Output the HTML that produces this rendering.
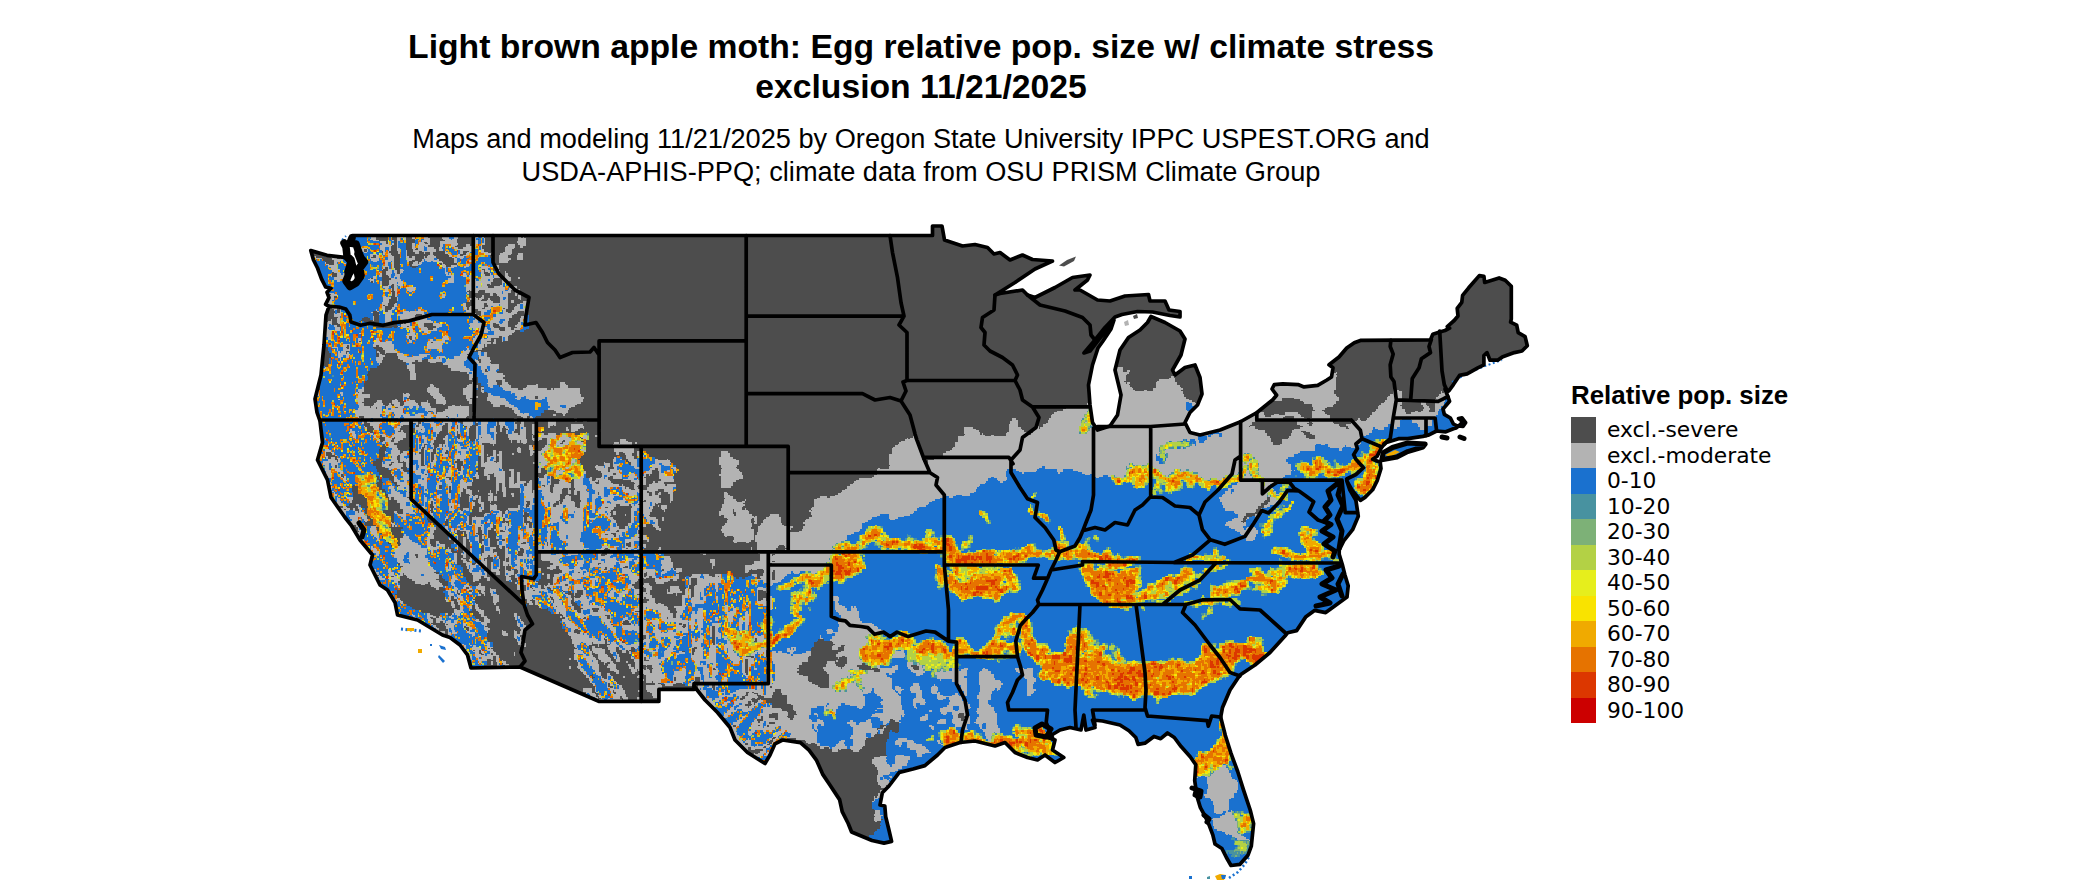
<!DOCTYPE html>
<html lang="en"><head><meta charset="utf-8"><title>Light brown apple moth: Egg relative pop. size</title>
<style>
html,body{margin:0;padding:0;background:#fff;}
body{width:2100px;height:892px;overflow:hidden;position:relative;font-family:"Liberation Sans",sans-serif;color:#000;}
.t{position:absolute;left:0;width:1842px;text-align:center;white-space:nowrap;}
.t1{font-weight:bold;font-size:33.7px;line-height:40px;top:26px;}
.t2{font-size:27.18px;line-height:33px;top:122px;}
.lg{position:absolute;left:1571px;top:381px;font-weight:bold;font-size:25.9px;line-height:28px;white-space:nowrap;}
.sw{position:absolute;left:1571px;width:25px;height:25.5px;}
.ll{position:absolute;left:1607px;font-family:"DejaVu Sans",sans-serif;font-size:21.8px;line-height:25.5px;white-space:nowrap;}
svg{position:absolute;left:0;top:0;}
</style></head><body>
<div class="t t1">Light brown apple moth: Egg relative pop. size w/ climate stress<br>exclusion 11/21/2025</div>
<div class="t t2">Maps and modeling 11/21/2025 by Oregon State University IPPC USPEST.ORG and<br>USDA-APHIS-PPQ; climate data from OSU PRISM Climate Group</div>
<div class="lg">Relative pop. size</div>

<div class="sw" style="top:417.0px;background:#4d4d4d"></div><div class="ll" style="top:417.0px">excl.-severe</div>
<div class="sw" style="top:442.5px;background:#b3b3b3"></div><div class="ll" style="top:442.5px">excl.-moderate</div>
<div class="sw" style="top:468.0px;background:#1a71cf"></div><div class="ll" style="top:468.0px">0-10</div>
<div class="sw" style="top:493.5px;background:#4892a0"></div><div class="ll" style="top:493.5px">10-20</div>
<div class="sw" style="top:519.0px;background:#7db177"></div><div class="ll" style="top:519.0px">20-30</div>
<div class="sw" style="top:544.5px;background:#b3d145"></div><div class="ll" style="top:544.5px">30-40</div>
<div class="sw" style="top:570.0px;background:#e6ee1c"></div><div class="ll" style="top:570.0px">40-50</div>
<div class="sw" style="top:595.5px;background:#f9e300"></div><div class="ll" style="top:595.5px">50-60</div>
<div class="sw" style="top:621.0px;background:#f0aa00"></div><div class="ll" style="top:621.0px">60-70</div>
<div class="sw" style="top:646.5px;background:#e67300"></div><div class="ll" style="top:646.5px">70-80</div>
<div class="sw" style="top:672.0px;background:#dc3700"></div><div class="ll" style="top:672.0px">80-90</div>
<div class="sw" style="top:697.5px;background:#cc0000"></div><div class="ll" style="top:697.5px">90-100</div>
<svg width="2100" height="892" viewBox="0 0 2100 892">
<defs><clipPath id="us"><path d="M352.5 235.5L932.5 235.5L932.5 226L942 226L944.5 240L962.5 246L975 244.5L987.5 247.5L994 254L1000 252.5L1010 260L1022.5 255L1032.5 259.5L1052.5 261L1035 269L1015 282.5L995 295L1000 293.5L1022.5 290L1027.5 295L1035 297.5L1055 287.5L1072.5 277.5L1090 275L1087.5 280L1075 290L1080 290L1097.5 300L1110 301L1125 296L1148.5 294.5L1150 301L1165 301L1169 310L1180 311.5L1180 317L1170 315.5L1152.5 312L1137.5 311.5L1122 314.5L1115 317L1105 327.5L1095 340L1084 353L1090 351L1100 338L1110 326L1114 320L1111 329L1103 341L1098 348L1092.5 365L1088.5 385L1090 405L1092.5 422.5L1097.5 430L1110 426L1117.5 415L1121 395L1115 370L1120 350L1128.5 337.5L1140 330L1147.5 322.5L1151 316.5L1165 322.5L1180 331L1185 339L1181 355L1172.5 370L1175 375L1185 367.5L1195 365L1200 377.5L1202 394L1197.5 405L1190 412.5L1185 422.5L1190 432.5L1200 435L1220 430L1240 422L1257 412.5L1272.8 399.8L1276.6 395.2L1272 389L1274.3 384.6L1282.7 383.8L1298 384.6L1304 386.9L1317.7 385.3L1326.9 380L1331.5 377L1333 367.8L1329 364.8L1339 357L1346.7 348L1354.3 342.7L1360.4 340.4L1430.5 339.8L1432.8 334.3L1439.7 332L1445 330.5L1449.6 328.2L1447.3 326.6L1454.2 320.5L1458 316L1457.2 308.4L1461.8 302.3L1462.6 295.4L1468.7 287.8L1479.3 275.6L1483.9 276.3L1484.7 282.4L1499.1 277.9L1505.2 280.2L1511.3 286.3L1511.3 319L1510.6 322.1L1516.7 325.1L1518.2 332.7L1525.1 336.6L1527.3 345.7L1522 351L1514.4 352.6L1502.2 357.1L1497.6 360.2L1490 360.2L1487 352.6L1483.9 355.6L1483.9 364.8L1477.8 367.8L1467.1 373.9L1459.5 375.4L1453.4 384.6L1448.8 391L1445 389L1448 396.8L1449.6 401.3L1443 409L1444.3 414.3L1450.4 418L1453.4 424L1456.5 425.7L1463 426.5L1465.6 422.7L1462 417.8L1458.5 418.5L1462 421L1461 424L1456 428L1453.4 428.8L1445.8 431.8L1436.6 431L1429 434.9L1422.9 436.4L1407.7 438.7L1398.5 438.7L1386.3 442.5L1381.8 447L1377.2 456.2L1372.6 459.3L1380.2 462.3L1381 468.4L1377.2 480.6L1372.6 489.8L1365 497.4L1360.4 500.4L1352.8 491.3L1346.7 480.6L1349.8 489.8L1355.9 500.4L1358.3 516.2L1352.6 529.7L1343.7 540.9L1339.2 549.9L1339.2 554.3L1342.6 565.6L1344.8 574.5L1348.2 585.7L1347 597L1334.7 605.9L1325.7 612.6L1314.5 610.4L1305.6 617.1L1296.6 630.6L1287.6 632.8L1285 636L1270 652.5L1255 665L1240 675L1230 690L1222.5 707.5L1220.7 717.2L1225.3 735.3L1231 753.4L1237.7 771.5L1243.4 789.6L1250.2 810L1253.6 823.6L1251.3 846.2L1247.9 855.3L1240 864.3L1231 865.5L1226.4 857.5L1221.9 848.5L1215 844L1212.8 834.9L1209.4 825.8L1206 817.9L1200.4 807.7L1197 796.4L1194.7 780.6L1195.8 764.7L1190.2 756.8L1181.1 746.6L1174.3 737.5L1167.5 733L1160.7 738.7L1154 736.4L1144.9 743.2L1138.1 744.3L1135.8 737.5L1129 730.8L1120 725L1102.5 721L1092.5 720L1095 727.5L1086 730L1083.8 715L1081 730L1070 727.5L1060 730L1047.5 737.5L1055 740L1052.5 750L1063.8 757.5L1055 762.5L1045 755L1037.5 760L1027.5 757.5L1015 752.5L1005 742.5L995 746L975 741L960 742.5L945 747.5L937.5 755L924.9 765.6L913 769L899.3 772.4L889 786L882.3 792.8L880 805L884.8 806L885.7 816.7L889 830.3L891.6 841.4L884 843.1L872 840.5L861.8 836.3L851.6 832L848.2 823.5L842.2 811.6L839.6 799.6L829.4 784.3L822.6 774.1L816.6 760.4L809 750.2L800.4 742.6L782.5 740L775 743.8L770 755L765 763.5L747.5 752.5L735 740L730 727.5L717.5 712.5L705 700L694 686L694 689.4L658.9 689.4L658.9 701.3L598.7 701.3L520 667L471 668L467.5 655L460 645L450 637.5L442.5 635L430 627.5L417.5 620L397.5 615L395 602.5L387.5 590L380 585L370 565L372.5 555L360 540L351 525L345 517.5L331 497.5L327.5 480L317.5 460L322.5 442.5L320 421L317 412.5L315 399L321 375L324 345L326 315L329 306.4L325.6 304.4L329 297.7L327 292.3L331 288.3L325.6 287L321.5 278.8L317.5 268L313.5 260L310.8 250.6L327 255.3L344.4 257.3L349 262L346 272L348 281L352 286L357 280L355 270L360 264L356 254L358 246L350 243Z"/></clipPath></defs>
<g clip-path="url(#us)">
<path d="M352.5 235.5L932.5 235.5L932.5 226L942 226L944.5 240L962.5 246L975 244.5L987.5 247.5L994 254L1000 252.5L1010 260L1022.5 255L1032.5 259.5L1052.5 261L1035 269L1015 282.5L995 295L1000 293.5L1022.5 290L1027.5 295L1035 297.5L1055 287.5L1072.5 277.5L1090 275L1087.5 280L1075 290L1080 290L1097.5 300L1110 301L1125 296L1148.5 294.5L1150 301L1165 301L1169 310L1180 311.5L1180 317L1170 315.5L1152.5 312L1137.5 311.5L1122 314.5L1115 317L1105 327.5L1095 340L1084 353L1090 351L1100 338L1110 326L1114 320L1111 329L1103 341L1098 348L1092.5 365L1088.5 385L1090 405L1092.5 422.5L1097.5 430L1110 426L1117.5 415L1121 395L1115 370L1120 350L1128.5 337.5L1140 330L1147.5 322.5L1151 316.5L1165 322.5L1180 331L1185 339L1181 355L1172.5 370L1175 375L1185 367.5L1195 365L1200 377.5L1202 394L1197.5 405L1190 412.5L1185 422.5L1190 432.5L1200 435L1220 430L1240 422L1257 412.5L1272.8 399.8L1276.6 395.2L1272 389L1274.3 384.6L1282.7 383.8L1298 384.6L1304 386.9L1317.7 385.3L1326.9 380L1331.5 377L1333 367.8L1329 364.8L1339 357L1346.7 348L1354.3 342.7L1360.4 340.4L1430.5 339.8L1432.8 334.3L1439.7 332L1445 330.5L1449.6 328.2L1447.3 326.6L1454.2 320.5L1458 316L1457.2 308.4L1461.8 302.3L1462.6 295.4L1468.7 287.8L1479.3 275.6L1483.9 276.3L1484.7 282.4L1499.1 277.9L1505.2 280.2L1511.3 286.3L1511.3 319L1510.6 322.1L1516.7 325.1L1518.2 332.7L1525.1 336.6L1527.3 345.7L1522 351L1514.4 352.6L1502.2 357.1L1497.6 360.2L1490 360.2L1487 352.6L1483.9 355.6L1483.9 364.8L1477.8 367.8L1467.1 373.9L1459.5 375.4L1453.4 384.6L1448.8 391L1445 389L1448 396.8L1449.6 401.3L1443 409L1444.3 414.3L1450.4 418L1453.4 424L1456.5 425.7L1463 426.5L1465.6 422.7L1462 417.8L1458.5 418.5L1462 421L1461 424L1456 428L1453.4 428.8L1445.8 431.8L1436.6 431L1429 434.9L1422.9 436.4L1407.7 438.7L1398.5 438.7L1386.3 442.5L1381.8 447L1377.2 456.2L1372.6 459.3L1380.2 462.3L1381 468.4L1377.2 480.6L1372.6 489.8L1365 497.4L1360.4 500.4L1352.8 491.3L1346.7 480.6L1349.8 489.8L1355.9 500.4L1358.3 516.2L1352.6 529.7L1343.7 540.9L1339.2 549.9L1339.2 554.3L1342.6 565.6L1344.8 574.5L1348.2 585.7L1347 597L1334.7 605.9L1325.7 612.6L1314.5 610.4L1305.6 617.1L1296.6 630.6L1287.6 632.8L1285 636L1270 652.5L1255 665L1240 675L1230 690L1222.5 707.5L1220.7 717.2L1225.3 735.3L1231 753.4L1237.7 771.5L1243.4 789.6L1250.2 810L1253.6 823.6L1251.3 846.2L1247.9 855.3L1240 864.3L1231 865.5L1226.4 857.5L1221.9 848.5L1215 844L1212.8 834.9L1209.4 825.8L1206 817.9L1200.4 807.7L1197 796.4L1194.7 780.6L1195.8 764.7L1190.2 756.8L1181.1 746.6L1174.3 737.5L1167.5 733L1160.7 738.7L1154 736.4L1144.9 743.2L1138.1 744.3L1135.8 737.5L1129 730.8L1120 725L1102.5 721L1092.5 720L1095 727.5L1086 730L1083.8 715L1081 730L1070 727.5L1060 730L1047.5 737.5L1055 740L1052.5 750L1063.8 757.5L1055 762.5L1045 755L1037.5 760L1027.5 757.5L1015 752.5L1005 742.5L995 746L975 741L960 742.5L945 747.5L937.5 755L924.9 765.6L913 769L899.3 772.4L889 786L882.3 792.8L880 805L884.8 806L885.7 816.7L889 830.3L891.6 841.4L884 843.1L872 840.5L861.8 836.3L851.6 832L848.2 823.5L842.2 811.6L839.6 799.6L829.4 784.3L822.6 774.1L816.6 760.4L809 750.2L800.4 742.6L782.5 740L775 743.8L770 755L765 763.5L747.5 752.5L735 740L730 727.5L717.5 712.5L705 700L694 686L694 689.4L658.9 689.4L658.9 701.3L598.7 701.3L520 667L471 668L467.5 655L460 645L450 637.5L442.5 635L430 627.5L417.5 620L397.5 615L395 602.5L387.5 590L380 585L370 565L372.5 555L360 540L351 525L345 517.5L331 497.5L327.5 480L317.5 460L322.5 442.5L320 421L317 412.5L315 399L321 375L324 345L326 315L329 306.4L325.6 304.4L329 297.7L327 292.3L331 288.3L325.6 287L321.5 278.8L317.5 268L313.5 260L310.8 250.6L327 255.3L344.4 257.3L349 262L346 272L348 281L352 286L357 280L355 270L360 264L356 254L358 246L350 243Z" fill="#4d4d4d"/>
<g fill="none" stroke-width="1.8" shape-rendering="crispEdges"><path stroke="#b3b3b3" d="M372.5 236.25h3m10.5 0h1.5m10.5 0h4.5m1.5 0h1.5m4.5 0h6m7.5 0h6m12 0h7.5m4.5 0h3m15 0h6m3 0h3m18 0h3M371 237.75h4.5m21 0h6m1.5 0h1.5m6 0h3m9 0h4.5m13.5 0h7.5m4.5 0h4.5m15 0h4.5m4.5 0h1.5m34.5 0h3m1.5 0h1.5M369.5 239.25h6m21 0h3m4.5 0h1.5m18 0h6m13.5 0h7.5m1.5 0h4.5m18 0h1.5m7.5 0h1.5m33 0h7.5M372.5 240.75h6m13.5 0h1.5m3 0h3m22.5 0h7.5m15 0h12m18 0h3m6 0h1.5m33 0h7.5M380 242.25h6m1.5 0h1.5m7.5 0h1.5m21 0h4.5m3 0h3m10.5 0h16.5m18 0h3m6 0h1.5m31.5 0h9M381.5 243.75h4.5m1.5 0h1.5m3 0h1.5m3 0h1.5m13.5 0h3m4.5 0h6m3 0h1.5m10.5 0h18m16.5 0h3m4.5 0h3m33 0h7.5M380 245.25h12m4.5 0h1.5m13.5 0h3m3 0h10.5m12 0h3m7.5 0h6m9 0h4.5m4.5 0h1.5m4.5 0h1.5m25.5 0h7.5m4.5 0h6M380 246.75h10.5m6 0h1.5m13.5 0h3m3 0h6m1.5 0h3m12 0h3m7.5 0h4.5m10.5 0h6m1.5 0h3m4.5 0h1.5m24 0h9m4.5 0h3M362 248.25h4.5m13.5 0h4.5m4.5 0h1.5m6 0h3m12 0h4.5m1.5 0h6m3 0h7.5m4.5 0h3m12 0h4.5m4.5 0h12m6 0h1.5m22.5 0h9M362 249.75h1.5m3 0h1.5m12 0h4.5m4.5 0h1.5m6 0h3m13.5 0h1.5m3 0h6m3 0h9m3 0h4.5m13.5 0h18m6 0h3m21 0h7.5M312.5 251.25h1.5m48 0h1.5m3 0h1.5m15 0h1.5m3 0h1.5m9 0h1.5m6 0h1.5m6 0h6m3 0h13.5m9 0h1.5m13.5 0h3m6 0h3m9 0h3m21 0h7.5M363.5 252.75h3m16.5 0h1.5m3 0h1.5m9 0h1.5m6 0h1.5m7.5 0h4.5m4.5 0h1.5m4.5 0h3m12 0h3m12 0h3m4.5 0h3m10.5 0h7.5m3 0h1.5m10.5 0h9M311 254.25h1.5m57 0h7.5m6 0h1.5m3 0h3m15 0h1.5m22.5 0h3m15 0h3m7.5 0h1.5m6 0h3m16.5 0h6m9 0h10.5m7.5 0h4.5M312.5 255.75h1.5m55.5 0h3m3 0h3m9 0h4.5m13.5 0h1.5m21 0h6m15 0h3m4.5 0h3m3 0h4.5m31.5 0h9m9 0h6M314 257.25h1.5m15 0h12m27 0h1.5m4.5 0h3m9 0h6m12 0h3m3 0h3m9 0h1.5m1.5 0h9m16.5 0h3m1.5 0h7.5m9 0h1.5m16.5 0h1.5m6 0h9m9 0h6M315.5 258.75h6m10.5 0h4.5m3 0h3m27 0h9m9 0h6m13.5 0h7.5m9 0h10.5m19.5 0h3m3 0h3m9 0h3m24 0h12m6 0h6M333.5 260.25h9m28.5 0h7.5m6 0h9m13.5 0h4.5m10.5 0h1.5m1.5 0h13.5m15 0h3m12 0h6m18 0h1.5m4.5 0h10.5M333.5 261.75h6m33 0h4.5m7.5 0h6m1.5 0h1.5m13.5 0h1.5m6 0h3m3 0h3m3 0h4.5m1.5 0h9m12 0h3m12 0h4.5m19.5 0h1.5m4.5 0h9M324.5 263.25h1.5m7.5 0h3m7.5 0h1.5m39 0h3m4.5 0h1.5m19.5 0h4.5m1.5 0h3m19.5 0h1.5m13.5 0h1.5M326 264.75h3m4.5 0h3m48 0h3m4.5 0h1.5m6 0h1.5m10.5 0h9m18 0h1.5m1.5 0h3m12 0h1.5m7.5 0h3M327.5 266.25h9m46.5 0h6m3 0h1.5m48 0h4.5m4.5 0h6m7.5 0h4.5m12 0h7.5m6 0h4.5M330.5 267.75h6m9 0h1.5m36 0h1.5m3 0h1.5m3 0h1.5m49.5 0h3m1.5 0h6m10.5 0h1.5m15 0h9m4.5 0h4.5M330.5 269.25h9m6 0h3m33 0h1.5m4.5 0h4.5m1.5 0h1.5m4.5 0h3m42 0h1.5m34.5 0h1.5m3 0h3M332 270.75h6m7.5 0h1.5m40.5 0h4.5m1.5 0h3m3 0h4.5m40.5 0h1.5m34.5 0h3m1.5 0h4.5m7.5 0h3M333.5 272.25h6m4.5 0h1.5m12 0h4.5m16.5 0h1.5m6 0h6m1.5 0h3m3 0h3m42 0h3m33 0h3m4.5 0h1.5m9 0h1.5m4.5 0h1.5M336.5 273.75h4.5m1.5 0h3m12 0h4.5m18 0h1.5m4.5 0h6m3 0h1.5m3 0h1.5m43.5 0h3m1.5 0h1.5m12 0h3m15 0h3m6 0h1.5m13.5 0h3M330.5 275.25h1.5m4.5 0h10.5m10.5 0h4.5m16.5 0h3m6 0h3m4.5 0h4.5m46.5 0h7.5m9 0h4.5m1.5 0h4.5m9 0h3m4.5 0h3m1.5 0h6m4.5 0h3M330.5 276.75h1.5m4.5 0h10.5m12 0h1.5m12 0h3m3 0h3m7.5 0h1.5m3 0h6m51 0h3m9 0h4.5m1.5 0h4.5m9 0h10.5m1.5 0h6m4.5 0h4.5M333.5 278.25h12m1.5 0h1.5m21 0h1.5m1.5 0h3m15 0h4.5m1.5 0h3m48 0h6m15 0h6m6 0h13.5m10.5 0h6m7.5 0h1.5M333.5 279.75h6m4.5 0h1.5m22.5 0h6m16.5 0h10.5m46.5 0h6m16.5 0h6m4.5 0h7.5m1.5 0h3m9 0h1.5m1.5 0h6M336.5 281.25h3m30 0h1.5m1.5 0h1.5m6 0h1.5m7.5 0h13.5m45 0h6m16.5 0h22.5m9 0h3m1.5 0h3M347 282.75h1.5m24 0h1.5m6 0h1.5m7.5 0h7.5m1.5 0h4.5m45 0h6m15 0h4.5m1.5 0h16.5m10.5 0h3M380 284.25h1.5m7.5 0h3m1.5 0h9m63 0h15m1.5 0h4.5m3 0h1.5m10.5 0h1.5M387.5 285.75h3m3 0h3m1.5 0h4.5m63 0h15m1.5 0h4.5m13.5 0h3M383 287.25h6m4.5 0h3m3 0h1.5m6 0h9m49.5 0h10.5m1.5 0h10.5m6 0h10.5m6 0h6M384.5 288.75h3m3 0h1.5m1.5 0h3m3 0h1.5m6 0h7.5m51 0h39m4.5 0h7.5M384.5 290.25h3m3 0h1.5m1.5 0h3m10.5 0h7.5m51 0h3m1.5 0h9m6 0h19.5m3 0h3m6 0h3M327.5 291.75h1.5m55.5 0h4.5m6 0h1.5m12 0h3m54 0h1.5m7.5 0h3m7.5 0h16.5m1.5 0h7.5m6 0h3M327.5 293.25h6m57 0h1.5m3 0h1.5m70.5 0h1.5m21 0h3m3 0h6m1.5 0h4.5m7.5 0h6M330.5 294.75h6m54 0h1.5m3 0h1.5m45 0h3m45 0h3m4.5 0h10.5m7.5 0h1.5m3 0h1.5M329 296.25h4.5m49.5 0h3m9 0h1.5m45 0h3m37.5 0h1.5m15 0h9m10.5 0h3M329 297.75h4.5m49.5 0h7.5m6 0h1.5m43.5 0h3m30 0h1.5m4.5 0h3m16.5 0h3m3 0h1.5m10.5 0h3M329 299.25h4.5m49.5 0h6m7.5 0h1.5m72 0h1.5m1.5 0h4.5m1.5 0h3m6 0h1.5m10.5 0h3m1.5 0h3m12 0h1.5M329 300.75h3m51 0h6m7.5 0h1.5m70.5 0h1.5m1.5 0h9m6 0h4.5m9 0h7.5m3 0h3M326 302.25h6m49.5 0h7.5m84 0h19.5m7.5 0h7.5m3 0h3m9 0h6M327.5 303.75h4.5m49.5 0h6m7.5 0h1.5m66 0h3m7.5 0h10.5m3 0h21m12 0h9M330.5 305.25h3m48 0h1.5m1.5 0h3m6 0h3m66 0h3m9 0h9m4.5 0h10.5m1.5 0h7.5m9 0h3m3 0h6M330.5 306.75h3m3 0h1.5m43.5 0h3m9 0h3m66 0h3m4.5 0h1.5m3 0h9m4.5 0h3m1.5 0h3m6 0h6m7.5 0h4.5m3 0h1.5M332 308.25h4.5m45 0h3m7.5 0h3m69 0h3m1.5 0h3m3 0h7.5m3 0h6m10.5 0h1.5m1.5 0h3m6 0h6m3 0h3M333.5 309.75h3m3 0h1.5m34.5 0h1.5m4.5 0h3m6 0h3m24 0h3m43.5 0h3m1.5 0h3m6 0h12m12 0h4.5m7.5 0h12M339.5 311.25h1.5m36 0h1.5m4.5 0h1.5m3 0h4.5m10.5 0h6m1.5 0h13.5m42 0h9m6 0h6m16.5 0h3m6 0h6m6 0h1.5M339.5 312.75h1.5m30 0h1.5m12 0h7.5m10.5 0h21m42 0h9m6 0h3m19.5 0h4.5m3 0h6m7.5 0h1.5M333.5 314.25h7.5m37.5 0h1.5m4.5 0h7.5m6 0h18m6 0h3m46.5 0h4.5m4.5 0h3m12 0h18m10.5 0h1.5M333.5 315.75h7.5m43.5 0h6m7.5 0h16.5m7.5 0h3m46.5 0h7.5m1.5 0h1.5m13.5 0h16.5m12 0h1.5M338 317.25h1.5m33 0h1.5m10.5 0h6m9 0h15m6 0h6m46.5 0h6m13.5 0h19.5m9 0h4.5M336.5 318.75h3m33 0h1.5m10.5 0h6m9 0h12m1.5 0h3m3 0h7.5m48 0h4.5m13.5 0h16.5m10.5 0h4.5M330.5 320.25h1.5m4.5 0h3m33 0h1.5m10.5 0h6m10.5 0h9m4.5 0h16.5m42 0h4.5m13.5 0h9m4.5 0h4.5m10.5 0h3M327.5 321.75h4.5m4.5 0h3m45 0h6m12 0h1.5m1.5 0h3m6 0h18m40.5 0h4.5m12 0h9m4.5 0h4.5m12 0h3M326 323.25h6m6 0h1.5m39 0h1.5m22.5 0h1.5m1.5 0h4.5m7.5 0h6m9 0h6m31.5 0h13.5m6 0h3m3 0h4.5m1.5 0h6m10.5 0h3M326 324.75h3m1.5 0h1.5m69 0h9m7.5 0h6m9 0h9m27 0h15m6 0h3m6 0h9m9 0h4.5M326 326.25h3m4.5 0h3m61.5 0h1.5m1.5 0h6m1.5 0h3m7.5 0h4.5m12 0h6m28.5 0h13.5m6 0h3m7.5 0h7.5m7.5 0h6M326 327.75h1.5m7.5 0h4.5m63 0h9m7.5 0h7.5m9 0h3m31.5 0h16.5m3 0h4.5m10.5 0h6m6 0h4.5M326 329.25h3m6 0h4.5m69 0h4.5m7.5 0h7.5m4.5 0h4.5m36 0h3m3 0h9m3 0h7.5m6 0h6m3 0h6M326 330.75h6m3 0h4.5m70.5 0h3m7.5 0h16.5m42 0h10.5m1.5 0h9m4.5 0h10.5M326 332.25h4.5m79.5 0h4.5m9 0h4.5m55.5 0h4.5m6 0h19.5M326 333.75h4.5m28.5 0h1.5m48 0h6m12 0h3m49.5 0h1.5m13.5 0h18M326 335.25h4.5m75 0h10.5m28.5 0h1.5m30 0h3m7.5 0h22.5M326 336.75h4.5m76.5 0h1.5m3 0h4.5m27 0h4.5m27 0h3m10.5 0h10.5m3 0h6M327.5 338.25h3m27 0h3m15 0h3m28.5 0h1.5m3 0h3m27 0h7.5m24 0h4.5m4.5 0h1.5m3 0h4.5m10.5 0h1.5m1.5 0h3M327.5 339.75h3m27 0h3m15 0h3m30 0h1.5m1.5 0h3m15 0h3m9 0h7.5m24 0h4.5m3 0h10.5m3 0h1.5m6 0h1.5m1.5 0h3M357.5 341.25h1.5m16.5 0h4.5m6 0h6m16.5 0h3m16.5 0h16.5m28.5 0h4.5m3 0h6m7.5 0h1.5m6 0h1.5M357.5 342.75h3m13.5 0h18m16.5 0h3m16.5 0h3m1.5 0h12m28.5 0h6m1.5 0h10.5m1.5 0h3M342.5 344.25h7.5m22.5 0h21m34.5 0h13.5m33 0h9m1.5 0h1.5M342.5 345.75h4.5m1.5 0h1.5m22.5 0h3m3 0h15m33 0h15m36 0h6m1.5 0h1.5M332 347.25h6m4.5 0h3m3 0h1.5m31.5 0h12m33 0h15m24 0h1.5m10.5 0h6M336.5 348.75h1.5m4.5 0h4.5m1.5 0h1.5m33 0h10.5m33 0h15m25.5 0h1.5m9 0h4.5M336.5 350.25h1.5m4.5 0h7.5m34.5 0h10.5m31.5 0h1.5m10.5 0h3m21 0h1.5m1.5 0h10.5M338 351.75h1.5m1.5 0h4.5m31.5 0h1.5m6 0h12m43.5 0h1.5m21 0h9m6 0h3M338 353.25h7.5m1.5 0h1.5m30 0h1.5m4.5 0h1.5m10.5 0h6m58.5 0h7.5m9 0h3m3 0h3M338 354.75h10.5m30 0h3m15 0h7.5m15 0h10.5m30 0h7.5m1.5 0h1.5m7.5 0h3m3 0h3M338 356.25h4.5m3 0h3m30 0h6m13.5 0h9m6 0h13.5m10.5 0h7.5m9 0h15m10.5 0h7.5M338 357.75h3m4.5 0h3m27 0h7.5m15 0h25.5m12 0h3m1.5 0h4.5m9 0h15m10.5 0h10.5M339.5 359.25h1.5m34.5 0h7.5m16.5 0h22.5m6 0h13.5m4.5 0h1.5m1.5 0h18m7.5 0h1.5m4.5 0h9M339.5 360.75h1.5m34.5 0h6m21 0h12m3 0h4.5m6 0h13.5m4.5 0h19.5m9 0h3m3 0h10.5M377 362.25h4.5m24 0h6m18 0h6m9 0h19.5m10.5 0h4.5m1.5 0h9M378.5 363.75h1.5m28.5 0h3m31.5 0h21m10.5 0h16.5M407 365.25h7.5m33 0h16.5m13.5 0h21M407 366.75h7.5m33 0h18m15 0h6m3 0h9M323 368.25h3m81 0h7.5m36 0h18m12 0h6m3 0h9m618 0h6M408.5 369.75h6m36 0h19.5m10.5 0h4.5m1.5 0h1.5m1.5 0h7.5m618 0h7.5M410 371.25h4.5m45 0h13.5m9 0h3m3 0h7.5m619.5 0h7.5m4.5 0h3M410 372.75h4.5m52.5 0h1.5m3 0h3m7.5 0h15m618 0h13.5m207 0h1.5M410 374.25h6m52.5 0h7.5m7.5 0h19.5m613.5 0h10.5m205.5 0h3M410 375.75h6m52.5 0h7.5m10.5 0h18m612 0h9m48 0h1.5m156 0h6M410 377.25h6m52.5 0h6m12 0h16.5m613.5 0h9m45 0h3m157.5 0h4.5M410 378.75h6m52.5 0h3m15 0h16.5m613.5 0h9m43.5 0h6m154.5 0h6M488 380.25h7.5m6 0h3m612 0h9m33 0h16.5m151.5 0h9M488 381.75h7.5m6 0h3m613.5 0h6m33 0h18m148.5 0h12M471.5 383.25h3m12 0h10.5m4.5 0h6m52.5 0h4.5m553.5 0h7.5m1.5 0h3m25.5 0h21m105 0h1.5m37.5 0h15M429.5 384.75h3m36 0h6m13.5 0h9m4.5 0h7.5m27 0h1.5m22.5 0h6m552 0h10.5m27 0h21m97.5 0h25.5m19.5 0h16.5M429.5 386.25h4.5m33 0h10.5m10.5 0h4.5m7.5 0h10.5m16.5 0h10.5m22.5 0h7.5m552 0h10.5m25.5 0h24m93 0h63M362 387.75h1.5m64.5 0h7.5m30 0h12m3 0h3m6 0h3m9 0h9m15 0h12m22.5 0h7.5m552 0h12m24 0h25.5m91.5 0h63M357.5 389.25h6m63 0h12m24 0h13.5m4.5 0h1.5m21 0h15m4.5 0h24m4.5 0h1.5m1.5 0h25.5m540 0h13.5m19.5 0h30m90 0h63m57 0h1.5M357.5 390.75h6m63 0h12m24 0h12m6 0h3m21 0h75m540 0h15m9 0h3m6 0h28.5m91.5 0h61.5m58.5 0h6m49.5 0h1.5M317 392.25h1.5m21 0h3m13.5 0h1.5m1.5 0h3m66 0h10.5m24 0h12m7.5 0h1.5m27 0h69m540 0h63m91.5 0h60m58.5 0h9m39 0h1.5m1.5 0h3M317 393.75h1.5m21 0h3m13.5 0h6m40.5 0h1.5m1.5 0h3m21 0h10.5m22.5 0h12m13.5 0h3m19.5 0h1.5m3 0h64.5m541.5 0h61.5m93 0h58.5m58.5 0h9m39 0h7.5M317 395.25h1.5m22.5 0h1.5m15 0h12m33 0h7.5m21 0h10.5m24 0h10.5m12 0h4.5m22.5 0h66m540 0h63m91.5 0h60m54 0h12m37.5 0h10.5M357.5 396.75h12m33 0h6m24 0h10.5m22.5 0h12m10.5 0h12m16.5 0h7.5m1.5 0h9m3 0h43.5m540 0h63m91.5 0h61.5m51 0h13.5m36 0h9M356 398.25h7.5m39 0h1.5m30 0h10.5m21 0h4.5m16.5 0h18m10.5 0h6m4.5 0h9m3 0h7.5m1.5 0h37.5m535.5 0h66m87 0h9m12 0h45m48 0h15m34.5 0h9M338 399.75h1.5m16.5 0h7.5m31.5 0h1.5m6 0h1.5m1.5 0h1.5m1.5 0h1.5m25.5 0h9m22.5 0h4.5m15 0h19.5m10.5 0h3m9 0h13.5m4.5 0h36m537 0h69m84 0h9m18 0h39m48 0h15m33 0h10.5M357.5 401.25h6m13.5 0h4.5m10.5 0h6m7.5 0h9m12 0h1.5m7.5 0h10.5m22.5 0h3m18 0h18m39 0h36m537 0h72m6 0h3m102 0h33m49.5 0h16.5m21 0h3m9 0h10.5M357.5 402.75h4.5m13.5 0h6m10.5 0h7.5m4.5 0h12m4.5 0h7.5m7.5 0h10.5m22.5 0h3m19.5 0h18m39 0h33m538.5 0h66m3 0h6m3 0h1.5m105 0h31.5m48 0h18m19.5 0h4.5m9 0h9M357.5 404.25h6m10.5 0h9m6 0h1.5m3 0h6m4.5 0h13.5m3 0h9m13.5 0h1.5m48 0h18m37.5 0h28.5m510 0h4.5m28.5 0h66m6 0h6m114 0h22.5m46.5 0h21m19.5 0h4.5m9 0h9M359 405.75h4.5m9 0h12m3 0h4.5m1.5 0h6m3 0h16.5m1.5 0h9m22.5 0h3m4.5 0h1.5m31.5 0h7.5m4.5 0h9m34.5 0h12m6 0h9m511.5 0h4.5m28.5 0h66m6 0h6m114 0h21m46.5 0h21m22.5 0h4.5m7.5 0h9M359 407.25h10.5m1.5 0h4.5m1.5 0h4.5m4.5 0h6m6 0h6m4.5 0h4.5m3 0h3m3 0h9m16.5 0h21m40.5 0h7.5m33 0h12m4.5 0h4.5m510 0h10.5m28.5 0h66m127.5 0h13.5m51 0h24m22.5 0h4.5m6 0h6M357.5 408.75h18m1.5 0h4.5m4.5 0h1.5m3 0h12m7.5 0h1.5m13.5 0h10.5m12 0h21m43.5 0h6m30 0h21m496.5 0h25.5m27 0h67.5m127.5 0h12m52.5 0h24m22.5 0h6m4.5 0h6M354.5 410.25h27m3 0h18m22.5 0h10.5m9 0h24m45 0h6m34.5 0h13.5m495 0h25.5m3 0h1.5m25.5 0h69m4.5 0h1.5m66 0h1.5m54 0h7.5m54 0h28.5m18 0h6m6 0h4.5M354.5 411.75h27m3 0h18m24 0h1.5m4.5 0h3m7.5 0h25.5m45 0h6m36 0h12m489 0h30m31.5 0h73.5m66 0h3m51 0h12m51 0h30m10.5 0h3m3 0h7.5m6 0h3M354.5 413.25h27m4.5 0h3m4.5 0h10.5m13.5 0h6m4.5 0h3m3 0h1.5m1.5 0h31.5m3 0h4.5m39 0h7.5m1.5 0h4.5m33 0h4.5m487.5 0h33m30 0h73.5m64.5 0h9m21 0h13.5m13.5 0h13.5m46.5 0h34.5m4.5 0h27M356 414.75h24m4.5 0h3m7.5 0h15m4.5 0h9m3 0h6m1.5 0h22.5m1.5 0h10.5m3 0h1.5m1.5 0h1.5m40.5 0h12m24 0h3m7.5 0h1.5m487.5 0h31.5m33 0h73.5m64.5 0h9m10.5 0h4.5m6 0h15m12 0h15m45 0h66M356 416.25h3m4.5 0h16.5m3 0h3m7.5 0h7.5m1.5 0h18m3 0h9m3 0h10.5m1.5 0h9m1.5 0h9m54 0h6m3 0h1.5m519 0h33m33 0h72m61.5 0h15m6 0h13.5m9 0h7.5m10.5 0h18m40.5 0h66M357.5 417.75h1.5m4.5 0h18m12 0h6m4.5 0h16.5m4.5 0h6m4.5 0h12m1.5 0h16.5m57 0h4.5m3 0h3m517.5 0h34.5m31.5 0h72m60 0h34.5m10.5 0h10.5m7.5 0h18m39 0h66M359 419.25h1.5m4.5 0h6m1.5 0h12m13.5 0h1.5m4.5 0h16.5m6 0h3m6 0h15m4.5 0h9m4.5 0h6m39 0h3m12 0h4.5m40.5 0h3m435 0h4.5m33 0h33m31.5 0h73.5m58.5 0h9m42 0h10.5m3 0h19.5m28.5 0h1.5m7.5 0h34.5m9 0h19.5M366.5 420.75h3m3 0h13.5m16.5 0h15m12 0h4.5m1.5 0h15m6 0h3m7.5 0h7.5m9 0h1.5m18 0h1.5m9 0h3m58.5 0h1.5m6 0h4.5m424.5 0h6m30 0h33m33 0h73.5m55.5 0h12m42 0h12m1.5 0h19.5m27 0h4.5m4.5 0h34.5m12 0h19.5M362 422.25h1.5m3 0h15m15 0h1.5m3 0h7.5m4.5 0h4.5m3 0h1.5m1.5 0h10.5m9 0h9m4.5 0h1.5m4.5 0h10.5m3 0h1.5m3 0h7.5m7.5 0h1.5m1.5 0h6m9 0h1.5m6 0h3m24 0h7.5m454.5 0h7.5m30 0h33m4.5 0h1.5m27 0h72m54 0h12m45 0h12m3 0h21m19.5 0h48m12 0h19.5M362 423.75h1.5m6 0h10.5m19.5 0h9m7.5 0h1.5m3 0h1.5m7.5 0h6m6 0h3m3 0h4.5m4.5 0h3m3 0h10.5m7.5 0h7.5m7.5 0h1.5m1.5 0h6m9 0h1.5m6 0h3m24 0h7.5m454.5 0h7.5m28.5 0h34.5m31.5 0h73.5m52.5 0h13.5m45 0h10.5m6 0h21m16.5 0h40.5m1.5 0h7.5m16.5 0h15M356 425.25h1.5m12 0h9m12 0h3m6 0h3m12 0h1.5m3 0h3m9 0h4.5m3 0h4.5m4.5 0h4.5m3 0h1.5m1.5 0h1.5m4.5 0h7.5m6 0h9m9 0h1.5m3 0h6m7.5 0h3m3 0h4.5m7.5 0h3m13.5 0h4.5m1.5 0h1.5m15 0h12m426 0h9m18 0h1.5m6 0h37.5m10.5 0h4.5m15 0h76.5m46.5 0h16.5m49.5 0h9m3 0h27m7.5 0h42m6 0h6m18 0h13.5M363.5 426.75h1.5m7.5 0h6m13.5 0h1.5m3 0h4.5m13.5 0h1.5m3 0h4.5m7.5 0h4.5m1.5 0h4.5m6 0h3m4.5 0h1.5m1.5 0h1.5m7.5 0h3m6 0h1.5m3 0h6m7.5 0h1.5m4.5 0h3m1.5 0h3m6 0h3m3 0h4.5m7.5 0h3m13.5 0h1.5m21 0h13.5m424.5 0h9m19.5 0h1.5m4.5 0h36m13.5 0h3m15 0h78m42 0h18m1.5 0h4.5m48 0h37.5m7.5 0h40.5m6 0h6m18 0h9M365 428.25h1.5m7.5 0h4.5m16.5 0h4.5m15 0h10.5m7.5 0h9m6 0h3m4.5 0h1.5m1.5 0h1.5m7.5 0h1.5m7.5 0h1.5m3 0h6m3 0h6m4.5 0h1.5m4.5 0h3m4.5 0h3m3 0h1.5m1.5 0h3m6 0h3m31.5 0h1.5m3 0h9m3 0h1.5m379.5 0h9m36 0h12m15 0h3m1.5 0h39m10.5 0h7.5m7.5 0h84m36 0h30m45 0h46.5m3 0h24m1.5 0h9m10.5 0h3m22.5 0h6M350 429.75h1.5m22.5 0h4.5m15 0h6m15 0h6m1.5 0h3m7.5 0h9m6 0h3m4.5 0h4.5m6 0h3m7.5 0h1.5m3 0h6m3 0h6m4.5 0h1.5m6 0h1.5m4.5 0h1.5m4.5 0h6m6 0h3m1.5 0h1.5m28.5 0h3m1.5 0h7.5m21 0h1.5m363 0h12m33 0h13.5m13.5 0h43.5m10.5 0h7.5m3 0h88.5m34.5 0h34.5m36 0h79.5m4.5 0h6m36 0h6M350 431.25h4.5m3 0h1.5m19.5 0h1.5m15 0h3m3 0h1.5m15 0h7.5m7.5 0h7.5m7.5 0h1.5m6 0h1.5m1.5 0h1.5m6 0h3m7.5 0h1.5m3 0h6m3 0h6m4.5 0h1.5m4.5 0h1.5m4.5 0h1.5m6 0h6m6 0h3m6 0h1.5m28.5 0h4.5m22.5 0h3m363 0h15m30 0h15m9 0h46.5m9 0h102m28.5 0h46.5m27 0h9m4.5 0h66M350 432.75h4.5m13.5 0h1.5m25.5 0h9m13.5 0h1.5m1.5 0h3m12 0h3m9 0h1.5m6 0h1.5m1.5 0h1.5m7.5 0h1.5m7.5 0h1.5m3 0h6m7.5 0h3m9 0h1.5m4.5 0h1.5m6 0h6m6 0h3m429 0h16.5m27 0h19.5m6 0h46.5m7.5 0h105m27 0h46.5m27 0h10.5m7.5 0h61.5M351.5 434.25h4.5m13.5 0h3m7.5 0h4.5m9 0h12m30 0h1.5m18 0h1.5m10.5 0h1.5m7.5 0h1.5m3 0h9m4.5 0h1.5m12 0h10.5m1.5 0h6m7.5 0h1.5m7.5 0h1.5m4.5 0h7.5m360 0h1.5m48 0h15m1.5 0h1.5m22.5 0h21m4.5 0h166.5m6 0h6m3 0h6m3 0h45m24 0h13.5m7.5 0h57M351.5 435.75h4.5m16.5 0h3m6 0h4.5m6 0h13.5m16.5 0h3m10.5 0h1.5m9 0h1.5m7.5 0h1.5m10.5 0h1.5m7.5 0h1.5m1.5 0h12m3 0h1.5m12 0h18m6 0h1.5m7.5 0h15m6 0h4.5m16.5 0h4.5m7.5 0h3m316.5 0h3m46.5 0h21m6 0h3m12 0h193.5m4.5 0h4.5m3 0h7.5m3 0h45m24 0h15m9 0h51M353 437.25h3m18 0h1.5m9 0h3m3 0h3m1.5 0h10.5m12 0h1.5m3 0h4.5m6 0h3m9 0h3m12 0h1.5m15 0h1.5m1.5 0h1.5m1.5 0h9m3 0h1.5m12 0h18m6 0h1.5m4.5 0h18m4.5 0h9m12 0h6m325.5 0h4.5m40.5 0h240m9 0h63m19.5 0h16.5m9 0h48M354.5 438.75h1.5m19.5 0h1.5m7.5 0h7.5m3 0h7.5m15 0h1.5m3 0h4.5m6 0h3m7.5 0h4.5m9 0h1.5m1.5 0h1.5m1.5 0h1.5m12 0h1.5m1.5 0h13.5m1.5 0h1.5m13.5 0h16.5m6 0h3m3 0h4.5m4.5 0h3m3 0h3m4.5 0h10.5m12 0h4.5m319.5 0h1.5m1.5 0h7.5m40.5 0h240m9 0h64.5m16.5 0h21m6 0h48M377 440.25h3m4.5 0h6m3 0h6m18 0h1.5m4.5 0h3m4.5 0h3m10.5 0h3m9 0h6m12 0h1.5m1.5 0h18m15 0h1.5m4.5 0h3m1.5 0h6m6 0h1.5m3 0h1.5m7.5 0h3m9 0h4.5m1.5 0h6m49.5 0h6m279 0h13.5m39 0h225m4.5 0h3m4.5 0h4.5m6 0h66m10.5 0h81M378.5 441.75h1.5m3 0h7.5m3 0h4.5m19.5 0h1.5m4.5 0h3m4.5 0h3m10.5 0h3m10.5 0h4.5m12 0h1.5m3 0h16.5m15 0h1.5m4.5 0h3m1.5 0h6m9 0h1.5m9 0h3m7.5 0h4.5m3 0h4.5m7.5 0h4.5m39 0h7.5m273 0h18m39 0h211.5m3 0h4.5m19.5 0h3m4.5 0h67.5m10.5 0h79.5M381.5 443.25h3m4.5 0h4.5m24 0h1.5m3 0h6m1.5 0h3m12 0h3m9 0h1.5m10.5 0h1.5m4.5 0h1.5m3 0h3m7.5 0h6m27 0h3m9 0h3m9 0h3m6 0h4.5m3 0h6m7.5 0h6m31.5 0h4.5m1.5 0h12m3 0h1.5m262.5 0h19.5m36 0h211.5m30 0h76.5m9 0h79.5M389 444.75h4.5m24 0h1.5m3 0h1.5m6 0h3m6 0h3m1.5 0h4.5m9 0h3m9 0h1.5m4.5 0h1.5m3 0h3m10.5 0h1.5m40.5 0h3m9 0h1.5m7.5 0h12m12 0h3m30 0h19.5m265.5 0h21m36 0h210m27 0h3m1.5 0h76.5m7.5 0h36m4.5 0h4.5m3 0h31.5M387.5 446.25h9m21 0h1.5m1.5 0h3m1.5 0h1.5m4.5 0h3m4.5 0h3m1.5 0h1.5m1.5 0h1.5m9 0h6m6 0h1.5m10.5 0h3m45 0h3m4.5 0h1.5m7.5 0h3m7.5 0h1.5m1.5 0h4.5m51 0h18m262.5 0h24m36 0h205.5m30 0h124.5m13.5 0h16.5m1.5 0h12M389 447.75h7.5m21 0h1.5m1.5 0h1.5m3 0h1.5m6 0h1.5m3 0h12m7.5 0h4.5m6 0h3m10.5 0h3m34.5 0h1.5m9 0h4.5m3 0h1.5m6 0h6m33 0h1.5m30 0h19.5m259.5 0h25.5m34.5 0h205.5m22.5 0h1.5m3 0h129m15 0h13.5m7.5 0h6M324.5 449.25h4.5m63 0h6m19.5 0h3m3 0h3m3 0h3m3 0h1.5m6 0h6m7.5 0h12m12 0h3m33 0h4.5m7.5 0h4.5m3 0h1.5m4.5 0h6m33 0h3m30 0h19.5m258 0h27m33 0h207m7.5 0h148.5m24 0h3M324.5 450.75h6m60 0h9m18 0h3m3 0h1.5m4.5 0h3m3 0h1.5m4.5 0h4.5m1.5 0h1.5m7.5 0h12m12 0h3m9 0h3m21 0h4.5m9 0h3m1.5 0h3m3 0h6m34.5 0h4.5m28.5 0h19.5m258 0h28.5m30 0h208.5m6 0h150m24 0h3M324.5 452.25h1.5m4.5 0h3m51 0h3m3 0h9m3 0h4.5m6 0h1.5m3 0h1.5m4.5 0h1.5m4.5 0h1.5m4.5 0h1.5m4.5 0h3m12 0h1.5m3 0h4.5m15 0h3m9 0h3m3 0h3m16.5 0h3m9 0h13.5m72 0h3m4.5 0h10.5m3 0h6m78 0h7.5m163.5 0h30m24 0h214.5m4.5 0h135M324.5 453.75h1.5m6 0h1.5m51 0h1.5m4.5 0h9m1.5 0h6m6 0h1.5m1.5 0h3m4.5 0h1.5m4.5 0h1.5m10.5 0h3m12 0h3m1.5 0h4.5m15 0h3m9 0h3m3 0h3m10.5 0h1.5m16.5 0h3m1.5 0h6m75 0h3m6 0h7.5m4.5 0h6m78 0h9m162 0h30m21 0h216m6 0h1.5m1.5 0h76.5m1.5 0h1.5m3 0h48M324.5 455.25h1.5m9 0h1.5m54 0h7.5m1.5 0h7.5m6 0h7.5m3 0h1.5m4.5 0h1.5m3 0h1.5m7.5 0h4.5m7.5 0h10.5m13.5 0h4.5m3 0h1.5m4.5 0h3m1.5 0h4.5m28.5 0h1.5m3 0h7.5m84 0h6m4.5 0h7.5m76.5 0h9m159 0h33m21 0h213m1.5 0h1.5m9 0h75m9 0h42M324.5 456.75h3m64.5 0h4.5m3 0h4.5m7.5 0h9m3 0h1.5m4.5 0h1.5m3 0h1.5m6 0h6m7.5 0h10.5m15 0h3m6 0h6m3 0h3m33 0h9m82.5 0h7.5m6 0h4.5m76.5 0h9m159 0h33m15 0h219m12 0h75m9 0h42M326 458.25h1.5m3 0h4.5m1.5 0h3m51 0h6m3 0h6m1.5 0h3m1.5 0h9m3 0h1.5m4.5 0h1.5m3 0h1.5m19.5 0h10.5m15 0h3m3 0h4.5m3 0h1.5m3 0h3m33 0h10.5m69 0h1.5m10.5 0h7.5m85.5 0h13.5m156 0h33m12 0h222m10.5 0h76.5m12 0h33M327.5 459.75h7.5m3 0h1.5m51 0h6m3 0h21m3 0h1.5m4.5 0h1.5m3 0h1.5m19.5 0h1.5m3 0h4.5m16.5 0h3m3 0h3m3 0h3m3 0h3m33 0h10.5m27 0h3m37.5 0h3m4.5 0h1.5m6 0h9m18 0h3m9 0h1.5m51 0h16.5m153 0h33m12 0h222m10.5 0h76.5m13.5 0h30M323 461.25h13.5m1.5 0h1.5m45 0h13.5m1.5 0h3m1.5 0h7.5m6 0h3m3 0h1.5m4.5 0h1.5m1.5 0h3m27 0h1.5m12 0h1.5m3 0h3m3 0h7.5m4.5 0h3m33 0h12m24 0h4.5m37.5 0h3m13.5 0h7.5m18 0h15m49.5 0h19.5m150 0h34.5m4.5 0h231m6 0h75m9 0h1.5m7.5 0h28.5M323 462.75h16.5m42 0h1.5m1.5 0h6m3 0h4.5m7.5 0h4.5m7.5 0h3m3 0h1.5m4.5 0h6m12 0h3m12 0h1.5m12 0h1.5m3 0h3m1.5 0h10.5m1.5 0h4.5m31.5 0h6m1.5 0h7.5m22.5 0h4.5m28.5 0h1.5m7.5 0h1.5m16.5 0h6m18 0h16.5m48 0h19.5m150 0h36m3 0h231m6 0h79.5m3 0h3m7.5 0h30M323 464.25h6m1.5 0h7.5m43.5 0h7.5m3 0h10.5m3 0h3m6 0h1.5m1.5 0h3m3 0h1.5m6 0h3m15 0h1.5m4.5 0h1.5m6 0h1.5m16.5 0h21m33 0h4.5m1.5 0h6m24 0h1.5m31.5 0h6m3 0h6m12 0h6m15 0h7.5m3 0h7.5m49.5 0h19.5m150 0h36m1.5 0h202.5m4.5 0h13.5m3 0h99m10.5 0h31.5M324.5 465.75h4.5m1.5 0h4.5m1.5 0h1.5m43.5 0h7.5m1.5 0h12m3 0h3m3 0h4.5m3 0h1.5m4.5 0h1.5m4.5 0h3m21 0h1.5m19.5 0h1.5m3 0h21m33 0h10.5m25.5 0h1.5m24 0h1.5m7.5 0h4.5m3 0h6m12 0h6m15 0h9m3 0h6m51 0h16.5m153 0h238.5m6 0h1.5m4.5 0h1.5m9 0h93m15 0h31.5M324.5 467.25h4.5m3 0h3m1.5 0h1.5m46.5 0h16.5m6 0h1.5m3 0h4.5m3 0h7.5m4.5 0h1.5m16.5 0h1.5m4.5 0h1.5m4.5 0h1.5m22.5 0h16.5m37.5 0h3m24 0h3m25.5 0h9m1.5 0h3m6 0h3m16.5 0h6m12 0h9m10.5 0h4.5m45 0h15m153 0h153m3 0h81m1.5 0h1.5m24 0h90m15 0h33M324.5 468.75h4.5m4.5 0h6m49.5 0h4.5m3 0h4.5m10.5 0h4.5m1.5 0h9m22.5 0h1.5m10.5 0h1.5m22.5 0h13.5m1.5 0h1.5m36 0h3m25.5 0h1.5m28.5 0h12m6 0h3m18 0h6m9 0h4.5m3 0h3m12 0h3m46.5 0h15m141 0h1.5m9 0h150m6 0h81m4.5 0h1.5m24 0h85.5m18 0h31.5M321.5 470.25h1.5m1.5 0h6m4.5 0h6m54 0h1.5m3 0h3m10.5 0h7.5m4.5 0h1.5m21 0h3m6 0h1.5m3 0h1.5m21 0h15m3 0h1.5m6 0h4.5m24 0h3m15 0h3m1.5 0h4.5m33 0h10.5m1.5 0h9m1.5 0h1.5m27 0h3m6 0h3m6 0h3m4.5 0h1.5m45 0h18m138 0h130.5m9 0h21m19.5 0h6m10.5 0h54m31.5 0h15m7.5 0h4.5m3 0h52.5m6 0h1.5m10.5 0h33m1.5 0h1.5M326 471.75h4.5m6 0h6m58.5 0h3m10.5 0h6m3 0h3m21 0h3m6 0h6m21 0h21m6 0h3m22.5 0h4.5m15 0h7.5m21 0h1.5m15 0h7.5m1.5 0h9m1.5 0h1.5m24 0h6m7.5 0h1.5m6 0h3m51 0h19.5m136.5 0h129m13.5 0h16.5m21 0h6m15 0h49.5m33 0h13.5m6 0h3m6 0h3m1.5 0h48m4.5 0h3m9 0h33M324.5 473.25h6m9 0h3m48 0h1.5m10.5 0h4.5m7.5 0h7.5m1.5 0h4.5m18 0h4.5m9 0h3m13.5 0h1.5m6 0h9m1.5 0h10.5m6 0h3m3 0h3m15 0h3m18 0h7.5m19.5 0h3m16.5 0h10.5m3 0h4.5m10.5 0h3m10.5 0h7.5m7.5 0h4.5m57 0h21m135 0h129m16.5 0h1.5m34.5 0h1.5m22.5 0h43.5m36 0h9m27 0h40.5m7.5 0h3m10.5 0h31.5M324.5 474.75h6m9 0h1.5m51 0h1.5m9 0h6m7.5 0h9m1.5 0h1.5m18 0h4.5m9 0h3m3 0h1.5m7.5 0h3m6 0h4.5m6 0h10.5m6 0h3m3 0h3m15 0h3m7.5 0h1.5m9 0h3m24 0h1.5m18 0h10.5m3 0h6m7.5 0h6m9 0h1.5m3 0h1.5m9 0h6m54 0h22.5m135 0h129m79.5 0h4.5m4.5 0h31.5m36 0h7.5m28.5 0h39m9 0h4.5m9 0h31.5M327.5 476.25h3m9 0h1.5m3 0h1.5m48 0h1.5m7.5 0h6m12 0h7.5m16.5 0h6m15 0h1.5m6 0h6m7.5 0h3m4.5 0h10.5m6 0h3m3 0h3m15 0h3m6 0h3m3 0h1.5m30 0h3m18 0h1.5m3 0h3m3 0h9m7.5 0h7.5m6 0h3m13.5 0h13.5m48 0h22.5m130.5 0h132m88.5 0h9m4.5 0h3m4.5 0h9m42 0h1.5m30 0h27m19.5 0h7.5m9 0h24M327.5 477.75h3m10.5 0h1.5m1.5 0h1.5m48 0h3m6 0h6m12 0h6m10.5 0h1.5m6 0h1.5m30 0h3m7.5 0h3m6 0h9m4.5 0h4.5m3 0h3m15 0h4.5m4.5 0h3m3 0h1.5m28.5 0h4.5m6 0h1.5m9 0h3m1.5 0h3m4.5 0h9m6 0h9m6 0h1.5m15 0h13.5m48 0h22.5m129 0h118.5m3 0h13.5m88.5 0h3m21 0h4.5m78 0h21m21 0h7.5m12 0h19.5M342.5 479.25h3m48 0h4.5m4.5 0h6m9 0h4.5m1.5 0h3m12 0h1.5m4.5 0h4.5m12 0h1.5m9 0h1.5m13.5 0h3m6 0h9m4.5 0h4.5m3 0h3m15 0h1.5m3 0h7.5m1.5 0h3m7.5 0h3m12 0h9m6 0h3m4.5 0h12m15 0h10.5m3 0h1.5m3 0h4.5m15 0h13.5m46.5 0h18m120 0h129m9 0h10.5m196.5 0h6m7.5 0h4.5m21 0h13.5m9 0h16.5M344 480.75h3m46.5 0h6m4.5 0h3m1.5 0h3m6 0h9m12 0h1.5m4.5 0h6m9 0h4.5m7.5 0h1.5m22.5 0h9m4.5 0h4.5m3 0h3m10.5 0h1.5m3 0h1.5m3 0h7.5m1.5 0h3m9 0h4.5m9 0h9m6 0h3m3 0h3m1.5 0h10.5m21 0h9m1.5 0h4.5m15 0h13.5m46.5 0h15m120 0h132m10.5 0h7.5m235.5 0h16.5m7.5 0h16.5M327.5 482.25h3m66 0h10.5m1.5 0h3m6 0h9m12 0h3m4.5 0h4.5m9 0h6m1.5 0h4.5m24 0h9m4.5 0h4.5m3 0h9m3 0h3m3 0h1.5m4.5 0h6m3 0h1.5m7.5 0h9m6 0h9m7.5 0h4.5m4.5 0h12m22.5 0h12m7.5 0h1.5m3 0h6m57 0h12m121.5 0h132m13.5 0h3m235.5 0h21m6 0h15M329 483.75h1.5m66 0h10.5m4.5 0h1.5m3 0h10.5m10.5 0h4.5m4.5 0h6m7.5 0h12m24 0h3m3 0h3m4.5 0h4.5m1.5 0h9m3 0h4.5m3 0h1.5m4.5 0h6m1.5 0h3m7.5 0h12m3 0h9m7.5 0h6m3 0h13.5m22.5 0h6m1.5 0h3m6 0h12m57 0h12m120 0h132m252 0h24m4.5 0h7.5M390.5 485.25h1.5m7.5 0h9m3 0h1.5m7.5 0h6m9 0h3m9 0h4.5m7.5 0h12m24 0h3m3 0h3m4.5 0h10.5m3 0h1.5m3 0h4.5m3 0h1.5m4.5 0h1.5m3 0h4.5m4.5 0h16.5m3 0h12m6 0h27m3 0h1.5m10.5 0h4.5m10.5 0h16.5m1.5 0h9m45 0h12m117 0h130.5m252 0h31.5m1.5 0h4.5M327.5 486.75h1.5m1.5 0h1.5m57 0h4.5m4.5 0h12m1.5 0h1.5m10.5 0h3m9 0h3m9 0h1.5m1.5 0h1.5m7.5 0h7.5m28.5 0h3m3 0h3m4.5 0h10.5m4.5 0h7.5m3 0h1.5m4.5 0h3m1.5 0h4.5m4.5 0h16.5m3 0h13.5m4.5 0h33m9 0h3m12 0h27m45 0h10.5m115.5 0h132m253.5 0h37.5M329 488.25h3m57 0h4.5m4.5 0h6m1.5 0h4.5m13.5 0h3m10.5 0h1.5m9 0h1.5m1.5 0h1.5m7.5 0h3m1.5 0h3m28.5 0h3m3 0h4.5m13.5 0h1.5m3 0h7.5m3 0h15m3 0h10.5m4.5 0h1.5m6 0h12m4.5 0h12m3 0h3m12 0h3m1.5 0h3m4.5 0h4.5m9 0h25.5m174 0h130.5m250.5 0h45M330.5 489.75h1.5m58.5 0h4.5m3 0h4.5m1.5 0h1.5m1.5 0h4.5m12 0h1.5m12 0h4.5m6 0h1.5m1.5 0h1.5m7.5 0h3m3 0h4.5m25.5 0h3m3 0h4.5m13.5 0h1.5m3 0h7.5m3 0h15m3 0h9m6 0h1.5m6 0h10.5m7.5 0h10.5m18 0h9m4.5 0h4.5m7.5 0h10.5m6 0h9m172.5 0h130.5m252 0h3m3 0h36m3 0h1.5M332 491.25h1.5m57 0h6m10.5 0h3m13.5 0h3m21 0h1.5m10.5 0h3m3 0h6m6 0h1.5m10.5 0h1.5m4.5 0h1.5m4.5 0h4.5m13.5 0h1.5m1.5 0h9m1.5 0h3m6 0h7.5m3 0h9m6 0h3m3 0h3m3 0h7.5m7.5 0h9m19.5 0h24m1.5 0h6m9 0h9m169.5 0h133.5m249 0h6m3 0h36m4.5 0h1.5M333.5 492.75h1.5m55.5 0h9m6 0h3m15 0h3m21 0h1.5m10.5 0h1.5m4.5 0h6m18 0h1.5m4.5 0h1.5m6 0h3m13.5 0h1.5m1.5 0h9m1.5 0h1.5m6 0h10.5m1.5 0h9m6 0h3m3 0h3m3 0h9m6 0h3m1.5 0h4.5m21 0h12m1.5 0h9m4.5 0h3m4.5 0h1.5m7.5 0h4.5m51 0h3m114 0h133.5m250.5 0h6m1.5 0h36M333.5 494.25h3m51 0h15m3 0h6m27 0h3m6 0h3m9 0h1.5m7.5 0h3m16.5 0h4.5m10.5 0h3m4.5 0h3m10.5 0h10.5m7.5 0h18m13.5 0h3m3 0h9m3 0h6m1.5 0h4.5m6 0h3m3 0h1.5m12 0h7.5m3 0h9m3 0h3m3 0h3m9 0h3m51 0h4.5m109.5 0h132m253.5 0h43.5m9 0h3M333.5 495.75h3m51 0h15m3 0h6m12 0h1.5m12 0h4.5m6 0h3m9 0h1.5m9 0h3m1.5 0h3m12 0h3m10.5 0h3m6 0h1.5m10.5 0h10.5m7.5 0h18m6 0h3m10.5 0h9m3 0h12m4.5 0h10.5m10.5 0h4.5m6 0h9m3 0h7.5m10.5 0h3m51 0h6m105 0h121.5m6 0h7.5m252 0h45m1.5 0h1.5M336.5 497.25h1.5m9 0h6m36 0h1.5m3 0h13.5m4.5 0h1.5m10.5 0h3m10.5 0h3m7.5 0h3m18 0h3m1.5 0h4.5m1.5 0h1.5m7.5 0h4.5m1.5 0h3m28.5 0h9m9 0h16.5m4.5 0h6m9 0h9m3 0h6m3 0h13.5m25.5 0h19.5m10.5 0h3m51 0h9m87 0h7.5m3 0h112.5m6 0h4.5m265.5 0h48m3 0h4.5M336.5 498.75h3m7.5 0h6m36 0h1.5m3 0h15m3 0h1.5m10.5 0h3m4.5 0h1.5m1.5 0h1.5m3 0h1.5m9 0h1.5m18 0h1.5m3 0h3m3 0h1.5m7.5 0h4.5m1.5 0h3m27 0h9m10.5 0h16.5m4.5 0h6m9 0h7.5m4.5 0h4.5m6 0h10.5m10.5 0h1.5m15 0h21m9 0h3m52.5 0h7.5m84 0h123m279 0h48m3 0h6M336.5 500.25h3m9 0h3m45 0h16.5m10.5 0h3m3 0h4.5m16.5 0h1.5m16.5 0h1.5m7.5 0h3m7.5 0h4.5m1.5 0h3m27 0h9m9 0h16.5m4.5 0h7.5m10.5 0h6m4.5 0h3m9 0h10.5m3 0h9m13.5 0h4.5m1.5 0h15m9 0h3m51 0h12m9 0h1.5m67.5 0h121.5m285 0h45m4.5 0h9M336.5 501.75h4.5m9 0h1.5m45 0h18m9 0h3m3 0h1.5m1.5 0h3m15 0h1.5m16.5 0h1.5m1.5 0h1.5m4.5 0h3m9 0h1.5m33 0h1.5m4.5 0h3m9 0h13.5m3 0h1.5m3 0h10.5m7.5 0h6m4.5 0h3m9 0h3m3 0h15m13.5 0h4.5m3 0h15m9 0h1.5m52.5 0h13.5m4.5 0h3m69 0h118.5m288 0h43.5m6 0h7.5M336.5 503.25h6m57 0h6m6 0h3m9 0h1.5m4.5 0h1.5m1.5 0h1.5m15 0h4.5m1.5 0h1.5m15 0h3m4.5 0h4.5m40.5 0h3m3 0h4.5m9 0h4.5m1.5 0h4.5m4.5 0h1.5m1.5 0h13.5m4.5 0h7.5m4.5 0h3m9 0h6m1.5 0h21m4.5 0h13.5m1.5 0h3m1.5 0h1.5m66 0h19.5m70.5 0h115.5m292.5 0h39m7.5 0h7.5M336.5 504.75h6m13.5 0h3m40.5 0h6m7.5 0h1.5m9 0h1.5m7.5 0h3m13.5 0h4.5m1.5 0h1.5m1.5 0h1.5m12 0h3m6 0h3m6 0h1.5m3 0h1.5m28.5 0h1.5m4.5 0h4.5m9 0h4.5m1.5 0h3m6 0h16.5m4.5 0h7.5m4.5 0h3m7.5 0h13.5m4.5 0h9m1.5 0h3m1.5 0h3m1.5 0h10.5m1.5 0h3m67.5 0h22.5m69 0h114m294 0h39m6 0h9M342.5 506.25h3m12 0h1.5m40.5 0h12m9 0h4.5m9 0h1.5m13.5 0h1.5m1.5 0h1.5m4.5 0h1.5m12 0h1.5m7.5 0h3m6 0h7.5m21 0h1.5m3 0h3m3 0h3m13.5 0h3m1.5 0h3m3 0h7.5m3 0h9m4.5 0h4.5m7.5 0h3m6 0h15m16.5 0h21m4.5 0h1.5m1.5 0h6m55.5 0h21m70.5 0h112.5m297 0h34.5m6 0h6M338 507.75h1.5m3 0h4.5m10.5 0h3m39 0h12m9 0h4.5m9 0h1.5m13.5 0h1.5m1.5 0h1.5m18 0h1.5m6 0h1.5m1.5 0h1.5m6 0h7.5m21 0h1.5m4.5 0h1.5m1.5 0h4.5m15 0h1.5m3 0h12m3 0h10.5m3 0h4.5m7.5 0h3m6 0h4.5m3 0h6m18 0h16.5m1.5 0h3m7.5 0h6m55.5 0h19.5m70.5 0h106.5m304.5 0h34.5m6 0h3M339.5 509.25h4.5m1.5 0h4.5m3 0h1.5m4.5 0h1.5m42 0h10.5m6 0h6m4.5 0h1.5m1.5 0h1.5m15 0h6m7.5 0h6m10.5 0h4.5m6 0h7.5m10.5 0h12m3 0h1.5m6 0h1.5m19.5 0h12m4.5 0h15m9 0h3m4.5 0h13.5m18 0h6m4.5 0h10.5m10.5 0h3m55.5 0h12m1.5 0h7.5m3 0h1.5m64.5 0h106.5m307.5 0h31.5m4.5 0h1.5M341 510.75h7.5m4.5 0h1.5m4.5 0h1.5m42 0h10.5m6 0h3m10.5 0h1.5m15 0h4.5m6 0h1.5m1.5 0h1.5m1.5 0h3m10.5 0h3m7.5 0h1.5m1.5 0h7.5m6 0h1.5m1.5 0h7.5m34.5 0h12m4.5 0h15m9 0h3m3 0h13.5m19.5 0h6m4.5 0h10.5m12 0h1.5m55.5 0h12m1.5 0h13.5m61.5 0h1.5m1.5 0h105m307.5 0h31.5M342.5 512.25h3m9 0h3m1.5 0h4.5m30 0h3m6 0h12m15 0h1.5m28.5 0h3m36 0h3m3 0h3m15 0h1.5m3 0h1.5m22.5 0h12m4.5 0h6m1.5 0h7.5m9 0h3m3 0h7.5m1.5 0h3m3 0h3m15 0h3m9 0h7.5m69 0h13.5m3 0h13.5m61.5 0h103.5m319.5 0h21m4.5 0h1.5M342.5 513.75h3m9 0h9m31.5 0h3m4.5 0h3m3 0h6m15 0h3m27 0h3m22.5 0h4.5m3 0h3m1.5 0h4.5m3 0h3m15 0h1.5m27 0h10.5m6 0h15m15 0h9m1.5 0h3m1.5 0h3m15 0h3m9 0h7.5m69 0h13.5m3 0h13.5m61.5 0h102m322.5 0h10.5m12 0h3M344 515.25h1.5m3 0h16.5m33 0h7.5m25.5 0h1.5m33 0h1.5m16.5 0h3m9 0h6m1.5 0h1.5m46.5 0h10.5m12 0h9m15 0h1.5m6 0h6m13.5 0h1.5m4.5 0h3m10.5 0h4.5m70.5 0h1.5m3 0h10.5m1.5 0h16.5m18 0h9m33 0h67.5m9 0h21m328.5 0h7.5m9 0h3M348.5 516.75h18m34.5 0h4.5m9 0h1.5m30 0h1.5m19.5 0h1.5m6 0h1.5m7.5 0h1.5m10.5 0h6m1.5 0h1.5m46.5 0h9m9 0h1.5m3 0h9m24 0h3m21 0h4.5m9 0h6m73.5 0h30m1.5 0h1.5m12 0h10.5m33 0h64.5m12 0h15m334.5 0h6m10.5 0h1.5M345.5 518.25h1.5m3 0h7.5m4.5 0h4.5m36 0h3m39 0h3m19.5 0h1.5m3 0h12m18 0h1.5m1.5 0h3m15 0h1.5m3 0h3m21 0h9m7.5 0h15m6 0h6m13.5 0h4.5m18 0h3m12 0h10.5m6 0h1.5m63 0h25.5m1.5 0h3m9 0h15m28.5 0h63m16.5 0h9m336 0h9m4.5 0h1.5M347 519.75h1.5m3 0h6m1.5 0h1.5m3 0h4.5m34.5 0h3m39 0h1.5m4.5 0h3m13.5 0h1.5m3 0h12m4.5 0h1.5m12 0h1.5m1.5 0h4.5m13.5 0h1.5m3 0h4.5m18 0h12m6 0h15m7.5 0h4.5m15 0h4.5m16.5 0h3m13.5 0h10.5m4.5 0h1.5m64.5 0h22.5m3 0h3m7.5 0h16.5m25.5 0h64.5m19.5 0h4.5m337.5 0h10.5m3 0h1.5M350 521.25h7.5m7.5 0h1.5m94.5 0h1.5m3 0h3m3 0h1.5m3 0h4.5m6 0h3m33 0h1.5m6 0h1.5m18 0h13.5m4.5 0h15m28.5 0h4.5m15 0h3m13.5 0h3m3 0h4.5m69 0h24m4.5 0h1.5m6 0h18m24 0h63m360 0h13.5M350 522.75h7.5m33 0h1.5m67.5 0h1.5m4.5 0h3m3 0h1.5m3 0h4.5m6 0h3m15 0h1.5m16.5 0h1.5m25.5 0h7.5m1.5 0h6m3 0h15m7.5 0h1.5m19.5 0h4.5m15 0h3m15 0h1.5m4.5 0h3m69 0h24m3 0h3m6 0h18m22.5 0h61.5m361.5 0h16.5m1.5 0h1.5M350 524.25h7.5m34.5 0h3m63 0h1.5m7.5 0h1.5m3 0h1.5m1.5 0h9m6 0h3m1.5 0h1.5m6 0h6m1.5 0h1.5m13.5 0h1.5m1.5 0h1.5m22.5 0h1.5m6 0h24m28.5 0h1.5m3 0h1.5m10.5 0h4.5m10.5 0h3m6 0h6m67.5 0h27m9 0h21m22.5 0h57m363 0h21M356 525.75h1.5m34.5 0h1.5m1.5 0h1.5m33 0h1.5m25.5 0h3m9 0h3m3 0h6m1.5 0h1.5m6 0h3m9 0h6m1.5 0h3m12 0h4.5m3 0h1.5m25.5 0h24m27 0h3m3 0h1.5m10.5 0h3m9 0h6m7.5 0h4.5m66 0h28.5m7.5 0h24m21 0h57m363 0h21M357.5 527.25h1.5m12 0h4.5m54 0h6m9 0h3m27 0h3m3 0h3m4.5 0h4.5m6 0h6m1.5 0h4.5m15 0h3m3 0h1.5m15 0h1.5m9 0h24m27 0h9m6 0h3m10.5 0h1.5m15 0h4.5m63 0h28.5m7.5 0h34.5m10.5 0h58.5m367.5 0h13.5m4.5 0h7.5M357.5 528.75h1.5m10.5 0h6m54 0h6m9 0h3m3 0h3m3 0h3m4.5 0h1.5m9 0h3m3 0h3m3 0h4.5m7.5 0h6m1.5 0h3m16.5 0h7.5m13.5 0h3m9 0h24m13.5 0h1.5m12 0h9m6 0h3m10.5 0h1.5m16.5 0h4.5m61.5 0h28.5m7.5 0h33m12 0h58.5m369 0h13.5m1.5 0h10.5M357.5 530.25h3m9 0h7.5m52.5 0h4.5m9 0h1.5m1.5 0h3m1.5 0h3m1.5 0h1.5m3 0h10.5m4.5 0h3m4.5 0h1.5m3 0h1.5m6 0h1.5m3 0h1.5m3 0h4.5m10.5 0h3m4.5 0h7.5m13.5 0h3m1.5 0h1.5m6 0h24m27 0h7.5m1.5 0h9m9 0h1.5m21 0h1.5m60 0h33m4.5 0h31.5m12 0h58.5m375 0h22.5M354.5 531.75h1.5m3 0h1.5m10.5 0h6m52.5 0h4.5m13.5 0h1.5m1.5 0h3m1.5 0h1.5m9 0h4.5m4.5 0h3m4.5 0h1.5m3 0h1.5m10.5 0h1.5m4.5 0h4.5m9 0h4.5m3 0h6m16.5 0h1.5m9 0h24m22.5 0h10.5m3 0h7.5m10.5 0h1.5m84 0h31.5m4.5 0h31.5m9 0h60m378 0h21M356 533.25h4.5m10.5 0h6m52.5 0h3m13.5 0h1.5m6 0h1.5m7.5 0h1.5m1.5 0h3m6 0h1.5m6 0h1.5m3 0h1.5m10.5 0h10.5m9 0h4.5m6 0h3m15 0h3m9 0h22.5m21 0h9m4.5 0h6m15 0h1.5m85.5 0h30m3 0h97.5m385.5 0h18M356 534.75h4.5m12 0h4.5m27 0h1.5m24 0h3m34.5 0h1.5m6 0h3m9 0h1.5m10.5 0h10.5m10.5 0h3m6 0h3m15 0h3m9 0h22.5m15 0h1.5m3 0h4.5m3 0h4.5m3 0h6m15 0h3m84 0h30m3 0h94.5m390 0h15M359 536.25h1.5m13.5 0h4.5m24 0h6m19.5 0h6m16.5 0h1.5m4.5 0h1.5m9 0h1.5m9 0h1.5m3 0h1.5m3 0h1.5m7.5 0h1.5m4.5 0h6m12 0h3m9 0h3m12 0h3m9 0h7.5m1.5 0h13.5m19.5 0h13.5m1.5 0h3m1.5 0h3m12 0h4.5m3 0h3m79.5 0h1.5m6 0h21m1.5 0h91.5m397.5 0h12M360.5 537.75h1.5m13.5 0h3m24 0h6m18 0h7.5m15 0h3m4.5 0h1.5m4.5 0h3m1.5 0h1.5m6 0h4.5m3 0h1.5m3 0h1.5m7.5 0h3m3 0h4.5m13.5 0h3m10.5 0h3m10.5 0h3m9 0h7.5m1.5 0h13.5m19.5 0h18m13.5 0h6m4.5 0h4.5m87 0h19.5m1.5 0h91.5m399 0h9M360.5 539.25h3m13.5 0h1.5m21 0h10.5m16.5 0h3m19.5 0h1.5m6 0h1.5m4.5 0h3m9 0h4.5m9 0h1.5m15 0h1.5m13.5 0h7.5m6 0h3m10.5 0h3m10.5 0h19.5m28.5 0h3m13.5 0h15m3 0h6m85.5 0h19.5m1.5 0h91.5m399 0h9M360.5 540.75h3m13.5 0h1.5m21 0h12m15 0h3m27 0h1.5m4.5 0h3m3 0h1.5m4.5 0h4.5m9 0h1.5m9 0h3m3 0h1.5m13.5 0h7.5m7.5 0h1.5m10.5 0h3m12 0h18m45 0h18m4.5 0h1.5m84 0h18m4.5 0h90m400.5 0h7.5M399.5 542.25h15m12 0h3m6 0h3m15 0h3m6 0h3m4.5 0h1.5m6 0h1.5m3 0h1.5m4.5 0h1.5m7.5 0h1.5m3 0h4.5m10.5 0h6m3 0h1.5m7.5 0h3m7.5 0h1.5m1.5 0h1.5m16.5 0h16.5m42 0h4.5m1.5 0h3m6 0h3m91.5 0h3m9 0h3m7.5 0h84M401 543.75h16.5m9 0h3m6 0h4.5m13.5 0h3m6 0h3m4.5 0h1.5m7.5 0h1.5m1.5 0h1.5m4.5 0h1.5m7.5 0h1.5m3 0h6m10.5 0h3m4.5 0h3m6 0h3m7.5 0h1.5m1.5 0h1.5m18 0h15m42 0h1.5m4.5 0h3m6 0h3m114 0h79.5M399.5 545.25h21m6 0h4.5m4.5 0h1.5m1.5 0h6m12 0h1.5m4.5 0h3m15 0h1.5m1.5 0h1.5m3 0h1.5m9 0h7.5m12 0h10.5m6 0h4.5m1.5 0h1.5m1.5 0h3m1.5 0h3m16.5 0h15m21 0h3m18 0h1.5m4.5 0h3m6 0h6m111 0h22.5m4.5 0h51M371 546.75h1.5m25.5 0h22.5m6 0h6m3 0h3m1.5 0h4.5m12 0h1.5m4.5 0h3m18 0h6m9 0h3m3 0h1.5m13.5 0h10.5m4.5 0h7.5m1.5 0h7.5m15 0h18m18 0h6m6 0h4.5m6 0h3m3 0h3m4.5 0h7.5m111 0h21m7.5 0h46.5M371 548.25h4.5m21 0h31.5m1.5 0h9m9 0h1.5m7.5 0h1.5m4.5 0h3m4.5 0h1.5m12 0h1.5m4.5 0h6m4.5 0h1.5m3 0h3m10.5 0h1.5m3 0h6m6 0h7.5m1.5 0h7.5m7.5 0h3m4.5 0h22.5m12 0h4.5m3 0h7.5m6 0h4.5m1.5 0h6m3 0h4.5m18 0h1.5m90 0h1.5m4.5 0h19.5m10.5 0h46.5M371 549.75h6m18 0h31.5m3 0h3m1.5 0h3m9 0h4.5m6 0h1.5m4.5 0h3m4.5 0h1.5m12 0h1.5m4.5 0h3m12 0h3m10.5 0h1.5m4.5 0h4.5m6 0h1.5m1.5 0h13.5m7.5 0h3m4.5 0h16.5m15 0h6m6 0h6m6 0h9m3 0h3m3 0h1.5m16.5 0h3m90 0h1.5m4.5 0h19.5m9 0h46.5m1.5 0h1.5M372.5 551.25h6m15 0h33m4.5 0h1.5m15 0h3m12 0h3m4.5 0h1.5m12 0h9m12 0h3m9 0h1.5m6 0h1.5m15 0h10.5m7.5 0h3m6 0h13.5m16.5 0h6m6 0h6m7.5 0h6m4.5 0h4.5m18 0h3m40.5 0h6m45 0h1.5m6 0h18m4.5 0h51M372.5 552.75h6m16.5 0h12m1.5 0h18m4.5 0h1.5m16.5 0h3m12 0h1.5m4.5 0h1.5m12 0h9m1.5 0h3m7.5 0h3m9 0h1.5m6 0h1.5m15 0h10.5m7.5 0h3m6 0h12m18 0h4.5m6 0h7.5m4.5 0h1.5m12 0h4.5m24 0h1.5m36 0h6m52.5 0h16.5m6 0h51M375.5 554.25h3m13.5 0h13.5m3 0h6m3 0h9m27 0h3m4.5 0h4.5m4.5 0h1.5m7.5 0h1.5m1.5 0h15m7.5 0h6m12 0h4.5m1.5 0h3m9 0h10.5m4.5 0h6m6 0h10.5m19.5 0h3m6 0h6m21 0h4.5m21 0h1.5m42 0h3m54 0h12m3 0h57M375.5 555.75h3m15 0h10.5m4.5 0h6m3 0h7.5m28.5 0h3m6 0h3m4.5 0h1.5m7.5 0h1.5m1.5 0h6m1.5 0h4.5m1.5 0h1.5m7.5 0h6m6 0h1.5m4.5 0h4.5m1.5 0h3m9 0h21m4.5 0h4.5m27 0h3m4.5 0h6m22.5 0h4.5m121.5 0h12m1.5 0h57M380 557.25h1.5m12 0h10.5m4.5 0h7.5m1.5 0h7.5m28.5 0h3m6 0h3m4.5 0h1.5m9 0h6m6 0h1.5m3 0h1.5m6 0h3m1.5 0h1.5m6 0h15m9 0h21m36 0h12m3 0h3m48 0h6m90 0h70.5M396.5 558.75h7.5m3 0h21m25.5 0h3m4.5 0h1.5m7.5 0h1.5m9 0h3m9 0h1.5m3 0h1.5m6 0h1.5m3 0h1.5m6 0h9m1.5 0h4.5m9 0h19.5m37.5 0h18m12 0h6m3 0h3m24 0h7.5m88.5 0h69M396.5 560.25h6m6 0h21m22.5 0h4.5m6 0h3m3 0h3m9 0h3m1.5 0h1.5m12 0h1.5m4.5 0h1.5m3 0h1.5m4.5 0h4.5m3 0h1.5m4.5 0h1.5m12 0h16.5m18 0h7.5m7.5 0h9m4.5 0h12m4.5 0h3m3 0h4.5m1.5 0h6m21 0h10.5m39 0h4.5m45 0h70.5M396.5 561.75h7.5m4.5 0h19.5m24 0h4.5m6 0h4.5m13.5 0h6m12 0h1.5m3 0h3m3 0h1.5m3 0h6m3 0h1.5m9 0h1.5m15 0h9m18 0h7.5m7.5 0h12m1.5 0h15m6 0h3m4.5 0h6m21 0h10.5m39 0h4.5m39 0h18m3 0h55.5M399.5 563.25h9m1.5 0h18m27 0h1.5m9 0h6m4.5 0h1.5m1.5 0h7.5m4.5 0h1.5m6 0h1.5m3 0h7.5m4.5 0h4.5m3 0h3m3 0h1.5m3 0h3m16.5 0h9m4.5 0h1.5m10.5 0h6m6 0h7.5m3 0h15m3 0h10.5m6 0h1.5m24 0h12m39 0h3m39 0h16.5m1.5 0h54M383 564.75h1.5m15 0h28.5m21 0h1.5m15 0h6m3 0h12m4.5 0h1.5m6 0h1.5m3 0h4.5m1.5 0h1.5m6 0h3m3 0h3m1.5 0h4.5m1.5 0h3m16.5 0h10.5m13.5 0h6m7.5 0h7.5m1.5 0h16.5m4.5 0h9m33 0h10.5m39 0h3m37.5 0h73.5M402.5 566.25h28.5m18 0h1.5m16.5 0h1.5m1.5 0h6m3 0h1.5m3 0h3m4.5 0h1.5m6 0h1.5m4.5 0h1.5m9 0h4.5m3 0h3m3 0h1.5m4.5 0h3m12 0h6m3 0h9m7.5 0h7.5m7.5 0h24m6 0h4.5m3 0h1.5m31.5 0h12m39 0h1.5m31.5 0h79.5M401 567.75h31.5m13.5 0h1.5m1.5 0h3m15 0h1.5m1.5 0h6m7.5 0h3m4.5 0h1.5m4.5 0h3m4.5 0h1.5m7.5 0h6m3 0h4.5m1.5 0h1.5m4.5 0h3m9 0h9m3 0h10.5m4.5 0h6m10.5 0h3m7.5 0h4.5m1.5 0h6m7.5 0h3m4.5 0h1.5m13.5 0h1.5m16.5 0h12m39 0h1.5m31.5 0h79.5M372.5 569.25h3m12 0h1.5m12 0h33m12 0h4.5m18 0h4.5m10.5 0h1.5m6 0h7.5m6 0h1.5m4.5 0h1.5m4.5 0h3m4.5 0h7.5m3 0h6m9 0h3m7.5 0h21m1.5 0h3m15 0h3m3 0h3m12 0h9m13.5 0h10.5m6 0h1.5m1.5 0h7.5m1.5 0h1.5m1.5 0h6m63 0h6m1.5 0h4.5m6 0h60M372.5 570.75h3m12 0h3m10.5 0h34.5m12 0h3m18 0h3m7.5 0h1.5m10.5 0h7.5m6 0h3m3 0h3m4.5 0h1.5m6 0h6m6 0h3m21 0h10.5m1.5 0h13.5m13.5 0h7.5m13.5 0h9m12 0h12m9 0h6m4.5 0h7.5m63 0h4.5m15 0h9m1.5 0h45M374 572.25h4.5m9 0h6m4.5 0h36m36 0h12m1.5 0h3m9 0h4.5m4.5 0h9m4.5 0h1.5m42 0h7.5m4.5 0h4.5m1.5 0h3m3 0h3m33 0h10.5m7.5 0h1.5m1.5 0h3m1.5 0h7.5m6 0h6m9 0h3m66 0h3m16.5 0h7.5m3 0h16.5m1.5 0h7.5m10.5 0h6M374 573.75h4.5m10.5 0h4.5m6 0h3m1.5 0h31.5m36 0h10.5m3 0h1.5m9 0h4.5m4.5 0h1.5m1.5 0h6m3 0h3m22.5 0h1.5m15 0h6m3 0h1.5m3 0h10.5m1.5 0h4.5m10.5 0h1.5m21 0h12m6 0h4.5m3 0h7.5m6 0h4.5m97.5 0h9m3 0h16.5m3 0h4.5m13.5 0h3M375.5 575.25h1.5m1.5 0h1.5m9 0h6m3 0h4.5m3 0h15m3 0h15m13.5 0h3m18 0h13.5m18 0h6m4.5 0h1.5m30 0h3m4.5 0h9m6 0h1.5m1.5 0h16.5m39 0h9m3 0h4.5m3 0h7.5m6 0h1.5m13.5 0h3m13.5 0h9m1.5 0h6m6 0h6m31.5 0h4.5m6 0h9m3 0h12M375.5 576.75h6m7.5 0h1.5m3 0h3m1.5 0h1.5m7.5 0h31.5m13.5 0h3m18 0h7.5m3 0h3m19.5 0h3m6 0h3m28.5 0h3m4.5 0h6m10.5 0h15m34.5 0h4.5m4.5 0h15m1.5 0h3m3 0h4.5m16.5 0h6m12 0h9m4.5 0h7.5m3 0h3m1.5 0h1.5m33 0h3m3 0h12m3 0h10.5M378.5 578.25h6m3 0h1.5m1.5 0h7.5m10.5 0h30m13.5 0h4.5m16.5 0h7.5m6 0h3m16.5 0h4.5m6 0h1.5m4.5 0h3m21 0h3m3 0h4.5m15 0h9m9 0h7.5m31.5 0h13.5m1.5 0h1.5m9 0h4.5m3 0h16.5m6 0h1.5m3 0h1.5m6 0h6m1.5 0h16.5m40.5 0h10.5m3 0h9M378.5 579.75h6m4.5 0h10.5m12 0h24m15 0h7.5m15 0h6m7.5 0h3m16.5 0h4.5m6 0h1.5m4.5 0h4.5m25.5 0h4.5m9 0h3m4.5 0h3m13.5 0h7.5m31.5 0h9m1.5 0h3m12 0h15m3 0h4.5m12 0h1.5m6 0h24m36 0h15m3 0h7.5M393.5 581.25h4.5m16.5 0h24m12 0h4.5m18 0h1.5m36 0h1.5m12 0h3m7.5 0h1.5m16.5 0h3m6 0h7.5m19.5 0h1.5m1.5 0h3m1.5 0h1.5m33 0h6m18 0h13.5m21 0h1.5m6 0h24m36 0h1.5m4.5 0h18m49.5 0h1.5M393.5 582.75h4.5m16.5 0h13.5m1.5 0h10.5m10.5 0h3m61.5 0h1.5m6 0h4.5m1.5 0h1.5m4.5 0h3m15 0h3m4.5 0h9m12 0h1.5m9 0h3m21 0h3m12 0h4.5m21 0h7.5m25.5 0h1.5m6 0h24m36 0h1.5m6 0h3m1.5 0h9M396.5 584.25h1.5m22.5 0h4.5m4.5 0h12m9 0h4.5m10.5 0h1.5m12 0h1.5m36 0h1.5m1.5 0h1.5m1.5 0h4.5m3 0h1.5m16.5 0h1.5m3 0h1.5m1.5 0h9m3 0h3m4.5 0h7.5m9 0h3m34.5 0h3m7.5 0h3m1.5 0h4.5m40.5 0h1.5m6 0h12m6 0h3m39 0h1.5m10.5 0h4.5m57 0h1.5M396.5 585.75h3m31.5 0h12m9 0h3m9 0h4.5m9 0h3m36 0h4.5m4.5 0h1.5m1.5 0h1.5m7.5 0h3m3 0h1.5m1.5 0h18m3 0h3m3 0h9m9 0h3m33 0h4.5m7.5 0h10.5m37.5 0h1.5m6 0h13.5m6 0h3m51 0h3m58.5 0h1.5M398 587.25h1.5m34.5 0h4.5m6 0h1.5m7.5 0h3m6 0h3m3 0h1.5m6 0h9m31.5 0h3m6 0h1.5m1.5 0h1.5m1.5 0h3m3 0h3m3 0h3m3 0h3m9 0h7.5m4.5 0h9m7.5 0h1.5m15 0h1.5m19.5 0h6m7.5 0h1.5m1.5 0h7.5m18 0h9m9 0h1.5m4.5 0h12m9 0h3m40.5 0h4.5m3 0h4.5M435.5 588.75h3m15 0h4.5m4.5 0h3m3 0h3m4.5 0h9m4.5 0h1.5m25.5 0h3m6 0h1.5m1.5 0h3m1.5 0h7.5m4.5 0h1.5m4.5 0h1.5m6 0h1.5m1.5 0h6m6 0h10.5m7.5 0h3m18 0h1.5m13.5 0h3m1.5 0h3m4.5 0h3m3 0h6m18 0h9m7.5 0h1.5m6 0h10.5m10.5 0h3m39 0h12M446 590.25h4.5m3 0h3m1.5 0h1.5m7.5 0h1.5m12 0h4.5m4.5 0h6m30 0h7.5m1.5 0h13.5m15 0h4.5m1.5 0h1.5m3 0h3m6 0h3m25.5 0h4.5m9 0h3m6 0h9m3 0h4.5m16.5 0h1.5m1.5 0h10.5m4.5 0h3m1.5 0h1.5m3 0h10.5m12 0h1.5m39 0h1.5m4.5 0h6M447.5 591.75h3m3 0h3m1.5 0h1.5m12 0h1.5m7.5 0h3m6 0h3m1.5 0h1.5m28.5 0h15m4.5 0h4.5m13.5 0h1.5m10.5 0h3m6 0h3m24 0h6m6 0h6m6 0h9m3 0h4.5m16.5 0h1.5m1.5 0h12m3 0h3m1.5 0h1.5m3 0h10.5m12 0h1.5m39 0h1.5m7.5 0h3M447.5 593.25h6m1.5 0h1.5m3 0h1.5m9 0h1.5m6 0h1.5m3 0h3m6 0h1.5m28.5 0h19.5m6 0h4.5m1.5 0h3m7.5 0h1.5m9 0h1.5m7.5 0h3m22.5 0h6m3 0h10.5m6 0h12m1.5 0h3m16.5 0h6m3 0h1.5m7.5 0h3m1.5 0h1.5m3 0h6m1.5 0h3m52.5 0h1.5m10.5 0h1.5M447.5 594.75h6m3 0h1.5m1.5 0h1.5m16.5 0h3m3 0h1.5m6 0h6m24 0h19.5m6 0h10.5m7.5 0h3m6 0h1.5m7.5 0h3m22.5 0h6m4.5 0h6m9 0h3m3 0h10.5m25.5 0h1.5m7.5 0h3m1.5 0h1.5m3 0h6m1.5 0h3m52.5 0h1.5m10.5 0h1.5M449 596.25h1.5m3 0h1.5m1.5 0h6m30 0h6m22.5 0h10.5m16.5 0h1.5m1.5 0h7.5m7.5 0h4.5m10.5 0h4.5m3 0h1.5m18 0h6m4.5 0h4.5m13.5 0h15m30 0h6m1.5 0h1.5m3 0h6m1.5 0h4.5m10.5 0h1.5m39 0h1.5m10.5 0h3m60 0h6M449 597.75h1.5m3 0h3m1.5 0h4.5m30 0h6m24 0h10.5m15 0h1.5m3 0h6m9 0h3m3 0h1.5m4.5 0h7.5m1.5 0h3m18 0h1.5m6 0h4.5m15 0h7.5m1.5 0h6m30 0h6m1.5 0h1.5m1.5 0h7.5m3 0h3m10.5 0h1.5m39 0h1.5m10.5 0h3m60 0h7.5M393.5 599.25h6m45 0h3m1.5 0h1.5m6 0h1.5m1.5 0h3m9 0h1.5m19.5 0h6m28.5 0h4.5m1.5 0h3m13.5 0h1.5m3 0h4.5m9 0h4.5m1.5 0h18m24 0h6m18 0h3m6 0h6m27 0h3m6 0h9m3 0h3m10.5 0h1.5m16.5 0h1.5m21 0h1.5m4.5 0h3m3 0h3m60 0h7.5M393.5 600.75h3m1.5 0h3m45 0h1.5m9 0h3m1.5 0h1.5m9 0h3m18 0h6m28.5 0h3m4.5 0h3m12 0h3m1.5 0h7.5m6 0h3m3 0h4.5m1.5 0h10.5m28.5 0h3m18 0h3m6 0h6m27 0h3m6 0h15m51 0h1.5m3 0h4.5m3 0h3m60 0h7.5M399.5 602.25h3m48 0h3m4.5 0h1.5m33 0h4.5m30 0h4.5m3 0h3m13.5 0h1.5m1.5 0h7.5m6 0h3m10.5 0h7.5m3 0h3m24 0h1.5m19.5 0h3m4.5 0h7.5m27 0h3m6 0h13.5m52.5 0h15m63 0h3M401 603.75h1.5m48 0h3m4.5 0h1.5m12 0h1.5m1.5 0h1.5m18 0h1.5m33 0h4.5m1.5 0h3m15 0h9m6 0h3m10.5 0h7.5m1.5 0h1.5m48 0h16.5m1.5 0h3m21 0h3m7.5 0h12m54 0h13.5m63 0h4.5M450.5 605.25h4.5m4.5 0h1.5m13.5 0h3m60 0h1.5m13.5 0h12m3 0h4.5m10.5 0h15m42 0h24m18 0h4.5m6 0h3m30 0h1.5m19.5 0h3m13.5 0h9m63 0h7.5M452 606.75h3m4.5 0h3m6 0h3m3 0h3m18 0h3m40.5 0h1.5m7.5 0h1.5m3 0h3m1.5 0h7.5m6 0h3m7.5 0h19.5m1.5 0h1.5m34.5 0h28.5m7.5 0h12m6 0h3m28.5 0h4.5m4.5 0h1.5m13.5 0h1.5m18 0h4.5m63 0h10.5m6 0h1.5m1.5 0h1.5M459.5 608.25h3m7.5 0h1.5m3 0h4.5m16.5 0h3m55.5 0h12m4.5 0h3m9 0h9m7.5 0h6m30 0h10.5m1.5 0h21m7.5 0h9m13.5 0h4.5m22.5 0h3m4.5 0h3m31.5 0h4.5m63 0h12m4.5 0h6M453.5 609.75h3m3 0h3m13.5 0h4.5m15 0h4.5m55.5 0h10.5m6 0h1.5m7.5 0h6m3 0h1.5m7.5 0h4.5m30 0h12m7.5 0h15m7.5 0h9m13.5 0h4.5m22.5 0h3m4.5 0h3m31.5 0h4.5m63 0h12m4.5 0h6M453.5 611.25h10.5m13.5 0h6m15 0h1.5m55.5 0h10.5m7.5 0h3m4.5 0h1.5m7.5 0h3m4.5 0h9m25.5 0h3m4.5 0h4.5m13.5 0h12m7.5 0h6m9 0h3m1.5 0h6m22.5 0h3m1.5 0h6m10.5 0h1.5m19.5 0h3m66 0h22.5M453.5 612.75h7.5m1.5 0h1.5m15 0h4.5m15 0h1.5m55.5 0h3m1.5 0h6m9 0h3m3 0h1.5m7.5 0h19.5m24 0h10.5m15 0h10.5m7.5 0h6m9 0h3m1.5 0h6m24 0h9m9 0h3m19.5 0h3m67.5 0h21M411.5 614.25h1.5m13.5 0h3m16.5 0h1.5m4.5 0h1.5m1.5 0h4.5m21 0h3m30 0h3m45 0h4.5m10.5 0h7.5m1.5 0h25.5m27 0h6m16.5 0h12m3 0h6m9 0h12m24 0h7.5m10.5 0h4.5m18 0h1.5m70.5 0h19.5M411.5 615.75h3m12 0h6m18 0h1.5m4.5 0h3m21 0h3m30 0h3m46.5 0h3m10.5 0h12m3 0h13.5m4.5 0h1.5m27 0h6m16.5 0h12m3 0h4.5m10.5 0h12m24 0h7.5m10.5 0h4.5m18 0h1.5m72 0h18M413 617.25h3m10.5 0h3m3 0h3m3 0h3m7.5 0h4.5m30 0h3m28.5 0h1.5m1.5 0h1.5m40.5 0h1.5m3 0h3m12 0h4.5m1.5 0h1.5m13.5 0h6m3 0h1.5m13.5 0h3m12 0h4.5m16.5 0h6m1.5 0h4.5m3 0h4.5m10.5 0h13.5m10.5 0h3m10.5 0h4.5m7.5 0h1.5m3 0h4.5m91.5 0h18M414.5 618.75h3m9 0h4.5m4.5 0h6m9 0h3m30 0h4.5m27 0h1.5m1.5 0h1.5m45 0h3m13.5 0h1.5m3 0h1.5m13.5 0h6m16.5 0h4.5m12 0h4.5m16.5 0h6m1.5 0h13.5m9 0h13.5m10.5 0h3m10.5 0h4.5m6 0h3m3 0h4.5m90 0h21M417.5 620.25h3m7.5 0h4.5m3 0h9m3 0h3m3 0h3m18 0h4.5m4.5 0h6m30 0h1.5m40.5 0h7.5m13.5 0h3m16.5 0h9m10.5 0h3m3 0h3m9 0h6m4.5 0h7.5m4.5 0h25.5m3 0h4.5m1.5 0h6m7.5 0h1.5m3 0h3m10.5 0h4.5m6 0h4.5m1.5 0h4.5m90 0h21M419 621.75h1.5m9 0h3m3 0h4.5m3 0h1.5m1.5 0h4.5m3 0h3m19.5 0h4.5m3 0h6m27 0h1.5m1.5 0h3m39 0h9m31.5 0h7.5m12 0h1.5m6 0h1.5m10.5 0h6m3 0h9m4.5 0h31.5m1.5 0h6m7.5 0h1.5m16.5 0h4.5m6 0h10.5m88.5 0h24M429.5 623.25h1.5m13.5 0h12m6 0h3m15 0h6m30 0h3m1.5 0h3m40.5 0h9m31.5 0h7.5m18 0h1.5m9 0h6m4.5 0h7.5m9 0h1.5m6 0h3m3 0h6m1.5 0h6m1.5 0h6m9 0h9m9 0h1.5m7.5 0h4.5m1.5 0h4.5m88.5 0h34.5M431 624.75h1.5m12 0h1.5m1.5 0h7.5m7.5 0h3m16.5 0h4.5m30 0h3m3 0h1.5m42 0h9m30 0h6m10.5 0h1.5m7.5 0h3m1.5 0h3m3 0h6m6 0h4.5m18 0h3m3 0h1.5m3 0h1.5m1.5 0h6m1.5 0h6m9 0h7.5m10.5 0h1.5m7.5 0h3m3 0h4.5m90 0h34.5M432.5 626.25h3m10.5 0h7.5m9 0h1.5m1.5 0h3m15 0h1.5m33 0h1.5m3 0h3m40.5 0h10.5m30 0h6m9 0h24m9 0h3m18 0h6m4.5 0h1.5m3 0h3m4.5 0h4.5m7.5 0h1.5m3 0h4.5m19.5 0h3m3 0h3m91.5 0h37.5M434 627.75h3m9 0h7.5m9 0h1.5m4.5 0h3m12 0h4.5m31.5 0h6m42 0h10.5m30 0h6m7.5 0h24m9 0h3m18 0h7.5m1.5 0h3m3 0h3m4.5 0h4.5m7.5 0h1.5m3 0h4.5m19.5 0h3m3 0h3m90 0h40.5M435.5 629.25h3m9 0h1.5m1.5 0h3m15 0h3m12 0h6m31.5 0h4.5m45 0h4.5m3 0h1.5m30 0h6m7.5 0h22.5m9 0h4.5m16.5 0h12m3 0h3m4.5 0h3m9 0h1.5m3 0h3m21 0h3m3 0h3m79.5 0h4.5m6 0h43.5M437 630.75h1.5m9 0h1.5m3 0h3m10.5 0h1.5m1.5 0h1.5m15 0h3m13.5 0h1.5m10.5 0h1.5m6 0h1.5m48 0h3m37.5 0h4.5m12 0h4.5m1.5 0h12m7.5 0h7.5m7.5 0h4.5m3 0h12m3 0h3m4.5 0h4.5m7.5 0h1.5m3 0h3m22.5 0h1.5m84 0h7.5m4.5 0h45M438.5 632.25h6m3 0h3m1.5 0h4.5m10.5 0h7.5m12 0h1.5m13.5 0h4.5m7.5 0h3m3 0h3m45 0h6m6 0h3m30 0h3m21 0h9m7.5 0h7.5m1.5 0h1.5m3 0h10.5m4.5 0h6m12 0h3m7.5 0h1.5m3 0h4.5m108 0h55.5M441.5 633.75h3m3 0h3m1.5 0h4.5m12 0h6m27 0h6m6 0h3m3 0h3m45 0h9m3 0h3m1.5 0h3m25.5 0h1.5m25.5 0h9m6 0h21m24 0h1.5m9 0h1.5m3 0h6m106.5 0h4.5m3 0h37.5m4.5 0h6M444.5 635.25h1.5m1.5 0h3m21 0h3m28.5 0h4.5m6 0h6m3 0h1.5m45 0h19.5m12 0h3m10.5 0h1.5m24 0h3m3 0h3m6 0h22.5m6 0h3m13.5 0h3m7.5 0h1.5m3 0h6m33 0h4.5m3 0h3m55.5 0h1.5m13.5 0h33M446 636.75h4.5m21 0h1.5m40.5 0h3m1.5 0h1.5m3 0h1.5m46.5 0h18m3 0h1.5m7.5 0h4.5m34.5 0h3m3 0h3m6 0h19.5m6 0h3m16.5 0h3m7.5 0h1.5m3 0h6m3 0h3m27 0h10.5m55.5 0h1.5m10.5 0h33M515 638.25h1.5m3 0h1.5m49.5 0h25.5m4.5 0h3m1.5 0h1.5m9 0h3m22.5 0h1.5m3 0h3m7.5 0h4.5m9 0h6m3 0h3m10.5 0h3m3 0h4.5m12 0h1.5m1.5 0h3m3 0h3m27 0h1.5m1.5 0h7.5m55.5 0h3m9 0h34.5M516.5 639.75h1.5m1.5 0h1.5m51 0h25.5m3 0h3m3 0h1.5m9 0h1.5m22.5 0h1.5m1.5 0h6m7.5 0h3m10.5 0h7.5m13.5 0h3m3 0h4.5m12 0h1.5m7.5 0h4.5m25.5 0h1.5m1.5 0h9m64.5 0h37.5M516.5 641.25h6m49.5 0h33m1.5 0h1.5m4.5 0h1.5m4.5 0h3m19.5 0h9m7.5 0h3m10.5 0h4.5m16.5 0h3m1.5 0h6m12 0h1.5m10.5 0h3m27 0h6m69 0h36M486.5 642.75h3m28.5 0h6m48 0h9m1.5 0h9m1.5 0h12m1.5 0h3m1.5 0h4.5m3 0h3m15 0h7.5m1.5 0h4.5m9 0h1.5m10.5 0h4.5m16.5 0h10.5m12 0h1.5m3 0h1.5m6 0h3m103.5 0h34.5M461 644.25h3m21 0h4.5m28.5 0h7.5m48 0h6m6 0h6m6 0h1.5m10.5 0h7.5m3 0h6m4.5 0h9m6 0h3m21 0h6m16.5 0h9m10.5 0h1.5m1.5 0h3m7.5 0h6m103.5 0h31.5M461 645.75h1.5m1.5 0h1.5m4.5 0h1.5m1.5 0h3m10.5 0h3m30 0h6m48 0h3m10.5 0h1.5m9 0h1.5m7.5 0h12m3 0h18m6 0h3m9 0h1.5m10.5 0h6m16.5 0h9m9 0h7.5m6 0h9m100.5 0h7.5m4.5 0h19.5M462.5 647.25h3m6 0h7.5m7.5 0h6m82.5 0h1.5m15 0h3m13.5 0h7.5m3 0h1.5m3 0h7.5m3 0h4.5m4.5 0h6m7.5 0h3m9 0h6m16.5 0h3m3 0h6m7.5 0h6m7.5 0h9m58.5 0h4.5m36 0h6m6 0h18M464 648.75h1.5m6 0h9m6 0h1.5m1.5 0h1.5m85.5 0h1.5m13.5 0h10.5m6 0h7.5m3 0h3m3 0h6m4.5 0h1.5m9 0h3m6 0h4.5m7.5 0h6m18 0h1.5m4.5 0h6m7.5 0h6m7.5 0h3m1.5 0h4.5m28.5 0h7.5m18 0h3m1.5 0h1.5m1.5 0h1.5m36 0h6m6 0h15M465.5 650.25h1.5m4.5 0h1.5m1.5 0h4.5m1.5 0h1.5m4.5 0h6m81 0h7.5m7.5 0h1.5m1.5 0h13.5m4.5 0h6m6 0h4.5m1.5 0h1.5m19.5 0h4.5m3 0h1.5m7.5 0h10.5m15 0h1.5m3 0h9m4.5 0h7.5m7.5 0h3m1.5 0h4.5m25.5 0h7.5m1.5 0h3m16.5 0h9m48 0h15m36 0h1.5m4.5 0h3M465.5 651.75h3m4.5 0h6m1.5 0h3m6 0h4.5m79.5 0h9m6 0h3m1.5 0h12m4.5 0h6m6 0h4.5m3 0h1.5m18 0h9m6 0h9m6 0h3m9 0h1.5m3 0h7.5m6 0h7.5m12 0h6m21 0h10.5m1.5 0h3m1.5 0h4.5m1.5 0h4.5m4.5 0h7.5m12 0h4.5m30 0h18m36 0h9M465.5 653.25h1.5m7.5 0h4.5m3 0h3m4.5 0h1.5m1.5 0h3m18 0h1.5m60 0h9m6 0h1.5m3 0h10.5m6 0h1.5m3 0h1.5m12 0h1.5m10.5 0h3m7.5 0h1.5m10.5 0h7.5m4.5 0h9m6 0h1.5m1.5 0h9m6 0h7.5m10.5 0h10.5m15 0h4.5m1.5 0h4.5m1.5 0h1.5m1.5 0h3m1.5 0h15m3 0h3m9 0h9m27 0h21m36 0h10.5M465.5 654.75h1.5m1.5 0h1.5m4.5 0h6m3 0h1.5m1.5 0h4.5m1.5 0h3m18 0h1.5m58.5 0h4.5m4.5 0h3m4.5 0h1.5m6 0h9m9 0h3m21 0h6m6 0h1.5m10.5 0h6m6 0h3m12 0h1.5m1.5 0h9m6 0h7.5m10.5 0h10.5m13.5 0h4.5m4.5 0h1.5m3 0h1.5m1.5 0h3m1.5 0h19.5m1.5 0h18m25.5 0h22.5m34.5 0h12M470 656.25h1.5m3 0h18m3 0h3m75 0h3m6 0h10.5m4.5 0h10.5m4.5 0h3m1.5 0h1.5m12 0h1.5m9 0h6m4.5 0h1.5m3 0h1.5m6 0h6m6 0h1.5m13.5 0h12m6 0h7.5m12 0h10.5m4.5 0h3m7.5 0h1.5m9 0h1.5m1.5 0h3m1.5 0h37.5m27 0h6m3 0h13.5m33 0h13.5m51 0h1.5M470 657.75h1.5m4.5 0h3m3 0h10.5m3 0h3m75 0h3m6 0h12m3 0h12m4.5 0h1.5m1.5 0h3m10.5 0h3m7.5 0h3m1.5 0h3m1.5 0h7.5m3 0h7.5m7.5 0h1.5m13.5 0h12m6 0h7.5m13.5 0h10.5m3 0h7.5m3 0h1.5m10.5 0h4.5m1.5 0h36m30 0h1.5m7.5 0h12m33 0h12m52.5 0h3M468.5 659.25h3m6 0h9m4.5 0h1.5m3 0h3m70.5 0h1.5m3 0h4.5m7.5 0h10.5m3 0h12m4.5 0h4.5m13.5 0h10.5m1.5 0h19.5m27 0h24m13.5 0h10.5m3 0h1.5m3 0h6m12 0h4.5m1.5 0h36m39 0h13.5M477.5 660.75h9m9 0h3m3 0h1.5m73.5 0h1.5m7.5 0h6m1.5 0h4.5m3 0h10.5m4.5 0h4.5m13.5 0h10.5m4.5 0h15m30 0h22.5m15 0h9m3 0h1.5m3 0h6m12 0h4.5m1.5 0h36m28.5 0h1.5m9 0h15m94.5 0h1.5M479 662.25h1.5m10.5 0h1.5m4.5 0h1.5m3 0h4.5m72 0h1.5m7.5 0h10.5m6 0h3m3 0h3m13.5 0h1.5m7.5 0h25.5m34.5 0h4.5m6 0h10.5m16.5 0h6m4.5 0h1.5m3 0h6m13.5 0h1.5m4.5 0h28.5m25.5 0h7.5m12 0h16.5m43.5 0h6M477.5 663.75h1.5m1.5 0h1.5m9 0h1.5m4.5 0h1.5m4.5 0h3m72 0h1.5m9 0h9m6 0h1.5m4.5 0h4.5m21 0h6m1.5 0h16.5m36 0h4.5m1.5 0h1.5m3 0h4.5m3 0h3m16.5 0h6m3 0h3m3 0h6m13.5 0h1.5m4.5 0h28.5m25.5 0h7.5m12 0h15m45 0h6m4.5 0h1.5M497 665.25h3m4.5 0h4.5m69 0h3m9 0h9m9 0h7.5m12 0h3m4.5 0h7.5m3 0h1.5m4.5 0h9m36 0h10.5m4.5 0h4.5m25.5 0h3m3 0h3m15 0h3m6 0h24m27 0h10.5m9 0h12m19.5 0h3m15 0h3m9 0h4.5m6 0h4.5M497 666.75h3m4.5 0h6m58.5 0h1.5m6 0h4.5m10.5 0h7.5m7.5 0h9m13.5 0h1.5m4.5 0h7.5m9 0h9m36 0h10.5m4.5 0h4.5m25.5 0h3m3 0h3m15 0h3m6 0h24m27 0h12m6 0h13.5m19.5 0h3m12 0h6m9 0h4.5m7.5 0h3m1.5 0h1.5M569 668.25h1.5m7.5 0h4.5m9 0h7.5m10.5 0h6m13.5 0h4.5m1.5 0h7.5m3 0h1.5m6 0h7.5m21 0h3m18 0h6m3 0h1.5m1.5 0h3m24 0h3m3 0h1.5m4.5 0h3m9 0h3m6 0h22.5m25.5 0h18m1.5 0h16.5m12 0h1.5m6 0h19.5m10.5 0h4.5m6 0h6m27 0h3m9 0h4.5m15 0h1.5m30 0h9m3 0h6M579.5 669.75h3m10.5 0h6m10.5 0h7.5m13.5 0h6m1.5 0h6m1.5 0h3m3 0h9m21 0h4.5m10.5 0h1.5m4.5 0h6m3 0h1.5m3 0h1.5m24 0h3m3 0h1.5m4.5 0h3m10.5 0h1.5m6 0h24m25.5 0h25.5m3 0h6m21 0h18m12 0h4.5m4.5 0h4.5m18 0h1.5m9 0h7.5m1.5 0h7.5m13.5 0h6m27 0h18M581 671.25h4.5m9 0h4.5m15 0h4.5m12 0h6m3 0h10.5m1.5 0h10.5m12 0h12m9 0h4.5m3 0h6m3 0h6m24 0h3m3 0h1.5m25.5 0h22.5m28.5 0h22.5m19.5 0h6m6 0h15m16.5 0h13.5m15 0h3m3 0h21m13.5 0h10.5m25.5 0h16.5M582.5 672.75h3m9 0h6m15 0h3m13.5 0h3m4.5 0h10.5m1.5 0h10.5m12 0h12m9 0h4.5m3 0h6m3 0h6m24 0h3m3 0h1.5m18 0h3m4.5 0h22.5m30 0h22.5m18 0h27m18 0h12m10.5 0h31.5m12 0h12m27 0h15M584 674.25h3m9 0h4.5m6 0h3m34.5 0h19.5m10.5 0h12m7.5 0h7.5m1.5 0h6m3 0h6m25.5 0h3m1.5 0h1.5m16.5 0h6m3 0h24m30 0h21m1.5 0h1.5m9 0h24m3 0h3m24 0h7.5m12 0h31.5m12 0h15m27 0h12M585.5 675.75h3m9 0h3m6 0h4.5m27 0h1.5m6 0h19.5m7.5 0h13.5m7.5 0h7.5m3 0h4.5m3 0h4.5m28.5 0h4.5m16.5 0h6m3 0h28.5m25.5 0h24m6 0h28.5m28.5 0h4.5m16.5 0h30m12 0h15m28.5 0h10.5M585.5 677.25h4.5m10.5 0h1.5m4.5 0h1.5m3 0h1.5m10.5 0h1.5m12 0h4.5m4.5 0h19.5m7.5 0h1.5m1.5 0h9m9 0h1.5m4.5 0h1.5m3 0h4.5m3 0h3m9 0h3m19.5 0h1.5m18 0h6m3 0h33m21 0h18m1.5 0h1.5m10.5 0h30m46.5 0h27m15 0h15m30 0h10.5M588.5 678.75h3m9 0h3m3 0h1.5m3 0h1.5m27 0h3m3 0h18m9 0h1.5m1.5 0h9m9 0h1.5m4.5 0h1.5m3 0h12m7.5 0h3m39 0h6m3 0h33m21 0h12m21 0h30m45 0h30m12 0h16.5m30 0h10.5M588.5 680.25h3m10.5 0h7.5m3 0h1.5m27 0h3m1.5 0h15m12 0h1.5m1.5 0h9m9 0h1.5m4.5 0h3m1.5 0h13.5m4.5 0h4.5m30 0h1.5m7.5 0h6m3 0h33m21 0h12m21 0h30m48 0h1.5m10.5 0h15m12 0h21m27 0h9M590 681.75h1.5m13.5 0h4.5m3 0h3m30 0h6m1.5 0h7.5m12 0h12m6 0h3m6 0h3m1.5 0h13.5m4.5 0h4.5m30 0h3m6 0h6m1.5 0h36m19.5 0h7.5m1.5 0h1.5m15 0h1.5m6 0h30m60 0h15m12 0h22.5m25.5 0h9M591.5 683.25h3m12 0h1.5m1.5 0h1.5m4.5 0h1.5m37.5 0h3m6 0h12m6 0h1.5m6 0h4.5m6 0h3m1.5 0h7.5m3 0h3m37.5 0h4.5m6 0h6m1.5 0h39m16.5 0h6m13.5 0h7.5m3 0h33m21 0h6m39 0h9m12 0h24m24 0h7.5M593 684.75h1.5m12 0h1.5m1.5 0h3m3 0h3m36 0h6m4.5 0h7.5m16.5 0h4.5m6 0h3m1.5 0h7.5m3 0h3m37.5 0h6m4.5 0h49.5m13.5 0h6m12 0h9m6 0h30m21 0h6m15 0h1.5m24 0h7.5m12 0h24m24 0h6M606.5 686.25h1.5m10.5 0h3m24 0h16.5m36 0h4.5m6 0h3m3 0h3m39 0h4.5m4.5 0h4.5m1.5 0h46.5m10.5 0h3m15 0h10.5m4.5 0h30m3 0h4.5m12 0h9m12 0h4.5m24 0h6m13.5 0h21m25.5 0h6M594.5 687.75h1.5m10.5 0h3m3 0h1.5m4.5 0h3m24 0h16.5m36 0h4.5m4.5 0h4.5m3 0h1.5m40.5 0h4.5m4.5 0h4.5m1.5 0h48m9 0h3m15 0h12m6 0h27m3 0h6m9 0h10.5m10.5 0h7.5m22.5 0h6m13.5 0h21m25.5 0h6M582.5 689.25h9m3 0h1.5m13.5 0h13.5m22.5 0h18m33 0h3m1.5 0h1.5m9 0h1.5m1.5 0h1.5m22.5 0h16.5m1.5 0h6m3 0h9m6 0h54m12 0h13.5m1.5 0h10.5m1.5 0h19.5m1.5 0h9m6 0h10.5m10.5 0h7.5m22.5 0h6m13.5 0h15m1.5 0h3m27 0h9M582.5 690.75h9m3 0h1.5m13.5 0h3m1.5 0h10.5m13.5 0h1.5m7.5 0h12m37.5 0h9m9 0h3m6 0h1.5m10.5 0h27m3 0h9m6 0h54m6 0h3m3 0h15m1.5 0h9m1.5 0h21m1.5 0h6m7.5 0h12m9 0h7.5m24 0h4.5m13.5 0h13.5m3 0h1.5m28.5 0h9M585.5 692.25h6m4.5 0h1.5m13.5 0h1.5m3 0h9m15 0h1.5m9 0h9m40.5 0h6m13.5 0h6m7.5 0h13.5m3 0h3m1.5 0h9m3 0h7.5m7.5 0h90m3 0h22.5m1.5 0h3m10.5 0h10.5m9 0h6m1.5 0h1.5m24 0h3m12 0h13.5m34.5 0h7.5M585.5 693.75h1.5m1.5 0h6m16.5 0h3m1.5 0h9m27 0h7.5m40.5 0h6m18 0h1.5m4.5 0h16.5m1.5 0h6m4.5 0h4.5m3 0h7.5m9 0h85.5m7.5 0h22.5m1.5 0h1.5m15 0h6m10.5 0h7.5m15 0h3m6 0h3m12 0h13.5m34.5 0h6M585.5 695.25h3m1.5 0h6m1.5 0h3m12 0h13.5m25.5 0h7.5m42 0h4.5m13.5 0h13.5m3 0h9m3 0h9m4.5 0h10.5m15 0h76.5m13.5 0h22.5m16.5 0h6m15 0h6m9 0h7.5m3 0h4.5m10.5 0h13.5m36 0h4.5M587 696.75h9m3 0h1.5m12 0h7.5m1.5 0h4.5m27 0h6m43.5 0h3m13.5 0h6m1.5 0h6m6 0h3m3 0h13.5m6 0h7.5m15 0h78m15 0h21m15 0h6m15 0h28.5m12 0h13.5M594.5 698.25h3m3 0h1.5m6 0h1.5m3 0h7.5m3 0h4.5m9 0h4.5m61.5 0h9m3 0h7.5m16.5 0h1.5m4.5 0h7.5m3 0h1.5m30 0h78m16.5 0h19.5m13.5 0h9m13.5 0h9m3 0h13.5m15 0h13.5M594.5 699.75h9m3 0h15m1.5 0h4.5m9 0h6m61.5 0h7.5m3 0h7.5m15 0h3m3 0h7.5m9 0h1.5m25.5 0h78m18 0h18m12 0h12m13.5 0h4.5m6 0h13.5m16.5 0h12M600.5 701.25h9m3 0h9m3 0h4.5m7.5 0h1.5m13.5 0h1.5m52.5 0h7.5m1.5 0h4.5m7.5 0h3m4.5 0h13.5m3 0h1.5m6 0h4.5m24 0h78m16.5 0h19.5m12 0h12m25.5 0h16.5m12 0h9M707 702.75h7.5m9 0h6m4.5 0h13.5m3 0h3m3 0h4.5m25.5 0h78m15 0h21m12 0h13.5m22.5 0h19.5m10.5 0h9M708.5 704.25h6m7.5 0h4.5m7.5 0h4.5m3 0h3m7.5 0h1.5m1.5 0h3m7.5 0h1.5m24 0h36m1.5 0h12m4.5 0h19.5m16.5 0h19.5m12 0h3m4.5 0h4.5m24 0h21m9 0h10.5M710 705.75h4.5m7.5 0h3m7.5 0h3m3 0h6m6 0h6m9 0h1.5m3 0h1.5m21 0h33m1.5 0h13.5m9 0h15m18 0h19.5m10.5 0h3m31.5 0h22.5m9 0h12M711.5 707.25h3m16.5 0h3m3 0h10.5m1.5 0h4.5m9 0h9m21 0h24m7.5 0h13.5m19.5 0h6m19.5 0h19.5m12 0h3m25.5 0h10.5m6 0h12m7.5 0h15M713 708.75h1.5m15 0h4.5m1.5 0h16.5m9 0h19.5m12 0h18m13.5 0h13.5m21 0h3m15 0h25.5m13.5 0h1.5m22.5 0h13.5m6 0h10.5m7.5 0h16.5M728 710.25h9m4.5 0h9m12 0h19.5m12 0h16.5m13.5 0h1.5m7.5 0h3m39 0h1.5m6 0h21m25.5 0h3m7.5 0h15m3 0h9m10.5 0h16.5M726.5 711.75h9m7.5 0h4.5m15 0h24m9 0h15m22.5 0h3m46.5 0h21m25.5 0h3m7.5 0h27m9 0h19.5M725 713.25h6m28.5 0h12m6 0h10.5m7.5 0h15m3 0h3m18 0h1.5m39 0h28.5m37.5 0h6m4.5 0h7.5m4.5 0h4.5m9 0h19.5M723.5 714.75h7.5m28.5 0h9m9 0h10.5m9 0h13.5m3 0h4.5m54 0h33m19.5 0h3m15 0h3m6 0h6m6 0h4.5m10.5 0h18M722 716.25h6m13.5 0h3m12 0h4.5m1.5 0h6m9 0h9m7.5 0h15m7.5 0h1.5m52.5 0h30m1.5 0h1.5m18 0h6m25.5 0h4.5m9 0h3m9 0h18M720.5 717.75h6m15 0h3m12 0h4.5m1.5 0h6m9 0h10.5m6 0h15m69 0h22.5m19.5 0h7.5m25.5 0h4.5m9 0h3m7.5 0h19.5M738.5 719.25h4.5m12 0h1.5m6 0h12m3 0h12m3 0h18m6 0h3m48 0h3m9 0h10.5m3 0h7.5m19.5 0h7.5m12 0h6m6 0h9m3 0h6m6 0h21M737 720.75h4.5m12 0h3m6 0h49.5m4.5 0h6m27 0h3m13.5 0h4.5m9 0h10.5m4.5 0h4.5m21 0h6m12 0h7.5m6 0h9m3 0h6m6 0h21M732.5 722.25h7.5m12 0h6m1.5 0h4.5m1.5 0h3m6 0h49.5m22.5 0h9m4.5 0h10.5m12 0h6m10.5 0h1.5m36 0h9m6 0h18m4.5 0h22.5M732.5 723.75h7.5m12 0h10.5m3 0h3m6 0h49.5m22.5 0h9m3 0h13.5m10.5 0h4.5m49.5 0h9m7.5 0h16.5m6 0h7.5m3 0h10.5M728 725.25h4.5m3 0h3m12 0h7.5m1.5 0h3m3 0h1.5m1.5 0h43.5m1.5 0h4.5m3 0h3m25.5 0h22.5m57 0h3m22.5 0h12m12 0h3m4.5 0h12M729.5 726.75h3m3 0h1.5m13.5 0h12m1.5 0h3m1.5 0h9m3 0h31.5m1.5 0h3m34.5 0h21m12 0h1.5m43.5 0h4.5m21 0h12m12 0h3m4.5 0h12M729.5 728.25h6m15 0h24m6 0h31.5m1.5 0h3m36 0h24m6 0h1.5m46.5 0h3m21 0h1.5m7.5 0h3m13.5 0h1.5m4.5 0h13.5M731 729.75h4.5m15 0h24m6 0h33m1.5 0h3m34.5 0h24m1.5 0h6m48 0h1.5m31.5 0h3m13.5 0h18M732.5 731.25h3m12 0h7.5m7.5 0h3m4.5 0h1.5m6 0h7.5m1.5 0h28.5m1.5 0h1.5m34.5 0h25.5m1.5 0h3m100.5 0h16.5M732.5 732.75h4.5m10.5 0h6m22.5 0h7.5m4.5 0h28.5m36 0h24m3 0h3m102 0h9m1.5 0h4.5M732.5 734.25h4.5m10.5 0h4.5m22.5 0h6m10.5 0h25.5m36 0h13.5m4.5 0h4.5m109.5 0h7.5M732.5 735.75h6m10.5 0h1.5m22.5 0h6m10.5 0h27m34.5 0h15m4.5 0h3m111 0h7.5M734 737.25h4.5m33 0h1.5m3 0h1.5m9 0h30m33 0h18m118.5 0h4.5M734 738.75h4.5m9 0h1.5m21 0h1.5m3 0h3m18 0h21m33 0h16.5m31.5 0h9m79.5 0h4.5M735.5 740.25h6m4.5 0h4.5m18 0h1.5m3 0h3m4.5 0h3m21 0h12m24 0h4.5m7.5 0h12m31.5 0h16.5m24 0h3m48 0h3M735.5 741.75h7.5m1.5 0h6m22.5 0h1.5m31.5 0h10.5m22.5 0h6m7.5 0h12m30 0h19.5m22.5 0h3m48 0h3M738.5 743.25h6m3 0h3m15 0h3m3 0h1.5m34.5 0h3m4.5 0h4.5m18 0h6m9 0h12m30 0h7.5m4.5 0h9m22.5 0h3M738.5 744.75h6m3 0h3m6 0h1.5m4.5 0h4.5m3 0h1.5m45 0h3m16.5 0h9m7.5 0h12m30 0h7.5m4.5 0h15m19.5 0h1.5M741.5 746.25h12m1.5 0h9m1.5 0h4.5m49.5 0h9m6 0h12m3 0h13.5m36 0h1.5m6 0h18M741.5 747.75h6m3 0h12m3 0h3m51 0h4.5m4.5 0h1.5m1.5 0h15m3 0h12m45 0h19.5M744.5 749.25h3m3 0h4.5m7.5 0h3m66 0h6m1.5 0h1.5m10.5 0h9m49.5 0h18M744.5 750.75h3m15 0h3m66 0h6m15 0h6m57 0h13.5M747.5 752.25h1.5m10.5 0h6m1.5 0h1.5m147 0h15M753.5 753.75h1.5m3 0h6m1.5 0h3m148.5 0h7.5M752 755.25h10.5m1.5 0h7.5m124.5 0h7.5m13.5 0h4.5M753.5 756.75h6m7.5 0h3m109.5 0h7.5m7.5 0h15m7.5 0h4.5M756.5 758.25h1.5m9 0h1.5m105 0h12m9 0h15M758 759.75h1.5m7.5 0h1.5m103.5 0h15m7.5 0h15M872 761.25h13.5m9 0h13.5M872 762.75h15m7.5 0h13.5M873.5 764.25h15m3 0h15M875 765.75h15m1.5 0h15m315 0h4.5M876.5 767.25h25.5m316.5 0h7.5M876.5 768.75h25.5m316.5 0h9M878 770.25h19.5m318 0h13.5M878 771.75h16.5m319.5 0h15M878 773.25h12m322.5 0h18M878 774.75h10.5m322.5 0h19.5M876.5 776.25h6m6 0h3m307.5 0h1.5m4.5 0h3m1.5 0h21M876.5 777.75h3m3 0h1.5m6 0h1.5m303 0h3m9 0h25.5M876.5 779.25h3m3 0h4.5m1.5 0h1.5m316.5 0h28.5M876.5 780.75h12m318 0h30M878 782.25h13.5m315 0h31.5M878 783.75h13.5m315 0h31.5M879.5 785.25h6m1.5 0h4.5m316.5 0h30M881 786.75h9m318 0h30M885.5 788.25h3m319.5 0h30M1206.5 789.75h31.5M879.5 791.25h4.5m322.5 0h30M879.5 792.75h3m324 0h30M878 794.25h4.5m321 0h30M878 795.75h3m322.5 0h30M873.5 797.25h1.5m1.5 0h3m325.5 0h28.5M873.5 798.75h4.5m331.5 0h21M873.5 800.25h1.5m336 0h18M872 801.75h1.5m339 0h16.5M1212.5 803.25h16.5M1212.5 804.75h16.5M1214 806.25h15M1214 807.75h15M1214 809.25h15M875 810.75h4.5m334.5 0h13.5m3 0h1.5M875 812.25h4.5m334.5 0h9m3 0h6M875 813.75h4.5m336 0h6m3 0h7.5M873.5 815.25h9m339 0h12M875 816.75h6m339 0h13.5M873.5 818.25h7.5m331.5 0h22.5M873.5 819.75h7.5m330 0h24M875 821.25h1.5m336 0h24M1212.5 822.75h24M1212.5 824.25h24M1212.5 825.75h24M1214 827.25h22.5M1214 828.75h24M1217 830.25h21M1221.5 831.75h15M1224.5 833.25h13.5m4.5 0h1.5M1226 834.75h1.5m1.5 0h12M1232 836.25h12M1235 837.75h10.5M1236.5 839.25h12M1248.5 840.75h1.5M1248.5 848.25h1.5M1248.5 849.75h3"/>
<path stroke="#1a71cf" d="M351.5 236.25h15m3 0h3m16.5 0h1.5m12 0h1.5m45 0h4.5M351.5 237.75h15m3 0h1.5m18 0h1.5m58.5 0h4.5m24 0h1.5m1.5 0h1.5M351.5 239.25h15m1.5 0h1.5m19.5 0h1.5m10.5 0h1.5m13.5 0h3m1.5 0h3m27 0h1.5m24 0h1.5m1.5 0h1.5m1.5 0h1.5M351.5 240.75h15m1.5 0h4.5m16.5 0h3m10.5 0h1.5m10.5 0h3m3 0h1.5m55.5 0h3m1.5 0h1.5M350 242.25h16.5m3 0h10.5m10.5 0h3m4.5 0h1.5m3 0h1.5m10.5 0h3m60 0h3m1.5 0h1.5M350 243.75h18m10.5 0h3m9 0h1.5m6 0h7.5m9 0h3m60 0h3M354.5 245.25h24m19.5 0h7.5m9 0h1.5m27 0h1.5M357.5 246.75h4.5m6 0h10.5m19.5 0h7.5m18 0h1.5m18 0h1.5m3 0h1.5m30 0h1.5M357.5 248.25h3m6 0h1.5m1.5 0h10.5m4.5 0h4.5m10.5 0h6m18 0h3m15 0h3m1.5 0h6m27 0h1.5M357.5 249.75h4.5m6 0h1.5m1.5 0h6m1.5 0h1.5m4.5 0h4.5m12 0h4.5m18 0h3m16.5 0h1.5m3 0h6m21 0h3m1.5 0h1.5M309.5 251.25h3m45 0h4.5m6 0h3m7.5 0h3m3 0h1.5m15 0h4.5m40.5 0h1.5m1.5 0h7.5m1.5 0h1.5m15 0h3M311 252.75h1.5m45 0h6m3 0h6m3 0h6m19.5 0h4.5m45 0h6m1.5 0h1.5m10.5 0h1.5m3 0h3M356 254.25h4.5m1.5 0h7.5m7.5 0h1.5m3 0h1.5m18 0h4.5m46.5 0h4.5m15 0h6M324.5 255.75h1.5m30 0h6m1.5 0h6m13.5 0h1.5m16.5 0h4.5m66 0h1.5m15 0h1.5M312.5 257.25h1.5m28.5 0h3m12 0h9m1.5 0h1.5m15 0h3m13.5 0h4.5m49.5 0h1.5m7.5 0h1.5m3 0h1.5m9 0h10.5M342.5 258.75h3m12 0h9m1.5 0h1.5m9 0h1.5m1.5 0h1.5m1.5 0h3m12 0h6m28.5 0h3m19.5 0h3m3 0h6m9 0h13.5M312.5 260.25h4.5m3 0h1.5m21 0h4.5m10.5 0h10.5m1.5 0h1.5m7.5 0h3m18 0h7.5m16.5 0h1.5m31.5 0h3m1.5 0h6m10.5 0h13.5M314 261.75h10.5m15 0h1.5m1.5 0h4.5m12 0h9m1.5 0h3m4.5 0h4.5m9 0h1.5m7.5 0h7.5m16.5 0h3m4.5 0h1.5m24 0h3m1.5 0h4.5m10.5 0h16.5M315.5 263.25h9m12 0h1.5m1.5 0h3m3 0h1.5m13.5 0h22.5m4.5 0h3m9 0h7.5m15 0h15m22.5 0h6m7.5 0h7.5m4.5 0h7.5M315.5 264.75h9m13.5 0h6m1.5 0h3m12 0h9m1.5 0h12m4.5 0h3m12 0h4.5m13.5 0h16.5m33 0h9m3 0h1.5m3 0h6M315.5 266.25h12m10.5 0h10.5m9 0h12m3 0h4.5m1.5 0h3m7.5 0h1.5m9 0h1.5m1.5 0h7.5m7.5 0h21m18 0h3m3 0h1.5m4.5 0h9m12 0h3M317 267.75h10.5m1.5 0h1.5m7.5 0h7.5m1.5 0h1.5m9 0h12m9 0h3m7.5 0h1.5m9 0h12m4.5 0h22.5m3 0h1.5m3 0h1.5m6 0h10.5m1.5 0h12m1.5 0h1.5M317 269.25h12m10.5 0h6m16.5 0h7.5m3 0h3m1.5 0h4.5m21 0h16.5m1.5 0h24m1.5 0h1.5m3 0h27m10.5 0h3M318.5 270.75h13.5m7.5 0h3m1.5 0h1.5m12 0h4.5m3 0h10.5m3 0h3m10.5 0h1.5m10.5 0h15m1.5 0h24m1.5 0h1.5m3 0h12m3 0h13.5m10.5 0h1.5M320 272.25h12m7.5 0h4.5m10.5 0h3m4.5 0h1.5m3 0h9m16.5 0h1.5m9 0h16.5m1.5 0h24m3 0h3m1.5 0h9m1.5 0h3m3 0h1.5m1.5 0h9m9 0h3m1.5 0h1.5M320 273.75h10.5m10.5 0h1.5m3 0h1.5m9 0h1.5m4.5 0h1.5m3 0h9m16.5 0h3m6 0h43.5m3 0h1.5m4.5 0h7.5m7.5 0h1.5m3 0h7.5m10.5 0h1.5M320 275.25h7.5m28.5 0h1.5m4.5 0h1.5m1.5 0h10.5m1.5 0h1.5m12 0h4.5m4.5 0h46.5m7.5 0h6m7.5 0h1.5m6 0h6m12 0h1.5M320 276.75h7.5m1.5 0h1.5m25.5 0h3m1.5 0h3m1.5 0h7.5m4.5 0h1.5m12 0h3m6 0h30m3 0h18m3 0h9m4.5 0h1.5m4.5 0h1.5m3 0h3m12 0h1.5M321.5 278.25h6m1.5 0h4.5m12 0h1.5m13.5 0h9m7.5 0h4.5m13.5 0h1.5m3 0h30m3 0h15m6 0h12m9 0h3M321.5 279.75h6m1.5 0h4.5m9 0h1.5m3 0h1.5m9 0h10.5m6 0h1.5m1.5 0h4.5m19.5 0h28.5m3 0h15m6 0h12m10.5 0h3m9 0h1.5M321.5 281.25h6m3 0h1.5m1.5 0h3m3 0h4.5m1.5 0h3m7.5 0h13.5m4.5 0h1.5m3 0h1.5m24 0h40.5m9 0h12M323 282.75h4.5m6 0h13.5m7.5 0h16.5m3 0h3m1.5 0h1.5m16.5 0h1.5m7.5 0h37.5m10.5 0h12m7.5 0h1.5M324.5 284.25h6m3 0h18m3 0h25.5m22.5 0h1.5m3 0h34.5m3 0h21m37.5 0h1.5m1.5 0h1.5M324.5 285.75h6m3 0h18m1.5 0h27m16.5 0h1.5m4.5 0h1.5m9 0h28.5m3 0h19.5m39 0h1.5m1.5 0h1.5M330.5 287.25h49.5m1.5 0h1.5m6 0h1.5m7.5 0h1.5m16.5 0h49.5m10.5 0h1.5m31.5 0h1.5M332 288.75h48m3 0h1.5m4.5 0h1.5m7.5 0h1.5m1.5 0h4.5m10.5 0h49.5m42 0h1.5M329 290.25h1.5m3 0h49.5m16.5 0h6m9 0h51m39 0h3M329 291.75h54m16.5 0h6m1.5 0h1.5m3 0h1.5m1.5 0h28.5m1.5 0h21m36 0h1.5M333.5 293.25h1.5m1.5 0h46.5m1.5 0h4.5m10.5 0h7.5m1.5 0h3m1.5 0h27m3 0h1.5m1.5 0h21m34.5 0h1.5M336.5 294.75h31.5m4.5 0h10.5m1.5 0h3m10.5 0h10.5m3 0h28.5m6 0h19.5m1.5 0h1.5M338 296.25h28.5m6 0h9m4.5 0h1.5m1.5 0h1.5m6 0h42m6 0h21M338 297.75h28.5m6 0h10.5m15 0h42m4.5 0h21m37.5 0h3M327.5 299.25h1.5m4.5 0h1.5m1.5 0h31.5m3 0h12m15 0h69m36 0h1.5M327.5 300.75h1.5m3 0h1.5m1.5 0h48m15 0h69M333.5 302.25h19.5m3 0h25.5m15 0h69M333.5 303.75h19.5m3 0h25.5m15 0h66M335 305.25h45m16.5 0h1.5m1.5 0h61.5m37.5 0h1.5m19.5 0h3M333.5 306.75h1.5m3 0h42m19.5 0h63m28.5 0h1.5m27 0h3M339.5 308.25h39m16.5 0h1.5m3 0h18m4.5 0h30m1.5 0h9m57 0h3M341 309.75h34.5m1.5 0h1.5m15 0h3m3 0h3m3 0h9m1.5 0h1.5m6 0h25.5m4.5 0h9m27 0h1.5M335 311.25h1.5m4.5 0h31.5m6 0h4.5m9 0h3m13.5 0h1.5m16.5 0h24m1.5 0h13.5m21 0h4.5m10.5 0h1.5M335 312.75h1.5m6 0h28.5m7.5 0h4.5m9 0h4.5m3 0h3m21 0h3m1.5 0h19.5m4.5 0h12m19.5 0h7.5m9 0h3M342.5 314.25h1.5m1.5 0h27m7.5 0h4.5m9 0h3m28.5 0h1.5m1.5 0h37.5m3 0h3m12 0h6m3 0h3M342.5 315.75h1.5m1.5 0h27m6 0h6m6 0h6m28.5 0h1.5m3 0h42m21 0h3m31.5 0h1.5M339.5 317.25h1.5m1.5 0h3m3 0h15m4.5 0h4.5m6 0h6m6 0h6m1.5 0h1.5m27 0h1.5m1.5 0h39m1.5 0h3m10.5 0h6m36 0h3M342.5 318.75h4.5m3 0h12m7.5 0h3m6 0h6m7.5 0h4.5m1.5 0h1.5m12 0h1.5m13.5 0h48m6 0h1.5m1.5 0h6m36 0h3M342.5 320.25h3m3 0h3m1.5 0h7.5m18 0h6m7.5 0h4.5m1.5 0h1.5m10.5 0h4.5m16.5 0h36m1.5 0h4.5m4.5 0h1.5m3 0h1.5m1.5 0h3m12 0h4.5m19.5 0h4.5M344 321.75h1.5m3 0h4.5m1.5 0h4.5m3 0h1.5m15 0h6m7.5 0h7.5m1.5 0h1.5m6 0h6m18 0h1.5m1.5 0h31.5m1.5 0h4.5m4.5 0h3m3 0h1.5m13.5 0h4.5m21 0h4.5M345.5 323.25h3m1.5 0h16.5m13.5 0h3m6 0h1.5m1.5 0h1.5m3 0h3m10.5 0h1.5m34.5 0h24m30 0h1.5m19.5 0h7.5M329 324.75h1.5m15 0h3m1.5 0h19.5m9 0h3m15 0h3m10.5 0h1.5m30 0h4.5m1.5 0h21m15 0h1.5m1.5 0h3m31.5 0h7.5M329 326.25h4.5m6 0h1.5m4.5 0h3m1.5 0h6m1.5 0h1.5m1.5 0h6m1.5 0h4.5m27 0h1.5m13.5 0h3m24 0h6m1.5 0h21m13.5 0h6m33 0h6M327.5 327.75h7.5m4.5 0h1.5m4.5 0h10.5m3 0h7.5m1.5 0h4.5m19.5 0h1.5m3 0h3m15 0h3m21 0h9m1.5 0h19.5m18 0h3m33 0h6M324.5 329.25h1.5m3 0h6m4.5 0h1.5m4.5 0h7.5m1.5 0h7.5m1.5 0h42m9 0h4.5m18 0h10.5m1.5 0h21m1.5 0h1.5m15 0h3m30 0h4.5M324.5 330.75h1.5m13.5 0h1.5m4.5 0h4.5m3 0h7.5m3 0h6m3 0h4.5m4.5 0h25.5m1.5 0h1.5m4.5 0h4.5m18 0h1.5m3 0h33m15 0h1.5m28.5 0h4.5M324.5 332.25h1.5m10.5 0h3m3 0h1.5m1.5 0h4.5m1.5 0h9m3 0h7.5m12 0h7.5m4.5 0h15m6 0h4.5m1.5 0h1.5m7.5 0h10.5m6 0h25.5m6 0h4.5m4.5 0h6M324.5 333.75h1.5m7.5 0h1.5m1.5 0h3m3 0h1.5m1.5 0h13.5m4.5 0h7.5m4.5 0h3m4.5 0h7.5m3 0h13.5m7.5 0h1.5m1.5 0h4.5m7.5 0h12m6 0h27m6 0h13.5M324.5 335.25h1.5m7.5 0h3m1.5 0h1.5m3 0h1.5m4.5 0h4.5m4.5 0h3m3 0h7.5m1.5 0h4.5m4.5 0h7.5m4.5 0h12m12 0h24m6 0h24m3 0h1.5m3 0h3M324.5 336.75h1.5m7.5 0h3m6 0h1.5m4.5 0h4.5m4.5 0h3m1.5 0h9m3 0h3m4.5 0h6m6 0h12m12 0h24m7.5 0h15m9 0h1.5m3 0h4.5m4.5 0h1.5M326 338.25h1.5m6 0h3m3 0h6m4.5 0h3m3 0h1.5m4.5 0h7.5m1.5 0h1.5m1.5 0h1.5m6 0h10.5m1.5 0h13.5m7.5 0h1.5m1.5 0h16.5m1.5 0h6m9 0h12m9 0h1.5m4.5 0h4.5m1.5 0h3m16.5 0h1.5M326 339.75h1.5m6 0h3m3 0h6m1.5 0h1.5m1.5 0h3m3 0h1.5m4.5 0h10.5m1.5 0h1.5m6 0h4.5m1.5 0h4.5m1.5 0h15m7.5 0h12m4.5 0h3m15 0h18m3 0h1.5m4.5 0h3m22.5 0h1.5M324.5 341.25h1.5m1.5 0h6m1.5 0h1.5m3 0h9m1.5 0h4.5m1.5 0h1.5m4.5 0h6m1.5 0h3m9 0h3m7.5 0h13.5m1.5 0h1.5m3 0h16.5m16.5 0h27m6 0h3M324.5 342.75h1.5m1.5 0h1.5m1.5 0h3m6 0h1.5m1.5 0h12m1.5 0h1.5m4.5 0h4.5m3 0h4.5m18 0h15m4.5 0h1.5m1.5 0h12m21 0h24m7.5 0h1.5M324.5 344.25h3m4.5 0h1.5m3 0h3m10.5 0h1.5m1.5 0h1.5m6 0h12m21 0h33m16.5 0h30M326 345.75h1.5m4.5 0h1.5m3 0h3m10.5 0h1.5m9 0h12m21 0h33m15 0h31.5m1.5 0h3M327.5 347.25h3m7.5 0h4.5m7.5 0h12m1.5 0h9m21 0h30m18 0h24m3 0h3m4.5 0h1.5M327.5 348.75h3m1.5 0h4.5m1.5 0h4.5m7.5 0h12m1.5 0h10.5m19.5 0h30m18 0h25.5m1.5 0h3M327.5 350.25h4.5m3 0h1.5m1.5 0h4.5m7.5 0h7.5m1.5 0h3m1.5 0h12m21 0h28.5m3 0h1.5m1.5 0h6m6 0h19.5m1.5 0h1.5M329 351.75h3m4.5 0h1.5m1.5 0h1.5m7.5 0h9m3 0h1.5m1.5 0h12m24 0h25.5m4.5 0h9m4.5 0h18M330.5 353.25h3m3 0h1.5m10.5 0h13.5m1.5 0h12m27 0h58.5m10.5 0h6m3 0h3M330.5 354.75h4.5m1.5 0h1.5m12 0h1.5m1.5 0h7.5m3 0h12m33 0h10.5m10.5 0h30m10.5 0h7.5m3 0h3M330.5 356.25h7.5m4.5 0h3m7.5 0h7.5m3 0h12m31.5 0h4.5m15 0h3m1.5 0h6m7.5 0h9m15 0h10.5M333.5 357.75h4.5m3 0h4.5m6 0h1.5m1.5 0h6m3 0h12m48 0h6m3 0h3m10.5 0h7.5m15 0h9M329 359.25h1.5m1.5 0h3m3 0h1.5m1.5 0h1.5m6 0h12m3 0h6m1.5 0h4.5m46.5 0h1.5m18 0h4.5m21 0h7.5m1.5 0h1.5M329 360.75h1.5m1.5 0h4.5m1.5 0h1.5m1.5 0h1.5m4.5 0h4.5m1.5 0h9m1.5 0h12m66 0h4.5m19.5 0h9M329 362.25h1.5m1.5 0h6m1.5 0h1.5m1.5 0h9m1.5 0h1.5m1.5 0h1.5m3 0h10.5m1.5 0h4.5m64.5 0h3m19.5 0h10.5M329 363.75h1.5m1.5 0h6m1.5 0h1.5m1.5 0h12m1.5 0h1.5m3 0h3m1.5 0h6m1.5 0h6m27 0h3m55.5 0h10.5M332 365.25h4.5m1.5 0h1.5m1.5 0h6m1.5 0h6m1.5 0h22.5m85.5 0h13.5M323 366.75h1.5m6 0h6m1.5 0h1.5m1.5 0h6m3 0h15m3 0h9m88.5 0h15m6 0h3M330.5 368.25h7.5m1.5 0h3m4.5 0h9m1.5 0h9m1.5 0h1.5m99 0h12m6 0h3M330.5 369.75h12m4.5 0h9m1.5 0h9m1.5 0h1.5m100.5 0h10.5m7.5 0h1.5m7.5 0h1.5M324.5 371.25h4.5m1.5 0h10.5m1.5 0h1.5m1.5 0h10.5m1.5 0h10.5m105 0h9m13.5 0h1.5M323 372.75h6m1.5 0h9m3 0h13.5m1.5 0h10.5m100.5 0h3m3 0h7.5M323 374.25h16.5m3 0h13.5m1.5 0h9m109.5 0h7.5M321.5 375.75h10.5m1.5 0h22.5m1.5 0h4.5m3 0h1.5m109.5 0h10.5M321.5 377.25h1.5m1.5 0h18m1.5 0h12m3 0h3m3 0h3m109.5 0h9M320 378.75h21m3 0h13.5m7.5 0h3m109.5 0h9M320 380.25h7.5m4.5 0h9m1.5 0h15m7.5 0h1.5m111 0h10.5M320 381.75h9m1.5 0h24m1.5 0h1.5m4.5 0h1.5m114 0h10.5M320 383.25h19.5m1.5 0h3m1.5 0h6m1.5 0h10.5m117 0h6M320 384.75h19.5m1.5 0h3m1.5 0h10.5m1.5 0h6m117 0h7.5M320 386.25h21m3 0h12m1.5 0h6m120 0h4.5m4.5 0h6M320 387.75h21m3 0h12m1.5 0h4.5m121.5 0h6m3 0h9M320 389.25h13.5m1.5 0h3m3 0h13.5m1.5 0h1.5m118.5 0h1.5m6 0h19.5M320 390.75h13.5m1.5 0h19.5m1.5 0h1.5m126 0h21M320 392.25h19.5m3 0h12m132 0h24M320 393.75h19.5m3 0h12m136.5 0h19.5m1.5 0h3M315.5 395.25h1.5m3 0h16.5m3 0h1.5m1.5 0h10.5m1.5 0h1.5m136.5 0h22.5M315.5 396.75h3m1.5 0h1.5m1.5 0h13.5m3 0h16.5m144 0h16.5m7.5 0h1.5m921 0h3M318.5 398.25h3m1.5 0h19.5m1.5 0h12m48 0h3m97.5 0h10.5m6 0h4.5m19.5 0h1.5m898.5 0h4.5M318.5 399.75h3m1.5 0h15m1.5 0h3m1.5 0h10.5m49.5 0h1.5m100.5 0h10.5m3 0h9m13.5 0h4.5m898.5 0h4.5M315.5 401.25h7.5m1.5 0h7.5m1.5 0h6m3 0h12m153 0h39m898.5 0h4.5M315.5 402.75h7.5m1.5 0h6m3 0h6m3 0h13.5m153 0h25.5m3 0h10.5m637.5 0h3m255 0h6M315.5 404.25h1.5m3 0h3m1.5 0h7.5m3 0h4.5m1.5 0h3m1.5 0h12m153 0h24m6 0h7.5m637.5 0h6m252 0h4.5M315.5 405.75h1.5m3 0h3m1.5 0h7.5m3 0h1.5m1.5 0h6m1.5 0h13.5m154.5 0h21m6 0h7.5m12 0h6m619.5 0h6m252 0h3M317 407.25h15m1.5 0h1.5m4.5 0h3m3 0h13.5m22.5 0h3m19.5 0h4.5m4.5 0h3m3 0h3m94.5 0h18m3 0h12m12 0h4.5m619.5 0h10.5m244.5 0h4.5M315.5 408.75h16.5m1.5 0h3m3 0h3m1.5 0h13.5m24 0h3m3 0h3m12 0h1.5m1.5 0h1.5m1.5 0h1.5m1.5 0h4.5m1.5 0h7.5m93 0h16.5m3 0h10.5m637.5 0h9m246 0h4.5M317 410.25h12m1.5 0h1.5m1.5 0h4.5m1.5 0h3m1.5 0h4.5m3 0h1.5m28.5 0h1.5m21 0h21m94.5 0h24m643.5 0h4.5m247.5 0h4.5M317 411.75h3m1.5 0h7.5m1.5 0h1.5m1.5 0h4.5m3 0h3m1.5 0h3m1.5 0h1.5m52.5 0h22.5m4.5 0h1.5m87 0h24m894 0h6M317 413.25h3m1.5 0h6m1.5 0h1.5m3 0h6m1.5 0h3m1.5 0h9m37.5 0h1.5m10.5 0h1.5m3 0h3m3 0h3m6 0h4.5m4.5 0h1.5m88.5 0h1.5m4.5 0h12m897 0h7.5M318.5 414.75h1.5m1.5 0h1.5m1.5 0h3m1.5 0h1.5m3 0h21m25.5 0h1.5m9 0h1.5m1.5 0h1.5m15 0h4.5m9 0h3m30 0h1.5m70.5 0h12m897 0h7.5M318.5 416.25h1.5m1.5 0h3m3 0h10.5m3 0h9m1.5 0h1.5m27 0h3m3 0h1.5m3 0h3m7.5 0h1.5m54 0h1.5m73.5 0h4.5m900 0h12M318.5 417.75h1.5m1.5 0h24m36 0h6m3 0h3m6 0h4.5m19.5 0h1.5m6 0h4.5m12 0h1.5m84 0h1.5m900 0h15m12 0h1.5M318.5 419.25h27m1.5 0h1.5m3 0h1.5m18 0h1.5m12 0h4.5m1.5 0h7.5m1.5 0h4.5m19.5 0h3m3 0h6m15 0h4.5m37.5 0h1.5m907.5 0h9m19.5 0h21m7.5 0h6M320 420.75h1.5m1.5 0h25.5m3 0h1.5m4.5 0h1.5m10.5 0h3m13.5 0h3m1.5 0h1.5m3 0h7.5m21 0h6m4.5 0h1.5m15 0h1.5m1.5 0h1.5m34.5 0h6m15 0h3m886.5 0h12m19.5 0h21m9 0h3M321.5 422.25h1.5m1.5 0h28.5m4.5 0h4.5m24 0h1.5m12 0h1.5m21 0h1.5m10.5 0h6m1.5 0h1.5m9 0h3m3 0h1.5m13.5 0h1.5m3 0h3m7.5 0h7.5m9 0h9m886.5 0h12m19.5 0h21m9 0h4.5M320 423.75h24m4.5 0h3m6 0h3m21 0h6m27 0h1.5m6 0h7.5m6 0h3m1.5 0h1.5m10.5 0h3m4.5 0h1.5m12 0h1.5m3 0h3m7.5 0h7.5m9 0h9m877.5 0h1.5m7.5 0h16.5m15 0h21m9 0h3M320 425.25h4.5m1.5 0h18m1.5 0h4.5m4.5 0h1.5m3 0h4.5m16.5 0h10.5m7.5 0h1.5m13.5 0h1.5m7.5 0h7.5m22.5 0h3m4.5 0h3m24 0h9m10.5 0h7.5m874.5 0h6m6 0h18m13.5 0h25.5m3 0h4.5M320 426.75h27m7.5 0h3m3 0h3m16.5 0h12m21 0h1.5m9 0h6m21 0h4.5m4.5 0h3m15 0h3m6 0h7.5m13.5 0h6m874.5 0h6m6 0h18m9 0h31.5m4.5 0h1.5M321.5 428.25h25.5m1.5 0h10.5m1.5 0h3m15 0h1.5m1.5 0h12m31.5 0h7.5m18 0h1.5m7.5 0h6m12 0h3m6 0h3m19.5 0h4.5m7.5 0h1.5m850.5 0h1.5m9 0h10.5m3 0h22.5m6 0h31.5M321.5 429.75h25.5m1.5 0h1.5m1.5 0h13.5m13.5 0h15m31.5 0h3m1.5 0h3m27 0h6m12 0h3m6 0h3m19.5 0h4.5m859.5 0h4.5m6 0h36m6 0h25.5M321.5 431.25h6m1.5 0h16.5m1.5 0h3m4.5 0h3m1.5 0h1.5m1.5 0h4.5m13.5 0h1.5m3 0h10.5m21 0h1.5m7.5 0h3m1.5 0h1.5m19.5 0h3m6 0h4.5m13.5 0h3m6 0h3m18 0h4.5m703.5 0h3m153 0h75M321.5 432.75h4.5m1.5 0h21m6 0h6m1.5 0h4.5m6 0h1.5m4.5 0h4.5m1.5 0h10.5m21 0h1.5m1.5 0h1.5m3 0h4.5m1.5 0h1.5m1.5 0h3m15 0h4.5m6 0h3m1.5 0h1.5m10.5 0h3m6 0h7.5m13.5 0h4.5m700.5 0h6m153 0h63M321.5 434.25h7.5m1.5 0h19.5m6 0h1.5m1.5 0h1.5m6 0h1.5m4.5 0h1.5m12 0h6m19.5 0h1.5m1.5 0h16.5m1.5 0h3m12 0h3m1.5 0h3m6 0h3m1.5 0h1.5m10.5 0h3m9 0h4.5m715.5 0h3m6 0h3m147 0h61.5M323 435.75h6m1.5 0h19.5m6 0h1.5m7.5 0h4.5m1.5 0h1.5m15 0h3m21 0h4.5m1.5 0h4.5m3 0h6m1.5 0h3m12 0h4.5m1.5 0h1.5m6 0h3m1.5 0h1.5m10.5 0h1.5m12 0h3m705 0h4.5m4.5 0h3m7.5 0h3m144 0h60M321.5 437.25h27m1.5 0h1.5m4.5 0h1.5m6 0h9m40.5 0h3m4.5 0h1.5m6 0h3m16.5 0h4.5m1.5 0h3m6 0h1.5m1.5 0h3m9 0h1.5m12 0h3m703.5 0h9m156 0h52.5M321.5 438.75h3m1.5 0h4.5m1.5 0h16.5m3 0h1.5m3 0h1.5m1.5 0h1.5m3 0h6m1.5 0h1.5m40.5 0h4.5m3 0h1.5m6 0h3m16.5 0h9m9 0h3m9 0h1.5m13.5 0h1.5m703.5 0h9m156 0h45M321.5 440.25h4.5m1.5 0h12m7.5 0h3m1.5 0h3m4.5 0h6m1.5 0h6m1.5 0h1.5m34.5 0h1.5m1.5 0h1.5m1.5 0h1.5m3 0h3m3 0h1.5m19.5 0h1.5m1.5 0h3m1.5 0h1.5m7.5 0h4.5m7.5 0h1.5m705 0h1.5m1.5 0h1.5m3 0h4.5m4.5 0h6m157.5 0h12m12 0h6M321.5 441.75h6m1.5 0h1.5m1.5 0h7.5m1.5 0h1.5m6 0h6m4.5 0h6m1.5 0h9m34.5 0h1.5m1.5 0h1.5m1.5 0h1.5m3 0h3m3 0h3m18 0h6m1.5 0h3m6 0h3m1.5 0h3m1.5 0h1.5m3 0h1.5m690 0h1.5m10.5 0h1.5m3 0h3m1.5 0h6m3 0h4.5m157.5 0h10.5m15 0h3M321.5 443.25h6m3 0h1.5m1.5 0h1.5m1.5 0h4.5m1.5 0h6m1.5 0h1.5m1.5 0h7.5m1.5 0h1.5m1.5 0h16.5m3 0h1.5m24 0h1.5m1.5 0h1.5m1.5 0h1.5m3 0h1.5m6 0h1.5m18 0h6m1.5 0h1.5m1.5 0h4.5m1.5 0h1.5m1.5 0h1.5m1.5 0h1.5m1.5 0h1.5m3 0h1.5m709.5 0h3m1.5 0h3m165 0h9M321.5 444.75h6m1.5 0h3m3 0h6m1.5 0h6m1.5 0h3m1.5 0h6m1.5 0h15m3 0h3m27 0h1.5m1.5 0h1.5m1.5 0h1.5m1.5 0h3m4.5 0h3m18 0h4.5m7.5 0h7.5m3 0h3m4.5 0h1.5m715.5 0h1.5m120 0h4.5m4.5 0h3m31.5 0h9M327.5 446.25h6m4.5 0h3m1.5 0h7.5m1.5 0h28.5m30 0h1.5m1.5 0h1.5m1.5 0h1.5m1.5 0h1.5m6 0h4.5m13.5 0h1.5m1.5 0h4.5m1.5 0h1.5m7.5 0h1.5m3 0h1.5m1.5 0h6m838.5 0h13.5m16.5 0h1.5m12 0h10.5M329 447.75h4.5m3 0h1.5m1.5 0h1.5m1.5 0h12m1.5 0h1.5m1.5 0h3m1.5 0h16.5m7.5 0h1.5m21 0h1.5m1.5 0h1.5m1.5 0h1.5m1.5 0h1.5m6 0h6m16.5 0h3m1.5 0h1.5m6 0h6m4.5 0h3m702 0h3m3 0h1.5m130.5 0h15m13.5 0h7.5m6 0h13.5M320 449.25h1.5m1.5 0h1.5m4.5 0h3m3 0h1.5m1.5 0h1.5m3 0h4.5m1.5 0h9m3 0h18m7.5 0h6m16.5 0h3m3 0h3m9 0h1.5m9 0h3m1.5 0h1.5m6 0h1.5m3 0h3m12 0h4.5m1.5 0h3m837 0h24m3 0h27M320 450.75h1.5m1.5 0h1.5m7.5 0h1.5m1.5 0h6m1.5 0h4.5m3 0h1.5m1.5 0h6m3 0h16.5m7.5 0h4.5m16.5 0h4.5m3 0h3m7.5 0h1.5m12 0h3m7.5 0h1.5m1.5 0h4.5m12 0h9m837 0h24m3 0h27M318.5 452.25h4.5m10.5 0h13.5m1.5 0h1.5m4.5 0h3m1.5 0h1.5m4.5 0h13.5m9 0h3m18 0h1.5m15 0h4.5m7.5 0h4.5m6 0h1.5m1.5 0h4.5m3 0h3m4.5 0h3m1.5 0h6m1.5 0h1.5m820.5 0h61.5m3 0h4.5M318.5 453.75h4.5m12 0h16.5m3 0h4.5m6 0h1.5m1.5 0h7.5m1.5 0h1.5m7.5 0h4.5m18 0h1.5m1.5 0h1.5m1.5 0h1.5m9 0h4.5m7.5 0h3m7.5 0h1.5m1.5 0h4.5m4.5 0h1.5m4.5 0h3m1.5 0h6m1.5 0h1.5m163.5 0h1.5m654 0h63M336.5 455.25h6m3 0h3m1.5 0h3m1.5 0h9m3 0h10.5m7.5 0h3m19.5 0h1.5m1.5 0h3m12 0h4.5m6 0h1.5m1.5 0h1.5m1.5 0h1.5m4.5 0h1.5m1.5 0h3m15 0h1.5m1.5 0h7.5m165 0h1.5m510 0h1.5m7.5 0h1.5m127.5 0h66M338 456.75h1.5m6 0h3m1.5 0h27m7.5 0h3m3 0h1.5m12 0h4.5m1.5 0h1.5m13.5 0h1.5m1.5 0h1.5m6 0h4.5m7.5 0h1.5m1.5 0h3m15 0h9m166.5 0h1.5m510 0h4.5m133.5 0h22.5m4.5 0h40.5M321.5 458.25h1.5m1.5 0h1.5m13.5 0h1.5m1.5 0h4.5m1.5 0h1.5m6 0h1.5m3 0h3m1.5 0h4.5m1.5 0h7.5m27 0h1.5m18 0h1.5m1.5 0h1.5m7.5 0h3m6 0h1.5m3 0h3m12 0h3m1.5 0h7.5m13.5 0h3m121.5 0h6m15 0h3m12 0h3m501 0h6m3 0h1.5m121.5 0h24m12 0h30M317 459.75h3m1.5 0h6m12 0h10.5m6 0h1.5m1.5 0h4.5m1.5 0h6m1.5 0h3m9 0h6m34.5 0h1.5m1.5 0h1.5m7.5 0h3m12 0h3m9 0h4.5m1.5 0h7.5m12 0h3m123 0h4.5m16.5 0h13.5m1.5 0h3m501 0h7.5m1.5 0h1.5m120 0h25.5m1.5 0h1.5m10.5 0h9m1.5 0h16.5M320 461.25h3m18 0h9m7.5 0h1.5m1.5 0h9m1.5 0h1.5m9 0h3m27 0h6m7.5 0h4.5m6 0h4.5m1.5 0h6m1.5 0h1.5m1.5 0h1.5m12 0h10.5m139.5 0h9m12 0h18m504 0h3m124.5 0h13.5m3 0h9m16.5 0h4.5m3 0h15m24 0h3M320 462.75h3m16.5 0h1.5m1.5 0h10.5m1.5 0h1.5m1.5 0h4.5m1.5 0h1.5m1.5 0h4.5m12 0h1.5m25.5 0h7.5m7.5 0h4.5m6 0h4.5m1.5 0h6m4.5 0h1.5m12 0h10.5m138 0h10.5m12 0h18m504 0h4.5m124.5 0h12m9 0h3m15 0h1.5m1.5 0h4.5m3 0h13.5m24 0h6M320 464.25h1.5m7.5 0h1.5m7.5 0h3m1.5 0h12m1.5 0h1.5m1.5 0h1.5m1.5 0h1.5m1.5 0h7.5m36 0h6m1.5 0h1.5m7.5 0h3m1.5 0h1.5m4.5 0h13.5m3 0h3m9 0h12m147 0h6m7.5 0h15m7.5 0h3m7.5 0h1.5m619.5 0h4.5m13.5 0h3m19.5 0h3m4.5 0h3m1.5 0h4.5m31.5 0h1.5M320 465.75h1.5m1.5 0h1.5m4.5 0h1.5m12 0h1.5m1.5 0h10.5m3 0h3m3 0h7.5m36 0h1.5m6 0h3m7.5 0h1.5m1.5 0h1.5m4.5 0h3m1.5 0h10.5m3 0h1.5m7.5 0h6m1.5 0h4.5m129 0h1.5m16.5 0h9m6 0h13.5m10.5 0h3m9 0h3m615 0h4.5m36 0h3m28.5 0h1.5m13.5 0h3M329 467.25h3m6 0h1.5m3 0h15m3 0h15m33 0h1.5m6 0h3m10.5 0h1.5m1.5 0h6m1.5 0h3m1.5 0h1.5m1.5 0h1.5m4.5 0h1.5m9 0h4.5m1.5 0h7.5m57 0h4.5m10.5 0h1.5m52.5 0h1.5m12 0h16.5m6 0h9m1.5 0h1.5m9 0h9m372 0h3m246 0h6m66 0h3m15 0h1.5M323 468.75h1.5m4.5 0h1.5m12 0h15m3 0h15m12 0h1.5m18 0h3m6 0h1.5m12 0h3m1.5 0h9m1.5 0h4.5m15 0h4.5m1.5 0h6m22.5 0h1.5m34.5 0h3m12 0h1.5m66 0h18m6 0h9m10.5 0h9m1.5 0h1.5m366 0h6m246 0h6m66 0h1.5m16.5 0h1.5M323 470.25h1.5m18 0h3m1.5 0h12m3 0h15m13.5 0h1.5m1.5 0h1.5m1.5 0h3m9 0h1.5m10.5 0h4.5m1.5 0h1.5m4.5 0h1.5m1.5 0h7.5m3 0h1.5m7.5 0h1.5m6 0h4.5m1.5 0h7.5m22.5 0h3m33 0h3m12 0h1.5m70.5 0h27m12 0h6m6 0h1.5m333 0h9m21 0h19.5m6 0h10.5m219 0h1.5m1.5 0h3m58.5 0h7.5m15 0h1.5M323 471.75h3m16.5 0h4.5m1.5 0h12m3 0h6m1.5 0h6m16.5 0h7.5m7.5 0h3m9 0h3m3 0h1.5m4.5 0h1.5m1.5 0h1.5m1.5 0h4.5m3 0h1.5m6 0h3m6 0h4.5m1.5 0h1.5m3 0h3m58.5 0h1.5m85.5 0h22.5m16.5 0h3m9 0h3m330 0h13.5m16.5 0h21m6 0h15m213 0h9m48 0h1.5m7.5 0h7.5m15 0h1.5M333.5 473.25h3m1.5 0h1.5m4.5 0h4.5m6 0h9m6 0h1.5m1.5 0h6m15 0h7.5m6 0h7.5m7.5 0h1.5m4.5 0h9m1.5 0h3m3 0h1.5m7.5 0h1.5m3 0h1.5m3 0h4.5m1.5 0h1.5m1.5 0h4.5m91.5 0h3m51 0h7.5m6 0h7.5m30 0h1.5m331.5 0h16.5m1.5 0h34.5m1.5 0h22.5m208.5 0h12m19.5 0h1.5m21 0h6m6 0h6M333.5 474.75h3m6 0h1.5m1.5 0h18m7.5 0h1.5m3 0h3m15 0h7.5m7.5 0h1.5m1.5 0h4.5m12 0h1.5m3 0h4.5m1.5 0h3m3 0h1.5m7.5 0h1.5m1.5 0h1.5m4.5 0h3m3 0h6m96 0h1.5m12 0h1.5m36 0h6m9 0h7.5m361.5 0h79.5m4.5 0h4.5m196.5 0h13.5m15 0h3m22.5 0h6m4.5 0h7.5M333.5 476.25h4.5m7.5 0h9m24 0h1.5m16.5 0h6m6 0h1.5m1.5 0h9m7.5 0h7.5m1.5 0h1.5m15 0h1.5m1.5 0h6m1.5 0h1.5m4.5 0h3m73.5 0h3m21 0h1.5m12 0h1.5m18 0h3m15 0h1.5m4.5 0h1.5m7.5 0h4.5m31.5 0h1.5m331.5 0h88.5m9 0h4.5m177 0h10.5m1.5 0h7.5m13.5 0h7.5m16.5 0h19.5M333.5 477.75h6m6 0h9m24 0h1.5m1.5 0h1.5m13.5 0h6m9 0h9m6 0h9m16.5 0h1.5m3 0h6m1.5 0h4.5m1.5 0h3m73.5 0h3m34.5 0h1.5m18 0h1.5m16.5 0h6m10.5 0h3m31.5 0h1.5m316.5 0h3m13.5 0h88.5m3 0h12m172.5 0h21m13.5 0h9m12 0h1.5m1.5 0h21M327.5 479.25h3m3 0h7.5m4.5 0h1.5m1.5 0h6m27 0h7.5m9 0h1.5m9 0h9m4.5 0h1.5m6 0h6m1.5 0h1.5m3 0h3m7.5 0h1.5m3 0h4.5m1.5 0h1.5m3 0h3m66 0h3m7.5 0h1.5m34.5 0h6m45 0h3m3 0h1.5m346.5 0h9m10.5 0h103.5m39 0h6m126 0h21m13.5 0h39M327.5 480.75h3m1.5 0h10.5m6 0h6m27 0h6m1.5 0h1.5m9 0h4.5m3 0h1.5m4.5 0h4.5m10.5 0h7.5m1.5 0h1.5m1.5 0h4.5m7.5 0h1.5m1.5 0h4.5m7.5 0h4.5m64.5 0h3m7.5 0h1.5m34.5 0h6m51 0h1.5m346.5 0h10.5m7.5 0h106.5m39 0h4.5m25.5 0h1.5m57 0h1.5m40.5 0h21m7.5 0h1.5m3 0h39M330.5 482.25h13.5m1.5 0h10.5m27 0h3m4.5 0h1.5m21 0h4.5m9 0h10.5m4.5 0h3m6 0h9m6 0h1.5m69 0h4.5m6 0h3m33 0h7.5m396 0h13.5m3 0h111m9 0h3m3 0h1.5m19.5 0h6m27 0h3m49.5 0h3m42 0h7.5m1.5 0h64.5M332 483.75h7.5m3 0h3m1.5 0h1.5m1.5 0h7.5m15 0h1.5m7.5 0h1.5m1.5 0h1.5m6 0h1.5m19.5 0h1.5m12 0h10.5m4.5 0h4.5m6 0h7.5m76.5 0h4.5m6 0h1.5m34.5 0h7.5m394.5 0h130.5m7.5 0h9m16.5 0h6m28.5 0h3m9 0h3m33 0h6m36 0h15m3 0h63M330.5 485.25h3m3 0h3m3 0h1.5m1.5 0h1.5m4.5 0h1.5m28.5 0h9m1.5 0h3m22.5 0h3m6 0h9m6 0h4.5m6 0h6m61.5 0h3m13.5 0h1.5m48 0h6m388.5 0h154.5m12 0h7.5m7.5 0h3m18 0h3m9 0h4.5m13.5 0h3m12 0h4.5m37.5 0h12m7.5 0h64.5M336.5 486.75h4.5m1.5 0h3m1.5 0h1.5m33 0h7.5m6 0h1.5m21 0h6m3 0h9m6 0h4.5m6 0h4.5m63 0h4.5m12 0h1.5m49.5 0h4.5m387 0h154.5m12 0h9m7.5 0h3m18 0h4.5m7.5 0h6m10.5 0h4.5m12 0h4.5m37.5 0h12m7.5 0h64.5M332 488.25h3m4.5 0h3m3 0h1.5m1.5 0h3m30 0h6m6 0h3m7.5 0h1.5m6 0h1.5m1.5 0h4.5m1.5 0h3m3 0h9m6 0h3m1.5 0h1.5m4.5 0h4.5m64.5 0h3m63 0h4.5m12 0h3m6 0h3m3 0h3m51 0h3m301.5 0h159m1.5 0h15m9 0h3m18 0h9m1.5 0h12m6 0h9m3 0h4.5m45 0h7.5m4.5 0h69M329 489.75h1.5m1.5 0h1.5m1.5 0h3m1.5 0h6m3 0h3m33 0h3m1.5 0h1.5m4.5 0h1.5m15 0h1.5m1.5 0h9m1.5 0h1.5m1.5 0h7.5m6 0h6m4.5 0h4.5m64.5 0h3m61.5 0h1.5m1.5 0h4.5m10.5 0h6m1.5 0h7.5m1.5 0h1.5m51 0h1.5m301.5 0h177m9 0h3m16.5 0h25.5m3 0h18m3 0h3m40.5 0h4.5m6 0h70.5M330.5 491.25h1.5m1.5 0h1.5m1.5 0h15m34.5 0h1.5m1.5 0h1.5m6 0h10.5m9 0h1.5m1.5 0h1.5m1.5 0h1.5m4.5 0h7.5m1.5 0h9m4.5 0h6m64.5 0h1.5m15 0h4.5m45 0h7.5m9 0h6m6 0h6m354 0h174m6 0h1.5m18 0h49.5m6 0h3m42 0h4.5m7.5 0h63m1.5 0h4.5M332 492.75h1.5m1.5 0h4.5m1.5 0h3m4.5 0h4.5m28.5 0h1.5m3 0h4.5m9 0h6m6 0h1.5m3 0h1.5m1.5 0h1.5m1.5 0h1.5m4.5 0h6m3 0h9m4.5 0h6m64.5 0h1.5m12 0h1.5m1.5 0h3m48 0h6m9 0h6m9 0h4.5m13.5 0h1.5m336 0h60m3 0h112.5m6 0h3m4.5 0h4.5m4.5 0h52.5m6 0h1.5m43.5 0h3m9 0h64.5m1.5 0h3m12 0h1.5M338 494.25h3m1.5 0h1.5m3 0h1.5m3 0h1.5m24 0h1.5m24 0h3m6 0h1.5m1.5 0h4.5m1.5 0h9m3 0h3m1.5 0h1.5m3 0h6m3 0h4.5m3 0h1.5m60 0h4.5m10.5 0h1.5m1.5 0h4.5m46.5 0h3m12 0h6m3 0h3m3 0h6m3 0h1.5m7.5 0h3m330 0h63m3 0h117m4.5 0h66m64.5 0h66m1.5 0h4.5m7.5 0h1.5M330.5 495.75h1.5m4.5 0h1.5m1.5 0h4.5m1.5 0h7.5m24 0h1.5m24 0h3m6 0h1.5m1.5 0h4.5m1.5 0h3m1.5 0h4.5m1.5 0h4.5m6 0h6m3 0h4.5m3 0h1.5m60 0h4.5m13.5 0h4.5m46.5 0h3m12 0h4.5m13.5 0h3m12 0h3m316.5 0h6m7.5 0h63m3 0h117m1.5 0h67.5m66 0h66m3 0h6m3 0h3M330.5 497.25h3m1.5 0h1.5m1.5 0h3m3 0h1.5m34.5 0h1.5m33 0h4.5m1.5 0h3m3 0h7.5m6 0h7.5m3 0h4.5m3 0h1.5m12 0h1.5m46.5 0h4.5m12 0h7.5m45 0h3m6 0h3m13.5 0h9m10.5 0h1.5m3 0h1.5m303 0h6m4.5 0h78m3 0h184.5m69 0h66m3 0h9M332 498.75h1.5m1.5 0h1.5m4.5 0h1.5m1.5 0h1.5m69 0h4.5m1.5 0h3m3 0h3m3 0h1.5m7.5 0h7.5m1.5 0h4.5m3 0h1.5m10.5 0h3m46.5 0h4.5m9 0h7.5m1.5 0h1.5m43.5 0h4.5m4.5 0h6m10.5 0h10.5m4.5 0h1.5m3 0h4.5m1.5 0h1.5m300 0h90m4.5 0h184.5m69 0h67.5m3 0h6M335 500.25h1.5m3 0h1.5m1.5 0h1.5m1.5 0h1.5m67.5 0h4.5m1.5 0h3m3 0h1.5m6 0h1.5m6 0h6m1.5 0h1.5m4.5 0h1.5m1.5 0h1.5m10.5 0h1.5m48 0h4.5m9 0h7.5m46.5 0h4.5m3 0h6m13.5 0h3m19.5 0h3m295.5 0h94.5m3 0h187.5m58.5 0h6m3 0h69m3 0h1.5M335 501.75h1.5m4.5 0h6m1.5 0h1.5m66 0h3m3 0h1.5m3 0h1.5m12 0h7.5m1.5 0h1.5m4.5 0h1.5m1.5 0h1.5m10.5 0h1.5m48 0h4.5m9 0h7.5m46.5 0h4.5m3 0h7.5m4.5 0h3m15 0h3m6 0h4.5m294 0h288m57 0h13.5m3 0h63M344 503.25h6m31.5 0h1.5m22.5 0h4.5m6 0h1.5m1.5 0h1.5m1.5 0h1.5m1.5 0h3m6 0h1.5m4.5 0h7.5m10.5 0h1.5m9 0h1.5m49.5 0h4.5m10.5 0h6m7.5 0h1.5m39 0h1.5m4.5 0h7.5m7.5 0h1.5m21 0h4.5m13.5 0h1.5m277.5 0h292.5m54 0h15m3 0h63M345.5 504.75h3m33 0h3m21 0h4.5m4.5 0h1.5m3 0h4.5m1.5 0h3m12 0h7.5m21 0h1.5m49.5 0h4.5m10.5 0h7.5m6 0h1.5m39 0h1.5m4.5 0h7.5m31.5 0h1.5m15 0h1.5m276 0h102m1.5 0h190.5m54 0h6m1.5 0h6m3 0h64.5M359 506.25h1.5m22.5 0h1.5m27 0h3m1.5 0h4.5m4.5 0h3m9 0h1.5m1.5 0h9m19.5 0h1.5m49.5 0h3m9 0h12m4.5 0h1.5m13.5 0h3m21 0h3m6 0h4.5m325.5 0h103.5m3 0h190.5m46.5 0h9m3 0h1.5m1.5 0h3m4.5 0h64.5M381.5 507.75h3m28.5 0h3m1.5 0h1.5m7.5 0h1.5m9 0h12m7.5 0h3m9 0h1.5m10.5 0h1.5m37.5 0h4.5m7.5 0h12m1.5 0h1.5m16.5 0h1.5m22.5 0h3m6 0h3m49.5 0h1.5m268.5 0h111m3 0h190.5m43.5 0h12m3 0h6m3 0h66M362 509.25h3m60 0h3m6 0h3m3 0h9m6 0h3m10.5 0h1.5m49.5 0h3m1.5 0h6m1.5 0h13.5m39 0h1.5m1.5 0h3m4.5 0h3m39 0h4.5m276 0h111m4.5 0h192m37.5 0h9m3 0h1.5m3 0h3m9 0h67.5M339.5 510.75h1.5m7.5 0h4.5m7.5 0h1.5m51 0h1.5m9 0h4.5m7.5 0h1.5m4.5 0h7.5m4.5 0h4.5m6 0h1.5m3 0h1.5m21 0h1.5m25.5 0h4.5m1.5 0h21m3 0h1.5m34.5 0h1.5m3 0h3m3 0h3m39 0h4.5m276 0h61.5m3 0h45m6 0h192m36 0h13.5m15 0h69M345.5 512.25h9m9 0h1.5m49.5 0h1.5m1.5 0h1.5m6 0h3m4.5 0h7.5m1.5 0h4.5m1.5 0h4.5m1.5 0h3m1.5 0h1.5m3 0h9m18 0h1.5m1.5 0h6m9 0h15m6 0h16.5m3 0h1.5m24 0h1.5m9 0h1.5m3 0h3m3 0h1.5m9 0h1.5m27 0h3m277.5 0h64.5m7.5 0h42m12 0h193.5m27 0h12m1.5 0h1.5m9 0h73.5M345.5 513.75h9m39 0h1.5m10.5 0h3m7.5 0h4.5m6 0h1.5m4.5 0h3m1.5 0h12m3 0h3m1.5 0h3m3 0h1.5m1.5 0h4.5m21 0h1.5m3 0h1.5m10.5 0h1.5m1.5 0h12m6 0h16.5m3 0h1.5m12 0h1.5m21 0h1.5m3 0h6m12 0h1.5m25.5 0h3m1.5 0h1.5m273 0h66m9 0h42m15 0h190.5m25.5 0h12m12 0h73.5M345.5 515.25h3m45 0h3m13.5 0h10.5m3 0h3m6 0h4.5m3 0h4.5m1.5 0h1.5m1.5 0h4.5m3 0h9m1.5 0h1.5m18 0h9m9 0h3m1.5 0h13.5m6 0h15m4.5 0h1.5m12 0h1.5m4.5 0h6m10.5 0h1.5m3 0h9m1.5 0h1.5m33 0h10.5m235.5 0h9m21 0h70.5m7.5 0h46.5m1.5 0h1.5m10.5 0h190.5m19.5 0h12m13.5 0h76.5M345.5 516.75h3m45 0h4.5m1.5 0h1.5m4.5 0h4.5m1.5 0h3m4.5 0h3m1.5 0h3m7.5 0h4.5m1.5 0h6m3 0h4.5m1.5 0h4.5m3 0h4.5m18 0h10.5m9 0h3m1.5 0h13.5m7.5 0h13.5m4.5 0h1.5m10.5 0h3m4.5 0h1.5m1.5 0h3m10.5 0h1.5m3 0h7.5m6 0h1.5m33 0h6m234 0h12m15 0h78m6 0h51m10.5 0h189m13.5 0h3m1.5 0h12m13.5 0h78M347 518.25h3m10.5 0h1.5m31.5 0h6m1.5 0h1.5m3 0h7.5m4.5 0h1.5m1.5 0h6m7.5 0h10.5m3 0h3m3 0h9m1.5 0h3m16.5 0h12m12 0h15m9 0h12m6 0h1.5m9 0h3m21 0h1.5m10.5 0h10.5m27 0h1.5m1.5 0h6m1.5 0h1.5m226.5 0h16.5m9 0h87m4.5 0h54m6 0h184.5m15 0h21m9 0h79.5M348.5 519.75h3m10.5 0h1.5m30 0h7.5m4.5 0h3m3 0h7.5m1.5 0h6m6 0h12m3 0h1.5m4.5 0h13.5m16.5 0h4.5m1.5 0h6m15 0h12m9 0h12m18 0h3m19.5 0h1.5m3 0h1.5m4.5 0h12m27 0h1.5m1.5 0h6m3 0h1.5m223.5 0h19.5m4.5 0h90m4.5 0h54m7.5 0h181.5m15 0h21m7.5 0h82.5M348.5 521.25h1.5m9 0h4.5m30 0h7.5m1.5 0h1.5m3 0h13.5m1.5 0h1.5m1.5 0h3m6 0h10.5m3 0h1.5m1.5 0h10.5m1.5 0h3m7.5 0h3m4.5 0h6m3 0h6m4.5 0h1.5m9 0h12m9 0h10.5m21 0h4.5m15 0h3m3 0h3m1.5 0h18m22.5 0h9m3 0h1.5m3 0h3m214.5 0h118.5m4.5 0h54m6 0h177m18 0h21m7.5 0h82.5M348.5 522.75h1.5m9 0h6m30 0h10.5m1.5 0h7.5m10.5 0h4.5m6 0h9m3 0h12m3 0h3m7.5 0h3m4.5 0h3m6 0h1.5m1.5 0h3m4.5 0h1.5m9 0h12m9 0h10.5m15 0h1.5m6 0h3m15 0h3m3 0h1.5m1.5 0h18m24 0h9m7.5 0h4.5m210 0h121.5m4.5 0h57m1.5 0h177m19.5 0h21m7.5 0h82.5M357.5 524.25h4.5m1.5 0h1.5m30 0h1.5m1.5 0h6m1.5 0h3m1.5 0h12m1.5 0h4.5m13.5 0h1.5m4.5 0h1.5m1.5 0h7.5m4.5 0h1.5m1.5 0h1.5m16.5 0h6m9 0h3m9 0h12m10.5 0h9m6 0h3m1.5 0h6m24 0h4.5m1.5 0h21m3 0h3m16.5 0h4.5m4.5 0h1.5m219 0h363m21 0h13.5m13.5 0h82.5M357.5 525.75h3m36 0h1.5m1.5 0h9m1.5 0h12m1.5 0h4.5m6 0h1.5m6 0h3m3 0h1.5m1.5 0h6m3 0h1.5m1.5 0h1.5m1.5 0h3m3 0h1.5m10.5 0h6m9 0h3m10.5 0h10.5m10.5 0h9m3 0h1.5m1.5 0h10.5m24 0h4.5m1.5 0h21m3 0h3m15 0h4.5m3 0h1.5m222 0h13.5m1.5 0h348m21 0h13.5m13.5 0h82.5M363.5 527.25h1.5m1.5 0h4.5m31.5 0h4.5m4.5 0h15m15 0h3m3 0h1.5m3 0h4.5m1.5 0h3m3 0h7.5m12 0h4.5m16.5 0h1.5m4.5 0h7.5m3 0h4.5m7.5 0h9m1.5 0h3m9 0h3m24 0h1.5m1.5 0h1.5m1.5 0h6m6 0h7.5m19.5 0h1.5m1.5 0h4.5m1.5 0h1.5m223.5 0h6m15 0h175.5m3 0h168m13.5 0h4.5m7.5 0h9m9 0h28.5m7.5 0h45M359 528.75h3m1.5 0h1.5m1.5 0h3m33 0h6m3 0h12m1.5 0h1.5m1.5 0h1.5m12 0h1.5m4.5 0h3m3 0h1.5m4.5 0h3m3 0h6m12 0h3m18 0h1.5m3 0h9m1.5 0h6m9 0h12m6 0h1.5m1.5 0h3m24 0h1.5m1.5 0h7.5m4.5 0h1.5m1.5 0h6m1.5 0h1.5m18 0h10.5m223.5 0h4.5m16.5 0h175.5m4.5 0h168m13.5 0h1.5m10.5 0h4.5m12 0h27m12 0h42M360.5 530.25h1.5m1.5 0h1.5m1.5 0h3m31.5 0h25.5m1.5 0h1.5m19.5 0h1.5m19.5 0h3m10.5 0h3m21 0h10.5m4.5 0h1.5m10.5 0h4.5m1.5 0h6m6 0h3m1.5 0h1.5m24 0h1.5m1.5 0h6m10.5 0h3m1.5 0h3m18 0h9m223.5 0h6m16.5 0h43.5m6 0h127.5m3 0h172.5m22.5 0h3m12 0h27m18 0h34.5M360.5 531.75h1.5m1.5 0h1.5m1.5 0h3m34.5 0h21m3 0h1.5m19.5 0h1.5m3 0h1.5m15 0h3m10.5 0h3m22.5 0h9m4.5 0h1.5m7.5 0h1.5m1.5 0h4.5m1.5 0h7.5m3 0h6m25.5 0h9m36 0h9m222 0h6m19.5 0h40.5m10.5 0h124.5m3 0h174m21 0h3m12 0h27m18 0h33M362 533.25h7.5m9 0h1.5m22.5 0h21m3 0h1.5m22.5 0h1.5m16.5 0h1.5m1.5 0h1.5m10.5 0h3m9 0h1.5m13.5 0h7.5m4.5 0h3m9 0h12m4.5 0h6m24 0h16.5m24 0h3m1.5 0h10.5m217.5 0h10.5m21 0h40.5m9 0h124.5m4.5 0h175.5m18 0h4.5m9 0h27m19.5 0h33M360.5 534.75h10.5m7.5 0h3m21 0h1.5m1.5 0h9m1.5 0h4.5m3 0h3m22.5 0h4.5m15 0h1.5m1.5 0h1.5m12 0h1.5m9 0h1.5m12 0h9m4.5 0h3m7.5 0h13.5m4.5 0h6m24 0h15m25.5 0h3m1.5 0h9m216 0h10.5m25.5 0h19.5m1.5 0h16.5m10.5 0h9m3 0h112.5m4.5 0h177m15 0h7.5m7.5 0h27m19.5 0h31.5M357.5 536.25h1.5m1.5 0h1.5m1.5 0h3m1.5 0h6m4.5 0h1.5m28.5 0h7.5m4.5 0h7.5m19.5 0h3m1.5 0h1.5m1.5 0h1.5m12 0h9m6 0h1.5m12 0h4.5m6 0h10.5m4.5 0h1.5m6 0h1.5m4.5 0h3m1.5 0h6m4.5 0h7.5m7.5 0h1.5m13.5 0h18m19.5 0h1.5m3 0h3m3 0h4.5m213 0h12m30 0h18m4.5 0h13.5m6 0h3m1.5 0h4.5m12 0h16.5m4.5 0h87m6 0h27m4.5 0h147m12 0h6m4.5 0h33m13.5 0h34.5M357.5 537.75h3m1.5 0h10.5m1.5 0h1.5m3 0h1.5m28.5 0h9m3 0h4.5m22.5 0h1.5m3 0h4.5m12 0h6m9 0h1.5m13.5 0h3m6 0h10.5m10.5 0h4.5m3 0h1.5m3 0h4.5m6 0h7.5m7.5 0h1.5m13.5 0h18m19.5 0h12m216 0h12m30 0h18m6 0h12m28.5 0h15m4.5 0h87m6 0h22.5m3 0h1.5m6 0h147m9 0h9m1.5 0h34.5m12 0h34.5M359 539.25h1.5m3 0h13.5m3 0h4.5m25.5 0h7.5m3 0h3m28.5 0h4.5m12 0h6m9 0h4.5m10.5 0h3m6 0h10.5m10.5 0h4.5m7.5 0h6m3 0h10.5m19.5 0h22.5m9 0h1.5m6 0h6m222 0h12m42 0h4.5m12 0h4.5m16.5 0h1.5m15 0h13.5m4.5 0h87m6 0h19.5m4.5 0h4.5m4.5 0h147m9 0h45m15 0h30M365 540.75h1.5m1.5 0h7.5m4.5 0h4.5m27 0h7.5m1.5 0h3m1.5 0h1.5m27 0h3m13.5 0h4.5m9 0h4.5m19.5 0h10.5m10.5 0h6m6 0h6m3 0h12m18 0h24m3 0h9m4.5 0h4.5m220.5 0h13.5m16.5 0h1.5m27 0h1.5m49.5 0h12m6 0h84m1.5 0h1.5m6 0h19.5m4.5 0h6m3 0h147m7.5 0h46.5m16.5 0h28.5M366.5 542.25h12m4.5 0h4.5m27 0h6m1.5 0h3m46.5 0h6m6 0h4.5m10.5 0h3m6 0h9m10.5 0h6m4.5 0h3m1.5 0h1.5m6 0h13.5m19.5 0h37.5m1.5 0h3m9 0h6m210 0h6m15 0h4.5m81 0h6m10.5 0h81m15 0h7.5m1.5 0h6m4.5 0h211.5m19.5 0h24M369.5 543.75h9m3 0h6m12 0h1.5m16.5 0h4.5m1.5 0h1.5m46.5 0h7.5m4.5 0h4.5m10.5 0h3m6 0h9m12 0h4.5m4.5 0h3m1.5 0h3m4.5 0h1.5m1.5 0h9m1.5 0h1.5m1.5 0h1.5m16.5 0h19.5m3 0h18m9 0h6m211.5 0h4.5m13.5 0h4.5m82.5 0h6m9 0h58.5m6 0h18m15 0h6m6 0h3m4.5 0h213m19.5 0h22.5M368 545.25h4.5m3 0h15m30 0h3m1.5 0h1.5m10.5 0h1.5m12 0h6m15 0h7.5m6 0h3m18 0h12m10.5 0h4.5m19.5 0h15m16.5 0h16.5m9 0h12m1.5 0h1.5m9 0h1.5m3 0h1.5m226.5 0h7.5m84 0h3m10.5 0h55.5m9 0h18m15 0h6m15 0h213m21 0h18M369.5 546.75h1.5m1.5 0h1.5m3 0h7.5m4.5 0h1.5m30 0h6m24 0h6m15 0h7.5m27 0h13.5m10.5 0h4.5m7.5 0h1.5m9 0h13.5m18 0h18m16.5 0h3m1.5 0h1.5m12 0h1.5m229.5 0h10.5m1.5 0h1.5m52.5 0h3m21 0h3m10.5 0h54m10.5 0h18m16.5 0h4.5m15 0h184.5m3 0h27m19.5 0h18M366.5 548.25h1.5m1.5 0h1.5m7.5 0h15m48 0h1.5m10.5 0h1.5m16.5 0h9m4.5 0h4.5m19.5 0h9m12 0h4.5m7.5 0h1.5m7.5 0h3m1.5 0h3m3 0h3m24 0h12m16.5 0h4.5m12 0h3m6 0h1.5m222 0h13.5m7.5 0h1.5m9 0h3m57 0h3m7.5 0h46.5m1.5 0h1.5m1.5 0h1.5m16.5 0h13.5m40.5 0h15m4.5 0h102m4.5 0h55.5m16.5 0h16.5m18 0h6m3 0h7.5M368 549.75h3m9 0h12m34.5 0h1.5m9 0h1.5m1.5 0h6m7.5 0h3m15 0h9m4.5 0h4.5m18 0h1.5m1.5 0h7.5m10.5 0h1.5m1.5 0h3m16.5 0h3m1.5 0h3m3 0h3m18 0h1.5m1.5 0h10.5m21 0h4.5m9 0h3m3 0h3m222 0h19.5m16.5 0h3m58.5 0h1.5m3 0h18m13.5 0h13.5m1.5 0h1.5m3 0h1.5m25.5 0h6m43.5 0h15m3 0h103.5m4.5 0h54m19.5 0h15m18 0h4.5m4.5 0h7.5M369.5 551.25h1.5m9 0h4.5m3 0h3m36 0h4.5m3 0h1.5m1.5 0h1.5m1.5 0h4.5m27 0h9m27 0h7.5m10.5 0h9m16.5 0h1.5m1.5 0h4.5m3 0h3m1.5 0h1.5m13.5 0h13.5m1.5 0h1.5m18 0h1.5m1.5 0h3m7.5 0h4.5m4.5 0h3m1.5 0h6m3 0h4.5m3 0h1.5m201 0h52.5m15 0h4.5m27 0h7.5m1.5 0h6m117 0h10.5m7.5 0h102m6 0h52.5m22.5 0h12m28.5 0h6M369.5 552.75h3m7.5 0h15m12 0h1.5m18 0h1.5m6 0h3m3 0h4.5m1.5 0h3m13.5 0h1.5m7.5 0h9m27 0h7.5m10.5 0h9m16.5 0h1.5m1.5 0h4.5m4.5 0h4.5m12 0h15m1.5 0h1.5m18 0h1.5m1.5 0h1.5m4.5 0h9m4.5 0h16.5m1.5 0h6m199.5 0h57m9 0h9m25.5 0h4.5m129 0h1.5m1.5 0h3m10.5 0h100.5m6 0h52.5m24 0h10.5m28.5 0h6M371 554.25h4.5m3 0h12m15 0h3m18 0h4.5m4.5 0h10.5m1.5 0h6m18 0h7.5m31.5 0h4.5m12 0h1.5m3 0h3m16.5 0h4.5m7.5 0h4.5m10.5 0h1.5m1.5 0h12m3 0h1.5m15 0h4.5m1.5 0h15m4.5 0h1.5m1.5 0h13.5m3 0h1.5m1.5 0h3m175.5 0h1.5m24 0h75m54 0h1.5m118.5 0h3m3 0h69m4.5 0h10.5m3 0h3m1.5 0h1.5m6 0h58.5m22.5 0h1.5m34.5 0h4.5M372.5 555.75h1.5m4.5 0h1.5m1.5 0h1.5m1.5 0h7.5m12 0h4.5m16.5 0h4.5m1.5 0h1.5m3 0h1.5m1.5 0h15m18 0h7.5m31.5 0h6m10.5 0h1.5m3 0h3m30 0h1.5m4.5 0h10.5m1.5 0h12m1.5 0h1.5m13.5 0h6m1.5 0h6m1.5 0h7.5m9 0h13.5m3 0h4.5m198 0h1.5m1.5 0h75m174 0h1.5m4.5 0h69m13.5 0h1.5m21 0h55.5m55.5 0h4.5M372.5 557.25h3m1.5 0h3m1.5 0h1.5m1.5 0h9m10.5 0h4.5m16.5 0h6m1.5 0h1.5m1.5 0h12m1.5 0h4.5m18 0h7.5m15 0h3m13.5 0h6m45 0h13.5m1.5 0h4.5m1.5 0h12m1.5 0h1.5m12 0h3m3 0h1.5m1.5 0h3m1.5 0h1.5m3 0h15m3 0h10.5m205.5 0h78m93 0h3m6 0h3m78 0h1.5m16.5 0h45m40.5 0h58.5m51 0h6M371 558.75h3m1.5 0h1.5m1.5 0h4.5m1.5 0h12m7.5 0h3m21 0h10.5m1.5 0h6m1.5 0h1.5m1.5 0h3m18 0h7.5m15 0h1.5m15 0h3m1.5 0h1.5m16.5 0h1.5m25.5 0h15m1.5 0h6m1.5 0h4.5m1.5 0h1.5m3 0h3m18 0h9m9 0h3m6 0h1.5m1.5 0h10.5m3 0h4.5m198 0h1.5m1.5 0h78m85.5 0h19.5m93 0h45m40.5 0h52.5m1.5 0h7.5m36 0h4.5m9 0h4.5M371 560.25h1.5m1.5 0h6m3 0h13.5m6 0h6m21 0h15m4.5 0h1.5m21 0h9m12 0h6m12 0h4.5m4.5 0h3m1.5 0h1.5m1.5 0h1.5m1.5 0h4.5m24 0h1.5m1.5 0h10.5m1.5 0h1.5m10.5 0h3m1.5 0h1.5m9 0h4.5m12 0h1.5m1.5 0h1.5m10.5 0h1.5m6 0h1.5m1.5 0h1.5m1.5 0h15m202.5 0h82.5m81 0h27m7.5 0h6m1.5 0h13.5m4.5 0h4.5m49.5 0h45m7.5 0h10.5m19.5 0h3m4.5 0h48m3 0h9m3 0h1.5m4.5 0h1.5m4.5 0h1.5m13.5 0h12m6 0h3M371 561.75h10.5m3 0h12m7.5 0h4.5m19.5 0h4.5m1.5 0h10.5m4.5 0h1.5m21 0h3m1.5 0h1.5m1.5 0h1.5m12 0h6m12 0h3m6 0h3m1.5 0h1.5m1.5 0h6m27 0h10.5m3 0h1.5m9 0h1.5m3 0h3m12 0h1.5m24 0h4.5m6 0h1.5m1.5 0h1.5m1.5 0h15m204 0h81m81 0h30m1.5 0h36m43.5 0h48m6 0h10.5m6 0h1.5m12 0h3m4.5 0h49.5m4.5 0h16.5m21 0h12m6 0h3M369.5 563.25h13.5m1.5 0h1.5m1.5 0h10.5m10.5 0h1.5m19.5 0h4.5m1.5 0h10.5m1.5 0h1.5m1.5 0h1.5m1.5 0h1.5m22.5 0h1.5m13.5 0h6m12 0h4.5m10.5 0h3m1.5 0h3m30 0h3m1.5 0h7.5m1.5 0h1.5m6 0h6m25.5 0h3m10.5 0h6m4.5 0h4.5m3 0h13.5m204 0h82.5m49.5 0h1.5m1.5 0h3m18 0h1.5m1.5 0h54m16.5 0h10.5m30 0h90m3 0h49.5m6 0h12m24 0h15m4.5 0h3M369.5 564.75h13.5m3 0h10.5m33 0h15m3 0h1.5m1.5 0h6m36 0h1.5m1.5 0h3m12 0h6m9 0h1.5m4.5 0h1.5m36 0h4.5m9 0h7.5m25.5 0h4.5m9 0h4.5m3 0h9m3 0h13.5m204 0h69m3 0h9m52.5 0h3m7.5 0h1.5m4.5 0h61.5m18 0h1.5m4.5 0h3m30 0h81m1.5 0h7.5m3 0h51m6 0h6m27 0h16.5m1.5 0h7.5M371 566.25h13.5m3 0h12m31.5 0h13.5m3 0h1.5m3 0h1.5m1.5 0h6m7.5 0h1.5m6 0h3m3 0h1.5m9 0h6m13.5 0h3m4.5 0h1.5m4.5 0h3m1.5 0h4.5m33 0h7.5m7.5 0h7.5m24 0h6m9 0h3m1.5 0h1.5m1.5 0h3m3 0h10.5m1.5 0h6m205.5 0h69m6 0h7.5m51 0h78m16.5 0h4.5m30 0h6m6 0h43.5m3 0h25.5m12 0h54m40.5 0h24M371 567.75h12m1.5 0h1.5m1.5 0h6m4.5 0h1.5m33 0h12m3 0h1.5m6 0h7.5m6 0h1.5m6 0h4.5m1.5 0h1.5m9 0h4.5m22.5 0h3m4.5 0h1.5m1.5 0h4.5m34.5 0h4.5m6 0h10.5m3 0h1.5m3 0h3m15 0h4.5m9 0h1.5m1.5 0h1.5m1.5 0h6m4.5 0h15m205.5 0h69m10.5 0h3m30 0h3m21 0h3m1.5 0h1.5m3 0h66m1.5 0h1.5m13.5 0h4.5m28.5 0h7.5m7.5 0h40.5m9 0h18m15 0h31.5m4.5 0h9m1.5 0h6m42 0h24M375.5 569.25h1.5m1.5 0h9m3 0h1.5m3 0h4.5m34.5 0h10.5m6 0h1.5m1.5 0h1.5m1.5 0h6m10.5 0h10.5m28.5 0h1.5m6 0h3m9 0h3m46.5 0h1.5m3 0h3m3 0h7.5m10.5 0h7.5m1.5 0h3m10.5 0h1.5m1.5 0h6m13.5 0h6m10.5 0h1.5m189 0h75m10.5 0h3m61.5 0h66m40.5 0h3m19.5 0h39m13.5 0h10.5m19.5 0h25.5m13.5 0h7.5m52.5 0h22.5M375.5 570.75h12m4.5 0h4.5m39 0h10.5m4.5 0h9m1.5 0h1.5m9 0h7.5m1.5 0h3m36 0h3m1.5 0h1.5m6 0h6m34.5 0h1.5m13.5 0h1.5m1.5 0h4.5m3 0h3m7.5 0h4.5m3 0h1.5m1.5 0h3m9 0h1.5m3 0h4.5m1.5 0h1.5m13.5 0h6m7.5 0h4.5m187.5 0h73.5m15 0h1.5m61.5 0h66m37.5 0h3m21 0h39m13.5 0h9m15 0h31.5m13.5 0h6m55.5 0h21M378.5 572.25h1.5m1.5 0h6m6 0h4.5m40.5 0h1.5m1.5 0h12m1.5 0h7.5m19.5 0h1.5m36 0h3m1.5 0h3m4.5 0h3m1.5 0h1.5m31.5 0h4.5m9 0h3m4.5 0h3m4.5 0h3m6 0h1.5m1.5 0h6m1.5 0h1.5m1.5 0h1.5m10.5 0h4.5m21 0h3m6 0h9m115.5 0h1.5m7.5 0h4.5m57 0h73.5m16.5 0h1.5m60 0h67.5m37.5 0h1.5m21 0h39m15 0h9m4.5 0h1.5m1.5 0h37.5m15 0h3m57 0h21M378.5 573.75h10.5m4.5 0h1.5m1.5 0h3m39 0h15m1.5 0h1.5m1.5 0h3m21 0h3m21 0h1.5m12 0h3m1.5 0h3m4.5 0h9m28.5 0h3m10.5 0h1.5m7.5 0h3m1.5 0h3m1.5 0h15m1.5 0h1.5m18 0h3m15 0h1.5m1.5 0h3m4.5 0h10.5m115.5 0h3m4.5 0h3m57 0h76.5m79.5 0h66m60 0h39m18 0h1.5m9 0h43.5m72 0h21M380 575.25h3m1.5 0h3m7.5 0h1.5m24 0h3m19.5 0h4.5m1.5 0h3m4.5 0h1.5m1.5 0h3m54 0h10.5m1.5 0h12m22.5 0h1.5m6 0h1.5m16.5 0h1.5m4.5 0h22.5m1.5 0h3m3 0h3m27 0h6m1.5 0h10.5m1.5 0h1.5m25.5 0h1.5m19.5 0h4.5m24 0h1.5m34.5 0h13.5m55.5 0h79.5m10.5 0h1.5m70.5 0h64.5m58.5 0h27m36 0h48m69 0h24M381.5 576.75h3m57 0h7.5m1.5 0h1.5m4.5 0h3m3 0h1.5m54 0h9m1.5 0h12m19.5 0h1.5m27 0h6m4.5 0h3m1.5 0h13.5m1.5 0h1.5m7.5 0h1.5m27 0h7.5m22.5 0h3m10.5 0h4.5m18 0h4.5m3 0h1.5m1.5 0h1.5m13.5 0h6m31.5 0h13.5m54 0h81m84 0h64.5m60 0h22.5m9 0h1.5m28.5 0h45m22.5 0h1.5m15 0h1.5m30 0h27M377 578.25h1.5m6 0h1.5m57 0h6m1.5 0h1.5m6 0h7.5m54 0h3m3 0h1.5m1.5 0h12m18 0h3m3 0h3m15 0h6m9 0h1.5m1.5 0h3m1.5 0h12m7.5 0h4.5m57 0h3m13.5 0h1.5m19.5 0h3m3 0h1.5m3 0h1.5m3 0h3m3 0h10.5m28.5 0h9m37.5 0h1.5m15 0h87m33 0h1.5m49.5 0h64.5m58.5 0h21m33 0h3m4.5 0h43.5m42 0h4.5m7.5 0h1.5m10.5 0h1.5m3 0h30M377 579.75h1.5m6 0h4.5m55.5 0h4.5m10.5 0h6m54 0h1.5m7.5 0h1.5m1.5 0h7.5m19.5 0h3m1.5 0h3m10.5 0h6m3 0h3m9 0h1.5m1.5 0h6m3 0h7.5m7.5 0h4.5m55.5 0h1.5m1.5 0h1.5m34.5 0h3m3 0h1.5m3 0h16.5m31.5 0h9m39 0h1.5m15 0h88.5m82.5 0h66m57 0h19.5m34.5 0h3m4.5 0h39m46.5 0h60M378.5 581.25h6m1.5 0h1.5m3 0h3m54 0h1.5m6 0h4.5m1.5 0h6m42 0h1.5m6 0h1.5m1.5 0h1.5m1.5 0h1.5m4.5 0h1.5m30 0h1.5m7.5 0h4.5m6 0h3m1.5 0h1.5m9 0h1.5m1.5 0h1.5m1.5 0h6m3 0h3m6 0h1.5m4.5 0h6m54 0h1.5m1.5 0h1.5m36 0h1.5m3 0h1.5m3 0h12m3 0h1.5m9 0h3m18 0h9m37.5 0h3m4.5 0h3m7.5 0h91.5m66 0h3m15 0h63m58.5 0h13.5m45 0h25.5m22.5 0h1.5m37.5 0h60M378.5 582.75h1.5m1.5 0h1.5m3 0h1.5m3 0h1.5m55.5 0h3m3 0h7.5m4.5 0h3m48 0h1.5m1.5 0h1.5m37.5 0h1.5m9 0h4.5m6 0h1.5m7.5 0h1.5m4.5 0h4.5m1.5 0h4.5m6 0h4.5m3 0h3m3 0h6m54 0h1.5m1.5 0h1.5m36 0h1.5m6 0h13.5m3 0h1.5m7.5 0h4.5m4.5 0h1.5m9 0h9m7.5 0h1.5m6 0h1.5m25.5 0h9m6 0h94.5m66 0h1.5m13.5 0h66m57 0h12m46.5 0h25.5m22.5 0h3m36 0h60M380 584.25h7.5m1.5 0h4.5m1.5 0h1.5m1.5 0h1.5m48 0h3m4.5 0h10.5m66 0h1.5m1.5 0h3m34.5 0h1.5m10.5 0h6m4.5 0h3m1.5 0h6m3 0h1.5m3 0h13.5m1.5 0h1.5m55.5 0h1.5m1.5 0h1.5m19.5 0h1.5m1.5 0h1.5m4.5 0h4.5m9 0h15m3 0h3m1.5 0h1.5m3 0h10.5m4.5 0h9m13.5 0h9m18 0h7.5m1.5 0h105m7.5 0h1.5m75 0h66m55.5 0h4.5m52.5 0h10.5m1.5 0h10.5m27 0h6m31.5 0h63M380 585.75h7.5m1.5 0h6m52.5 0h4.5m3 0h9m6 0h1.5m60 0h6m45 0h1.5m1.5 0h4.5m4.5 0h3m1.5 0h7.5m7.5 0h12m58.5 0h3m21 0h1.5m1.5 0h3m4.5 0h4.5m7.5 0h15m3 0h6m1.5 0h9m6 0h6m16.5 0h7.5m21 0h7.5m1.5 0h106.5m6 0h1.5m75 0h64.5m57 0h4.5m51 0h12m6 0h3m30 0h6m31.5 0h63M383 587.25h10.5m1.5 0h1.5m46.5 0h1.5m3 0h3m1.5 0h1.5m3 0h6m9 0h4.5m51 0h1.5m6 0h3m18 0h3m1.5 0h1.5m9 0h1.5m10.5 0h3m12 0h3m3 0h3m9 0h9m61.5 0h1.5m18 0h3m1.5 0h4.5m3 0h6m6 0h18m1.5 0h9m4.5 0h3m4.5 0h6m15 0h12m16.5 0h117m6 0h4.5m73.5 0h69m51 0h6m37.5 0h4.5m1.5 0h1.5m6 0h12m42 0h3m30 0h64.5M384.5 588.75h10.5m1.5 0h1.5m54 0h1.5m4.5 0h4.5m9 0h4.5m51 0h1.5m18 0h1.5m4.5 0h3m1.5 0h1.5m1.5 0h1.5m6 0h1.5m1.5 0h1.5m12 0h1.5m3 0h3m3 0h6m3 0h4.5m3 0h1.5m3 0h7.5m7.5 0h1.5m72 0h3m3 0h1.5m1.5 0h1.5m3 0h1.5m3 0h1.5m6 0h27m12 0h7.5m15 0h9m1.5 0h1.5m7.5 0h3m1.5 0h1.5m3 0h118.5m3 0h7.5m72 0h69m49.5 0h6m36 0h1.5m9 0h3m3 0h12m72 0h67.5M387.5 590.25h9m48 0h1.5m13.5 0h1.5m12 0h1.5m73.5 0h1.5m9 0h3m9 0h3m12 0h13.5m4.5 0h3m3 0h1.5m7.5 0h1.5m1.5 0h3m6 0h3m70.5 0h1.5m1.5 0h9m1.5 0h6m6 0h1.5m1.5 0h3m4.5 0h4.5m1.5 0h4.5m3 0h3m12 0h10.5m3 0h16.5m3 0h1.5m9 0h4.5m1.5 0h130.5m70.5 0h70.5m49.5 0h1.5m49.5 0h19.5m33 0h9m6 0h1.5m21 0h69M387.5 591.75h3m3 0h3m46.5 0h4.5m3 0h3m6 0h1.5m4.5 0h1.5m6 0h1.5m18 0h1.5m45 0h1.5m1.5 0h1.5m4.5 0h4.5m7.5 0h1.5m3 0h3m4.5 0h1.5m12 0h7.5m3 0h3m4.5 0h3m1.5 0h1.5m19.5 0h1.5m1.5 0h1.5m70.5 0h1.5m1.5 0h9m1.5 0h6m4.5 0h3m1.5 0h1.5m1.5 0h4.5m1.5 0h3m1.5 0h4.5m4.5 0h1.5m12 0h24m22.5 0h135m58.5 0h1.5m7.5 0h72m48 0h1.5m49.5 0h21m31.5 0h19.5m19.5 0h67.5M389 593.25h7.5m48 0h3m6 0h1.5m7.5 0h6m3 0h6m15 0h3m46.5 0h4.5m4.5 0h1.5m9 0h1.5m22.5 0h7.5m4.5 0h7.5m1.5 0h1.5m6 0h3m10.5 0h6m66 0h1.5m3 0h4.5m3 0h3m1.5 0h9m3 0h1.5m1.5 0h1.5m3 0h18m1.5 0h1.5m13.5 0h19.5m25.5 0h138m52.5 0h84m93 0h27m31.5 0h19.5m6 0h9m3 0h69M390.5 594.75h4.5m49.5 0h3m6 0h3m4.5 0h9m1.5 0h6m64.5 0h1.5m1.5 0h1.5m16.5 0h1.5m24 0h4.5m4.5 0h6m3 0h1.5m6 0h4.5m6 0h1.5m1.5 0h6m66 0h1.5m3 0h3m4.5 0h3m1.5 0h6m1.5 0h1.5m3 0h1.5m1.5 0h1.5m1.5 0h7.5m1.5 0h10.5m1.5 0h1.5m13.5 0h19.5m27 0h138m49.5 0h87m91.5 0h27m30 0h21m6 0h81M390.5 596.25h1.5m1.5 0h1.5m49.5 0h4.5m6 0h1.5m6 0h3m3 0h1.5m3 0h1.5m57 0h10.5m1.5 0h4.5m13.5 0h4.5m19.5 0h3m3 0h3m3 0h6m1.5 0h3m6 0h4.5m6 0h3m4.5 0h1.5m66 0h1.5m6 0h7.5m3 0h4.5m1.5 0h1.5m3 0h10.5m1.5 0h6m1.5 0h9m15 0h19.5m25.5 0h15m6 0h120m43.5 0h91.5m84 0h25.5m1.5 0h6m21 0h117M393.5 597.75h1.5m51 0h1.5m9 0h1.5m4.5 0h3m3 0h4.5m48 0h1.5m10.5 0h1.5m3 0h4.5m1.5 0h3m15 0h3m1.5 0h1.5m19.5 0h1.5m3 0h3m3 0h6m3 0h3m6 0h1.5m4.5 0h3m1.5 0h4.5m1.5 0h3m64.5 0h3m3 0h9m3 0h4.5m1.5 0h1.5m3 0h10.5m3 0h1.5m1.5 0h1.5m1.5 0h9m15 0h18m27 0h15m7.5 0h120m13.5 0h9m19.5 0h94.5m78 0h27m4.5 0h4.5m19.5 0h118.5M464 599.25h1.5m3 0h3m49.5 0h1.5m18 0h3m1.5 0h3m10.5 0h3m30 0h3m7.5 0h13.5m6 0h12m3 0h1.5m46.5 0h6m9 0h3m3 0h10.5m1.5 0h7.5m3 0h3m1.5 0h1.5m1.5 0h3m3 0h1.5m1.5 0h1.5m3 0h7.5m18 0h15m25.5 0h16.5m7.5 0h121.5m6 0h25.5m7.5 0h97.5m61.5 0h6m7.5 0h28.5m6 0h3m12 0h3m3 0h1.5m9 0h106.5M464 600.75h3m1.5 0h3m66 0h1.5m3 0h1.5m3 0h1.5m30 0h1.5m10.5 0h4.5m9 0h6m4.5 0h1.5m6 0h15m1.5 0h1.5m45 0h3m18 0h10.5m1.5 0h6m4.5 0h3m4.5 0h3m1.5 0h3m1.5 0h1.5m3 0h7.5m18 0h15m21 0h1.5m1.5 0h18m7.5 0h121.5m3 0h30m6 0h99m46.5 0h3m1.5 0h1.5m19.5 0h19.5m4.5 0h6m21 0h6m12 0h103.5M395 602.25h4.5m66 0h4.5m1.5 0h3m48 0h1.5m15 0h3m4.5 0h4.5m10.5 0h1.5m12 0h6m7.5 0h3m3 0h4.5m7.5 0h10.5m3 0h3m1.5 0h15m45 0h6m15 0h7.5m1.5 0h1.5m1.5 0h6m1.5 0h1.5m1.5 0h1.5m1.5 0h1.5m3 0h7.5m3 0h1.5m3 0h4.5m18 0h16.5m18 0h27m3 0h156m3 0h105m42 0h12m10.5 0h18m13.5 0h1.5m25.5 0h1.5m15 0h99M395 603.75h4.5m3 0h1.5m63 0h4.5m1.5 0h1.5m48 0h1.5m15 0h4.5m4.5 0h1.5m1.5 0h1.5m9 0h1.5m13.5 0h3m9 0h1.5m4.5 0h6m3 0h15m3 0h1.5m1.5 0h15m45 0h1.5m1.5 0h4.5m12 0h7.5m1.5 0h10.5m1.5 0h1.5m1.5 0h15m3 0h1.5m3 0h4.5m18 0h16.5m4.5 0h1.5m12 0h27m4.5 0h262.5m34.5 0h3m4.5 0h12m1.5 0h1.5m1.5 0h24m34.5 0h3m19.5 0h97.5M396.5 605.25h3m1.5 0h1.5m3 0h1.5m55.5 0h3m60 0h1.5m13.5 0h6m4.5 0h1.5m25.5 0h1.5m1.5 0h1.5m15 0h1.5m1.5 0h3m1.5 0h21m6 0h6m49.5 0h4.5m3 0h22.5m1.5 0h6m3 0h3m1.5 0h9m3 0h1.5m4.5 0h7.5m15 0h18m10.5 0h3m1.5 0h28.5m7.5 0h262.5m28.5 0h7.5m3 0h43.5m15 0h6m4.5 0h9m12 0h3m1.5 0h97.5M396.5 606.75h4.5m1.5 0h7.5m52.5 0h4.5m58.5 0h1.5m13.5 0h7.5m19.5 0h3m34.5 0h21m1.5 0h3m55.5 0h1.5m3 0h1.5m3 0h22.5m1.5 0h3m7.5 0h1.5m3 0h7.5m3 0h1.5m4.5 0h16.5m6 0h16.5m12 0h33m10.5 0h6m1.5 0h1.5m1.5 0h252m24 0h9m3 0h48m7.5 0h9m4.5 0h16.5m3 0h102M396.5 608.25h1.5m1.5 0h4.5m1.5 0h6m52.5 0h4.5m73.5 0h4.5m1.5 0h3m1.5 0h1.5m51 0h28.5m12 0h1.5m37.5 0h3m4.5 0h6m4.5 0h15m1.5 0h3m9 0h1.5m6 0h3m4.5 0h3m1.5 0h7.5m4.5 0h1.5m1.5 0h1.5m6 0h1.5m1.5 0h13.5m12 0h6m3 0h24m12 0h4.5m6 0h262.5m9 0h12m4.5 0h63m4.5 0h118.5M396.5 609.75h3m1.5 0h13.5m48 0h6m1.5 0h1.5m76.5 0h7.5m12 0h1.5m1.5 0h1.5m15 0h3m15 0h3m1.5 0h21m21 0h1.5m31.5 0h3m4.5 0h6m4.5 0h15m1.5 0h3m7.5 0h3m6 0h3m4.5 0h3m1.5 0h16.5m4.5 0h18m12 0h7.5m1.5 0h24m12 0h4.5m6 0h267m4.5 0h13.5m3 0h61.5m6 0h117M398 611.25h1.5m1.5 0h7.5m3 0h1.5m1.5 0h4.5m45 0h4.5m81 0h3m1.5 0h1.5m10.5 0h4.5m12 0h7.5m16.5 0h1.5m3 0h19.5m15 0h7.5m3 0h1.5m25.5 0h4.5m3 0h1.5m3 0h1.5m9 0h4.5m1.5 0h1.5m3 0h1.5m1.5 0h4.5m4.5 0h1.5m9 0h3m1.5 0h3m1.5 0h1.5m1.5 0h15m4.5 0h19.5m9 0h37.5m22.5 0h348m6 0h102m6 0h6M399.5 612.75h7.5m1.5 0h1.5m1.5 0h10.5m39 0h1.5m1.5 0h4.5m82.5 0h3m12 0h9m7.5 0h7.5m19.5 0h1.5m1.5 0h1.5m1.5 0h10.5m1.5 0h3m1.5 0h1.5m12 0h9m28.5 0h4.5m1.5 0h3m3 0h1.5m9 0h7.5m3 0h1.5m1.5 0h6m15 0h4.5m3 0h1.5m1.5 0h12m1.5 0h1.5m4.5 0h19.5m9 0h39m21 0h151.5m3 0h193.5m6 0h99m13.5 0h1.5M396.5 614.25h13.5m3 0h4.5m1.5 0h4.5m1.5 0h1.5m13.5 0h4.5m9 0h1.5m4.5 0h1.5m6 0h3m96 0h9m9 0h1.5m25.5 0h3m1.5 0h12m4.5 0h1.5m3 0h1.5m7.5 0h13.5m22.5 0h1.5m1.5 0h6m15 0h3m1.5 0h1.5m3 0h1.5m1.5 0h9m10.5 0h3m1.5 0h3m6 0h13.5m1.5 0h1.5m1.5 0h24m6 0h40.5m19.5 0h150m16.5 0h175.5m9 0h100.5M396.5 615.75h3m1.5 0h1.5m1.5 0h4.5m1.5 0h1.5m3 0h3m3 0h6m15 0h3m1.5 0h1.5m4.5 0h4.5m3 0h3m6 0h1.5m1.5 0h1.5m93 0h1.5m1.5 0h6m13.5 0h3m19.5 0h3m1.5 0h6m1.5 0h1.5m1.5 0h3m1.5 0h6m9 0h13.5m21 0h3m1.5 0h6m15 0h6m1.5 0h9m15 0h7.5m6 0h13.5m1.5 0h1.5m1.5 0h24m9 0h39m18 0h150m18 0h175.5m4.5 0h102M405.5 617.25h7.5m3 0h4.5m1.5 0h4.5m15 0h1.5m4.5 0h1.5m4.5 0h3m1.5 0h4.5m1.5 0h1.5m3 0h6m42 0h1.5m52.5 0h6m12 0h10.5m13.5 0h7.5m3 0h1.5m3 0h4.5m1.5 0h3m7.5 0h15m21 0h6m1.5 0h3m15 0h4.5m1.5 0h3m3 0h1.5m1.5 0h1.5m10.5 0h3m1.5 0h3m10.5 0h13.5m7.5 0h25.5m4.5 0h39m18 0h144m24 0h174m4.5 0h100.5M408.5 618.75h3m1.5 0h1.5m4.5 0h3m1.5 0h3m15 0h3m1.5 0h4.5m3 0h4.5m1.5 0h1.5m3 0h3m3 0h1.5m1.5 0h3m40.5 0h1.5m49.5 0h1.5m1.5 0h7.5m1.5 0h1.5m7.5 0h12m10.5 0h12m4.5 0h4.5m1.5 0h6m4.5 0h1.5m1.5 0h4.5m6 0h1.5m22.5 0h3m3 0h1.5m16.5 0h9m3 0h1.5m1.5 0h1.5m12 0h4.5m12 0h13.5m9 0h24m9 0h33m21 0h142.5m25.5 0h172.5m3 0h102M423.5 620.25h4.5m16.5 0h3m3 0h3m4.5 0h1.5m1.5 0h1.5m3 0h7.5m43.5 0h3m49.5 0h1.5m1.5 0h7.5m6 0h15m12 0h9m10.5 0h6m7.5 0h1.5m40.5 0h1.5m6 0h1.5m6 0h1.5m1.5 0h1.5m4.5 0h3m4.5 0h6m7.5 0h1.5m1.5 0h3m12 0h12m10.5 0h19.5m12 0h34.5m21 0h141m28.5 0h274.5M420.5 621.75h3m1.5 0h3m16.5 0h1.5m4.5 0h3m6 0h3m3 0h3m3 0h4.5m42 0h1.5m40.5 0h1.5m12 0h6m3 0h18m9 0h1.5m1.5 0h7.5m10.5 0h3m1.5 0h1.5m1.5 0h3m54 0h1.5m6 0h3m1.5 0h1.5m3 0h6m1.5 0h4.5m9 0h6m12 0h12m12 0h16.5m13.5 0h33m24 0h138m30 0h273M423.5 623.25h6m28.5 0h1.5m1.5 0h1.5m10.5 0h7.5m39 0h1.5m42 0h1.5m10.5 0h6m3 0h18m1.5 0h1.5m7.5 0h4.5m1.5 0h1.5m12 0h1.5m1.5 0h1.5m1.5 0h3m19.5 0h4.5m1.5 0h1.5m1.5 0h1.5m3 0h1.5m12 0h1.5m13.5 0h9m10.5 0h1.5m9 0h4.5m6 0h1.5m6 0h6m1.5 0h1.5m13.5 0h16.5m12 0h36m34.5 0h127.5m16.5 0h3m13.5 0h270M423.5 624.75h6m25.5 0h7.5m3 0h1.5m7.5 0h7.5m37.5 0h3m39 0h1.5m1.5 0h1.5m10.5 0h6m1.5 0h19.5m15 0h1.5m13.5 0h1.5m3 0h3m7.5 0h1.5m1.5 0h1.5m4.5 0h1.5m1.5 0h6m21 0h1.5m13.5 0h9m9 0h3m7.5 0h4.5m6 0h3m6 0h6m1.5 0h1.5m13.5 0h13.5m15 0h37.5m34.5 0h123m21 0h1.5m13.5 0h268.5M429.5 626.25h3m21 0h1.5m1.5 0h6m12 0h9m36 0h3m39 0h4.5m12 0h4.5m3 0h21m7.5 0h7.5m25.5 0h4.5m1.5 0h1.5m3 0h1.5m1.5 0h13.5m13.5 0h1.5m6 0h3m4.5 0h4.5m1.5 0h1.5m10.5 0h1.5m9 0h4.5m1.5 0h1.5m3 0h3m3 0h1.5m3 0h6m13.5 0h12m15 0h40.5m37.5 0h118.5m22.5 0h3m12 0h43.5m1.5 0h222M429.5 627.75h4.5m19.5 0h9m13.5 0h7.5m78 0h3m1.5 0h1.5m12 0h4.5m1.5 0h21m9 0h6m25.5 0h6m4.5 0h1.5m1.5 0h12m15 0h1.5m6 0h3m4.5 0h4.5m1.5 0h1.5m9 0h4.5m6 0h9m3 0h3m3 0h1.5m3 0h7.5m12 0h12m13.5 0h40.5m40.5 0h115.5m24 0h3m12 0h40.5m4.5 0h222M432.5 629.25h3m13.5 0h1.5m3 0h10.5m7.5 0h3m3 0h6m81 0h1.5m1.5 0h3m10.5 0h4.5m1.5 0h22.5m6 0h6m25.5 0h6m6 0h7.5m7.5 0h1.5m12 0h3m3 0h3m4.5 0h4.5m3 0h1.5m7.5 0h3m1.5 0h1.5m12 0h3m3 0h3m3 0h1.5m3 0h10.5m9 0h7.5m1.5 0h1.5m13.5 0h31.5m4.5 0h6m43.5 0h112.5m25.5 0h1.5m12 0h39m15 0h211.5M435.5 630.75h1.5m12 0h3m3 0h10.5m4.5 0h4.5m3 0h7.5m37.5 0h1.5m43.5 0h3m9 0h1.5m1.5 0h3m1.5 0h24m4.5 0h6m3 0h3m4.5 0h1.5m12 0h7.5m13.5 0h1.5m4.5 0h3m12 0h3m3 0h1.5m7.5 0h3m3 0h1.5m7.5 0h3m18 0h1.5m7.5 0h1.5m1.5 0h3m1.5 0h6m10.5 0h7.5m16.5 0h30m7.5 0h4.5m45 0h15m4.5 0h93m24 0h1.5m12 0h34.5m22.5 0h207M450.5 632.25h1.5m6 0h7.5m9 0h1.5m1.5 0h9m36 0h1.5m64.5 0h9m4.5 0h9m4.5 0h6m3 0h12m12 0h3m9 0h1.5m1.5 0h3m13.5 0h1.5m7.5 0h6m1.5 0h3m3 0h3m13.5 0h3m28.5 0h1.5m1.5 0h3m4.5 0h1.5m10.5 0h4.5m16.5 0h33m55.5 0h15m10.5 0h87m24 0h1.5m12 0h36m21 0h198M438.5 633.75h1.5m16.5 0h12m6 0h12m36 0h1.5m58.5 0h1.5m3 0h1.5m1.5 0h7.5m1.5 0h3m1.5 0h9m3 0h6m3 0h3m3 0h4.5m3 0h1.5m12 0h3m28.5 0h4.5m1.5 0h1.5m1.5 0h7.5m1.5 0h3m1.5 0h1.5m13.5 0h1.5m28.5 0h4.5m1.5 0h6m10.5 0h3m16.5 0h34.5m4.5 0h3m48 0h15m12 0h85.5m22.5 0h3m12 0h36m21 0h198M450.5 635.25h3m1.5 0h16.5m3 0h3m1.5 0h7.5m102 0h3m1.5 0h4.5m1.5 0h1.5m3 0h1.5m1.5 0h6m3 0h9m1.5 0h12m10.5 0h6m31.5 0h1.5m1.5 0h1.5m1.5 0h7.5m3 0h1.5m1.5 0h4.5m10.5 0h1.5m3 0h1.5m4.5 0h1.5m18 0h3m4.5 0h3m12 0h1.5m16.5 0h28.5m1.5 0h13.5m48 0h3m3 0h7.5m13.5 0h84m22.5 0h3m13.5 0h36m24 0h193.5M450.5 636.75h4.5m1.5 0h12m1.5 0h1.5m1.5 0h4.5m3 0h6m30 0h1.5m70.5 0h3m3 0h3m1.5 0h1.5m4.5 0h9m3 0h21m10.5 0h3m22.5 0h6m3 0h4.5m1.5 0h1.5m1.5 0h1.5m1.5 0h4.5m6 0h4.5m10.5 0h1.5m67.5 0h30m1.5 0h10.5m51 0h3m1.5 0h7.5m18 0h81m7.5 0h3m6 0h1.5m1.5 0h6m13.5 0h34.5m25.5 0h156m6 0h31.5M450.5 638.25h7.5m1.5 0h15m3 0h1.5m1.5 0h3m33 0h3m76.5 0h4.5m7.5 0h7.5m3 0h1.5m1.5 0h19.5m7.5 0h1.5m1.5 0h3m6 0h3m1.5 0h3m7.5 0h3m3 0h6m1.5 0h1.5m4.5 0h1.5m9 0h6m4.5 0h1.5m3 0h3m58.5 0h37.5m3 0h9m55.5 0h4.5m22.5 0h15m4.5 0h22.5m7.5 0h28.5m7.5 0h6m1.5 0h12m16.5 0h30m28.5 0h153m15 0h22.5M453.5 639.75h21m1.5 0h1.5m3 0h1.5m36 0h1.5m78 0h3m9 0h6m7.5 0h1.5m1.5 0h9m1.5 0h4.5m10.5 0h4.5m4.5 0h1.5m1.5 0h6m9 0h9m1.5 0h1.5m12 0h1.5m3 0h3m6 0h7.5m57 0h37.5m6 0h6m85.5 0h10.5m7.5 0h9m3 0h9m10.5 0h25.5m9 0h6m3 0h9m1.5 0h3m13.5 0h30m33 0h148.5m16.5 0h19.5M455 641.25h16.5m1.5 0h1.5m1.5 0h4.5m3 0h4.5m120 0h4.5m3 0h1.5m7.5 0h12m1.5 0h3m9 0h7.5m6 0h6m6 0h4.5m1.5 0h6m1.5 0h1.5m4.5 0h1.5m6 0h1.5m4.5 0h1.5m6 0h10.5m52.5 0h37.5m99 0h4.5m22.5 0h12m12 0h21m18 0h15m16.5 0h28.5m33 0h126m9 0h12m16.5 0h19.5M456.5 642.75h15m1.5 0h1.5m1.5 0h4.5m3 0h3m3 0h3m88.5 0h1.5m27 0h1.5m4.5 0h3m9 0h6m10.5 0h1.5m4.5 0h7.5m6 0h7.5m4.5 0h4.5m1.5 0h6m1.5 0h1.5m12 0h1.5m4.5 0h1.5m6 0h3m1.5 0h6m51 0h36m102 0h3m24 0h1.5m1.5 0h7.5m15 0h18m21 0h4.5m25.5 0h28.5m34.5 0h124.5m13.5 0h7.5m18 0h16.5M459.5 644.25h1.5m3 0h4.5m1.5 0h13.5m6 0h3m87 0h1.5m3 0h1.5m31.5 0h1.5m7.5 0h4.5m12 0h3m3 0h12m3 0h3m9 0h3m1.5 0h7.5m1.5 0h3m9 0h4.5m3 0h1.5m9 0h1.5m3 0h1.5m51 0h37.5m132 0h7.5m16.5 0h16.5m61.5 0h16.5m30 0h1.5m3 0h3m6 0h3m3 0h88.5m15 0h1.5m45 0h15M459.5 645.75h1.5m4.5 0h4.5m1.5 0h1.5m3 0h7.5m1.5 0h1.5m3 0h3m84 0h4.5m1.5 0h1.5m1.5 0h1.5m31.5 0h3m18 0h4.5m4.5 0h7.5m3 0h3m3 0h1.5m1.5 0h1.5m7.5 0h1.5m1.5 0h7.5m1.5 0h3m9 0h4.5m3 0h1.5m64.5 0h39m99 0h1.5m33 0h6m16.5 0h15m63 0h16.5m43.5 0h1.5m6 0h85.5m15 0h3m43.5 0h16.5M461 647.25h1.5m3 0h6m9 0h4.5m91.5 0h4.5m1.5 0h3m1.5 0h1.5m31.5 0h3m15 0h3m7.5 0h7.5m3 0h4.5m3 0h1.5m6 0h1.5m3 0h12m13.5 0h4.5m7.5 0h3m54 0h18m4.5 0h16.5m136.5 0h3m19.5 0h10.5m67.5 0h16.5m42 0h1.5m9 0h82.5m15 0h3m45 0h12M462.5 648.75h1.5m3 0h3m10.5 0h4.5m93 0h3m1.5 0h6m33 0h3m12 0h6m16.5 0h7.5m6 0h4.5m1.5 0h10.5m13.5 0h6m9 0h3m6 0h1.5m43.5 0h15m3 0h1.5m1.5 0h1.5m1.5 0h15m138 0h3m21 0h7.5m70.5 0h15m42 0h1.5m6 0h1.5m3 0h81m63 0h12M464 650.25h1.5m3 0h3m12 0h3m94.5 0h1.5m3 0h3m46.5 0h1.5m1.5 0h3m3 0h3m6 0h3m1.5 0h7.5m10.5 0h13.5m16.5 0h3m9 0h6m3 0h1.5m42 0h16.5m9 0h15m87 0h3m3 0h3m42 0h3m22.5 0h4.5m43.5 0h1.5m27 0h13.5m40.5 0h6m9 0h81m63 0h9M464 651.75h1.5m3 0h4.5m13.5 0h3m93 0h1.5m1.5 0h3m46.5 0h1.5m7.5 0h4.5m9 0h3m1.5 0h1.5m9 0h6m6 0h4.5m13.5 0h1.5m1.5 0h3m10.5 0h4.5m3 0h1.5m42 0h1.5m4.5 0h1.5m4.5 0h4.5m7.5 0h12m97.5 0h3m42 0h3m54 0h1.5m13.5 0h4.5m25.5 0h3m1.5 0h7.5m21 0h1.5m19.5 0h6m9 0h81m63 0h9M470 653.25h4.5m10.5 0h4.5m94.5 0h1.5m27 0h3m15 0h1.5m12 0h6m7.5 0h6m21 0h6m12 0h1.5m1.5 0h1.5m9 0h3m1.5 0h4.5m31.5 0h1.5m28.5 0h3m3 0h9m103.5 0h1.5m97.5 0h1.5m15 0h6m21 0h1.5m33 0h1.5m21 0h7.5m9 0h79.5m66 0h3M471.5 654.75h1.5m12 0h1.5m91.5 0h4.5m3 0h3m24 0h3m15 0h1.5m13.5 0h6m6 0h6m9 0h1.5m4.5 0h12m12 0h1.5m12 0h10.5m10.5 0h1.5m16.5 0h4.5m31.5 0h1.5m112.5 0h1.5m60 0h1.5m52.5 0h6m93 0h81m66 0h3M471.5 656.25h3m141 0h1.5m15 0h1.5m6 0h1.5m7.5 0h3m6 0h6m7.5 0h3m3 0h13.5m12 0h3m10.5 0h6m1.5 0h3m12 0h3m13.5 0h3m3 0h3m193.5 0h15m21 0h1.5m16.5 0h3m4.5 0h10.5m93 0h76.5M471.5 657.75h4.5m3 0h1.5m99 0h1.5m34.5 0h1.5m16.5 0h1.5m4.5 0h1.5m7.5 0h1.5m7.5 0h3m9 0h4.5m3 0h13.5m12 0h3m10.5 0h7.5m1.5 0h1.5m28.5 0h4.5m1.5 0h4.5m138 0h1.5m54 0h16.5m27 0h1.5m6 0h19.5m82.5 0h1.5m10.5 0h48m1.5 0h24M471.5 659.25h4.5m103.5 0h4.5m81 0h1.5m3 0h15m3 0h3m25.5 0h9m1.5 0h3m24 0h1.5m1.5 0h4.5m130.5 0h13.5m52.5 0h27m21 0h27m81 0h1.5m10.5 0h42m7.5 0h1.5m6 0h12m49.5 0h1.5M470 660.75h1.5m3 0h3m100.5 0h7.5m6 0h1.5m70.5 0h3m1.5 0h16.5m3 0h4.5m24 0h15m9 0h1.5m12 0h1.5m1.5 0h6m1.5 0h1.5m126 0h15m51 0h39m3 0h34.5m91.5 0h6m3 0h24m3 0h1.5m1.5 0h3m16.5 0h10.5m46.5 0h4.5M468.5 662.25h3m1.5 0h4.5m4.5 0h4.5m93 0h7.5m73.5 0h1.5m3 0h6m1.5 0h4.5m3 0h6m1.5 0h6m6 0h6m10.5 0h13.5m1.5 0h1.5m7.5 0h1.5m13.5 0h3m1.5 0h7.5m1.5 0h1.5m1.5 0h1.5m118.5 0h15m51 0h40.5m1.5 0h34.5m204 0h10.5M468.5 663.75h3m3 0h3m6 0h3m12 0h1.5m81 0h6m72 0h1.5m3 0h7.5m1.5 0h4.5m4.5 0h1.5m1.5 0h9m6 0h1.5m1.5 0h3m4.5 0h3m4.5 0h9m1.5 0h3m9 0h1.5m13.5 0h3m1.5 0h7.5m1.5 0h1.5m1.5 0h1.5m117 0h16.5m52.5 0h76.5m201 0h12M470 665.25h13.5m16.5 0h3m79.5 0h6m73.5 0h33m12 0h1.5m9 0h9m3 0h3m6 0h3m13.5 0h10.5m3 0h1.5m1.5 0h3m105 0h1.5m7.5 0h6m3 0h9m54 0h79.5m196.5 0h16.5M470 666.75h6m3 0h1.5m19.5 0h4.5m76.5 0h7.5m1.5 0h1.5m70.5 0h21m3 0h9m12 0h1.5m7.5 0h10.5m3 0h12m9 0h3m1.5 0h10.5m3 0h1.5m1.5 0h3m105 0h12m6 0h9m52.5 0h81m195 0h19.5M582.5 668.25h9m69 0h1.5m1.5 0h12m3 0h1.5m6 0h9m1.5 0h6m15 0h9m6 0h9m9 0h3m3 0h7.5m4.5 0h1.5m1.5 0h3m123 0h10.5m42 0h1.5m3 0h9m4.5 0h15m1.5 0h30m9 0h3m6 0h9m193.5 0h16.5M584 669.75h9m67.5 0h1.5m1.5 0h9m1.5 0h4.5m7.5 0h9m3 0h4.5m15 0h7.5m9 0h7.5m9 0h3m3 0h7.5m1.5 0h1.5m1.5 0h1.5m1.5 0h3m123 0h12m21 0h3m15 0h3m7.5 0h1.5m7.5 0h13.5m6 0h27m18 0h9m193.5 0h15M585.5 671.25h9m69 0h10.5m12 0h3m1.5 0h4.5m4.5 0h3m16.5 0h7.5m4.5 0h3m4.5 0h3m9 0h13.5m1.5 0h4.5m3 0h1.5m120 0h16.5m13.5 0h6m36 0h13.5m10.5 0h25.5m16.5 0h7.5m193.5 0h13.5M587 672.75h6m69 0h12m12 0h1.5m3 0h3m6 0h3m6 0h1.5m7.5 0h9m3 0h4.5m3 0h1.5m1.5 0h1.5m9 0h13.5m1.5 0h1.5m127.5 0h18m12 0h6m36 0h12m12 0h27m15 0h6m195 0h12M587 674.25h4.5m1.5 0h3m70.5 0h7.5m12 0h7.5m7.5 0h1.5m6 0h1.5m7.5 0h1.5m1.5 0h1.5m4.5 0h1.5m1.5 0h13.5m7.5 0h7.5m1.5 0h6m6 0h3m111 0h3m3 0h24m7.5 0h7.5m36 0h12m15 0h27m12 0h4.5m193.5 0h12M588.5 675.75h1.5m3 0h4.5m69 0h6m13.5 0h7.5m7.5 0h3m4.5 0h1.5m6 0h4.5m1.5 0h1.5m3 0h1.5m1.5 0h12m1.5 0h1.5m6 0h15m6 0h3m112.5 0h28.5m4.5 0h10.5m36 0h12m15 0h28.5m10.5 0h4.5m192 0h12M594.5 677.25h6m7.5 0h3m55.5 0h6m12 0h6m10.5 0h3m4.5 0h3m3 0h7.5m4.5 0h19.5m7.5 0h3m1.5 0h7.5m6 0h3m115.5 0h40.5m33 0h15m15 0h30m10.5 0h4.5m187.5 0h13.5M593 678.75h4.5m1.5 0h1.5m7.5 0h3m57 0h4.5m12 0h4.5m12 0h3m12 0h6m6 0h19.5m6 0h1.5m4.5 0h6m7.5 0h1.5m117 0h45m30 0h12m16.5 0h30m10.5 0h4.5m181.5 0h3m1.5 0h13.5M593 680.25h7.5m69 0h3m13.5 0h1.5m3 0h3m9 0h1.5m13.5 0h3m7.5 0h15m1.5 0h1.5m1.5 0h1.5m1.5 0h1.5m1.5 0h1.5m3 0h7.5m7.5 0h1.5m117 0h48m1.5 0h10.5m15 0h12m21 0h27m9 0h6m3 0h4.5m169.5 0h19.5M591.5 681.75h10.5m1.5 0h1.5m6 0h1.5m54 0h3m16.5 0h1.5m1.5 0h1.5m12 0h1.5m13.5 0h3m7.5 0h21m1.5 0h1.5m7.5 0h1.5m1.5 0h3m126 0h60m15 0h12m22.5 0h25.5m9 0h15m165 0h21M594.5 683.25h9m1.5 0h1.5m6 0h1.5m46.5 0h3m19.5 0h4.5m30 0h3m1.5 0h4.5m1.5 0h16.5m1.5 0h3m1.5 0h1.5m7.5 0h6m6 0h1.5m118.5 0h21m6 0h39m9 0h12m24 0h24m7.5 0h19.5m156 0h27M594.5 684.75h12m6 0h3m69 0h3m30 0h3m1.5 0h3m3 0h18m1.5 0h4.5m9 0h1.5m1.5 0h1.5m126 0h21m6 0h15m1.5 0h24m7.5 0h12m24 0h24m6 0h21m154.5 0h27M596 686.25h10.5m10.5 0h1.5m85.5 0h4.5m9 0h4.5m1.5 0h1.5m3 0h19.5m1.5 0h1.5m4.5 0h1.5m4.5 0h1.5m1.5 0h1.5m126 0h3m4.5 0h12m9 0h12m4.5 0h24m6 0h13.5m21 0h25.5m6 0h33m6 0h9m126 0h27M596 687.75h10.5m7.5 0h1.5m1.5 0h1.5m84 0h4.5m9 0h6m3 0h1.5m1.5 0h19.5m1.5 0h1.5m4.5 0h1.5m4.5 0h1.5m1.5 0h1.5m126 0h3m6 0h9m10.5 0h10.5m7.5 0h22.5m6 0h13.5m21 0h25.5m6 0h33m4.5 0h10.5m12 0h1.5m108 0h31.5M596 689.25h12m91.5 0h1.5m1.5 0h9m4.5 0h3m1.5 0h6m1.5 0h10.5m16.5 0h1.5m7.5 0h1.5m106.5 0h1.5m19.5 0h1.5m9 0h6m10.5 0h10.5m7.5 0h22.5m6 0h13.5m15 0h1.5m3 0h27m9 0h45m120 0h31.5M596 690.75h13.5m96 0h9m3 0h1.5m1.5 0h3m1.5 0h1.5m3 0h6m28.5 0h1.5m106.5 0h1.5m21 0h1.5m6 0h7.5m12 0h9m7.5 0h24m4.5 0h13.5m13.5 0h3m1.5 0h28.5m9 0h48m115.5 0h31.5M599 692.25h4.5m3 0h3m96 0h12m7.5 0h3m1.5 0h3m31.5 0h1.5m105 0h3m22.5 0h1.5m3 0h10.5m10.5 0h9m6 0h1.5m1.5 0h24m3 0h12m13.5 0h34.5m7.5 0h49.5m9 0h4.5m3 0h7.5m90 0h33M587 693.75h1.5m9 0h1.5m1.5 0h3m3 0h4.5m94.5 0h12m4.5 0h1.5m1.5 0h4.5m34.5 0h1.5m102 0h7.5m22.5 0h1.5m1.5 0h15m6 0h10.5m7.5 0h15m3 0h6m3 0h12m13.5 0h34.5m6 0h51m9 0h16.5m87 0h34.5M588.5 695.25h1.5m10.5 0h3m1.5 0h3m1.5 0h1.5m94.5 0h12m15 0h3m127.5 0h13.5m22.5 0h16.5m6 0h15m6 0h9m7.5 0h3m4.5 0h10.5m13.5 0h36m4.5 0h52.5m3 0h1.5m10.5 0h16.5m4.5 0h1.5m49.5 0h18m4.5 0h36M605 696.75h4.5m96 0h1.5m1.5 0h10.5m6 0h1.5m6 0h3m1.5 0h1.5m126 0h15m21 0h15m6 0h15m28.5 0h12m13.5 0h96m9 0h22.5m1.5 0h3m1.5 0h4.5m15 0h9m15 0h60M591.5 698.25h3m7.5 0h6m1.5 0h3m99 0h3m7.5 0h1.5m4.5 0h6m1.5 0h3m126 0h16.5m19.5 0h13.5m9 0h13.5m9 0h3m13.5 0h15m13.5 0h103.5m1.5 0h34.5m7.5 0h18m6 0h66M593 699.75h1.5m9 0h3m105 0h3m12 0h6m3 0h1.5m127.5 0h18m18 0h12m12 0h13.5m4.5 0h6m13.5 0h16.5m12 0h141m4.5 0h19.5m4.5 0h67.5M638 701.25h1.5m79.5 0h1.5m3 0h3m3 0h1.5m133.5 0h16.5m19.5 0h12m12 0h25.5m16.5 0h12m9 0h168m3 0h67.5M714.5 702.75h4.5m12 0h1.5m30 0h1.5m100.5 0h15m21 0h12m13.5 0h22.5m19.5 0h10.5m9 0h168m3 0h66M714.5 704.25h1.5m1.5 0h4.5m6 0h6m4.5 0h3m16.5 0h4.5m1.5 0h1.5m1.5 0h1.5m1.5 0h1.5m55.5 0h1.5m12 0h4.5m19.5 0h16.5m19.5 0h12m3 0h4.5m4.5 0h24m21 0h9m10.5 0h235.5M717.5 705.75h1.5m1.5 0h1.5m4.5 0h6m3 0h3m19.5 0h7.5m1.5 0h3m55.5 0h1.5m13.5 0h9m15 0h18m19.5 0h10.5m3 0h31.5m22.5 0h9m12 0h234M714.5 707.25h3m4.5 0h7.5m4.5 0h3m16.5 0h1.5m1.5 0h4.5m55.5 0h7.5m13.5 0h19.5m6 0h19.5m19.5 0h12m3 0h25.5m10.5 0h6m12 0h7.5m15 0h229.5M714.5 708.75h15m4.5 0h1.5m16.5 0h1.5m1.5 0h4.5m51 0h13.5m13.5 0h21m3 0h15m25.5 0h13.5m1.5 0h22.5m13.5 0h6m10.5 0h7.5m16.5 0h229.5M714.5 710.25h12m10.5 0h4.5m10.5 0h7.5m1.5 0h1.5m48 0h13.5m12 0h39m1.5 0h6m21 0h25.5m3 0h7.5m15 0h3m9 0h10.5m16.5 0h228M716 711.75h10.5m9 0h1.5m1.5 0h1.5m1.5 0h1.5m4.5 0h12m1.5 0h1.5m48 0h13.5m12 0h46.5m21 0h25.5m3 0h7.5m27 0h9m19.5 0h226.5M717.5 713.25h6m7.5 0h1.5m1.5 0h13.5m1.5 0h10.5m51 0h3m3 0h6m13.5 0h39m28.5 0h37.5m6 0h4.5m16.5 0h9m19.5 0h225M719 714.75h4.5m9 0h7.5m1.5 0h4.5m1.5 0h10.5m52.5 0h3m4.5 0h6m4.5 0h3m3 0h37.5m33 0h19.5m3 0h15m3 0h6m16.5 0h10.5m18 0h225M729.5 716.25h9m9 0h9m52.5 0h7.5m1.5 0h13.5m4.5 0h34.5m30 0h1.5m1.5 0h18m6 0h25.5m16.5 0h9m18 0h225M728 717.75h10.5m1.5 0h1.5m4.5 0h10.5m52.5 0h24m3 0h42m22.5 0h19.5m7.5 0h25.5m16.5 0h7.5m19.5 0h225M725 719.25h10.5m1.5 0h1.5m6 0h9m57 0h6m3 0h13.5m3 0h31.5m3 0h9m21 0h19.5m7.5 0h12m6 0h6m18 0h6m21 0h225M723.5 720.75h13.5m6 0h10.5m58.5 0h4.5m6 0h27m3 0h13.5m4.5 0h9m19.5 0h21m6 0h12m7.5 0h6m18 0h6m21 0h223.5M726.5 722.25h6m9 0h10.5m12 0h1.5m58.5 0h22.5m9 0h4.5m10.5 0h12m6 0h1.5m10.5 0h36m9 0h6m18 0h4.5m22.5 0h97.5m13.5 0h111M726.5 723.75h3m1.5 0h1.5m7.5 0h10.5m12 0h3m58.5 0h22.5m9 0h3m13.5 0h10.5m4.5 0h1.5m10.5 0h37.5m9 0h7.5m16.5 0h6m7.5 0h3m10.5 0h87m1.5 0h9m16.5 0h108M738.5 725.25h12m12 0h3m46.5 0h1.5m4.5 0h3m3 0h25.5m22.5 0h7.5m6 0h1.5m12 0h30m3 0h22.5m12 0h12m3 0h4.5m12 0h16.5m6 0h19.5m1.5 0h42m1.5 0h10.5m24 0h99M738.5 726.75h12m12 0h1.5m15 0h1.5m31.5 0h1.5m3 0h34.5m21 0h7.5m19.5 0h30m4.5 0h21m12 0h12m3 0h4.5m12 0h15m7.5 0h12m9 0h42m1.5 0h10.5m27 0h96M737 728.25h12m25.5 0h1.5m1.5 0h3m31.5 0h1.5m3 0h36m46.5 0h31.5m3 0h15m7.5 0h7.5m3 0h13.5m1.5 0h4.5m13.5 0h12m31.5 0h25.5m6 0h7.5m4.5 0h6m33 0h93M737 729.75h10.5m1.5 0h1.5m25.5 0h3m34.5 0h1.5m3 0h34.5m46.5 0h33m1.5 0h13.5m9 0h9m3 0h13.5m18 0h12m33 0h19.5m13.5 0h4.5m4.5 0h3m37.5 0h91.5M735.5 731.25h12m7.5 0h1.5m3 0h3m10.5 0h4.5m37.5 0h1.5m1.5 0h34.5m25.5 0h1.5m10.5 0h1.5m7.5 0h40.5m18 0h12m6 0h7.5m16.5 0h12m1.5 0h1.5m30 0h15m70.5 0h90M737 732.75h10.5m6 0h1.5m1.5 0h1.5m1.5 0h4.5m1.5 0h3m3 0h3m10.5 0h3m28.5 0h36m25.5 0h1.5m9 0h6m3 0h40.5m19.5 0h7.5m12 0h7.5m15 0h12m34.5 0h10.5m75 0h90M737 734.25h6m1.5 0h3m4.5 0h4.5m4.5 0h12m7.5 0h1.5m1.5 0h7.5m25.5 0h36m13.5 0h4.5m18 0h49.5m22.5 0h1.5m19.5 0h3m18 0h12m33 0h6m78 0h36m1.5 0h52.5M738.5 735.75h3m1.5 0h6m4.5 0h3m3 0h13.5m6 0h1.5m1.5 0h7.5m27 0h34.5m15 0h4.5m18 0h42m3 0h4.5m43.5 0h3m27 0h3m36 0h1.5m81 0h31.5m6 0h51M741.5 737.25h9m1.5 0h19.5m6 0h1.5m1.5 0h1.5m34.5 0h33m18 0h3m18 0h42m3 0h6m43.5 0h3m27 0h6m115.5 0h19.5m3 0h4.5m12 0h46.5M746 738.75h1.5m1.5 0h1.5m4.5 0h13.5m10.5 0h1.5m1.5 0h3m31.5 0h33m39 0h9m9 0h21m6 0h6m43.5 0h3m148.5 0h18m7.5 0h1.5m13.5 0h43.5M741.5 740.25h1.5m1.5 0h1.5m4.5 0h16.5m49.5 0h24m4.5 0h7.5m34.5 0h9m16.5 0h13.5m7.5 0h3m3 0h1.5m45 0h1.5m63 0h6m79.5 0h13.5m27 0h39M743 741.75h1.5m6 0h15m1.5 0h1.5m7.5 0h1.5m1.5 0h1.5m36 0h22.5m6 0h7.5m34.5 0h7.5m19.5 0h22.5m3 0h1.5m109.5 0h6m81 0h10.5m28.5 0h39M750.5 743.25h4.5m7.5 0h3m9 0h1.5m43.5 0h18m6 0h9m33 0h9m7.5 0h4.5m9 0h22.5m3 0h1.5m109.5 0h3m82.5 0h7.5m34.5 0h36M750.5 744.75h6m1.5 0h4.5m10.5 0h3m43.5 0h16.5m9 0h7.5m33 0h9m7.5 0h4.5m15 0h19.5m112.5 0h1.5m82.5 0h1.5m40.5 0h34.5M753.5 746.25h1.5m15 0h4.5m54 0h6m12 0h3m36 0h13.5m1.5 0h6m18 0h19.5m237 0h31.5M768.5 747.75h1.5m1.5 0h3m55.5 0h1.5m15 0h3m36 0h21m19.5 0h18m238.5 0h30M765.5 749.25h7.5m112.5 0h24m18 0h16.5m240 0h25.5M765.5 750.75h1.5m1.5 0h4.5m112.5 0h30m13.5 0h13.5m243 0h24M765.5 752.25h1.5m1.5 0h1.5m115.5 0h30m15 0h10.5m82.5 0h1.5m1.5 0h1.5m157.5 0h12M885.5 753.75h31.5m7.5 0h15m87 0h1.5m159 0h10.5M762.5 755.25h1.5m123 0h9m7.5 0h13.5m4.5 0h16.5m85.5 0h1.5m15 0h1.5m3 0h9m6 0h1.5m127.5 0h7.5m34.5 0h3M762.5 756.75h4.5m120 0h7.5m15 0h7.5m4.5 0h15m88.5 0h1.5m6 0h12m1.5 0h16.5m127.5 0h7.5m33 0h3M758 758.25h9m118.5 0h9m15 0h24m96 0h12m7.5 0h13.5m129 0h3m36 0h3M759.5 759.75h7.5m120 0h7.5m15 0h24m100.5 0h6m10.5 0h10.5m169.5 0h3M765.5 761.25h1.5m118.5 0h9m13.5 0h22.5m123 0h4.5m171 0h6M764 762.75h3m120 0h7.5m13.5 0h21m126 0h1.5m172.5 0h6M888.5 764.25h3m15 0h19.5m297 0h1.5m4.5 0h7.5M890 765.75h1.5m15 0h18m306 0h6M902 767.25h16.5m307.5 0h1.5m6 0h3M902 768.75h15m315 0h4.5M897.5 770.25h12m319.5 0h9M894.5 771.75h10.5m324 0h9M890 773.25h9m331.5 0h9M888.5 774.75h10.5m331.5 0h9M882.5 776.25h6m3 0h6m303 0h4.5m25.5 0h9M879.5 777.75h3m1.5 0h6m1.5 0h4.5m301.5 0h9m25.5 0h7.5M879.5 779.25h3m4.5 0h1.5m1.5 0h4.5m300 0h12m28.5 0h6M888.5 780.75h6m300 0h12m30 0h4.5M891.5 782.25h1.5m301.5 0h12m31.5 0h4.5M1194.5 783.75h12m31.5 0h4.5M1194.5 785.25h13.5m30 0h4.5M1194.5 786.75h13.5m30 0h4.5M1196 788.25h12m30 0h6M1196 789.75h10.5m31.5 0h6M1196 791.25h10.5m30 0h9M1196 792.75h10.5m30 0h9M1197.5 794.25h6m30 0h12M881 795.75h1.5m315 0h6m30 0h12M879.5 797.25h3m315 0h7.5m28.5 0h13.5M878 798.75h4.5m315 0h12m21 0h16.5M875 800.25h7.5m315 0h13.5m18 0h19.5M873.5 801.75h9m315 0h15m16.5 0h19.5M872 803.25h9m318 0h13.5m16.5 0h19.5M872 804.75h9m318 0h13.5m16.5 0h19.5M872 806.25h13.5m315 0h13.5m15 0h21M872 807.75h13.5m315 0h13.5m15 0h21M873.5 809.25h12m315 0h13.5m15 0h22.5M879.5 810.75h6m316.5 0h12m13.5 0h3m1.5 0h19.5M879.5 812.25h6m318 0h10.5m9 0h3m7.5 0h1.5m9 0h7.5M879.5 813.75h6m318 0h12m6 0h3M882.5 815.25h3m319.5 0h16.5m18 0h3M881 816.75h4.5m319.5 0h15M881 818.25h6m319.5 0h6M882.5 819.75h4.5m319.5 0h4.5M881 821.25h6m321 0h4.5m40.5 0h1.5M881 822.75h7.5m319.5 0h4.5m39 0h3M879.5 824.25h9m321 0h3m39 0h3M881 825.75h7.5m321 0h3m39 0h3M879.5 827.25h9m321 0h4.5m37.5 0h3M879.5 828.75h9m321 0h4.5m37.5 0h3M876.5 830.25h13.5m321 0h6m34.5 0h1.5M875 831.75h15m321 0h10.5m28.5 0h3M873.5 833.25h18m321 0h12m19.5 0h9M873.5 834.75h18m321 0h13.5m1.5 0h1.5m13.5 0h10.5M869 836.25h22.5m321 0h19.5m12 0h9M867.5 837.75h24m321 0h19.5m13.5 0h7.5M869 839.25h22.5m322.5 0h16.5m4.5 0h1.5m12 0h4.5M872 840.75h19.5m322.5 0h19.5m16.5 0h3M879.5 842.25h9m325.5 0h19.5M884 843.75h1.5m330 0h18M1217 845.25h19.5M1218.5 846.75h18M1221.5 848.25h13.5M1221.5 849.75h12M1223 851.25h3M1223 852.75h3m1.5 0h1.5M1224.5 854.25h7.5m7.5 0h1.5m1.5 0h6M1224.5 855.75h6m9 0h9M1226 857.25h7.5m1.5 0h10.5M1227.5 858.75h18M1227.5 860.25h16.5M1229 861.75h13.5M1230.5 863.25h12M1230.5 864.75h10.5"/>
<path stroke="#4892a0" d="M368 237.75h1.5M368 261.75h1.5M483.5 264.75h1.5M371 266.25h1.5M465.5 273.75h1.5M468.5 281.25h1.5M405.5 284.25h1.5M387.5 288.75h1.5M498.5 312.75h1.5M342.5 329.25h1.5M342.5 330.75h1.5M329 342.75h1.5M425 348.75h1.5M335 351.75h1.5M360.5 354.75h1.5M360.5 359.25h1.5M354.5 365.25h1.5M332 375.75h1.5M317 404.25h1.5M1086.5 411.75h1.5m3 0h1.5M353 416.25h1.5M1082 419.25h1.5M1080.5 420.75h1.5M1092.5 423.75h1.5M1089.5 425.25h1.5M1089.5 426.75h3M1088 428.25h1.5M428 429.75h1.5M459.5 432.75h1.5m618 0h1.5M357.5 434.25h1.5m228 0h1.5M329 435.75h1.5M569 437.25h1.5M1184 440.25h1.5m193.5 0h1.5M429.5 441.75h1.5m45 0h1.5m693 0h1.5m7.5 0h1.5m7.5 0h1.5m181.5 0h1.5M1191.5 443.25h1.5M452 444.75h1.5m94.5 0h1.5m18 0h1.5m619.5 0h3m177 0h1.5M534.5 446.25h1.5m46.5 0h3m591 0h4.5m4.5 0h4.5M1158.5 447.75h1.5m9 0h4.5m6 0h1.5m3 0h1.5M579.5 449.25h1.5m577.5 0h1.5m4.5 0h1.5m202.5 0h1.5M1158.5 450.75h1.5M543.5 452.25h1.5m817.5 0h1.5M540.5 453.75h1.5m616.5 0h1.5m6 0h1.5m76.5 0h1.5m1.5 0h1.5m112.5 0h1.5m3 0h1.5M1166 455.25h1.5m192 0h3M1166 456.75h1.5m193.5 0h1.5M647 458.25h1.5m513 0h1.5m90 0h1.5m58.5 0h3M1248.5 459.75h3m72 0h1.5m9 0h1.5M1161.5 461.25h3m135 0h3m30 0h1.5M539 462.75h1.5m622.5 0h1.5m135 0h1.5m6 0h1.5m25.5 0h1.5M579.5 464.25h1.5m547.5 0h1.5m1.5 0h1.5m124.5 0h1.5m36 0h1.5m15 0h1.5m15 0h3m3 0h1.5m6 0h1.5m34.5 0h1.5M338 465.75h1.5m205.5 0h1.5m586.5 0h1.5m7.5 0h1.5m6 0h1.5m96 0h1.5m85.5 0h1.5m7.5 0h3M1125.5 467.25h1.5m3 0h1.5m201 0h3m25.5 0h1.5M551 468.75h1.5m573 0h3m112.5 0h1.5m4.5 0h1.5m9 0h1.5m102 0h1.5m1.5 0h1.5M453.5 470.25h1.5m93 0h1.5m9 0h1.5m589.5 0h1.5m28.5 0h1.5m4.5 0h3m52.5 0h1.5m15 0h1.5m105 0h1.5M548 471.75h3m12 0h1.5m594 0h1.5m189 0h1.5M363.5 473.25h3m204 0h1.5m598.5 0h3m19.5 0h4.5m40.5 0h1.5m9 0h1.5m69 0h3m33 0h1.5m6 0h1.5M363.5 474.75h1.5m193.5 0h3m7.5 0h1.5m1.5 0h1.5m595.5 0h1.5m66 0h1.5m6 0h1.5m4.5 0h1.5m6 0h1.5m58.5 0h1.5m3 0h1.5m30 0h1.5M572 476.25h1.5m540 0h1.5m9 0h1.5m42 0h1.5m58.5 0h3m64.5 0h1.5m7.5 0h1.5m10.5 0h1.5m22.5 0h1.5m19.5 0h1.5M1200.5 477.75h1.5m21 0h1.5m27 0h1.5m51 0h1.5m3 0h1.5m4.5 0h3m15 0h3m1.5 0h1.5m1.5 0h1.5M362 479.25h1.5m274.5 0h1.5m570 0h1.5m91.5 0h3m1.5 0h3m45 0h1.5M375.5 480.75h3m733.5 0h1.5m69 0h1.5m24 0h1.5m9 0h1.5m82.5 0h3m1.5 0h3m3 0h1.5m39 0h1.5M372.5 482.25h1.5m1.5 0h1.5M369.5 483.75h3m781.5 0h1.5M366.5 485.25h3m169.5 0h1.5m604.5 0h1.5m13.5 0h1.5M368 486.75h1.5m790.5 0h1.5m31.5 0h1.5m93 0h1.5m64.5 0h1.5M1160 488.25h1.5m18 0h1.5m10.5 0h1.5m12 0h1.5M1154 489.75h1.5m24 0h1.5m97.5 0h1.5M1149.5 491.25h1.5m6 0h1.5m4.5 0h1.5m7.5 0h3m97.5 0h1.5m6 0h6M377 492.75h1.5m4.5 0h1.5m649.5 0h1.5m126 0h1.5m6 0h1.5m108 0h1.5m76.5 0h1.5M1155.5 494.25h1.5M624.5 495.75h1.5m526.5 0h1.5m112.5 0h1.5m1.5 0h1.5m4.5 0h3m85.5 0h1.5M378.5 497.25h1.5M380 498.75h1.5m249 0h1.5m397.5 0h1.5m1.5 0h1.5M428 500.25h1.5M383 501.75h1.5M383 503.25h1.5M1281.5 504.75h1.5M381.5 506.25h1.5m1.5 0h1.5m645 0h1.5m246 0h3m6 0h1.5M384.5 507.75h1.5m645 0h1.5m247.5 0h1.5M381.5 509.25h3M381.5 510.75h1.5m643.5 0h1.5M440 512.25h1.5m543 0h1.5m51 0h1.5m234 0h1.5M1272.5 513.75h3m7.5 0h1.5M1034 515.25h1.5M1038.5 516.75h1.5m7.5 0h1.5M987.5 518.25h1.5M1043 519.75h1.5m4.5 0h1.5m222 0h3M989 521.25h1.5m58.5 0h1.5m222 0h1.5M378.5 522.75h1.5m606 0h1.5m60 0h1.5m223.5 0h1.5M1259 524.25h4.5M383 525.75h3m873 0h3M384.5 527.25h3m199.5 0h1.5m292.5 0h1.5M866 528.75h1.5m393 0h1.5M1299.5 530.25h1.5M882.5 531.75h1.5m49.5 0h1.5m381 0h1.5M425 533.25h1.5m454.5 0h1.5m180 0h1.5m205.5 0h1.5M470 534.75h1.5m409.5 0h1.5m3 0h1.5m19.5 0h1.5m16.5 0h1.5m6 0h3m10.5 0h1.5m322.5 0h1.5M389 536.25h1.5m516 0h4.5m28.5 0h3m25.5 0h1.5m94.5 0h1.5m27 0h1.5m168 0h1.5m1.5 0h1.5M389 537.75h1.5m516 0h1.5m1.5 0h3m18 0h1.5m4.5 0h3m150 0h1.5m172.5 0h1.5M905 539.25h1.5m7.5 0h3m51 0h1.5m115.5 0h1.5m225 0h1.5M858.5 540.75h1.5m22.5 0h1.5m18 0h1.5m9 0h1.5m4.5 0h3m45 0h1.5m88.5 0h1.5m1.5 0h1.5m3 0h1.5m19.5 0h1.5m1.5 0h1.5m6 0h3M840.5 542.25h3m12 0h1.5m219 0h1.5m6 0h1.5m1.5 0h1.5m229.5 0h1.5M836 543.75h1.5m36 0h1.5m79.5 0h1.5m13.5 0h1.5m58.5 0h6m39 0h1.5m10.5 0h1.5M600.5 545.25h1.5m34.5 0h1.5m220.5 0h1.5m13.5 0h3m3 0h1.5m75 0h1.5m10.5 0h3m63 0h1.5M831.5 546.75h1.5m9 0h1.5m22.5 0h1.5m13.5 0h1.5m87 0h1.5m96 0h3m204 0h3M833 548.25h1.5m28.5 0h3m13.5 0h1.5m85.5 0h1.5m46.5 0h1.5m1.5 0h1.5m16.5 0h1.5m30 0h1.5m3 0h1.5m33 0h1.5m1.5 0h1.5m102 0h3m72 0h1.5M858.5 549.75h1.5m25.5 0h3m3 0h1.5m10.5 0h3m51 0h1.5m27 0h4.5m25.5 0h3m19.5 0h3m45 0h1.5m240 0h1.5M860 551.25h1.5m52.5 0h1.5m12 0h1.5m67.5 0h1.5m43.5 0h1.5m249 0h1.5M918.5 552.75h1.5m40.5 0h1.5m10.5 0h1.5m123 0h1.5m3 0h1.5M863 554.25h1.5m75 0h3m156 0h3m10.5 0h1.5m4.5 0h1.5m84 0h3m3 0h1.5M860 555.75h1.5m339 0h1.5m16.5 0h3m1.5 0h1.5m55.5 0h1.5M939.5 557.25h3m87 0h3m6 0h1.5m81 0h1.5m1.5 0h1.5m60 0h1.5m28.5 0h1.5m70.5 0h1.5m34.5 0h4.5M828.5 558.75h1.5m33 0h1.5m78 0h1.5m118.5 0h1.5m10.5 0h3m45 0h1.5m61.5 0h1.5m100.5 0h3m30 0h3m4.5 0h1.5m6 0h1.5M584 560.25h1.5m468 0h1.5m4.5 0h1.5m6 0h1.5m15 0h3m4.5 0h1.5m45 0h3m51 0h1.5m36 0h1.5m48 0h3m13.5 0h1.5m4.5 0h1.5M863 561.75h1.5m160.5 0h1.5m30 0h1.5m37.5 0h3m103.5 0h1.5m1.5 0h1.5m75 0h1.5m33 0h1.5m1.5 0h1.5M825.5 563.25h1.5m171 0h1.5m18 0h3m256.5 0h1.5m16.5 0h1.5m21 0h1.5m16.5 0h3M864.5 564.75h1.5m81 0h1.5m48 0h3m3 0h3m6 0h1.5m1.5 0h1.5m78 0h1.5m4.5 0h1.5m30 0h3m148.5 0h1.5m6 0h4.5M480.5 566.25h1.5m496.5 0h3m13.5 0h1.5m138 0h4.5m45 0h3m31.5 0h3m96 0h1.5M944 567.75h1.5m3 0h1.5m43.5 0h1.5m10.5 0h1.5m70.5 0h1.5m46.5 0h1.5m13.5 0h1.5m48 0h1.5m85.5 0h1.5m39 0h1.5M950 569.25h1.5m46.5 0h1.5m78 0h1.5m15 0h1.5m21 0h1.5m3 0h1.5m85.5 0h1.5m12 0h1.5m37.5 0h1.5m12 0h1.5m42 0h1.5m1.5 0h1.5M935 570.75h1.5m12 0h1.5m129 0h1.5m33 0h3m91.5 0h1.5m51 0h1.5m60 0h1.5M654.5 572.25h1.5m151.5 0h3m124.5 0h1.5m273 0h1.5M564.5 573.75h1.5m249 0h1.5m118.5 0h1.5m258 0h3m3 0h3m3 0h1.5m55.5 0h3M828.5 575.25h1.5m117 0h1.5m67.5 0h1.5m121.5 0h1.5m33 0h1.5M933.5 576.75h1.5m10.5 0h3m133.5 0h1.5m57 0h1.5m30 0h1.5m28.5 0h1.5m45 0h1.5m39 0h1.5m27 0h1.5M722 578.25h1.5m210 0h1.5m22.5 0h1.5m123 0h1.5m202.5 0h1.5m4.5 0h1.5m1.5 0h1.5m13.5 0h1.5M582.5 579.75h1.5m261 0h1.5m111 0h3m280.5 0h4.5m40.5 0h1.5M755 581.25h1.5m262.5 0h1.5m205.5 0h4.5M389 582.75h1.5m396 0h1.5m7.5 0h1.5m6 0h1.5m21 0h1.5m190.5 0h1.5m135 0h1.5m96 0h1.5M782 584.25h1.5m153 0h1.5m7.5 0h3m190.5 0h1.5m43.5 0h1.5m12 0h1.5m10.5 0h1.5m10.5 0h1.5m34.5 0h3M570.5 585.75h1.5m229.5 0h1.5m135 0h1.5m6 0h1.5m72 0h1.5m64.5 0h1.5m99 0h3M776 587.25h1.5m25.5 0h1.5m7.5 0h1.5m369 0h1.5m66 0h1.5m31.5 0h1.5M555.5 588.75h1.5m232.5 0h1.5m9 0h1.5m12 0h1.5m123 0h3m241.5 0h4.5m3 0h1.5m4.5 0h1.5m49.5 0h1.5m1.5 0h3M780.5 590.25h1.5m18 0h1.5m15 0h1.5m190.5 0h1.5m127.5 0h1.5m1.5 0h1.5m99 0h1.5m10.5 0h1.5m1.5 0h1.5m21 0h1.5M593 591.75h3m196.5 0h1.5m1.5 0h1.5m15 0h3m321 0h1.5M789.5 593.25h1.5m21 0h1.5m139.5 0h1.5m306 0h6m9 0h1.5M470 594.75h1.5m318 0h1.5m163.5 0h1.5m307.5 0h3M791 596.25h1.5m184.5 0h1.5m190.5 0h1.5m4.5 0h1.5M789.5 597.75h1.5m15 0h1.5m7.5 0h1.5m319.5 0h1.5m28.5 0h1.5M563 599.25h1.5m225 0h1.5m22.5 0h1.5m342 0h1.5m12 0h1.5m28.5 0h1.5m34.5 0h1.5M545 600.75h1.5m243 0h1.5m357 0h1.5m4.5 0h1.5m37.5 0h1.5M792.5 602.25h3m6 0h3m337.5 0h1.5m18 0h3m31.5 0h1.5m1.5 0h1.5m18 0h1.5m6 0h1.5M618.5 603.75h1.5m172.5 0h1.5m7.5 0h3m334.5 0h1.5m15 0h1.5m1.5 0h1.5m39 0h1.5m15 0h3M599 605.25h1.5m190.5 0h1.5m6 0h3m3 0h1.5m298.5 0h1.5m81 0h3m18 0h1.5m12 0h3m7.5 0h1.5M1107.5 606.75h1.5m82.5 0h3m3 0h1.5m9 0h4.5m18 0h1.5M809 608.25h1.5m399 0h1.5M1142 609.75h1.5M789.5 611.25h3M1200.5 614.25h3m1.5 0h1.5M725 615.75h1.5M446 617.25h1.5m211.5 0h1.5m61.5 0h1.5m477 0h1.5m1.5 0h1.5M797 618.75h1.5m6 0h1.5m394.5 0h1.5M723.5 621.75h1.5m48 0h1.5m28.5 0h1.5m211.5 0h1.5M728 623.25h1.5m30 0h1.5m270 0h1.5M728 624.75h1.5m70.5 0h1.5m214.5 0h1.5m13.5 0h1.5M728 626.25h1.5m265.5 0h1.5m19.5 0h1.5m13.5 0h1.5m43.5 0h1.5M993.5 627.75h1.5m78 0h1.5M476 629.25h1.5m292.5 0h1.5m7.5 0h1.5m1.5 0h1.5m234 0h1.5M722 630.75h1.5m13.5 0h1.5m31.5 0h1.5m7.5 0h1.5m117 0h1.5m168 0h1.5m1.5 0h1.5m16.5 0h1.5M636.5 633.75h1.5m85.5 0h1.5m147 0h3M723.5 635.25h1.5m15 0h1.5m145.5 0h1.5m7.5 0h1.5m111 0h1.5m4.5 0h1.5m75 0h1.5M894.5 636.75h3m12 0h1.5m96 0h3m1.5 0h1.5m238.5 0h3M726.5 638.25h1.5m36 0h1.5m100.5 0h1.5m18 0h1.5m42 0h3m73.5 0h1.5m27 0h1.5m57 0h1.5M482 639.75h1.5m400.5 0h6m40.5 0h1.5m12 0h1.5m9 0h1.5m34.5 0h1.5m13.5 0h3m9 0h1.5m75 0h4.5M777.5 641.25h1.5m141 0h1.5m66 0h1.5m106.5 0h3M918.5 642.75h1.5m24 0h1.5m7.5 0h1.5m12 0h1.5m18 0h1.5m31.5 0h1.5m75 0h1.5m1.5 0h1.5m133.5 0h4.5m7.5 0h1.5m15 0h1.5M660.5 644.25h1.5m112.5 0h1.5m136.5 0h1.5m39 0h1.5m13.5 0h1.5m135 0h3m4.5 0h1.5m97.5 0h1.5m3 0h1.5m45 0h1.5M914 645.75h1.5m37.5 0h1.5m144 0h1.5m9 0h1.5M761 647.25h3m7.5 0h1.5m178.5 0h1.5m16.5 0h1.5m144 0h3M465.5 648.75h1.5m513 0h1.5m40.5 0h1.5m25.5 0h1.5m63 0h1.5m99 0h1.5M755 650.25h3m138 0h1.5m108 0h3m102 0h6M660.5 651.75h1.5m72 0h1.5m271.5 0h1.5m54 0h1.5m46.5 0h4.5M650 653.25h1.5m85.5 0h1.5m267 0h1.5m12 0h1.5m99 0h1.5M965 654.75h1.5m1.5 0h1.5m34.5 0h3m12 0h1.5m85.5 0h1.5m1.5 0h4.5M654.5 656.25h1.5m249 0h1.5m93 0h4.5m10.5 0h1.5m1.5 0h1.5m91.5 0h3m7.5 0h1.5M905 657.75h1.5m87 0h3m7.5 0h1.5m3 0h1.5m19.5 0h1.5m79.5 0h1.5m1.5 0h1.5m57 0h1.5M860 659.25h1.5m28.5 0h1.5m13.5 0h1.5m49.5 0h1.5m27 0h1.5m7.5 0h3m1.5 0h7.5m106.5 0h1.5m1.5 0h1.5m7.5 0h1.5m42 0h3m3 0h1.5m64.5 0h1.5m1.5 0h1.5M890 660.75h1.5m15 0h1.5m4.5 0h1.5m84 0h1.5m115.5 0h1.5m15 0h1.5m25.5 0h1.5m3 0h1.5m18 0h1.5m55.5 0h1.5M663.5 662.25h1.5m225 0h1.5m21 0h4.5m28.5 0h3m85.5 0h1.5m90 0h1.5m13.5 0h1.5m43.5 0h3M864.5 663.75h1.5m46.5 0h4.5m28.5 0h1.5m288 0h1.5m12 0h1.5M881 665.25h3m37.5 0h3m34.5 0h1.5m274.5 0h1.5M921.5 666.75h1.5m21 0h1.5M930.5 668.25h1.5m9 0h1.5m6 0h1.5M849.5 669.75h3m6 0h3m61.5 0h1.5m12 0h1.5m1.5 0h1.5m292.5 0h1.5M864.5 671.25h1.5m64.5 0h1.5m4.5 0h3m3 0h3M1230.5 672.75h1.5M849.5 674.25h1.5m1.5 0h3m78 0h1.5m102 0h1.5M930.5 675.75h1.5m1.5 0h3m100.5 0h1.5M846.5 677.25h1.5m1.5 0h1.5m79.5 0h6m286.5 0h1.5M755 678.75h1.5m84 0h1.5m382.5 0h1.5M1049 680.25h1.5M852.5 681.75h1.5M855.5 683.25h1.5m351 0h1.5M855.5 684.75h1.5m3 0h1.5m199.5 0h1.5M614 686.25h1.5m241.5 0h1.5m346.5 0h1.5M863 687.75h1.5M860 689.25h1.5m337.5 0h1.5M834.5 690.75h1.5m3 0h1.5m4.5 0h1.5m15 0h1.5m229.5 0h3m102 0h1.5M1097 692.25h3m96 0h1.5M1109 693.75h1.5M1083.5 695.25h1.5m4.5 0h1.5m3 0h1.5m1.5 0h1.5m16.5 0h1.5m4.5 0h1.5m22.5 0h6M1086.5 696.75h1.5m30 0h1.5m21 0h3M1094 698.25h1.5M825.5 710.25h3m3 0h1.5M822.5 713.25h1.5M827 714.75h1.5M726.5 717.75h1.5M833 719.25h3M1220 720.75h1.5M1019 725.25h1.5m19.5 0h1.5M1013 726.75h1.5M1011.5 728.25h1.5m18 0h1.5M1220 729.75h1.5M974 731.25h1.5m36 0h1.5m207 0h1.5M974 732.75h3m16.5 0h1.5M938 734.25h1.5m34.5 0h1.5m3 0h3m13.5 0h1.5M750.5 735.75h1.5m186 0h1.5m21 0h1.5m18 0h1.5m22.5 0h1.5m42 0h3M981.5 737.25h1.5M1016 738.75h1.5M1215.5 740.25h1.5M1227.5 743.25h1.5M1227.5 744.75h1.5M1020.5 746.25h1.5M1025 752.25h1.5m175.5 0h1.5M1022 755.25h1.5m1.5 0h1.5m6 0h1.5m4.5 0h1.5m1.5 0h3m13.5 0h1.5m136.5 0h1.5M1031 756.75h1.5M1224.5 764.25h1.5M1226 765.75h1.5m1.5 0h1.5M1227.5 767.25h1.5M1227.5 768.75h1.5M1209.5 771.75h1.5m1.5 0h1.5M1209.5 773.25h3M1209.5 774.75h1.5M1196 776.25h1.5M1235 812.25h1.5m1.5 0h3m1.5 0h1.5M1232 813.75h1.5m6 0h1.5m3 0h3m1.5 0h1.5M1235 818.25h1.5M1235 819.75h1.5M1251.5 821.25h1.5M1250 827.25h1.5M1238 828.75h1.5M1238 830.25h1.5M1236.5 831.75h1.5m7.5 0h4.5M1238 833.25h1.5M1241 834.75h1.5M1232 837.75h3M1230.5 839.25h4.5M1233.5 840.75h4.5m1.5 0h9M1233.5 842.25h1.5m10.5 0h1.5m1.5 0h3M1245.5 843.75h1.5m1.5 0h3M1236.5 845.25h1.5m9 0h1.5M1236.5 846.75h1.5m9 0h1.5M1235 848.25h1.5m10.5 0h1.5m1.5 0h1.5M1233.5 849.75h1.5m12 0h1.5M1226 851.25h7.5m1.5 0h4.5m1.5 0h1.5m3 0h4.5M1226 852.75h1.5m1.5 0h7.5m1.5 0h1.5m1.5 0h1.5m1.5 0h4.5M1232 854.25h7.5m1.5 0h1.5M1230.5 855.75h4.5m1.5 0h3M1233.5 857.25h1.5"/>
<path stroke="#7db177" d="M390.5 236.25h1.5M399.5 242.25h1.5M471.5 263.25h1.5M479 264.75h1.5M381.5 266.25h1.5M377 267.75h1.5M464 285.75h1.5M396.5 287.25h1.5M440 296.25h1.5M347 318.75h1.5M356 326.25h1.5M360.5 330.75h1.5M330.5 344.25h1.5M473 345.75h1.5M360.5 378.75h1.5M339.5 404.25h1.5M1088 410.25h3M339.5 411.75h1.5m748.5 0h1.5M411.5 413.25h1.5M387.5 414.75h1.5m694.5 0h3M1083.5 416.25h1.5M1085 417.75h1.5M1085 420.75h1.5M392 422.25h1.5m687 0h1.5m1.5 0h1.5M1091 423.75h1.5M1088 426.75h1.5M1088 429.75h1.5M1079 431.25h1.5m6 0h1.5M1085 432.75h1.5M585.5 434.25h1.5M431 435.75h1.5m154.5 0h1.5M410 437.25h1.5M549.5 438.75h1.5M576.5 440.25h1.5m796.5 0h1.5M345.5 441.75h1.5m228 0h1.5m600 0h3m4.5 0h1.5m187.5 0h3M363.5 443.25h1.5m801 0h1.5m13.5 0h3m186 0h1.5M414.5 444.75h1.5M557 446.25h1.5m601.5 0h3m9 0h1.5m7.5 0h3M1167.5 447.75h1.5M1163 449.25h1.5M1160 450.75h1.5m1.5 0h1.5M563 452.25h1.5m595.5 0h1.5m199.5 0h1.5M1160 453.75h1.5m1.5 0h1.5m84 0h1.5m114 0h1.5m1.5 0h1.5M551 455.25h1.5m606 0h1.5M1164.5 456.75h1.5M359 458.25h1.5m211.5 0h1.5m676.5 0h1.5m60 0h1.5m7.5 0h1.5m33 0h1.5M575 459.75h1.5m738 0h1.5M339.5 461.25h1.5m205.5 0h1.5m27 0h1.5m663 0h3m84 0h1.5m6 0h1.5M1244 462.75h1.5m82.5 0h1.5m6 0h1.5M572 464.25h1.5m573 0h1.5m213 0h3m10.5 0h1.5M579.5 465.75h1.5m555 0h1.5m6 0h3m111 0h1.5m51 0h1.5m18 0h1.5m9 0h3m18 0h1.5m1.5 0h1.5M323 467.25h1.5m226.5 0h3m574.5 0h1.5m117 0h1.5m82.5 0h1.5M548 468.75h1.5m10.5 0h1.5m3 0h1.5m1.5 0h1.5m580.5 0h1.5m3 0h1.5m177 0h1.5m45 0h1.5M341 470.25h1.5m204 0h1.5m3 0h1.5m621 0h1.5m81 0h1.5m40.5 0h1.5M546.5 471.75h1.5m634.5 0h1.5m64.5 0h1.5m114 0h1.5m12 0h1.5M1256 473.25h3m43.5 0h1.5m73.5 0h3M365 474.75h1.5m6 0h3m795 0h1.5M360.5 476.25h1.5m193.5 0h1.5m607.5 0h1.5m64.5 0h3m105 0h1.5M1113.5 477.75h3m34.5 0h3m172.5 0h1.5m3 0h1.5m3 0h1.5M375.5 479.25h1.5m733.5 0h1.5m129 0h1.5m21 0h1.5m49.5 0h1.5M387.5 480.75h1.5m760.5 0h1.5m55.5 0h1.5m97.5 0h1.5m4.5 0h1.5M1113.5 482.25h1.5m12 0h1.5m1.5 0h1.5m31.5 0h3m15 0h1.5m3 0h1.5m9 0h1.5m34.5 0h3m24 0h1.5m27 0h1.5M374 483.75h1.5m745.5 0h1.5m22.5 0h3m10.5 0h3m24 0h1.5m10.5 0h1.5m90 0h1.5M375.5 485.25h1.5m69 0h1.5m738 0h1.5m6 0h1.5m87 0h3m69 0h1.5M366.5 486.75h1.5m765 0h1.5m46.5 0h1.5m33 0h1.5M1136 488.25h1.5m18 0h1.5m7.5 0h1.5m15 0h1.5m27 0h1.5m9 0h1.5M1157 489.75h3m18 0h1.5m100.5 0h1.5M414.5 491.25h1.5m745.5 0h1.5m123 0h1.5M1035.5 492.75h1.5m112.5 0h1.5m7.5 0h3m6 0h1.5m198 0h1.5M375.5 494.25h1.5m657 0h1.5m231 0h1.5m93 0h1.5m3 0h1.5M378.5 495.75h1.5M1286 497.25h1.5M381.5 500.25h3M381.5 501.75h1.5M380 503.25h1.5M1289 504.75h1.5M1283 506.25h1.5M1278.5 507.75h1.5M380 509.25h1.5m3 0h1.5m885 0h3m7.5 0h1.5M978.5 510.75h3m295.5 0h6m4.5 0h1.5M1028 512.25h1.5m6 0h1.5m1.5 0h1.5M365 515.25h1.5m180 0h1.5m733.5 0h1.5M596 516.75h1.5m681 0h1.5M1272.5 518.25h6M987.5 519.75h1.5m279 0h1.5M1044.5 521.25h1.5M609.5 522.75h1.5m378 0h1.5M1271 524.25h1.5M1262 525.75h1.5M879.5 527.25h1.5m390 0h1.5M386 528.75h1.5m874.5 0h1.5m7.5 0h1.5M600.5 530.25h1.5m714 0h1.5M369.5 531.75h1.5m561 0h1.5m366 0h1.5m6 0h1.5M879.5 533.25h1.5m52.5 0h1.5m327 0h1.5m43.5 0h1.5M861.5 534.75h3m66 0h1.5m12 0h1.5m352.5 0h1.5m16.5 0h1.5M858.5 536.25h1.5m73.5 0h1.5m36 0h1.5m291 0h1.5m46.5 0h1.5M858.5 537.75h1.5m75 0h1.5m31.5 0h1.5m94.5 0h1.5m22.5 0h1.5M858.5 539.25h1.5m39 0h1.5m12 0h1.5m57 0h1.5m115.5 0h1.5m4.5 0h1.5m217.5 0h1.5M900.5 540.75h1.5m3 0h1.5m15 0h1.5m48 0h1.5m90 0h1.5m22.5 0h1.5m226.5 0h1.5M954.5 542.25h1.5m105 0h3M849.5 543.75h1.5m15 0h1.5m7.5 0h1.5m48 0h1.5M834.5 545.25h1.5m28.5 0h1.5m10.5 0h3m208.5 0h1.5m232.5 0h1.5M840.5 546.75h1.5m22.5 0h1.5m12 0h1.5m76.5 0h1.5m10.5 0h1.5m64.5 0h1.5M885.5 548.25h1.5m73.5 0h6m84 0h1.5m16.5 0h1.5m19.5 0h1.5m124.5 0h1.5M831.5 549.75h1.5m27 0h1.5m27 0h3m1.5 0h1.5m66 0h3m45 0h1.5m1.5 0h3m4.5 0h1.5m16.5 0h1.5m51 0h1.5m15 0h1.5m163.5 0h1.5M831.5 551.25h1.5m100.5 0h1.5m33 0h1.5m30 0h1.5m42 0h1.5M936.5 552.75h3m277.5 0h1.5m75 0h1.5m10.5 0h1.5M837.5 554.25h1.5m21 0h3m132 0h1.5m280.5 0h1.5M939.5 555.75h3m52.5 0h1.5m118.5 0h1.5m82.5 0h1.5m15 0h1.5M942.5 557.25h1.5m93 0h1.5m1.5 0h1.5m3 0h1.5m79.5 0h1.5m12 0h1.5m76.5 0h1.5m115.5 0h1.5M1071.5 558.75h3m64.5 0h1.5m84 0h1.5m52.5 0h1.5m49.5 0h1.5m3 0h1.5M444.5 560.25h1.5m415.5 0h1.5m219 0h1.5m214.5 0h1.5m4.5 0h1.5m1.5 0h1.5m7.5 0h1.5M1022 561.75h1.5m70.5 0h1.5m40.5 0h1.5m66 0h1.5m1.5 0h1.5m6 0h1.5m9 0h1.5m79.5 0h3M828.5 563.25h1.5m117 0h1.5m73.5 0h1.5m55.5 0h1.5m12 0h1.5m187.5 0h1.5M1077.5 564.75h1.5m202.5 0h1.5m51 0h1.5M939.5 566.25h1.5m52.5 0h1.5m84 0h1.5m12 0h1.5m7.5 0h1.5m36 0h1.5M942.5 567.75h1.5m64.5 0h1.5m82.5 0h1.5m43.5 0h1.5m48 0h3m67.5 0h3m18 0h3M590 569.25h1.5m390 0h1.5m112.5 0h1.5m82.5 0h1.5m10.5 0h1.5m13.5 0h1.5m67.5 0h1.5m42 0h1.5M1179.5 570.75h1.5m10.5 0h1.5m9 0h1.5m9 0h1.5m1.5 0h1.5M804.5 572.25h1.5m141 0h1.5m31.5 0h1.5m135 0h1.5m88.5 0h1.5m40.5 0h3m15 0h1.5M801.5 573.75h3m51 0h3m87 0h1.5M1172 575.25h1.5m21 0h1.5m85.5 0h1.5m4.5 0h1.5M828.5 576.75h1.5m124.5 0h1.5m60 0h1.5m121.5 0h1.5m54 0h1.5m4.5 0h1.5m79.5 0h1.5M845 578.25h1.5m88.5 0h1.5m31.5 0h1.5m327 0h3m13.5 0h1.5M752 579.75h1.5m39 0h1.5m34.5 0h1.5m105 0h1.5m348 0h1.5M794 581.25h1.5m37.5 0h1.5m102 0h1.5m21 0h1.5m57 0h1.5m211.5 0h3M788 582.75h1.5m9 0h3m25.5 0h1.5m13.5 0h1.5m159 0h1.5m222 0h1.5M570.5 584.25h1.5m1.5 0h1.5m444 0h1.5m117 0h1.5m7.5 0h1.5m6 0h1.5m39 0h3m57 0h3m4.5 0h1.5M755 585.75h1.5m46.5 0h1.5m16.5 0h1.5m120 0h1.5m3 0h1.5m235.5 0h1.5m3 0h3m21 0h3m3 0h1.5m1.5 0h1.5m31.5 0h1.5m1.5 0h3M588.5 587.25h1.5m216 0h1.5m7.5 0h1.5m123 0h3m226.5 0h1.5m18 0h1.5m1.5 0h1.5m55.5 0h1.5m31.5 0h1.5M776 588.75h1.5m25.5 0h1.5m333 0h1.5m6 0h1.5m24 0h1.5m7.5 0h1.5m13.5 0h1.5m49.5 0h1.5m1.5 0h1.5m28.5 0h1.5M779 590.25h1.5m18 0h1.5m336 0h1.5m42 0h1.5m7.5 0h1.5m19.5 0h1.5m40.5 0h1.5m1.5 0h1.5m3 0h1.5M620 591.75h1.5m177 0h3m148.5 0h1.5m58.5 0h1.5m4.5 0h1.5m117 0h1.5m33 0h3m7.5 0h1.5m6 0h1.5m72 0h1.5M1170.5 594.75h1.5m58.5 0h4.5m3 0h1.5m21 0h3M975.5 596.25h1.5M542 597.75h1.5m247.5 0h1.5m411 0h1.5m22.5 0h1.5M992 599.25h1.5m103.5 0h1.5m51 0h3m3 0h1.5m48 0h1.5m13.5 0h1.5m3 0h3M812 600.75h1.5m148.5 0h1.5m135 0h1.5m51 0h3m12 0h1.5m22.5 0h1.5m15 0h1.5m1.5 0h1.5m27 0h1.5M789.5 602.25h3m201 0h3m141 0h4.5m22.5 0h1.5m28.5 0h1.5m24 0h1.5m18 0h1.5M789.5 603.75h1.5m351 0h1.5m40.5 0h1.5m12 0h1.5m15 0h1.5m18 0h1.5m4.5 0h1.5M1131.5 605.25h1.5m7.5 0h1.5m48 0h1.5m1.5 0h1.5m6 0h1.5m22.5 0h1.5m10.5 0h1.5M636.5 606.75h1.5m162 0h1.5m427.5 0h1.5M723.5 608.25h1.5m12 0h1.5m69 0h1.5m313.5 0h1.5m16.5 0h1.5m1.5 0h1.5m66 0h1.5M791 609.75h1.5m16.5 0h1.5m313.5 0h1.5M570.5 611.25h1.5m639 0h1.5M657.5 612.75h1.5m352.5 0h1.5M1008.5 614.25h1.5m193.5 0h1.5m3 0h1.5M629 615.75h1.5m13.5 0h1.5m76.5 0h1.5m69 0h1.5m214.5 0h1.5m192 0h1.5m1.5 0h1.5M611 617.25h1.5m153 0h1.5M722 618.75h1.5m48 0h1.5m429 0h1.5M459.5 620.25h1.5m540 0h1.5M791 621.75h1.5m9 0h1.5m196.5 0h1.5M761 623.25h1.5m9 0h1.5M759.5 624.75h3m9 0h1.5m223.5 0h1.5m12 0h3M759.5 626.25h1.5m9 0h1.5M1016 627.75h1.5M768.5 629.25h1.5m223.5 0h1.5m87 0h1.5M741.5 630.75h1.5m3 0h1.5m33 0h1.5m117 0h3m166.5 0h1.5M476 632.25h1.5m228 0h1.5m310.5 0h1.5m51 0h1.5M764 633.75h1.5m10.5 0h1.5m253.5 0h1.5M738.5 635.25h1.5m129 0h1.5m10.5 0h1.5m3 0h1.5m114 0h1.5m7.5 0h1.5m7.5 0h1.5m67.5 0h1.5M477.5 636.75h1.5m261 0h1.5m123 0h3m13.5 0h1.5m3 0h1.5m24 0h1.5m87 0h1.5m90 0h1.5M752 638.25h1.5m27 0h1.5m91.5 0h1.5m4.5 0h1.5m51 0h1.5m85.5 0h1.5M635 639.75h1.5m91.5 0h1.5m184.5 0h1.5m27 0h1.5m148.5 0h1.5m165 0h1.5m1.5 0h1.5M636.5 641.25h1.5m303 0h1.5m282 0h4.5m16.5 0h1.5M662 642.75h1.5m66 0h1.5m21 0h4.5m111 0h1.5m51 0h1.5m84 0h1.5m7.5 0h3m76.5 0h1.5m1.5 0h1.5M867.5 644.25h1.5m151.5 0h1.5m22.5 0h3m45 0h1.5m1.5 0h3m3 0h1.5m7.5 0h1.5m97.5 0h1.5m1.5 0h3M663.5 645.75h1.5m13.5 0h1.5m340.5 0h1.5m42 0h1.5m28.5 0h1.5m115.5 0h1.5M1113.5 647.25h1.5m99 0h1.5M1106 648.75h1.5m10.5 0h1.5m97.5 0h1.5M753.5 650.25h1.5m249 0h1.5m15 0h1.5m1.5 0h1.5m60 0h1.5M1002.5 651.75h3m19.5 0h1.5m27 0h1.5m30 0h1.5m3 0h1.5m12 0h1.5M747.5 653.25h3m177 0h1.5m37.5 0h1.5m34.5 0h1.5m3 0h1.5m40.5 0h1.5m52.5 0h1.5m7.5 0h1.5M749 654.75h1.5m141 0h1.5m46.5 0h1.5m22.5 0h1.5m42 0h1.5m94.5 0h3M933.5 656.25h1.5m19.5 0h1.5m16.5 0h1.5m24 0h1.5m7.5 0h4.5m4.5 0h1.5m102 0h1.5M858.5 657.75h1.5m94.5 0h1.5m40.5 0h1.5m9 0h1.5m22.5 0h1.5m165 0h1.5M986 659.25h1.5m3 0h1.5m4.5 0h1.5m183 0h1.5m58.5 0h1.5M909.5 660.75h3m1.5 0h1.5m39 0h1.5M671 662.25h1.5m190.5 0h1.5m24 0h1.5m27 0h1.5m19.5 0h1.5m58.5 0h1.5m124.5 0h1.5m12 0h3M671 663.75h1.5m193.5 0h1.5m21 0h1.5m28.5 0h1.5m27 0h1.5m9 0h1.5m159 0h1.5m4.5 0h3M873.5 666.75h3m64.5 0h1.5m15 0h1.5m81 0h1.5m192 0h1.5M939.5 668.25h1.5m1.5 0h1.5m289.5 0h1.5M938 669.75h1.5m3 0h3M866 671.25h1.5m64.5 0h1.5M866 672.75h1.5m63 0h1.5m1.5 0h1.5M860 674.25h1.5M852.5 675.75h1.5m373.5 0h1.5M851 677.25h1.5m367.5 0h1.5m3 0h1.5M842 678.75h1.5m4.5 0h1.5m10.5 0h1.5m357 0h3M854 680.25h1.5m186 0h1.5m174 0h1.5M839 681.75h1.5m10.5 0h1.5m7.5 0h1.5M603.5 683.25h1.5m147 0h1.5m82.5 0h1.5m19.5 0h1.5M857 684.75h3m346.5 0h1.5M831.5 686.25h3m258 0h1.5m109.5 0h1.5M831.5 687.75h1.5m28.5 0h1.5m202.5 0h1.5m1.5 0h1.5m21 0h1.5M845 689.25h1.5m235.5 0h1.5M843.5 690.75h1.5m238.5 0h1.5m21 0h1.5M1107.5 692.25h1.5M1178 693.75h1.5M1085 695.25h1.5m1.5 0h1.5m3 0h1.5m24 0h1.5m4.5 0h1.5m16.5 0h3m6 0h1.5m36 0h1.5m1.5 0h1.5M1094 696.75h1.5m27 0h1.5M1136 698.25h1.5M1158.5 699.75h1.5M1155.5 701.25h3M720.5 702.75h1.5m433.5 0h1.5M824 714.75h1.5M831.5 716.25h1.5m1.5 0h1.5M1019 726.75h1.5M1020.5 728.25h1.5m4.5 0h1.5M735.5 729.75h1.5m210 0h1.5m94.5 0h1.5m174 0h1.5M938 732.75h1.5m25.5 0h1.5m45 0h1.5M999.5 734.25h1.5M930.5 735.75h1.5m60 0h1.5m9 0h1.5m1.5 0h3m1.5 0h1.5M932 737.25h1.5m57 0h1.5m19.5 0h1.5M981.5 738.75h1.5m7.5 0h1.5m21 0h3M929 740.25h4.5m30 0h1.5m19.5 0h1.5M941 741.75h1.5m19.5 0h3m250.5 0h1.5M1052 744.75h1.5m160.5 0h1.5M1052 746.25h1.5M1022 747.75h3M1022 752.25h1.5m4.5 0h1.5m174 0h1.5M1023.5 753.75h3m1.5 0h1.5m10.5 0h1.5M1035.5 755.25h1.5m16.5 0h3M1229 758.25h1.5M1191.5 759.75h1.5M1227.5 764.25h1.5M1209.5 767.25h1.5m6 0h1.5m12 0h3M1209.5 768.75h3m16.5 0h1.5M1194.5 776.25h1.5m1.5 0h1.5m9 0h1.5M1232 812.25h1.5m3 0h1.5m3 0h1.5M1236.5 813.75h3m7.5 0h1.5m1.5 0h1.5M1239.5 816.75h3M1236.5 818.25h1.5M1251.5 819.75h1.5M1236.5 821.25h1.5M1236.5 822.75h1.5M1236.5 824.25h1.5m12 0h1.5M1236.5 825.75h1.5m10.5 0h3M1236.5 827.25h3M1238 840.75h1.5M1242.5 842.25h3m1.5 0h1.5M1233.5 843.75h1.5m12 0h1.5M1238 845.25h1.5m9 0h1.5M1238 846.75h1.5m6 0h1.5m1.5 0h1.5M1236.5 848.25h1.5M1235 849.75h4.5m6 0h1.5M1233.5 851.25h1.5m4.5 0h1.5m1.5 0h3M1236.5 852.75h1.5m1.5 0h1.5m1.5 0h1.5M1235 855.75h1.5"/>
<path stroke="#b3d145" d="M387.5 236.25h1.5M390.5 237.75h1.5m10.5 0h1.5m13.5 0h1.5M414.5 239.25h1.5M401 242.25h1.5M368 243.75h1.5m1.5 0h1.5M446 246.75h1.5M360.5 248.25h1.5m112.5 0h3M399.5 249.75h1.5m54 0h1.5M372.5 252.75h1.5M380 254.25h1.5M381.5 255.75h1.5m87 0h1.5m9 0h3M381.5 257.25h1.5m94.5 0h1.5M405.5 258.75h1.5m67.5 0h1.5M318.5 260.25h1.5M347 263.25h1.5m135 0h1.5M336.5 264.75h1.5m123 0h1.5m18 0h1.5M336.5 266.25h1.5m139.5 0h1.5M336.5 267.75h1.5m34.5 0h3m63 0h1.5M369.5 269.25h3m19.5 0h1.5m25.5 0h1.5m57 0h3M356 270.75h1.5M452 273.75h1.5M375.5 276.75h1.5m99 0h1.5m3 0h1.5M479 279.75h1.5M332 281.25h1.5M327.5 282.75h1.5M507.5 284.25h1.5M480.5 285.75h1.5M330.5 288.75h1.5m48 0h1.5m24 0h1.5M330.5 290.25h1.5M440 293.25h3M368 294.75h1.5m19.5 0h1.5m75 0h1.5M467 296.25h1.5M465.5 297.75h1.5M332 303.75h1.5m19.5 0h1.5M495.5 306.75h1.5m3 0h1.5m22.5 0h1.5M420.5 308.25h1.5M380 309.75h1.5m70.5 0h1.5M341 312.75h1.5m154.5 0h1.5M392 314.25h1.5m72 0h1.5M426.5 315.75h1.5M341 320.25h1.5m145.5 0h1.5M341 321.75h1.5m3 0h1.5M416 323.25h1.5m27 0h1.5M348.5 326.25h1.5m16.5 0h1.5m49.5 0h1.5M342.5 327.75h1.5M405.5 329.25h1.5m63 0h1.5M377 330.75h1.5m96 0h1.5M330.5 332.25h1.5m18 0h1.5m42 0h1.5M335 333.75h1.5m37.5 0h1.5m3 0h1.5m36 0h1.5M344 336.75h1.5m42 0h1.5m1.5 0h1.5m72 0h1.5M347 338.25h1.5M345.5 339.75h1.5M348.5 341.25h1.5m4.5 0h1.5m12 0h1.5M341 342.75h1.5m103.5 0h1.5M339.5 344.25h1.5M353 345.75h1.5M423.5 347.25h1.5M357.5 351.75h1.5M362 353.25h1.5M362 354.75h1.5M360.5 356.25h1.5M353 357.75h1.5m6 0h1.5m82.5 0h1.5M369.5 359.25h1.5M362 360.75h1.5M371 363.75h1.5M339.5 366.75h1.5m25.5 0h1.5M345.5 369.75h1.5M344 371.25h1.5M321.5 374.25h1.5m16.5 0h1.5M362 375.75h1.5M323 377.25h1.5M341 378.75h1.5m16.5 0h1.5M330.5 380.25h1.5m30 0h1.5M339.5 384.75h1.5M356 387.75h1.5M332 401.25h1.5m21 0h3M344 404.25h1.5M336.5 405.75h1.5M332 407.25h1.5M407 408.75h1.5m7.5 0h1.5M1088 411.75h1.5M330.5 413.25h1.5m51 0h3m27 0h1.5m672 0h3M323 414.75h1.5m3 0h1.5M354.5 416.25h1.5m33 0h1.5m694.5 0h1.5M345.5 417.75h1.5m1.5 0h1.5m39 0h1.5m30 0h1.5M1083.5 419.25h3M392 420.75h1.5m688.5 0h3m1.5 0h1.5M390.5 422.25h1.5m690 0h1.5m3 0h1.5m3 0h1.5M351.5 423.75h1.5m727.5 0h10.5M1080.5 425.25h3m1.5 0h4.5M435.5 426.75h1.5m642 0h4.5m3 0h1.5M536 428.25h1.5m541.5 0h1.5m6 0h1.5M1079 429.75h1.5m6 0h1.5M372.5 431.25h1.5m75 0h1.5M1080.5 432.75h4.5M378.5 434.25h1.5m33 0h1.5m16.5 0h1.5m108 0h1.5m19.5 0h4.5m18 0h1.5M566 435.75h1.5M452 437.25h1.5m121.5 0h1.5m10.5 0h1.5M330.5 438.75h1.5m28.5 0h3m9 0h1.5m3 0h1.5m172.5 0h1.5m18 0h1.5m15 0h1.5M342.5 440.25h3m103.5 0h1.5m105 0h3m12 0h1.5m3 0h1.5m1.5 0h4.5m793.5 0h3m6 0h1.5M375.5 441.75h1.5m172.5 0h1.5m4.5 0h1.5m12 0h1.5m3 0h1.5m607.5 0h1.5m192 0h4.5M387.5 443.25h1.5m22.5 0h1.5m1.5 0h1.5m159 0h1.5m591 0h13.5m3 0h4.5m183 0h6M332 444.75h1.5m15 0h1.5m34.5 0h1.5m25.5 0h1.5m40.5 0h1.5m18 0h1.5m100.5 0h4.5m3 0h1.5m580.5 0h4.5m3 0h13.5m1.5 0h1.5m181.5 0h7.5M548 446.25h1.5m13.5 0h1.5m16.5 0h1.5m580.5 0h1.5m3 0h4.5m1.5 0h3m7.5 0h1.5m183 0h3M323 447.75h1.5m9 0h1.5m73.5 0h1.5m45 0h1.5m19.5 0h1.5m78 0h1.5m24 0h1.5m1.5 0h1.5m574.5 0h4.5m9 0h3m193.5 0h1.5M473 449.25h1.5m60 0h1.5m12 0h1.5m1.5 0h1.5m31.5 0h1.5m574.5 0h3m207 0h4.5M437 450.75h1.5m112.5 0h1.5m10.5 0h3m595.5 0h1.5m205.5 0h6M347 452.25h1.5m1.5 0h1.5m1.5 0h1.5m3 0h1.5m4.5 0h1.5m186 0h1.5m9 0h1.5m19.5 0h1.5m577.5 0h3m204 0h1.5M359 453.75h1.5m15 0h1.5m63 0h1.5m37.5 0h1.5m61.5 0h1.5m3 0h6m9 0h3m597 0h1.5m199.5 0h1.5M389 455.25h1.5m151.5 0h1.5m6 0h1.5m1.5 0h1.5m91.5 0h1.5m513 0h4.5m78 0h3m3 0h3m111 0h1.5m1.5 0h3M339.5 456.75h1.5m208.5 0h3m4.5 0h1.5m79.5 0h1.5m520.5 0h4.5m85.5 0h1.5m64.5 0h4.5m55.5 0h1.5M347 458.25h1.5m105 0h1.5m94.5 0h1.5m22.5 0h1.5m70.5 0h1.5m516 0h1.5m78 0h1.5m4.5 0h1.5m1.5 0h1.5m69 0h1.5m30 0h1.5m1.5 0h6m10.5 0h1.5M443 459.75h3m99 0h1.5m24 0h1.5m591 0h1.5m88.5 0h3m55.5 0h1.5m7.5 0h3m28.5 0h4.5m9 0h1.5M369.5 461.25h1.5m177 0h1.5m693 0h6m1.5 0h1.5m1.5 0h4.5m54 0h1.5m9 0h4.5m24 0h1.5m12 0h1.5m7.5 0h1.5M362 462.75h1.5m184.5 0h1.5m7.5 0h3m1.5 0h3m10.5 0h1.5m669 0h1.5m3 0h7.5m43.5 0h6m4.5 0h1.5m9 0h4.5m37.5 0h1.5m7.5 0h1.5M434 464.25h1.5m40.5 0h1.5m61.5 0h1.5m12 0h7.5m3 0h1.5m9 0h6m39 0h1.5m510 0h1.5m16.5 0h1.5m102 0h1.5m43.5 0h4.5m22.5 0h3m9 0h3m9 0h3m9 0h1.5m3 0h1.5m10.5 0h1.5M363.5 465.75h1.5m45 0h1.5m138 0h4.5m15 0h1.5m1.5 0h1.5m3 0h3m549 0h1.5m1.5 0h1.5m4.5 0h3m103.5 0h3m48 0h6m7.5 0h1.5m1.5 0h1.5m15 0h1.5m6 0h4.5m6 0h1.5m12 0h1.5M443 467.25h1.5m97.5 0h1.5m4.5 0h1.5m15 0h1.5m3 0h1.5m9 0h1.5m552 0h1.5m6 0h6m3 0h3m90 0h4.5m6 0h1.5m42 0h3m30 0h1.5m4.5 0h6m18 0h1.5m10.5 0h1.5m4.5 0h3M357.5 468.75h1.5m67.5 0h1.5m118.5 0h1.5m4.5 0h1.5m25.5 0h1.5m547.5 0h1.5m12 0h1.5m3 0h3m1.5 0h1.5m90 0h1.5m1.5 0h1.5m4.5 0h6m39 0h3m34.5 0h1.5m24 0h1.5m10.5 0h3m3 0h1.5M359 470.25h1.5m82.5 0h1.5m22.5 0h1.5m112.5 0h1.5m544.5 0h1.5m18 0h3m1.5 0h1.5m4.5 0h1.5m19.5 0h1.5m66 0h1.5m1.5 0h1.5m1.5 0h4.5m64.5 0h4.5m22.5 0h3m4.5 0h1.5m21 0h1.5M392 471.75h1.5m37.5 0h1.5m10.5 0h1.5m106.5 0h1.5m18 0h3m7.5 0h3m543 0h1.5m45 0h1.5m3 0h1.5m4.5 0h4.5m3 0h1.5m48 0h1.5m7.5 0h1.5m3 0h3m42 0h3m18 0h4.5m21 0h1.5m3 0h6m19.5 0h1.5M441.5 473.25h1.5m7.5 0h1.5m94.5 0h1.5m18 0h1.5m4.5 0h1.5m552 0h3m15 0h1.5m15 0h1.5m12 0h1.5m4.5 0h1.5m7.5 0h4.5m46.5 0h1.5m3 0h1.5m4.5 0h1.5m3 0h1.5m48 0h4.5m9 0h1.5m4.5 0h1.5m6 0h1.5m18 0h4.5m19.5 0h3M330.5 474.75h1.5m6 0h1.5m27 0h1.5m42 0h1.5m39 0h1.5m6 0h1.5m87 0h1.5m13.5 0h1.5m4.5 0h1.5m4.5 0h1.5m52.5 0h1.5m496.5 0h1.5m10.5 0h1.5m12 0h3m18 0h4.5m15 0h6m40.5 0h1.5m12 0h1.5m1.5 0h3m46.5 0h3m16.5 0h1.5m16.5 0h3m6 0h1.5m10.5 0h1.5M330.5 476.25h1.5m25.5 0h3m1.5 0h1.5m10.5 0h1.5m60 0h1.5m15 0h1.5m13.5 0h1.5m88.5 0h1.5m10.5 0h1.5m3 0h3m534 0h3m12 0h3m16.5 0h1.5m4.5 0h3m1.5 0h3m4.5 0h1.5m4.5 0h1.5m15 0h3m36 0h3m6 0h3m6 0h1.5m7.5 0h1.5m4.5 0h3m45 0h10.5m9 0h1.5m3 0h3M359 477.75h4.5m10.5 0h3m31.5 0h3m31.5 0h1.5m24 0h1.5m100.5 0h7.5m532.5 0h1.5m4.5 0h3m4.5 0h3m4.5 0h3m10.5 0h3m1.5 0h1.5m3 0h4.5m7.5 0h4.5m15 0h4.5m9 0h1.5m27 0h4.5m1.5 0h3m6 0h1.5m9 0h3m4.5 0h3m42 0h3m1.5 0h4.5m13.5 0h3M347 479.25h1.5m12 0h1.5m39 0h1.5m159 0h1.5m558 0h3m1.5 0h1.5m4.5 0h3m12 0h3m6 0h7.5m18 0h3m18 0h1.5m7.5 0h6m39 0h1.5m48 0h1.5m3 0h4.5m42 0h6m10.5 0h1.5M360.5 480.75h4.5m748.5 0h1.5m16.5 0h3m12 0h3m6 0h9m15 0h1.5m3 0h1.5m16.5 0h4.5m3 0h1.5m9 0h1.5m42 0h1.5m90 0h1.5m1.5 0h4.5M369.5 482.25h3m1.5 0h1.5m36 0h1.5m708 0h1.5m3 0h1.5m4.5 0h3m3 0h1.5m4.5 0h6m6 0h1.5m1.5 0h4.5m3 0h1.5m12 0h1.5m6 0h1.5m6 0h1.5m1.5 0h1.5m1.5 0h1.5m27 0h3m31.5 0h1.5m88.5 0h1.5m21 0h1.5M366.5 483.75h3m745.5 0h1.5m15 0h3m9 0h1.5m16.5 0h4.5m15 0h1.5m4.5 0h1.5m4.5 0h1.5m4.5 0h4.5m19.5 0h1.5m1.5 0h1.5m1.5 0h1.5m33 0h1.5m22.5 0h1.5m64.5 0h1.5m3 0h3m10.5 0h1.5M344 485.25h1.5m16.5 0h4.5m3 0h1.5m772.5 0h1.5m9 0h1.5m3 0h1.5m4.5 0h1.5m13.5 0h3m4.5 0h1.5m1.5 0h3m6 0h4.5m6 0h3m3 0h1.5m46.5 0h1.5m19.5 0h4.5m66 0h1.5m16.5 0h1.5M360.5 486.75h6m9 0h1.5m763.5 0h1.5m1.5 0h1.5m9 0h1.5m3 0h1.5m4.5 0h1.5m12 0h3m6 0h6m7.5 0h3m6 0h1.5m6 0h1.5m6 0h3m54 0h1.5m1.5 0h3m67.5 0h1.5M368 488.25h1.5m783 0h3m1.5 0h3m16.5 0h3m42 0h1.5m57 0h4.5m69 0h1.5M366.5 489.75h4.5m25.5 0h1.5m7.5 0h1.5m745.5 0h1.5m1.5 0h1.5m3 0h1.5m3 0h1.5m4.5 0h1.5m1.5 0h4.5m28.5 0h3m60 0h3m9 0h3m70.5 0h1.5M368 491.25h3m4.5 0h3m1.5 0h1.5m6 0h1.5m762 0h4.5m3 0h3m3 0h7.5m184.5 0h1.5m9 0h4.5M344 492.75h1.5m30 0h1.5m81 0h1.5m693 0h3m15 0h1.5m96 0h1.5m3 0h3m4.5 0h7.5m70.5 0h1.5M330.5 494.25h1.5m13.5 0h1.5m31.5 0h1.5m33 0h1.5m15 0h1.5m186 0h1.5m414 0h1.5m118.5 0h3m112.5 0h3m3 0h1.5m3 0h1.5m3 0h4.5m72 0h1.5m1.5 0h3M344 495.75h1.5m30 0h1.5m3 0h1.5m31.5 0h1.5m220.5 0h1.5m397.5 0h1.5m235.5 0h1.5m6 0h1.5m3 0h4.5m75 0h1.5M333.5 497.25h1.5m40.5 0h3m3 0h1.5m243 0h1.5m7.5 0h1.5m396 0h1.5m240 0h3m7.5 0h1.5M378.5 498.75h1.5m1.5 0h3m156 0h1.5m84 0h1.5m403.5 0h1.5m243 0h6m3 0h3M378.5 500.25h3m3 0h3m642 0h3m252 0h3M378.5 501.75h3m3 0h3m243 0h3M378.5 503.25h1.5m912 0h1.5M369.5 504.75h1.5m9 0h1.5m28.5 0h1.5m25.5 0h1.5m591 0h1.5m259.5 0h1.5M369.5 506.25h1.5m9 0h1.5m4.5 0h1.5m51 0h1.5m144 0h1.5m444 0h1.5m259.5 0h1.5M369.5 507.75h1.5m4.5 0h6m4.5 0h1.5m177 0h1.5m721.5 0h1.5M375.5 509.25h4.5m6 0h1.5m175.5 0h1.5m466.5 0h1.5m243 0h3m4.5 0h1.5M378.5 510.75h3m33 0h1.5m42 0h1.5m10.5 0h1.5m802.5 0h3m6 0h1.5M381.5 512.25h1.5m258 0h1.5m339 0h3m48 0h3m240 0h1.5m1.5 0h6M383 513.75h1.5m162 0h1.5m91.5 0h1.5m343.5 0h3m45 0h3m6 0h3m237 0h1.5M384.5 515.25h1.5m157.5 0h1.5m435 0h7.5m49.5 0h1.5m7.5 0h1.5m222 0h4.5m4.5 0h3M432.5 516.75h1.5m27 0h1.5m84 0h1.5m1.5 0h1.5m52.5 0h1.5m376.5 0h3m55.5 0h1.5m226.5 0h6m6 0h1.5M371 518.25h1.5m127.5 0h1.5m61.5 0h1.5m30 0h1.5m447 0h1.5m3 0h1.5m220.5 0h3M389 519.75h1.5m19.5 0h1.5m7.5 0h1.5m88.5 0h1.5m96 0h1.5m34.5 0h1.5m340.5 0h3M377 521.25h4.5m162 0h1.5m97.5 0h1.5m342 0h1.5m58.5 0h3m217.5 0h1.5M377 522.75h1.5m1.5 0h3m100.5 0h1.5m24 0h1.5m33 0h1.5m442.5 0h1.5m277.5 0h1.5m1.5 0h3M378.5 524.25h9m61.5 0h1.5m813 0h1.5m4.5 0h1.5M360.5 525.75h1.5m19.5 0h1.5m3 0h1.5m21 0h1.5m465 0h1.5m394.5 0h1.5M381.5 527.25h3m3 0h1.5m19.5 0h1.5m136.5 0h1.5m81 0h1.5m237 0h3m1.5 0h1.5m3 0h3m178.5 0h1.5m204 0h1.5m4.5 0h1.5m30 0h1.5m4.5 0h1.5M362 528.75h1.5m21 0h1.5m1.5 0h3m142.5 0h1.5m333 0h6m3 0h6m178.5 0h1.5m201 0h1.5m3 0h3m28.5 0h4.5m4.5 0h3M387.5 530.25h3m475.5 0h4.5m55.5 0h6m328.5 0h3m1.5 0h4.5m1.5 0h1.5m28.5 0h4.5m9 0h1.5M539 531.75h1.5m16.5 0h1.5m306 0h3m57 0h7.5m339 0h1.5m28.5 0h1.5m3 0h1.5m7.5 0h1.5M390.5 533.25h1.5m141 0h1.5m15 0h1.5m73.5 0h1.5m256.5 0h3m40.5 0h1.5m3 0h3m364.5 0h1.5m6 0h1.5m1.5 0h1.5m3 0h4.5M377 534.75h1.5m75 0h1.5m102 0h1.5m76.5 0h1.5m243 0h1.5m1.5 0h3m40.5 0h1.5m132 0h1.5m1.5 0h1.5m202.5 0h3m36 0h3m3 0h4.5M387.5 536.25h1.5m498 0h1.5m36 0h3m1.5 0h1.5m12 0h9m18 0h1.5m91.5 0h1.5m30 0h3m202.5 0h1.5M386 537.75h3m148.5 0h1.5m91.5 0h1.5m246 0h7.5m22.5 0h1.5m15 0h6m1.5 0h3m4.5 0h4.5m7.5 0h1.5m16.5 0h3m87 0h1.5m31.5 0h3m1.5 0h1.5m201 0h1.5m9 0h1.5M384.5 539.25h6m34.5 0h1.5m109.5 0h1.5m322.5 0h1.5m13.5 0h1.5m4.5 0h4.5m3 0h3m15 0h6m9 0h3m12 0h1.5m15 0h1.5m15 0h1.5m88.5 0h1.5m1.5 0h3m21 0h1.5m7.5 0h3m201 0h1.5M386 540.75h7.5m124.5 0h1.5m96 0h1.5m243 0h3m7.5 0h4.5m9 0h1.5m24 0h3m1.5 0h4.5m4.5 0h1.5m13.5 0h3m12 0h1.5m13.5 0h3m90 0h1.5m237 0h1.5m10.5 0h3M392 542.25h1.5m450 0h6m7.5 0h4.5m6 0h3m4.5 0h4.5m21 0h1.5m10.5 0h1.5m10.5 0h1.5m1.5 0h1.5m1.5 0h1.5m30 0h1.5m1.5 0h3m1.5 0h3m85.5 0h3m3 0h4.5m16.5 0h1.5m213 0h4.5M362 543.75h1.5m187.5 0h1.5m285 0h3m15 0h4.5m7.5 0h1.5m7.5 0h3m33 0h1.5m12 0h1.5m1.5 0h3m30 0h1.5m3 0h3m93 0h1.5m1.5 0h3m7.5 0h4.5m3 0h3m214.5 0h1.5m16.5 0h1.5M539 545.25h1.5m67.5 0h1.5m226.5 0h1.5m3 0h3m7.5 0h4.5m4.5 0h1.5m19.5 0h1.5m51 0h3m18 0h1.5m4.5 0h1.5m4.5 0h1.5m64.5 0h1.5m33 0h1.5m6 0h1.5m9 0h3m214.5 0h1.5m16.5 0h1.5M608 546.75h1.5m223.5 0h3m22.5 0h3m1.5 0h1.5m33 0h4.5m52.5 0h1.5m4.5 0h3m3 0h1.5m57 0h1.5m6 0h1.5m19.5 0h1.5m10.5 0h1.5m19.5 0h3m214.5 0h1.5m16.5 0h1.5M368 548.25h1.5m24 0h1.5m48 0h1.5m109.5 0h1.5m285 0h3m15 0h4.5m18 0h1.5m1.5 0h1.5m3 0h1.5m4.5 0h3m3 0h7.5m112.5 0h1.5m12 0h1.5m16.5 0h1.5m12 0h1.5m3 0h1.5m1.5 0h4.5m9 0h3m18 0h1.5m163.5 0h1.5m1.5 0h4.5m1.5 0h3m1.5 0h1.5m34.5 0h1.5m6 0h1.5M378.5 549.75h1.5m12 0h3m37.5 0h1.5m96 0h1.5m52.5 0h1.5m10.5 0h1.5m259.5 0h1.5m22.5 0h4.5m9 0h3m3 0h3m3 0h1.5m73.5 0h4.5m4.5 0h4.5m25.5 0h1.5m12 0h3m10.5 0h6m13.5 0h1.5m3 0h3m13.5 0h1.5m18 0h1.5m103.5 0h4.5m58.5 0h3m9 0h3m15 0h1.5m13.5 0h3m6 0h1.5M446 551.25h1.5m67.5 0h1.5m124.5 0h1.5m190.5 0h3m19.5 0h4.5m55.5 0h3m16.5 0h1.5m22.5 0h1.5m15 0h3m19.5 0h1.5m10.5 0h1.5m3 0h4.5m13.5 0h3m9 0h6m39 0h3m10.5 0h1.5m112.5 0h1.5m52.5 0h1.5m15 0h1.5m1.5 0h1.5m13.5 0h1.5m13.5 0h3m9 0h1.5M428 552.75h1.5m193.5 0h1.5m207 0h4.5m24 0h1.5m58.5 0h1.5m4.5 0h1.5m12 0h4.5m22.5 0h6m1.5 0h1.5m19.5 0h1.5m1.5 0h3m40.5 0h3m3 0h1.5m22.5 0h1.5m19.5 0h3m7.5 0h1.5m6 0h1.5m159 0h1.5m19.5 0h1.5m27 0h1.5M431 554.25h1.5m82.5 0h1.5m138 0h1.5m175.5 0h3m24 0h1.5m82.5 0h6m48 0h1.5m58.5 0h1.5m15 0h1.5m34.5 0h3m4.5 0h1.5m70.5 0h4.5m21 0h1.5m1.5 0h1.5m60 0h1.5m16.5 0h3m1.5 0h3m1.5 0h1.5m21 0h1.5m4.5 0h1.5M437 555.75h1.5m123 0h1.5m78 0h1.5m187.5 0h3m6 0h3m16.5 0h1.5m3 0h1.5m78 0h4.5m46.5 0h1.5m45 0h4.5m6 0h3m19.5 0h1.5m36 0h3m4.5 0h1.5m75 0h4.5m4.5 0h10.5m3 0h1.5m3 0h1.5m58.5 0h1.5m45 0h1.5m4.5 0h1.5M479 557.25h1.5m100.5 0h1.5m43.5 0h1.5m34.5 0h1.5m166.5 0h1.5m28.5 0h1.5m82.5 0h1.5m82.5 0h1.5m6 0h1.5m9 0h3m1.5 0h3m7.5 0h3m9 0h3m37.5 0h3m3 0h1.5m6 0h1.5m4.5 0h3m1.5 0h1.5m48 0h1.5m16.5 0h7.5m1.5 0h1.5m3 0h3m3 0h1.5m58.5 0h3m1.5 0h1.5m30 0h3m4.5 0h3m1.5 0h1.5M377 558.75h1.5m67.5 0h1.5m78 0h1.5m55.5 0h1.5m40.5 0h1.5m204 0h1.5m25.5 0h3m84 0h1.5m79.5 0h3m19.5 0h7.5m4.5 0h3m1.5 0h1.5m12 0h4.5m4.5 0h3m24 0h3m3 0h3m1.5 0h1.5m12 0h1.5m48 0h1.5m3 0h3m1.5 0h1.5m1.5 0h3m1.5 0h4.5m1.5 0h3m3 0h6m88.5 0h3m1.5 0h1.5m15 0h3M381.5 560.25h1.5m177 0h1.5m82.5 0h1.5m184.5 0h1.5m172.5 0h3m18 0h1.5m28.5 0h1.5m1.5 0h1.5m33 0h4.5m106.5 0h6m12 0h1.5m3 0h1.5m63 0h3m3 0h1.5m4.5 0h1.5m4.5 0h1.5m4.5 0h1.5m1.5 0h3m12 0h6M444.5 561.75h1.5m79.5 0h1.5m43.5 0h1.5m258 0h1.5m30 0h1.5m82.5 0h1.5m72 0h3m1.5 0h1.5m73.5 0h6m30 0h1.5m54 0h1.5m18 0h4.5m1.5 0h6m6 0h1.5m49.5 0h3m18 0h3m1.5 0h1.5m12 0h1.5m13.5 0h6M449 563.25h1.5m70.5 0h1.5m39 0h1.5m81 0h1.5m181.5 0h1.5m1.5 0h1.5m30 0h3m138 0h6m3 0h3m1.5 0h1.5m60 0h1.5m1.5 0h7.5m3 0h1.5m12 0h1.5m27 0h1.5m145.5 0h1.5m34.5 0h1.5m16.5 0h1.5M384.5 564.75h1.5m439.5 0h1.5m1.5 0h3m24 0h1.5m6 0h1.5m70.5 0h3m12 0h1.5m28.5 0h1.5m13.5 0h1.5m9 0h4.5m3 0h1.5m64.5 0h1.5m3 0h3m6 0h1.5m3 0h3m4.5 0h1.5m109.5 0h1.5m7.5 0h3m67.5 0h1.5m7.5 0h1.5m9 0h3M384.5 566.25h1.5m124.5 0h1.5m129 0h1.5m181.5 0h1.5m39 0h1.5m82.5 0h1.5m15 0h1.5m15 0h1.5m3 0h3m3 0h1.5m4.5 0h1.5m78 0h1.5m4.5 0h1.5m13.5 0h3m1.5 0h3m21 0h1.5m84 0h1.5m7.5 0h1.5m55.5 0h7.5m4.5 0h1.5m24 0h1.5M630.5 567.75h1.5m192 0h1.5m109.5 0h1.5m3 0h3m7.5 0h1.5m7.5 0h7.5m10.5 0h1.5m3 0h12m1.5 0h1.5m1.5 0h4.5m7.5 0h1.5m90 0h6m10.5 0h1.5m4.5 0h1.5m9 0h3m1.5 0h1.5m42 0h4.5m22.5 0h4.5m6 0h4.5m31.5 0h1.5m12 0h1.5m10.5 0h3m21 0h1.5m9 0h1.5M392 569.25h1.5m237 0h1.5m9 0h1.5m180 0h1.5m121.5 0h1.5m4.5 0h3m6 0h9m10.5 0h1.5m1.5 0h3m1.5 0h3m1.5 0h6m81 0h3m10.5 0h1.5m13.5 0h9m6 0h6m10.5 0h1.5m40.5 0h1.5m21 0h1.5m4.5 0h1.5m1.5 0h6m1.5 0h1.5m27 0h7.5m1.5 0h3m9 0h4.5m3 0h9M399.5 570.75h1.5m45 0h1.5m169.5 0h1.5m201 0h4.5m36 0h1.5m84 0h3m3 0h1.5m7.5 0h7.5m10.5 0h9m3 0h1.5m1.5 0h1.5m1.5 0h3m12 0h1.5m81 0h3m12 0h4.5m6 0h3m15 0h3m40.5 0h1.5m24 0h1.5m1.5 0h3m1.5 0h1.5m33 0h1.5m1.5 0h3m4.5 0h1.5m7.5 0h9m4.5 0h4.5m31.5 0h4.5M440 572.25h1.5m12 0h1.5m72 0h1.5m72 0h1.5m54 0h1.5m148.5 0h1.5m9 0h1.5m39 0h4.5m84 0h1.5m1.5 0h3m6 0h6m1.5 0h1.5m7.5 0h3m1.5 0h1.5m1.5 0h3m16.5 0h1.5m78 0h1.5m57 0h1.5m39 0h1.5m12 0h1.5m57 0h1.5m7.5 0h3m4.5 0h1.5m12 0h3m37.5 0h1.5M590 573.75h1.5m43.5 0h1.5m168 0h7.5m4.5 0h1.5m10.5 0h1.5m24 0h1.5m88.5 0h1.5m1.5 0h1.5m3 0h1.5m12 0h1.5m6 0h1.5m1.5 0h1.5m1.5 0h9m25.5 0h1.5m66 0h1.5m55.5 0h3m52.5 0h1.5m4.5 0h1.5m3 0h3m45 0h1.5m13.5 0h4.5m4.5 0h1.5m4.5 0h3m37.5 0h1.5M593 575.25h1.5m214.5 0h1.5m3 0h1.5m3 0h1.5m4.5 0h4.5m24 0h3m79.5 0h1.5m7.5 0h1.5m18 0h3m3 0h3m42 0h1.5m66 0h1.5m54 0h1.5m28.5 0h3m4.5 0h1.5m19.5 0h7.5m48 0h4.5m9 0h7.5m3 0h3m4.5 0h1.5m4.5 0h3m27 0h1.5M564.5 576.75h1.5m28.5 0h1.5m30 0h1.5m171 0h1.5m13.5 0h1.5m7.5 0h6m16.5 0h7.5m82.5 0h1.5m7.5 0h1.5m10.5 0h1.5m3 0h1.5m1.5 0h7.5m166.5 0h1.5m25.5 0h1.5m9 0h1.5m12 0h1.5m6 0h4.5m49.5 0h4.5m12 0h4.5m12 0h1.5m1.5 0h1.5m3 0h1.5m16.5 0h1.5M398 578.25h1.5m327 0h3m1.5 0h1.5m60 0h4.5m27 0h6m13.5 0h1.5m97.5 0h1.5m12 0h1.5m1.5 0h1.5m4.5 0h1.5m7.5 0h1.5m28.5 0h1.5m10.5 0h1.5m118.5 0h4.5m21 0h1.5m25.5 0h1.5m1.5 0h3m3 0h1.5m1.5 0h1.5m72 0h1.5m9 0h1.5m7.5 0h1.5m6 0h1.5m3 0h4.5M521 579.75h1.5m4.5 0h1.5m1.5 0h1.5m199.5 0h1.5m18 0h1.5m3 0h1.5m34.5 0h1.5m1.5 0h1.5m9 0h3m16.5 0h4.5m7.5 0h1.5m6 0h1.5m91.5 0h1.5m18 0h1.5m3 0h1.5m3 0h4.5m34.5 0h1.5m132 0h3m19.5 0h1.5m27 0h1.5m7.5 0h4.5m72 0h1.5m7.5 0h1.5M555.5 581.25h1.5m28.5 0h1.5m12 0h1.5m7.5 0h1.5m10.5 0h1.5m102 0h1.5m64.5 0h1.5m4.5 0h1.5m1.5 0h7.5m18 0h3m4.5 0h1.5m4.5 0h3m3 0h1.5m115.5 0h6m39 0h1.5m76.5 0h3m1.5 0h1.5m49.5 0h3m13.5 0h1.5m12 0h1.5m13.5 0h6m9 0h1.5m33 0h6m7.5 0h1.5m1.5 0h3m25.5 0h1.5m6 0h1.5M729.5 582.75h1.5m91.5 0h3m12 0h4.5m96 0h1.5m3 0h3m13.5 0h3m43.5 0h1.5m6 0h1.5m1.5 0h1.5m67.5 0h1.5m54 0h1.5m13.5 0h1.5m12 0h3m12 0h6m7.5 0h3m27 0h3m1.5 0h6m9 0h1.5m4.5 0h1.5m1.5 0h6m16.5 0h3m4.5 0h1.5M521 584.25h1.5m82.5 0h1.5m115.5 0h1.5m28.5 0h1.5m30 0h1.5m7.5 0h3m9 0h3m130.5 0h3m1.5 0h1.5m57 0h4.5m3 0h1.5m7.5 0h1.5m85.5 0h3m28.5 0h1.5m3 0h1.5m6 0h3m1.5 0h1.5m13.5 0h4.5m10.5 0h1.5m1.5 0h9m28.5 0h3m1.5 0h1.5m18 0h1.5m12 0h1.5m6 0h1.5m15 0h1.5M521 585.75h1.5m223.5 0h1.5m30 0h6m9 0h1.5m10.5 0h3m12 0h1.5m118.5 0h3m57 0h3m13.5 0h3m67.5 0h1.5m49.5 0h4.5m4.5 0h3m3 0h1.5m10.5 0h7.5m6 0h1.5m3 0h1.5m10.5 0h3m12 0h3m7.5 0h1.5m1.5 0h1.5m3 0h1.5m27 0h1.5m3 0h4.5m3 0h1.5m12 0h1.5m1.5 0h1.5M777.5 587.25h1.5m7.5 0h4.5m13.5 0h1.5m4.5 0h1.5m1.5 0h1.5m3 0h1.5m117 0h3m7.5 0h1.5m69 0h3m118.5 0h1.5m13.5 0h1.5m9 0h4.5m1.5 0h1.5m7.5 0h3m10.5 0h4.5m12 0h3m3 0h3m27 0h3m6 0h3m13.5 0h1.5M623 588.75h1.5m153 0h3m3 0h6m15 0h4.5m7.5 0h3m189 0h3m7.5 0h1.5m69 0h1.5m64.5 0h1.5m7.5 0h6m1.5 0h1.5m13.5 0h3m19.5 0h3m30 0h3m7.5 0h4.5m22.5 0h1.5M617 590.25h1.5m132 0h1.5m51 0h3m4.5 0h1.5m136.5 0h3m55.5 0h1.5m1.5 0h3m4.5 0h1.5m70.5 0h1.5m43.5 0h1.5m6 0h3m6 0h1.5m1.5 0h3m9 0h13.5m1.5 0h4.5m25.5 0h1.5m48 0h6m10.5 0h1.5M723.5 591.75h1.5m9 0h1.5m58.5 0h1.5m1.5 0h1.5m3 0h4.5m4.5 0h1.5m193.5 0h3m3 0h4.5m73.5 0h1.5m48 0h1.5m10.5 0h4.5m12 0h1.5m3 0h4.5m1.5 0h1.5m1.5 0h4.5m24 0h3m27 0h1.5m21 0h6m9 0h3M560 593.25h1.5m126 0h1.5m19.5 0h1.5m81 0h7.5m1.5 0h1.5m9 0h1.5m1.5 0h1.5m187.5 0h3m84 0h1.5m42 0h4.5m1.5 0h1.5m6 0h1.5m1.5 0h6m7.5 0h1.5m4.5 0h4.5m7.5 0h1.5m27 0h1.5m19.5 0h1.5m7.5 0h1.5m36 0h1.5M560 594.75h1.5m126 0h1.5m33 0h1.5m6 0h1.5m60 0h1.5m3 0h1.5m3 0h4.5m6 0h6m139.5 0h1.5m43.5 0h3m87 0h1.5m39 0h9m18 0h6m4.5 0h1.5m6 0h6m27 0h1.5m9 0h1.5m6 0h1.5m6 0h3M465.5 596.25h1.5m168 0h1.5m159 0h1.5m6 0h4.5m3 0h6m156 0h3m3 0h3m18 0h1.5m91.5 0h1.5m42 0h1.5m21 0h4.5m4.5 0h1.5m1.5 0h1.5m1.5 0h1.5m27 0h1.5m6 0h1.5m9 0h1.5m6 0h3M534.5 597.75h1.5m10.5 0h1.5m66 0h1.5m19.5 0h1.5m85.5 0h1.5m16.5 0h1.5m54 0h1.5m6 0h3m7.5 0h1.5m153 0h4.5m9 0h3m1.5 0h3m3 0h1.5m6 0h1.5m94.5 0h1.5m61.5 0h7.5m1.5 0h6m27 0h3m6 0h1.5m1.5 0h12m1.5 0h1.5M561.5 599.25h1.5m1.5 0h1.5m165 0h1.5m15 0h1.5m24 0h1.5m16.5 0h1.5m18 0h3m151.5 0h1.5m27 0h1.5m126 0h4.5m21 0h3m3 0h3m9 0h6m31.5 0h3m4.5 0h3m6 0h1.5m9 0h1.5m1.5 0h4.5M447.5 600.75h1.5m10.5 0h1.5m79.5 0h1.5m21 0h1.5m52.5 0h1.5m114 0h1.5m12 0h1.5m25.5 0h1.5m16.5 0h1.5m1.5 0h1.5m4.5 0h4.5m4.5 0h1.5m150 0h1.5m31.5 0h6m121.5 0h1.5m13.5 0h1.5m4.5 0h3m10.5 0h1.5m1.5 0h7.5m1.5 0h3m21 0h1.5m7.5 0h1.5m3 0h1.5m1.5 0h1.5m9 0h3m6 0h1.5m4.5 0h4.5M605 602.25h1.5m16.5 0h1.5m108 0h1.5m15 0h1.5m49.5 0h1.5m4.5 0h1.5m328.5 0h1.5m18 0h6m22.5 0h1.5m1.5 0h4.5m22.5 0h4.5m3 0h1.5m4.5 0h1.5m3 0h7.5M546.5 603.75h1.5m243 0h1.5m6 0h3m4.5 0h1.5m294 0h1.5m30 0h3m4.5 0h1.5m48 0h1.5m12 0h1.5m7.5 0h1.5m10.5 0h6m1.5 0h1.5m1.5 0h1.5m1.5 0h1.5M630.5 605.25h1.5m85.5 0h1.5m73.5 0h1.5m312 0h1.5m34.5 0h1.5m48 0h1.5m4.5 0h3m9 0h3m13.5 0h6M722 606.75h1.5m4.5 0h1.5m60 0h3m6 0h1.5m309 0h1.5m6 0h1.5m10.5 0h3m9 0h3m51 0h3M758 608.25h3m28.5 0h3m7.5 0h1.5m318 0h3m1.5 0h4.5m13.5 0h1.5m64.5 0h1.5M789.5 609.75h1.5m4.5 0h1.5m3 0h1.5m324 0h3m15 0h1.5m61.5 0h6M714.5 611.25h1.5m7.5 0h1.5m72 0h1.5m408 0h1.5m1.5 0h1.5M789.5 612.75h3m4.5 0h1.5m211.5 0h1.5m195 0h6M423.5 614.25h1.5m309 0h1.5m279 0h3m6 0h1.5m181.5 0h1.5M575 615.75h1.5m223.5 0h1.5m223.5 0h1.5m177 0h1.5M567.5 617.25h1.5m166.5 0h1.5m6 0h1.5m24 0h3m25.5 0h1.5m204 0h3m1.5 0h3m192 0h1.5M444.5 618.75h1.5m15 0h1.5m4.5 0h1.5m141 0h1.5m45 0h1.5m67.5 0h1.5m39 0h1.5m3 0h1.5m30 0h3m198 0h1.5m13.5 0h4.5m4.5 0h1.5M422 620.25h1.5m33 0h1.5m142.5 0h1.5m123 0h1.5m16.5 0h1.5m25.5 0h3m19.5 0h4.5m6 0h1.5m211.5 0h3M570.5 621.75h1.5m61.5 0h1.5m12 0h1.5m76.5 0h1.5m43.5 0h3m19.5 0h3m205.5 0h1.5m15 0h1.5M468.5 623.25h1.5m132 0h1.5m67.5 0h1.5m51 0h1.5m64.5 0h3m6 0h3m208.5 0h3m1.5 0h1.5m3 0h1.5m9 0h1.5M650 624.75h1.5m15 0h1.5m27 0h1.5m22.5 0h1.5m66 0h4.5m7.5 0h1.5m198 0h1.5m9 0h1.5m3 0h3m3 0h1.5m9 0h1.5M468.5 626.25h1.5m237 0h1.5m10.5 0h1.5m30 0h1.5m9 0h1.5m6 0h1.5m13.5 0h1.5m12 0h1.5m198 0h1.5m1.5 0h1.5m7.5 0h4.5m1.5 0h1.5m13.5 0h1.5M614 627.75h1.5m112.5 0h1.5m31.5 0h1.5m6 0h3m12 0h1.5m10.5 0h1.5m198 0h3m1.5 0h1.5m9 0h1.5m3 0h1.5m4.5 0h1.5m7.5 0h3m42 0h3M464 629.25h1.5m267 0h3m27 0h1.5m30 0h1.5m199.5 0h1.5m6 0h1.5m27 0h1.5m39 0h1.5m1.5 0h1.5m1.5 0h4.5m1.5 0h3M665 630.75h1.5m69 0h1.5m6 0h3m16.5 0h1.5m4.5 0h1.5m12 0h1.5m10.5 0h1.5m199.5 0h1.5m21 0h1.5m12 0h1.5m39 0h1.5m4.5 0h7.5m1.5 0h1.5M677 632.25h3m43.5 0h1.5m12 0h1.5m7.5 0h1.5m16.5 0h1.5m6 0h1.5m4.5 0h4.5m10.5 0h1.5m105 0h1.5m6 0h1.5m87 0h1.5m7.5 0h6m19.5 0h3m36 0h1.5m1.5 0h1.5m1.5 0h3m9 0h3M440 633.75h1.5m249 0h1.5m12 0h1.5m31.5 0h1.5m4.5 0h4.5m18 0h1.5m4.5 0h1.5m102 0h1.5m21 0h1.5m9 0h1.5m85.5 0h1.5m6 0h1.5m1.5 0h4.5m19.5 0h1.5m37.5 0h6m1.5 0h3m7.5 0h3M729.5 635.25h1.5m4.5 0h3m27 0h1.5m22.5 0h1.5m76.5 0h1.5m1.5 0h3m4.5 0h3m16.5 0h3m7.5 0h1.5m84 0h3m1.5 0h3m1.5 0h3m1.5 0h1.5m4.5 0h1.5m16.5 0h1.5m54 0h1.5m1.5 0h1.5M702.5 636.75h1.5m18 0h1.5m3 0h1.5m1.5 0h1.5m4.5 0h4.5m31.5 0h3m93 0h6m4.5 0h3m16.5 0h1.5m9 0h1.5m94.5 0h3m12 0h1.5m7.5 0h1.5m37.5 0h1.5m19.5 0h3m157.5 0h1.5M650 638.25h1.5m51 0h1.5m24 0h3m3 0h7.5m9 0h1.5m19.5 0h1.5m94.5 0h1.5m3 0h1.5m1.5 0h1.5m4.5 0h4.5m6 0h1.5m10.5 0h1.5m4.5 0h1.5m1.5 0h1.5m42 0h7.5m28.5 0h1.5m39 0h1.5m52.5 0h6m154.5 0h1.5m7.5 0h6M474.5 639.75h1.5m9 0h1.5m223.5 0h1.5m24 0h6m9 0h3m25.5 0h1.5m87 0h1.5m4.5 0h3m1.5 0h6m6 0h1.5m21 0h1.5m12 0h4.5m31.5 0h3m27 0h1.5m1.5 0h4.5m22.5 0h1.5m10.5 0h1.5m48 0h4.5m3 0h1.5m154.5 0h1.5m6 0h4.5m1.5 0h1.5M662 641.25h1.5m6 0h1.5m60 0h1.5m12 0h3m3 0h3m9 0h1.5m103.5 0h1.5m45 0h1.5m6 0h1.5m12 0h3m51 0h1.5m6 0h1.5m4.5 0h3m15 0h3m12 0h1.5m55.5 0h3m133.5 0h4.5m13.5 0h1.5m6 0h7.5M474.5 642.75h1.5m157.5 0h3m108 0h4.5m1.5 0h1.5m4.5 0h6m13.5 0h1.5m135 0h3m25.5 0h1.5m45 0h1.5m7.5 0h1.5m13.5 0h3m3 0h1.5m1.5 0h1.5m13.5 0h1.5m52.5 0h4.5m130.5 0h3m3 0h3m13.5 0h1.5m6 0h1.5m4.5 0h1.5M468.5 644.25h1.5m196.5 0h1.5m54 0h1.5m7.5 0h1.5m15 0h7.5m111 0h1.5m1.5 0h1.5m40.5 0h1.5m1.5 0h4.5m24 0h3m21 0h1.5m18 0h1.5m31.5 0h1.5m16.5 0h7.5m19.5 0h3m21 0h4.5m10.5 0h1.5m97.5 0h1.5m4.5 0h1.5m9 0h6m27 0h4.5m4.5 0h1.5M707 645.75h1.5m39 0h3m1.5 0h3m109.5 0h1.5m1.5 0h1.5m42 0h1.5m3 0h1.5m27 0h3m37.5 0h3m34.5 0h1.5m12 0h3m3 0h1.5m3 0h1.5m18 0h1.5m21 0h1.5m3 0h1.5m1.5 0h3m1.5 0h1.5m3 0h3m3 0h4.5m85.5 0h1.5m7.5 0h1.5m1.5 0h3m3 0h1.5m31.5 0h3M675.5 647.25h1.5m66 0h1.5m15 0h1.5m3 0h6m91.5 0h1.5m34.5 0h4.5m45 0h1.5m6 0h1.5m25.5 0h3m36 0h3m3 0h3m18 0h1.5m46.5 0h3m6 0h3m1.5 0h4.5m105 0h1.5m34.5 0h1.5m6 0h1.5M648.5 648.75h3m64.5 0h1.5m15 0h1.5m25.5 0h1.5m7.5 0h3m87 0h3m31.5 0h1.5m3 0h6m6 0h3m34.5 0h1.5m3 0h1.5m16.5 0h3m9 0h1.5m37.5 0h1.5m16.5 0h1.5m7.5 0h1.5m55.5 0h1.5m3 0h4.5m3 0h1.5m94.5 0h1.5m1.5 0h1.5m1.5 0h1.5m42 0h1.5M642.5 650.25h1.5m60 0h1.5m28.5 0h1.5m123 0h1.5m31.5 0h3m12 0h7.5m58.5 0h1.5m4.5 0h1.5m22.5 0h1.5m4.5 0h1.5m39 0h1.5m13.5 0h1.5m18 0h1.5m4.5 0h3m9 0h3m12 0h3m81 0h1.5m7.5 0h4.5m6 0h1.5m40.5 0h1.5M735.5 651.75h3m12 0h3m139.5 0h1.5m12 0h6m1.5 0h1.5m57 0h6m30 0h1.5m39 0h1.5m13.5 0h1.5m15 0h1.5m6 0h1.5m1.5 0h1.5m22.5 0h1.5m1.5 0h1.5m91.5 0h1.5m49.5 0h1.5M585.5 653.25h1.5m1.5 0h1.5m49.5 0h1.5m12 0h1.5m84 0h1.5m10.5 0h1.5m141 0h1.5m12 0h12m10.5 0h3m6 0h4.5m21 0h3m1.5 0h1.5m39 0h3m6 0h1.5m27 0h1.5m3 0h3m7.5 0h1.5m18 0h1.5m31.5 0h3m84 0h1.5M470 654.75h1.5m267 0h1.5m6 0h3m13.5 0h1.5m142.5 0h9m12 0h6m3 0h3m1.5 0h1.5m12 0h3m4.5 0h1.5m30 0h1.5m4.5 0h4.5m4.5 0h6m3 0h1.5m7.5 0h1.5m19.5 0h3m30 0h3m18 0h1.5m4.5 0h1.5m4.5 0h3m84 0h1.5M653 656.25h1.5m67.5 0h1.5m135 0h1.5m30 0h1.5m15 0h9m4.5 0h9m6 0h7.5m31.5 0h1.5m15 0h3m1.5 0h3m6 0h3m22.5 0h1.5m48 0h3m4.5 0h3m12 0h3m3 0h3m3 0h3m82.5 0h1.5M576.5 657.75h1.5m129 0h1.5m151.5 0h1.5m28.5 0h1.5m15 0h3m1.5 0h4.5m6 0h9m3 0h9m7.5 0h1.5m24 0h3m13.5 0h1.5m4.5 0h4.5m3 0h1.5m81 0h1.5m18 0h3m4.5 0h1.5m4.5 0h3m115.5 0h3M668 659.25h1.5m219 0h1.5m16.5 0h10.5m4.5 0h10.5m4.5 0h7.5m1.5 0h10.5m33 0h1.5m1.5 0h1.5m39 0h1.5m73.5 0h1.5m1.5 0h1.5m10.5 0h1.5m46.5 0h3m3 0h4.5m13.5 0h1.5M471.5 660.75h1.5m193.5 0h1.5m193.5 0h1.5m25.5 0h1.5m18 0h1.5m6 0h1.5m1.5 0h10.5m1.5 0h13.5m1.5 0h3m1.5 0h1.5m45 0h1.5m40.5 0h1.5m19.5 0h1.5m51 0h3m6 0h4.5m7.5 0h1.5m25.5 0h1.5m6 0h3m3 0h3m3 0h3m12 0h1.5m42 0h1.5M678.5 662.25h1.5m184.5 0h6m3 0h1.5m10.5 0h3m30 0h19.5m1.5 0h6m9 0h3m79.5 0h1.5m72 0h3m3 0h7.5m3 0h4.5m4.5 0h1.5m4.5 0h7.5m7.5 0h9m18 0h1.5m3 0h6m40.5 0h3m10.5 0h3M471.5 663.75h3m7.5 0h1.5m177 0h1.5m31.5 0h1.5m21 0h1.5m151.5 0h1.5m10.5 0h1.5m3 0h3m31.5 0h19.5m1.5 0h4.5m6 0h6m78 0h4.5m72 0h1.5m3 0h1.5m1.5 0h1.5m1.5 0h1.5m15 0h3m18 0h1.5m24 0h6m42 0h1.5m15 0h1.5M588.5 665.25h1.5m105 0h1.5m13.5 0h1.5m156 0h3m3 0h3m7.5 0h4.5m36 0h1.5m1.5 0h3m3 0h3m3 0h7.5m3 0h3m1.5 0h4.5m81 0h1.5m90 0h1.5m100.5 0h1.5m18 0h1.5M870.5 666.75h3m51 0h3m3 0h4.5m1.5 0h4.5m1.5 0h1.5m1.5 0h3m1.5 0h3m1.5 0h3m210 0h1.5m25.5 0h1.5M662 668.25h1.5m67.5 0h1.5m192 0h3m1.5 0h1.5m1.5 0h7.5m4.5 0h4.5m283.5 0h1.5M582.5 669.75h1.5m111 0h1.5m228 0h6m3 0h3m9 0h3m283.5 0h1.5M848 671.25h1.5m4.5 0h4.5m4.5 0h1.5m69 0h3m103.5 0h1.5m150 0h1.5m37.5 0h3M849.5 672.75h3m3 0h1.5m7.5 0h1.5m66 0h1.5m105 0h1.5m180 0h1.5m10.5 0h1.5M855.5 674.25h1.5m1.5 0h1.5m70.5 0h3m111 0h1.5m181.5 0h3M710 675.75h1.5m142.5 0h1.5m76.5 0h1.5m288 0h6M852.5 677.25h3m3 0h1.5m178.5 0h1.5m117 0h1.5m63 0h1.5M666.5 678.75h1.5m58.5 0h1.5m30 0h1.5m84 0h4.5m1.5 0h3m1.5 0h6m180 0h1.5m6 0h1.5m7.5 0h1.5m99 0h1.5m57 0h1.5M684.5 680.25h1.5m154.5 0h3m12 0h1.5m3 0h1.5m181.5 0h1.5m169.5 0h3M836 681.75h1.5m18 0h4.5m201 0h1.5m85.5 0h1.5m60 0h6M834.5 683.25h1.5m1.5 0h3m6 0h1.5m205.5 0h1.5m6 0h1.5m126 0h1.5m16.5 0h1.5M725 684.75h1.5m108 0h1.5m1.5 0h1.5m214.5 0h3m1.5 0h3m1.5 0h1.5m10.5 0h3m109.5 0h3m13.5 0h1.5M612.5 686.25h1.5m231 0h1.5m12 0h3m207 0h3m19.5 0h1.5m73.5 0h1.5M833 687.75h1.5m3 0h3m4.5 0h1.5m12 0h3m205.5 0h1.5m12 0h3m117 0h1.5M839 689.25h6m235.5 0h1.5m1.5 0h1.5m6 0h4.5m100.5 0h3M728 690.75h1.5m106.5 0h3m250.5 0h3m3 0h6m6 0h1.5m85.5 0h3M597.5 692.25h1.5m6 0h1.5m477 0h1.5m4.5 0h3m16.5 0h1.5m66 0h1.5m10.5 0h3m3 0h1.5M1083.5 693.75h1.5m6 0h1.5m18 0h1.5m1.5 0h3m1.5 0h4.5m27 0h1.5m25.5 0h1.5m1.5 0h3m1.5 0h7.5m3 0h1.5M1095.5 695.25h1.5m19.5 0h1.5m4.5 0h1.5m1.5 0h1.5m13.5 0h1.5m10.5 0h1.5m15 0h1.5m19.5 0h1.5M600.5 696.75h1.5m486 0h6m45 0h1.5m12 0h3m4.5 0h1.5M1130 698.25h1.5m3 0h1.5m19.5 0h1.5m1.5 0h3M1133 699.75h3m19.5 0h3M713 701.25h1.5m6 0h1.5M1157 702.75h1.5M714.5 705.75h1.5m40.5 0h1.5M828.5 710.25h3M824 711.75h4.5M824 713.25h1.5m1.5 0h3M825.5 714.75h1.5m4.5 0h1.5M744.5 716.25h1.5m87 0h1.5M833 717.75h3M1218.5 722.25h3M1014.5 725.25h4.5m202.5 0h1.5M1017.5 726.75h1.5m13.5 0h3m1.5 0h1.5m1.5 0h1.5M953 728.25h1.5m58.5 0h1.5m3 0h3m1.5 0h4.5m1.5 0h3m1.5 0h1.5m7.5 0h1.5m175.5 0h3m1.5 0h1.5M954.5 729.75h1.5m55.5 0h1.5m6 0h4.5m199.5 0h1.5M768.5 731.25h1.5m169.5 0h6m10.5 0h1.5m12 0h1.5m1.5 0h1.5M939.5 732.75h1.5m1.5 0h3m10.5 0h1.5m9 0h1.5m4.5 0h1.5m39 0h1.5m30 0h1.5M759.5 734.25h1.5m178.5 0h1.5m18 0h1.5m1.5 0h3m10.5 0h3m13.5 0h3m1.5 0h3m1.5 0h1.5m16.5 0h6m21 0h1.5M752 735.75h1.5m4.5 0h1.5m172.5 0h1.5m6 0h1.5m21 0h1.5m10.5 0h1.5m1.5 0h3m13.5 0h1.5m4.5 0h3m6 0h1.5m4.5 0h1.5m1.5 0h9M738.5 737.25h1.5m10.5 0h1.5m31.5 0h1.5m145.5 0h1.5m7.5 0h1.5m33 0h1.5m4.5 0h1.5m10.5 0h3m30 0h1.5m193.5 0h1.5m4.5 0h1.5M740 738.75h1.5m27 0h1.5m157.5 0h3m1.5 0h1.5m6 0h1.5m16.5 0h1.5m3 0h1.5m16.5 0h1.5m10.5 0h1.5m18 0h1.5m36 0h1.5m168 0h1.5m6 0h1.5M926 740.25h3m12 0h1.5m18 0h3m27 0h3m46.5 0h1.5m175.5 0h3M960.5 741.75h1.5m3 0h1.5m19.5 0h1.5m3 0h3m45 0h3m175.5 0h1.5M942.5 743.25h1.5m100.5 0h3m168 0h1.5M942.5 744.75h1.5m76.5 0h1.5m22.5 0h3M944 746.25h1.5m76.5 0h1.5m27 0h1.5M944 747.75h1.5m73.5 0h3m30 0h1.5M1014.5 749.25h1.5m3 0h1.5m1.5 0h6m21 0h1.5m1.5 0h1.5m156 0h1.5M1016 750.75h1.5m6 0h4.5m24 0h1.5m156 0h1.5M1020.5 752.25h1.5m7.5 0h3m7.5 0h1.5m12 0h3m141 0h1.5m1.5 0h1.5m3 0h1.5m24 0h1.5M1020.5 753.75h3m6 0h3m22.5 0h3m145.5 0h3m24 0h1.5M1026.5 755.25h6m1.5 0h1.5m1.5 0h1.5m18 0h1.5m171 0h1.5M1026.5 756.75h3m199.5 0h1.5M1194.5 758.25h1.5M1193 759.75h1.5m34.5 0h1.5M1227.5 762.75h1.5M1202 764.25h1.5m6 0h3m9 0h1.5m3 0h1.5M1209.5 765.75h3m15 0h1.5M1211 767.25h1.5m16.5 0h1.5M1208 768.75h1.5m7.5 0h1.5m12 0h1.5M1205 770.25h1.5m3 0h6M1211 771.75h1.5M1203.5 773.25h1.5m3 0h1.5M1202 774.75h7.5M1233.5 813.75h3m4.5 0h3M1233.5 815.25h1.5m1.5 0h3m3 0h1.5m3 0h4.5M1233.5 816.75h6m3 0h1.5M1238 818.25h4.5m9 0h1.5M1236.5 819.75h1.5m1.5 0h3M1238 821.25h4.5M1238 822.75h3m4.5 0h1.5m3 0h1.5M1238 824.25h1.5m9 0h1.5M1238 825.75h1.5M1244 827.25h1.5m3 0h1.5M1239.5 828.75h1.5m1.5 0h3m3 0h3M1239.5 830.25h1.5m3 0h7.5M1238 831.75h3m3 0h1.5M1239.5 833.25h3M1235 842.25h7.5M1235 843.75h10.5M1239.5 845.25h7.5m3 0h1.5M1239.5 846.75h6m4.5 0h1.5M1238 848.25h3m1.5 0h4.5M1239.5 849.75h6"/>
<path stroke="#e6ee1c" d="M402.5 239.25h1.5M387.5 240.75h1.5M366.5 242.25h1.5M377 251.25h1.5m93 0h1.5M374 252.75h1.5M378.5 254.25h1.5M366.5 258.75h1.5M437 263.25h1.5M440 266.25h1.5M375.5 267.75h1.5M377 270.75h1.5m112.5 0h1.5M375.5 275.25h1.5M431 278.25h1.5M375.5 281.25h1.5M480.5 284.25h1.5m22.5 0h1.5M380 285.75h1.5m123 0h1.5M383 291.75h1.5M368 299.25h1.5M452 308.25h1.5M500 311.25h1.5M449 312.75h1.5M396.5 315.75h1.5M482 317.25h1.5M480.5 320.25h1.5M522.5 321.75h1.5M440 323.25h1.5M476 329.25h1.5M332 330.75h1.5m46.5 0h1.5m25.5 0h1.5m10.5 0h1.5M339.5 332.25h1.5M441.5 333.75h1.5M345.5 335.25h1.5M339.5 336.75h3M360.5 342.75h1.5M426.5 344.25h1.5M474.5 348.75h1.5M348.5 354.75h1.5M362 356.25h1.5M342.5 359.25h1.5M323 369.75h1.5M363.5 375.75h1.5M357.5 377.25h1.5M336.5 408.75h1.5M353 411.75h1.5M1089.5 413.25h1.5M1088 414.75h1.5m1.5 0h1.5M350 419.25h1.5M387.5 422.25h1.5m700.5 0h1.5M393.5 423.75h3M359 426.75h1.5m102 0h1.5M540.5 429.75h1.5M1085 431.25h1.5M579.5 435.75h1.5M573.5 437.25h1.5M558.5 438.75h1.5m15 0h1.5m3 0h1.5M536 440.25h1.5m12 0h1.5m22.5 0h1.5m808.5 0h1.5M411.5 441.75h1.5M419 443.25h1.5M333.5 444.75h1.5m120 0h1.5m127.5 0h1.5m600 0h1.5M336.5 446.25h1.5m216 0h1.5M1166 447.75h1.5M333.5 449.25h1.5m12 0h1.5m103.5 0h1.5m111 0h1.5M341 450.75h1.5m85.5 0h1.5m150 0h1.5M410 452.25h1.5m135 0h4.5M567.5 453.75h1.5M408.5 455.25h1.5m55.5 0h1.5m90 0h1.5m4.5 0h1.5M342.5 456.75h1.5m211.5 0h1.5m7.5 0h1.5m676.5 0h1.5M323 458.25h1.5m220.5 0h1.5m4.5 0h1.5m819 0h1.5M566 459.75h1.5m684 0h1.5M350 461.25h1.5m96 0h1.5m109.5 0h1.5m691.5 0h1.5M560 462.75h1.5m801 0h1.5M1253 464.25h3m70.5 0h1.5M468.5 465.75h1.5m84 0h1.5m7.5 0h1.5m105 0h1.5m475.5 0h1.5m103.5 0h1.5m70.5 0h3m48 0h1.5M1131.5 467.25h1.5m121.5 0h1.5m117 0h1.5M332 468.75h1.5m94.5 0h1.5m13.5 0h1.5m114 0h1.5m21 0h1.5m549 0h1.5m19.5 0h1.5m177 0h1.5m3 0h3M410 470.25h1.5m19.5 0h1.5m139.5 0h1.5m568.5 0h1.5m31.5 0h1.5m123 0h1.5m73.5 0h3M437 471.75h1.5m31.5 0h1.5m685.5 0h1.5m148.5 0h1.5M330.5 473.25h1.5m331.5 0h1.5m474 0h1.5m4.5 0h1.5m28.5 0h1.5m187.5 0h3M672.5 474.75h1.5m453 0h1.5m10.5 0h1.5m3 0h1.5m94.5 0h1.5m12 0h1.5m52.5 0h1.5m43.5 0h1.5m25.5 0h1.5M380 476.25h1.5m81 0h1.5m112.5 0h1.5m555 0h1.5m15 0h1.5m3 0h1.5m33 0h1.5m172.5 0h1.5M441.5 477.75h1.5m754.5 0h1.5m33 0h1.5m24 0h3M363.5 479.25h1.5m9 0h1.5m195 0h1.5m540 0h1.5m108 0h1.5m16.5 0h1.5m16.5 0h1.5m112.5 0h1.5M1130 480.75h1.5m61.5 0h1.5m177 0h3m1.5 0h1.5M1157 482.25h1.5m40.5 0h1.5m1.5 0h1.5m154.5 0h1.5M365 483.75h1.5m799.5 0h1.5m36 0h1.5m22.5 0h1.5M371 485.25h1.5m831 0h1.5m19.5 0h3m144 0h1.5M369.5 486.75h1.5m766.5 0h3m1.5 0h1.5m12 0h1.5m9 0h1.5m4.5 0h1.5m30 0h1.5m18 0h1.5m58.5 0h1.5m88.5 0h1.5M366.5 488.25h1.5m28.5 0h1.5m37.5 0h1.5m729 0h1.5m3 0h4.5m31.5 0h1.5M1172 489.75h1.5M1358 491.25h1.5M426.5 492.75h1.5m181.5 0h1.5m540 0h1.5m213 0h1.5M380 494.25h1.5m1.5 0h1.5m886.5 0h1.5M534.5 495.75h1.5m496.5 0h1.5m247.5 0h1.5M383 497.25h1.5m247.5 0h1.5m397.5 0h1.5M377 498.75h1.5m250.5 0h1.5M374 500.25h1.5m226.5 0h1.5M1290.5 501.75h1.5M342.5 504.75h1.5m34.5 0h1.5M371 506.25h1.5m916.5 0h1.5M371 507.75h1.5m39 0h1.5m136.5 0h1.5M360.5 509.25h1.5m666 0h1.5M587 510.75h1.5m442.5 0h1.5m253.5 0h1.5M1277 512.25h1.5M381.5 513.75h1.5m181.5 0h1.5m30 0h1.5m385.5 0h1.5m55.5 0h1.5M455 515.25h1.5m817.5 0h1.5M386 516.75h3m211.5 0h1.5m384 0h1.5m289.5 0h1.5M432.5 518.25h1.5m153 0h1.5M1269.5 519.75h1.5M381.5 521.25h1.5m604.5 0h1.5m282 0h1.5M383 522.75h1.5m163.5 0h1.5M1265 524.25h1.5M587 525.75h1.5m675 0h1.5M360.5 527.25h1.5m66 0h1.5m90 0h1.5m349.5 0h1.5m187.5 0h1.5m244.5 0h1.5M383 528.75h1.5m673.5 0h1.5M362 530.25h1.5m1.5 0h1.5m16.5 0h1.5m879 0h1.5M383 531.75h1.5m4.5 0h1.5m12 0h1.5m465 0h1.5m390 0h1.5m1.5 0h3m3 0h1.5m37.5 0h1.5M1266.5 533.25h3M428 534.75h1.5m25.5 0h1.5m6 0h1.5m33 0h1.5m51 0h1.5m376.5 0h1.5m132 0h1.5m201 0h1.5M528.5 536.25h1.5m355.5 0h1.5m40.5 0h1.5m130.5 0h1.5m240 0h1.5M860 537.75h1.5m25.5 0h1.5m57 0h1.5m115.5 0h1.5m31.5 0h1.5m204 0h1.5M390.5 539.25h1.5m469.5 0h3m75 0h1.5M378.5 540.75h1.5m501 0h1.5m6 0h1.5m16.5 0h1.5M390.5 542.25h1.5m510 0h1.5m7.5 0h1.5m13.5 0h1.5m40.5 0h1.5m346.5 0h1.5M603.5 543.75h3m241.5 0h1.5m10.5 0h1.5m3 0h1.5m61.5 0h1.5m130.5 0h1.5m3 0h1.5m237 0h1.5m13.5 0h1.5M479 545.25h1.5m447 0h3m7.5 0h1.5m22.5 0h1.5m63 0h1.5m3 0h1.5m33 0h1.5M368 546.75h1.5m69 0h1.5m396 0h1.5m12 0h1.5m40.5 0h1.5m15 0h1.5m22.5 0h1.5m4.5 0h1.5m24 0h3m108 0h3m243 0h1.5M428 548.25h1.5m135 0h1.5m324 0h3m15 0h1.5m28.5 0h1.5m82.5 0h1.5m282 0h1.5m24 0h1.5M509 549.75h1.5M980 551.25h1.5m13.5 0h1.5m4.5 0h1.5m3 0h1.5m12 0h1.5m84 0h1.5m109.5 0h1.5m72 0h1.5m16.5 0h1.5M561.5 552.75h1.5m273 0h1.5m21 0h1.5m136.5 0h1.5m51 0h1.5m165 0h1.5m57 0h1.5m15 0h1.5m27 0h1.5M963.5 554.25h1.5m76.5 0h1.5m9 0h1.5m159 0h1.5M837.5 555.75h1.5m157.5 0h1.5m73.5 0h1.5m115.5 0h3m114 0h1.5m19.5 0h1.5M621.5 557.25h1.5m208.5 0h1.5m10.5 0h1.5m3 0h1.5m204 0h3m79.5 0h1.5m61.5 0h1.5M449 558.75h1.5m81 0h1.5m55.5 0h1.5m255 0h1.5m156 0h1.5m91.5 0h1.5m100.5 0h1.5m9 0h1.5m82.5 0h1.5m13.5 0h3m3 0h1.5M857 560.25h1.5m87 0h1.5m150 0h1.5m129 0h1.5m81 0h1.5M572 561.75h1.5m444 0h1.5m166.5 0h1.5m127.5 0h1.5M575 563.25h1.5m60 0h1.5m310.5 0h1.5m64.5 0h1.5m262.5 0h1.5m24 0h3M428 564.75h1.5m397.5 0h1.5m28.5 0h1.5m3 0h1.5m85.5 0h1.5m28.5 0h1.5m126 0h1.5m21 0h3M950 566.25h1.5m9 0h1.5m15 0h1.5m6 0h1.5m3 0h1.5m223.5 0h1.5m90 0h1.5M393.5 567.75h1.5m1.5 0h1.5m466.5 0h1.5m85.5 0h1.5m43.5 0h1.5m82.5 0h1.5m16.5 0h3m10.5 0h1.5m6 0h1.5m97.5 0h1.5m87 0h1.5M824 569.25h1.5m34.5 0h1.5m97.5 0h1.5m9 0h1.5m7.5 0h1.5m6 0h1.5m3 0h1.5m105 0h1.5m4.5 0h1.5m100.5 0h1.5m12 0h1.5M639.5 570.75h1.5m327 0h3m16.5 0h3m1.5 0h1.5m108 0h1.5m19.5 0h1.5m133.5 0h1.5M638 572.25h1.5m178.5 0h1.5m36 0h1.5m106.5 0h1.5m12 0h1.5m13.5 0h1.5m18 0h1.5m118.5 0h1.5m58.5 0h1.5m10.5 0h1.5m48 0h1.5m15 0h1.5m33 0h1.5M852.5 573.75h1.5m96 0h1.5m1.5 0h1.5m16.5 0h1.5m4.5 0h1.5m12 0h1.5m19.5 0h1.5m118.5 0h1.5m172.5 0h1.5M800 575.25h1.5m153 0h1.5m10.5 0h3m43.5 0h1.5m156 0h1.5m4.5 0h1.5m13.5 0h3m79.5 0h1.5m42 0h1.5M384.5 576.75h1.5m10.5 0h1.5m171 0h1.5m247.5 0h1.5m10.5 0h1.5m130.5 0h1.5m127.5 0h1.5m43.5 0h1.5m28.5 0h1.5m22.5 0h4.5m82.5 0h1.5m16.5 0h1.5m13.5 0h1.5m4.5 0h1.5M389 578.25h1.5m136.5 0h1.5m294 0h1.5m130.5 0h1.5m4.5 0h1.5m43.5 0h1.5m192 0h1.5M726.5 579.75h1.5m67.5 0h1.5m18 0h1.5m6 0h1.5m9 0h1.5m127.5 0h1.5m42 0h1.5m4.5 0h1.5m3 0h1.5m66 0h1.5M617 581.25h1.5m114 0h1.5m88.5 0h1.5m18 0h1.5m99 0h1.5m13.5 0h1.5m42 0h1.5m10.5 0h4.5m141 0h1.5m7.5 0h1.5m21 0h1.5m61.5 0h1.5m1.5 0h1.5m19.5 0h1.5m1.5 0h3m1.5 0h1.5M392 582.75h1.5m136.5 0h1.5m78 0h1.5m178.5 0h1.5m6 0h1.5m6 0h3m156 0h1.5m34.5 0h1.5m85.5 0h1.5m49.5 0h1.5m28.5 0h1.5m13.5 0h1.5m6 0h1.5m4.5 0h1.5m33 0h1.5m22.5 0h1.5m6 0h1.5m13.5 0h1.5m6 0h1.5M821 584.25h1.5m118.5 0h1.5m57 0h1.5m87 0h1.5m45 0h1.5m15 0h1.5m3 0h1.5m21 0h1.5m1.5 0h1.5m43.5 0h1.5m1.5 0h1.5m3 0h3m30 0h1.5M807.5 585.75h1.5m195 0h1.5m82.5 0h1.5m16.5 0h1.5m27 0h1.5m18 0h1.5m16.5 0h1.5m6 0h1.5m48 0h1.5m16.5 0h1.5M807.5 587.25h1.5m328.5 0h1.5m33 0h1.5m48 0h1.5m3 0h1.5M587 588.75h1.5m429 0h1.5m135 0h1.5m106.5 0h1.5m3 0h1.5m9 0h1.5M452 590.25h1.5m100.5 0h1.5m172.5 0h1.5m76.5 0h1.5m207 0h3m145.5 0h3m100.5 0h1.5M552.5 591.75h1.5m399 0h1.5m231 0h1.5m81 0h1.5M461 593.25h1.5m6 0h1.5m328.5 0h1.5m1.5 0h1.5m334.5 0h1.5m9 0h1.5m82.5 0h1.5M792.5 594.75h3m1.5 0h1.5m187.5 0h1.5m159 0h1.5m81 0h1.5M623 596.25h1.5m357 0h1.5m111 0h1.5m70.5 0h1.5m43.5 0h1.5m1.5 0h6m1.5 0h1.5M558.5 597.75h1.5m237 0h1.5m160.5 0h1.5m196.5 0h1.5M633.5 599.25h1.5m105 0h1.5m67.5 0h1.5m151.5 0h3m33 0h1.5m112.5 0h1.5m100.5 0h1.5M539 600.75h1.5m7.5 0h1.5m243 0h1.5m346.5 0h1.5m15 0h1.5m43.5 0h1.5m28.5 0h1.5M1101.5 602.25h1.5m30 0h1.5m88.5 0h1.5m4.5 0h1.5M465.5 603.75h1.5m96 0h1.5m567 0h1.5m55.5 0h1.5m4.5 0h1.5m6 0h1.5m1.5 0h3m28.5 0h1.5M539 605.25h1.5m186 0h1.5m3 0h1.5m462 0h1.5M792.5 606.75h1.5m316.5 0h1.5M774.5 608.25h1.5m18 0h1.5M704 611.25h1.5m87 0h1.5m1.5 0h1.5M654.5 612.75h1.5M461 614.25h1.5m151.5 0h1.5m97.5 0h1.5M417.5 615.75h1.5m375 0h1.5m214.5 0h1.5M719 617.25h1.5m300 0h1.5M632 618.75h1.5m135 0h1.5m237 0h1.5M657.5 620.25h1.5m138 0h1.5m229.5 0h1.5M423.5 621.75h1.5m280.5 0h1.5m295.5 0h1.5m10.5 0h1.5m12 0h1.5M582.5 623.25h1.5m208.5 0h1.5M723.5 624.75h1.5m1.5 0h1.5m42 0h1.5M726.5 626.25h1.5m57 0h1.5m214.5 0h1.5M726.5 627.75h1.5m34.5 0h1.5m244.5 0h1.5m1.5 0h1.5M579.5 629.25h1.5m435 0h1.5m3 0h1.5m51 0h1.5M696.5 630.75h1.5m63 0h1.5m240 0h1.5m69 0h1.5m1.5 0h1.5M740 632.25h1.5m3 0h1.5m36 0h1.5m114 0h1.5m103.5 0h1.5m69 0h1.5m3 0h1.5M741.5 633.75h1.5m34.5 0h3m223.5 0h1.5m69 0h1.5m3 0h1.5M726.5 635.25h1.5m13.5 0h1.5m133.5 0h1.5m28.5 0h1.5m97.5 0h1.5m4.5 0h1.5M479 636.75h1.5m250.5 0h1.5m54 0h3m109.5 0h1.5m349.5 0h1.5M663.5 638.25h1.5m231 0h1.5m13.5 0h1.5m84 0h3m21 0h3m42 0h1.5m16.5 0h3m168 0h1.5M732.5 639.75h3m352.5 0h1.5M617 641.25h1.5m145.5 0h1.5m147 0h1.5m25.5 0h1.5m24 0h1.5m31.5 0h1.5m85.5 0h1.5M749 642.75h1.5m12 0h1.5m105 0h1.5m60 0h1.5m295.5 0h1.5m30 0h1.5M873.5 644.25h1.5m136.5 0h1.5m22.5 0h1.5m43.5 0h1.5m124.5 0h1.5M750.5 645.75h1.5m21 0h1.5m94.5 0h1.5m96 0h3m39 0h1.5m28.5 0h3m1.5 0h3m43.5 0h1.5m10.5 0h3m150 0h1.5M479 647.25h1.5m184.5 0h1.5m52.5 0h1.5m21 0h1.5m3 0h1.5m22.5 0h1.5m135 0h1.5m7.5 0h1.5m36 0h1.5m84 0h1.5m160.5 0h1.5m7.5 0h1.5m1.5 0h1.5m39 0h1.5M708.5 648.75h1.5m48 0h1.5m135 0h1.5m10.5 0h1.5m45 0h1.5m49.5 0h1.5m21 0h3m48 0h1.5m18 0h1.5m121.5 0h1.5M878 650.25h1.5m34.5 0h1.5m54 0h1.5m54 0h1.5m187.5 0h6M639.5 651.75h1.5m217.5 0h1.5m67.5 0h1.5m51 0h1.5m19.5 0h1.5m7.5 0h1.5m4.5 0h1.5m30 0h1.5m52.5 0h1.5m97.5 0h1.5m7.5 0h1.5m1.5 0h1.5m3 0h1.5M468.5 653.25h1.5m388.5 0h1.5m31.5 0h1.5m108 0h1.5m42 0h1.5m7.5 0h1.5m3 0h3m7.5 0h1.5m18 0h1.5M632 654.75h1.5m111 0h1.5m112.5 0h1.5m57 0h4.5m36 0h4.5m84 0h1.5M707 656.25h1.5m51 0h1.5m99 0h1.5m67.5 0h1.5m1.5 0h1.5m16.5 0h1.5m79.5 0h1.5m49.5 0h1.5m22.5 0h1.5M909.5 657.75h1.5m40.5 0h3m36 0h1.5m87 0h1.5m6 0h1.5m111 0h1.5M740 659.25h1.5m190.5 0h4.5m51 0h1.5m51 0h1.5m6 0h1.5m54 0h1.5m91.5 0h1.5M917 660.75h1.5m10.5 0h1.5m13.5 0h1.5m3 0h1.5m1.5 0h1.5m87 0h1.5m154.5 0h1.5m39 0h1.5M498.5 662.25h1.5m448.5 0h6m84 0h1.5m75 0h1.5M867.5 663.75h1.5m6 0h1.5m3 0h1.5m67.5 0h3m177 0h1.5m3 0h1.5m3 0h1.5m19.5 0h1.5m1.5 0h3m28.5 0h1.5M872 665.25h1.5m52.5 0h1.5m3 0h3m3 0h3m7.5 0h1.5m4.5 0h1.5m213 0h1.5M927.5 666.75h3m4.5 0h1.5m12 0h1.5m3 0h1.5m277.5 0h1.5M927.5 668.25h1.5M851 671.25h1.5M863 672.75h1.5m175.5 0h1.5m3 0h3m144 0h1.5M663.5 674.25h1.5m558 0h1.5M741.5 675.75h1.5m301.5 0h1.5m129 0h1.5m19.5 0h1.5M1058 677.25h1.5m159 0h1.5M852.5 678.75h1.5m360 0h1.5M743 680.25h1.5m99 0h3m363 0h1.5m1.5 0h1.5M753.5 681.75h1.5m90 0h1.5m3 0h1.5m295.5 0h1.5M1190 683.25h1.5m3 0h1.5M726.5 684.75h1.5m34.5 0h1.5m72 0h1.5m7.5 0h1.5m210 0h1.5m6 0h1.5m12 0h1.5m1.5 0h1.5m78 0h1.5m43.5 0h1.5M726.5 686.25h1.5m111 0h1.5m327 0h1.5m31.5 0h1.5M1166 687.75h1.5M834.5 689.25h1.5m249 0h1.5m9 0h3m96 0h1.5M1085 690.75h1.5m18 0h1.5M1178 692.25h1.5M1112 693.75h1.5m3 0h1.5m33 0h1.5m19.5 0h4.5m16.5 0h1.5M1127 695.25h1.5M1128.5 696.75h1.5m7.5 0h1.5m19.5 0h1.5M1157 698.25h1.5M1131.5 699.75h1.5M831.5 711.75h1.5M825.5 713.25h1.5M1035.5 726.75h1.5M948.5 728.25h1.5M1013 729.75h1.5m3 0h1.5m4.5 0h3m4.5 0h3m187.5 0h1.5M941 732.75h1.5m25.5 0h1.5M773 734.25h1.5m190.5 0h1.5m6 0h1.5m40.5 0h1.5m1.5 0h1.5m16.5 0h3M941 735.75h1.5m16.5 0h1.5m15 0h1.5m18 0h1.5M1007 737.25h1.5m1.5 0h1.5m7.5 0h1.5m3 0h1.5M941 738.75h1.5m105 0h1.5M965 740.25h1.5m15 0h1.5m63 0h1.5m178.5 0h1.5M984.5 741.75h1.5M1050.5 743.25h1.5M1050.5 744.75h1.5m163.5 0h1.5M1014.5 746.25h1.5m213 0h1.5M1014.5 747.75h1.5m34.5 0h1.5M1016 749.25h1.5m3 0h1.5m28.5 0h1.5M1020.5 750.75h3m27 0h1.5M1052 752.25h1.5M1032.5 753.75h3m6 0h1.5m4.5 0h1.5m4.5 0h1.5m142.5 0h1.5m7.5 0h1.5M759.5 756.75h1.5m268.5 0h1.5m190.5 0h1.5M1227.5 761.25h1.5M1199 765.75h4.5m15 0h3M1215.5 768.75h1.5M1208 771.75h1.5M1205 773.25h1.5M1235 815.25h1.5M1250 816.75h1.5M1238 819.75h1.5M1241 822.75h1.5M1239.5 827.25h1.5m1.5 0h1.5M1241 828.75h1.5M1242.5 830.25h1.5M1242.5 831.75h1.5M1241 848.25h1.5"/>
<path stroke="#f9e300" d="M419 237.75h1.5M449 246.75h1.5M479 251.25h1.5M483.5 254.25h1.5M366.5 257.25h1.5m103.5 0h1.5M341 261.75h1.5M479 266.25h1.5M491 267.75h1.5M342.5 270.75h1.5M470 273.75h1.5M473 275.25h1.5m6 0h1.5M327.5 278.25h1.5M443 282.75h1.5m60 0h1.5M411.5 285.75h1.5M405.5 287.25h1.5M387.5 294.75h1.5m19.5 0h1.5M336.5 296.25h1.5M402.5 309.75h1.5M395 311.25h1.5M383 312.75h1.5m111 0h1.5M344 314.25h1.5M348.5 318.75h1.5M342.5 321.75h1.5M344 323.25h1.5m139.5 0h1.5M468.5 327.75h1.5M371 330.75h1.5M390.5 332.25h1.5M372.5 333.75h1.5m103.5 0h1.5M347 335.25h1.5m13.5 0h1.5m15 0h1.5m61.5 0h1.5m28.5 0h1.5M371 336.75h1.5m112.5 0h1.5M330.5 339.75h1.5M326 341.25h1.5m46.5 0h1.5M335 342.75h1.5M333.5 350.25h1.5M447.5 359.25h1.5M341 362.25h1.5M336.5 365.25h1.5M327.5 369.75h1.5M329 381.75h1.5M344 383.25h1.5M356 384.75h1.5M341 387.75h1.5M354.5 393.75h1.5M338 396.75h1.5M354.5 399.75h1.5M332 408.75h1.5M383 410.25h1.5M344 411.75h1.5M1086.5 414.75h1.5m1.5 0h1.5M339.5 416.25h1.5M1086.5 417.75h3M420.5 419.25h1.5m664.5 0h1.5M393.5 420.75h1.5M1088 422.25h1.5M354.5 423.75h1.5m34.5 0h3M1083.5 425.25h1.5M1085 426.75h1.5M365 429.75h1.5m175.5 0h1.5M414.5 431.25h1.5m37.5 0h1.5m9 0h1.5m615 0h1.5M348.5 432.75h1.5m16.5 0h1.5M360.5 434.25h1.5m13.5 0h1.5m205.5 0h1.5M539 435.75h1.5m37.5 0h1.5m1.5 0h1.5M416 437.25h1.5m159 0h1.5M350 438.75h1.5M462.5 440.25h1.5m4.5 0h1.5m102 0h1.5m807 0h1.5M330.5 441.75h1.5m25.5 0h1.5m175.5 0h1.5M549.5 443.25h1.5m826.5 0h1.5M327.5 444.75h1.5m840 0h3M386 446.25h1.5m778.5 0h1.5M357.5 447.75h1.5m175.5 0h1.5m21 0h4.5m18 0h1.5m583.5 0h1.5M566 449.25h1.5M546.5 450.75h1.5m18 0h1.5M564.5 452.25h1.5m804 0h1.5M552.5 453.75h1.5m15 0h1.5m73.5 0h1.5M353 455.25h1.5m9 0h1.5m183 0h1.5m6 0h1.5m1.5 0h1.5m1.5 0h1.5m1.5 0h1.5M548 456.75h1.5m3 0h1.5m91.5 0h1.5m601.5 0h1.5m112.5 0h1.5m1.5 0h3M389 458.25h1.5m166.5 0h1.5m6 0h3m3 0h1.5m3 0h1.5m667.5 0h1.5m70.5 0h1.5m45 0h1.5m1.5 0h1.5M363.5 459.75h1.5m85.5 0h1.5m112.5 0h1.5m676.5 0h1.5m112.5 0h1.5m6 0h1.5M560 461.25h1.5m759 0h1.5M363.5 464.25h1.5m186 0h1.5m7.5 0h1.5m745.5 0h1.5m4.5 0h1.5m58.5 0h1.5M452 465.75h1.5m103.5 0h1.5m16.5 0h1.5m4.5 0h1.5m67.5 0h1.5m478.5 0h1.5m121.5 0h1.5m58.5 0h1.5m61.5 0h1.5M546.5 467.25h1.5m33 0h1.5m555 0h3m6 0h1.5m103.5 0h1.5m3 0h1.5m54 0h1.5m15 0h1.5m12 0h1.5M561.5 468.75h1.5m577.5 0h1.5m1.5 0h1.5m99 0h1.5m3 0h1.5m73.5 0h1.5m13.5 0h1.5m36 0h1.5M450.5 470.25h1.5m118.5 0h1.5m7.5 0h1.5m547.5 0h1.5m120 0h1.5m49.5 0h1.5m48 0h1.5m1.5 0h1.5M434 471.75h1.5m15 0h1.5m115.5 0h3m571.5 0h1.5m3 0h1.5m154.5 0h3m69 0h1.5M366.5 473.25h1.5m195 0h1.5m9 0h1.5m6 0h1.5m46.5 0h1.5m505.5 0h3m12 0h1.5m6 0h1.5m165 0h1.5m15 0h3M566 474.75h1.5m7.5 0h1.5m4.5 0h1.5m82.5 0h1.5m465 0h1.5m109.5 0h1.5m72 0h1.5m46.5 0h1.5m9 0h3M366.5 476.25h1.5m763.5 0h1.5m3 0h3m22.5 0h1.5m7.5 0h3m63 0h1.5m88.5 0h1.5m4.5 0h1.5m3 0h1.5m25.5 0h1.5M357.5 477.75h1.5m196.5 0h1.5m21 0h1.5m550.5 0h1.5m3 0h1.5m90 0h1.5m28.5 0h1.5M1119.5 479.25h1.5m3 0h1.5m1.5 0h1.5m6 0h1.5m43.5 0h1.5m19.5 0h1.5m172.5 0h1.5M374 480.75h1.5m745.5 0h3m3 0h1.5m6 0h1.5m9 0h1.5m18 0h1.5m19.5 0h1.5m4.5 0h1.5m37.5 0h3m1.5 0h1.5m21 0h1.5m97.5 0h1.5M1139 482.25h1.5m27 0h1.5m24 0h1.5m160.5 0h3m13.5 0h1.5M414.5 483.75h1.5m702 0h3m36 0h1.5m63 0h1.5m1.5 0h1.5m34.5 0h3m91.5 0h1.5M339.5 485.25h1.5m6 0h1.5m1.5 0h1.5m789 0h1.5m28.5 0h1.5m6 0h1.5m9 0h1.5m18 0h1.5m7.5 0h1.5m4.5 0h1.5M1157 486.75h1.5m12 0h1.5M338 488.25h1.5m868.5 0h1.5M365 489.75h1.5m36 0h1.5m762 0h1.5m1.5 0h1.5m198 0h1.5m1.5 0h1.5M366.5 491.25h1.5m3 0h1.5m240 0h3M347 492.75h1.5m69 0h1.5m198 0h1.5m651 0h1.5M348.5 494.25h1.5m931.5 0h1.5M1280 495.75h1.5M345.5 497.25h1.5m18 0h1.5m52.5 0h1.5m856.5 0h4.5M375.5 498.75h1.5m42 0h1.5M372.5 500.25h1.5m226.5 0h1.5M372.5 501.75h3m39 0h1.5m12 0h1.5m862.5 0h1.5M369.5 503.25h1.5m3 0h4.5m31.5 0h1.5M374 504.75h3m7.5 0h1.5M374 506.25h3m1.5 0h1.5M548 507.75h1.5m480 0h1.5M590 509.25h1.5m693 0h6M377 510.75h1.5m55.5 0h1.5m4.5 0h1.5m586.5 0h1.5M1038.5 513.75h1.5m235.5 0h1.5m3 0h1.5M377 515.25h1.5m186 0h1.5m472.5 0h1.5M372.5 516.75h1.5m3 0h3m73.5 0h1.5m132 0h1.5m396 0h1.5m288 0h1.5M375.5 518.25h1.5m12 0h1.5m594 0h3M375.5 519.75h3m121.5 0h1.5m64.5 0h1.5m703.5 0h1.5M449 521.25h1.5m817.5 0h1.5M375.5 522.75h1.5m208.5 0h1.5M461 524.25h1.5m147 0h1.5m27 0h1.5M380 525.75h1.5m51 0h1.5m201 0h1.5m633 0h1.5M380 527.25h1.5m216 0h1.5m274.5 0h1.5m393 0h1.5m33 0h3M380 528.75h3m882 0h3M381.5 530.25h1.5m3 0h1.5m493.5 0h1.5m387 0h1.5m40.5 0h1.5M365 531.75h1.5m15 0h1.5m208.5 0h1.5m288 0h1.5m177 0h3m240 0h3m6 0h3M449 533.25h1.5m414 0h1.5m63 0h1.5m129 0h1.5m204 0h1.5m33 0h1.5m10.5 0h1.5M387.5 534.75h1.5m1.5 0h1.5m472.5 0h1.5m63 0h1.5m334.5 0h1.5M366.5 536.25h1.5m259.5 0h1.5m231 0h1.5m18 0h3m1.5 0h1.5m420 0h1.5M383 537.75h3m31.5 0h3m85.5 0h1.5m436.5 0h1.5m3 0h3m357 0h1.5M392 539.25h1.5m1.5 0h1.5m216 0h1.5m256.5 0h1.5m1.5 0h1.5m1.5 0h4.5m13.5 0h1.5m1.5 0h1.5m28.5 0h1.5m132 0h1.5M863 540.75h1.5m34.5 0h1.5m7.5 0h1.5m18 0h3m370.5 0h1.5M389 542.25h1.5m475.5 0h1.5m55.5 0h1.5m4.5 0h1.5m1.5 0h1.5m30 0h1.5M561.5 543.75h1.5m279 0h1.5m217.5 0h1.5M582.5 545.25h1.5m265.5 0h1.5m12 0h1.5m66 0h1.5m7.5 0h1.5m112.5 0h1.5m21 0h1.5m3 0h1.5m1.5 0h1.5m219 0h1.5m7.5 0h3M392 546.75h1.5m85.5 0h1.5m372 0h1.5m48 0h1.5m3 0h1.5m28.5 0h1.5m142.5 0h1.5m225 0h1.5m7.5 0h1.5M395 548.25h1.5m486 0h1.5m9 0h1.5m15 0h1.5m45 0h1.5m75 0h1.5m19.5 0h1.5m22.5 0h4.5m192 0h1.5m9 0h1.5m34.5 0h1.5M842 549.75h1.5m64.5 0h3m21 0h1.5m22.5 0h1.5m75 0h1.5m43.5 0h3m205.5 0h1.5M836 551.25h1.5m16.5 0h1.5m88.5 0h1.5m33 0h1.5m24 0h1.5m1.5 0h3m15 0h1.5m79.5 0h4.5m163.5 0h3m1.5 0h1.5m6 0h1.5m37.5 0h1.5M1017.5 552.75h3m24 0h1.5m13.5 0h1.5m12 0h1.5m3 0h1.5m133.5 0h1.5m61.5 0h1.5m30 0h1.5m24 0h1.5M390.5 554.25h1.5m606 0h1.5m13.5 0h1.5m28.5 0h1.5m6 0h1.5m6 0h3m154.5 0h1.5m63 0h1.5m9 0h1.5m1.5 0h3m7.5 0h1.5m1.5 0h1.5m18 0h1.5m1.5 0h1.5M638 555.75h1.5m193.5 0h1.5m163.5 0h1.5m22.5 0h1.5m33 0h1.5m3 0h1.5m37.5 0h1.5m15 0h1.5m73.5 0h3m105 0h1.5m6 0h1.5M846.5 557.25h1.5m10.5 0h1.5m85.5 0h1.5m79.5 0h1.5m36 0h1.5m10.5 0h1.5m34.5 0h1.5m18 0h1.5m69 0h1.5m109.5 0h1.5m16.5 0h1.5M626 558.75h1.5m232.5 0h1.5m193.5 0h1.5m33 0h3m4.5 0h1.5m27 0h1.5m67.5 0h1.5m6 0h1.5m10.5 0h1.5m88.5 0h3M626 560.25h1.5m231 0h3m85.5 0h1.5m54 0h1.5m3 0h1.5m13.5 0h3m31.5 0h1.5m127.5 0h1.5m1.5 0h3m25.5 0h1.5M624.5 561.75h1.5m18 0h1.5m211.5 0h1.5m144 0h1.5m1.5 0h1.5m181.5 0h1.5m112.5 0h1.5m6 0h3M855.5 563.25h1.5m121.5 0h1.5m15 0h1.5m13.5 0h1.5m78 0h1.5m37.5 0h1.5m96 0h1.5m69 0h6m4.5 0h1.5m3 0h1.5M396.5 564.75h1.5m454.5 0h1.5m97.5 0h1.5m24 0h1.5m3 0h1.5m10.5 0h1.5m132 0h1.5m150 0h3m21 0h1.5m4.5 0h1.5M935 566.25h1.5m22.5 0h1.5m1.5 0h1.5m27 0h1.5m4.5 0h1.5m87 0h1.5m39 0h1.5m96 0h1.5m61.5 0h1.5M830 567.75h1.5m253.5 0h1.5m34.5 0h3m90 0h1.5m69 0h1.5M389 569.25h1.5m243 0h1.5m307.5 0h1.5m184.5 0h1.5m126 0h1.5M632 570.75h1.5m190.5 0h1.5m3 0h1.5m129 0h1.5m10.5 0h1.5m4.5 0h1.5m16.5 0h1.5m84 0h1.5m21 0h1.5m3 0h1.5m16.5 0h3m121.5 0h1.5m3 0h3m19.5 0h1.5m7.5 0h1.5M594.5 572.25h1.5m232.5 0h1.5m136.5 0h1.5m16.5 0h3m1.5 0h3m6 0h1.5m126 0h1.5m147 0h3m7.5 0h1.5m16.5 0h1.5m16.5 0h1.5M618.5 573.75h1.5m13.5 0h1.5m183 0h1.5m129 0h1.5m9 0h6m1.5 0h1.5m6 0h1.5m25.5 0h1.5m79.5 0h1.5m49.5 0h1.5m118.5 0h1.5m7.5 0h1.5m13.5 0h1.5m1.5 0h1.5m7.5 0h1.5m30 0h1.5M396.5 575.25h1.5m409.5 0h1.5m6 0h3m4.5 0h1.5m6 0h1.5m121.5 0h1.5m7.5 0h1.5m126 0h1.5m87 0h1.5m9 0h3m72 0h1.5m15 0h1.5m4.5 0h1.5m4.5 0h1.5M566 576.75h1.5m159 0h3m82.5 0h1.5m1.5 0h1.5m120 0h1.5m19.5 0h3m15 0h1.5m27 0h1.5m84 0h1.5m163.5 0h1.5m9 0h1.5m9 0h1.5m15 0h1.5m12 0h1.5M797 578.25h1.5m138 0h1.5m24 0h3m7.5 0h1.5m1.5 0h1.5m34.5 0h1.5m70.5 0h1.5m88.5 0h1.5m15 0h1.5m79.5 0h3m1.5 0h1.5m25.5 0h3m9 0h1.5M608 579.75h1.5m76.5 0h1.5m33 0h1.5m6 0h1.5m84 0h1.5m19.5 0h1.5m6 0h1.5m120 0h1.5m7.5 0h3m27 0h1.5m9 0h1.5m120 0h3m48 0h3m1.5 0h1.5m81 0h1.5m1.5 0h1.5m4.5 0h1.5M747.5 581.25h1.5m43.5 0h1.5m12 0h1.5m33 0h1.5m124.5 0h1.5m43.5 0h1.5m73.5 0h1.5m48 0h3m18 0h1.5m37.5 0h3m46.5 0h1.5m36 0h1.5M606.5 582.75h1.5m147 0h1.5m205.5 0h1.5m37.5 0h1.5m4.5 0h1.5m79.5 0h1.5m15 0h1.5m30 0h1.5m1.5 0h1.5m16.5 0h1.5m33 0h1.5m1.5 0h1.5m49.5 0h1.5M606.5 584.25h1.5m177 0h1.5m33 0h1.5m184.5 0h3m6 0h3m69 0h1.5m84 0h1.5m57 0h3m30 0h1.5m15 0h1.5M729.5 585.75h1.5m52.5 0h1.5m222 0h1.5m6 0h1.5m120 0h1.5m39 0h1.5m3 0h1.5m43.5 0h1.5m4.5 0h1.5m31.5 0h1.5m16.5 0h1.5M591.5 587.25h1.5m3 0h1.5m181.5 0h1.5m3 0h1.5m31.5 0h1.5m181.5 0h1.5m15 0h1.5m72 0h1.5m87 0h1.5m39 0h1.5m7.5 0h1.5m31.5 0h3m13.5 0h4.5M1134.5 588.75h1.5m16.5 0h1.5m67.5 0h1.5m42 0h1.5M737 590.25h1.5m274.5 0h1.5m130.5 0h1.5m6 0h1.5m3 0h1.5m28.5 0h1.5m51 0h1.5m27 0h1.5m6 0h1.5M806 591.75h1.5m333 0h4.5m1.5 0h4.5m4.5 0h1.5m9 0h1.5m9 0h1.5m36 0h1.5m13.5 0h1.5m39 0h1.5m4.5 0h1.5M803 593.25h3m148.5 0h1.5m43.5 0h3m156 0h1.5m1.5 0h1.5m4.5 0h1.5M519.5 594.75h1.5m40.5 0h1.5m147 0h1.5m93 0h1.5m178.5 0h1.5m228 0h1.5M630.5 596.25h1.5m165 0h1.5m3 0h1.5m6 0h1.5m147 0h1.5m10.5 0h1.5m12 0h1.5m111 0h1.5m40.5 0h3m24 0h1.5m57 0h1.5M792.5 597.75h1.5m172.5 0h1.5m16.5 0h1.5m3 0h3m142.5 0h1.5m15 0h1.5m58.5 0h1.5m12 0h1.5M465.5 599.25h1.5m304.5 0h1.5m21 0h1.5m315 0h1.5m33 0h1.5m66 0h1.5m3 0h1.5M462.5 600.75h1.5m151.5 0h1.5m121.5 0h1.5m382.5 0h3m12 0h1.5m64.5 0h1.5m9 0h1.5M470 602.25h1.5m132 0h1.5m193.5 0h1.5m331.5 0h1.5m1.5 0h1.5m49.5 0h1.5m25.5 0h1.5m16.5 0h1.5M461 603.75h1.5m130.5 0h1.5m91.5 0h1.5m57 0h1.5m49.5 0h1.5m7.5 0h1.5m304.5 0h1.5m84 0h1.5m24 0h3m6 0h1.5M548 605.25h1.5m54 0h1.5m513 0h1.5m10.5 0h1.5m64.5 0h1.5M626 606.75h1.5m3 0h1.5M771.5 608.25h1.5m19.5 0h1.5m4.5 0h1.5M647 609.75h1.5M653 611.25h1.5m48 0h1.5m504 0h1.5M611 612.75h1.5m180 0h1.5M471.5 614.25h1.5m102 0h1.5m163.5 0h1.5m51 0h1.5m216 0h1.5M578 617.25h1.5m147 0h1.5M741.5 618.75h1.5m55.5 0h1.5M630.5 620.25h1.5m169.5 0h1.5m199.5 0h1.5m10.5 0h1.5m3 0h1.5M795.5 621.75h1.5m3 0h1.5M465.5 623.25h1.5m198 0h1.5m60 0h1.5m34.5 0h1.5m235.5 0h1.5m12 0h1.5m13.5 0h1.5M762.5 624.75h1.5m4.5 0h1.5m21 0h1.5m235.5 0h1.5M723.5 626.25h1.5m10.5 0h1.5m25.5 0h1.5m31.5 0h1.5m207 0h1.5m7.5 0h1.5m6 0h1.5M474.5 627.75h1.5m177 0h1.5m18 0h3m18 0h1.5m303 0h1.5m1.5 0h1.5m25.5 0h1.5M729.5 629.25h3m271.5 0h1.5m70.5 0h1.5M474.5 630.75h1.5m219 0h1.5m67.5 0h1.5m243 0h1.5m6 0h1.5m3 0h1.5m1.5 0h1.5m60 0h1.5M695 632.25h1.5m28.5 0h1.5m39 0h1.5m16.5 0h1.5m115.5 0h1.5m114 0h1.5m61.5 0h1.5m4.5 0h1.5M681.5 633.75h1.5m42 0h1.5m172.5 0h1.5m6 0h1.5m93 0h1.5m7.5 0h1.5m4.5 0h1.5M728 635.25h1.5m3 0h1.5m139.5 0h1.5m153 0h1.5M732.5 636.75h1.5m7.5 0h1.5m163.5 0h1.5m85.5 0h1.5m36 0h1.5m54 0h1.5M606.5 638.25h1.5m60 0h1.5m199.5 0h1.5m6 0h3m13.5 0h1.5m10.5 0h1.5M621.5 639.75h1.5m108 0h1.5m16.5 0h1.5m15 0h3m123 0h1.5m18 0h1.5m19.5 0h1.5m22.5 0h1.5m132 0h1.5M738.5 641.25h1.5m7.5 0h1.5m120 0h1.5m9 0h3m55.5 0h1.5m22.5 0h1.5m36 0h3m63 0h1.5m19.5 0h1.5m1.5 0h1.5M873.5 642.75h1.5m28.5 0h3m28.5 0h1.5m52.5 0h1.5m7.5 0h1.5m22.5 0h1.5m205.5 0h1.5m19.5 0h1.5m4.5 0h1.5M483.5 644.25h1.5m270 0h1.5m162 0h1.5m16.5 0h1.5m69 0h4.5m3 0h4.5m3 0h1.5m220.5 0h3m12 0h1.5M719 645.75h1.5m180 0h1.5m15 0h1.5m24 0h1.5m19.5 0h1.5m42 0h1.5m10.5 0h1.5m70.5 0h1.5m115.5 0h1.5m46.5 0h1.5M677 647.25h1.5m61.5 0h1.5m163.5 0h1.5m1.5 0h1.5m1.5 0h1.5m46.5 0h1.5m76.5 0h1.5m1.5 0h1.5m4.5 0h1.5m30 0h3m13.5 0h1.5m115.5 0h1.5M581 648.75h1.5m106.5 0h1.5m55.5 0h1.5m148.5 0h1.5m7.5 0h1.5m1.5 0h1.5m73.5 0h1.5m21 0h1.5m16.5 0h1.5m69 0h3m103.5 0h1.5M467 650.25h1.5m283.5 0h1.5m123 0h1.5m90 0h1.5m10.5 0h1.5m96 0h1.5m7.5 0h3M725 651.75h1.5m22.5 0h1.5m120 0h1.5m4.5 0h3m12 0h1.5m19.5 0h1.5m54 0h1.5m9 0h1.5m39 0h1.5m16.5 0h1.5m39 0h3m6 0h1.5m130.5 0h3M957.5 653.25h1.5m19.5 0h3m30 0h1.5m24 0h1.5m16.5 0h3m21 0h1.5m9 0h1.5m10.5 0h1.5m15 0h1.5m145.5 0h1.5M669.5 654.75h3m31.5 0h1.5m184.5 0h1.5m24 0h1.5m25.5 0h1.5m25.5 0h1.5m21 0h1.5m57 0h1.5m1.5 0h1.5M576.5 656.25h1.5m91.5 0h1.5m247.5 0h1.5m10.5 0h1.5m145.5 0h1.5m126 0h3M581 657.75h1.5m85.5 0h1.5m72 0h1.5m145.5 0h1.5m25.5 0h1.5m3 0h1.5m10.5 0h1.5m48 0h3m48 0h1.5m46.5 0h1.5m7.5 0h1.5m10.5 0h1.5m1.5 0h1.5M869 659.25h1.5m46.5 0h1.5m1.5 0h1.5m22.5 0h1.5m103.5 0h1.5m54 0h1.5m3 0h1.5m87 0h1.5m46.5 0h1.5M755 660.75h1.5m112.5 0h1.5m15 0h1.5m66 0h1.5m79.5 0h1.5m7.5 0h1.5m3 0h1.5m58.5 0h4.5m4.5 0h1.5m60 0h1.5m66 0h1.5M686 662.25h1.5m187.5 0h1.5m159 0h1.5m6 0h1.5m69 0h1.5m16.5 0h4.5m97.5 0h1.5M873.5 663.75h1.5m64.5 0h1.5m169.5 0h1.5m1.5 0h1.5m12 0h1.5m3 0h1.5m118.5 0h1.5M948.5 665.25h1.5m118.5 0h3m10.5 0h1.5m111 0h1.5M660.5 666.75h1.5m64.5 0h1.5m457.5 0h1.5m9 0h1.5M726.5 668.25h1.5m1.5 0h1.5m436.5 0h1.5m13.5 0h1.5M1107.5 669.75h1.5M662 671.25h1.5m45 0h1.5m27 0h1.5m111 0h1.5m1.5 0h1.5m6 0h1.5m183 0h3m129 0h1.5m15 0h1.5m25.5 0h3M689 672.75h1.5m58.5 0h1.5m19.5 0h3m81 0h1.5m1.5 0h1.5m334.5 0h1.5m12 0h3m12 0h1.5M749 674.25h1.5m106.5 0h1.5m180 0h1.5m19.5 0h3m111 0h3m48 0h3M728 675.75h1.5m330 0h1.5m112.5 0h1.5m19.5 0h1.5M855.5 677.25h3m297 0h1.5M1049 678.75h1.5m105 0h1.5m60 0h1.5M611 680.25h1.5m75 0h1.5m160.5 0h4.5m247.5 0h1.5M609.5 681.75h1.5m141 0h1.5m18 0h1.5m67.5 0h4.5m1.5 0h1.5m202.5 0h1.5m105 0h1.5M702.5 683.25h1.5m141 0h1.5m213 0h1.5m28.5 0h1.5m48 0h1.5M687.5 684.75h1.5m150 0h1.5m3 0h1.5m267 0h1.5m25.5 0h1.5m49.5 0h1.5m3 0h1.5M702.5 686.25h1.5m18 0h1.5m114 0h1.5m226.5 0h3m12 0h1.5m120 0h1.5M1094 687.75h1.5m103.5 0h1.5M837.5 689.25h1.5m247.5 0h4.5m7.5 0h1.5m4.5 0h1.5M1101.5 690.75h1.5m6 0h1.5M1110.5 692.25h1.5m4.5 0h1.5M719 693.75h1.5m364.5 0h1.5M603.5 695.25h1.5m486 0h1.5m36 0h1.5M1130 696.75h1.5m24 0h1.5M716 704.25h1.5M830 713.25h1.5M1014.5 726.75h3m204 0h1.5M749 728.25h1.5M1026.5 729.75h1.5M947 731.25h1.5m6 0h1.5m15 0h1.5M774.5 732.75h1.5m244.5 0h1.5m15 0h1.5M941 734.25h1.5m82.5 0h3M996.5 735.75h1.5m48 0h1.5M941 737.25h1.5m19.5 0h1.5m12 0h1.5m31.5 0h1.5M930.5 738.75h1.5m46.5 0h1.5m43.5 0h1.5m15 0h1.5m178.5 0h1.5M1038.5 740.25h1.5m9 0h1.5M1226 741.75h1.5M1041.5 743.25h1.5m4.5 0h1.5m168 0h1.5M1022 744.75h1.5m25.5 0h1.5m166.5 0h1.5m6 0h1.5M1019 746.25h1.5m3 0h1.5m24 0h1.5m162 0h1.5M1049 747.75h1.5M1040 749.25h1.5m169.5 0h1.5M1038.5 750.75h3M1017.5 752.25h3m12 0h3m12 0h1.5m157.5 0h1.5M1019 753.75h1.5m15 0h1.5m1.5 0h1.5m12 0h1.5M1217 756.75h3m3 0h1.5m3 0h1.5M1227.5 758.25h1.5M762.5 762.75h1.5m442.5 0h1.5m3 0h1.5M1200.5 764.25h1.5M1199 767.25h1.5m12 0h1.5m1.5 0h1.5M1203.5 770.25h1.5m3 0h1.5M1205 771.75h3M1202 773.25h1.5m3 0h1.5M1197.5 774.75h4.5M1244 815.25h1.5M1245.5 821.25h1.5m3 0h1.5M1248.5 822.75h1.5M1247 824.25h1.5M1241 830.25h1.5"/>
<path stroke="#f0aa00" d="M368 236.25h1.5M387.5 237.75h1.5m27 0h1.5M366.5 239.25h1.5m51 0h1.5m60 0h1.5M404 240.75h1.5m12 0h1.5M389 242.25h1.5m13.5 0h1.5M369.5 243.75h1.5m18 0h1.5m90 0h1.5M416 245.25h1.5m58.5 0h1.5M363.5 246.75h4.5m48 0h1.5m60 0h1.5M368 248.25h1.5m108 0h1.5M369.5 249.75h1.5m75 0h1.5M371 251.25h1.5m27 0h1.5m46.5 0h1.5m28.5 0h1.5M384.5 252.75h1.5m61.5 0h3m27 0h1.5M360.5 254.25h1.5m24 0h1.5m81 0h3m6 0h1.5M378.5 255.75h1.5m73.5 0h3m10.5 0h1.5m4.5 0h3m3 0h1.5m3 0h1.5m1.5 0h1.5M378.5 257.25h3m18 0h1.5m73.5 0h1.5M314 258.75h1.5m67.5 0h1.5M347 260.25h1.5m127.5 0h1.5M381.5 261.75h1.5m76.5 0h1.5m4.5 0h1.5m6 0h3M342.5 263.25h1.5m4.5 0h1.5m40.5 0h1.5m15 0h1.5m49.5 0h1.5m6 0h1.5m13.5 0h1.5M369.5 264.75h1.5m30 0h1.5m55.5 0h3m7.5 0h1.5M369.5 266.25h1.5m6 0h1.5m22.5 0h1.5m57 0h3M327.5 267.75h1.5m42 0h1.5m105 0h1.5M329 269.25h1.5m25.5 0h1.5m18 0h1.5m72 0h1.5M338 270.75h1.5m15 0h1.5m6 0h3m10.5 0h1.5m87 0h1.5M318.5 272.25h1.5m43.5 0h3m52.5 0h1.5m30 0h1.5m15 0h1.5m24 0h1.5M318.5 273.75h1.5m43.5 0h1.5m10.5 0h1.5m94.5 0h1.5m21 0h1.5M327.5 275.25h3m130.5 0h1.5M363.5 276.75h1.5M375.5 278.25h1.5m52.5 0h1.5m34.5 0h3M327.5 279.75h1.5m10.5 0h1.5m90 0h1.5M377 281.25h1.5m66 0h3M330.5 282.75h3m69 0h3m40.5 0h1.5M404 284.25h1.5M330.5 285.75h3m70.5 0h1.5m3 0h3m30 0h3m63 0h1.5M327.5 287.25h3m49.5 0h1.5m19.5 0h1.5m103.5 0h1.5M381.5 288.75h1.5m31.5 0h1.5M383 290.25h1.5m3 0h1.5M405.5 291.75h1.5m36 0h1.5M411.5 293.25h1.5m31.5 0h1.5M371 294.75h1.5m10.5 0h1.5m25.5 0h1.5m33 0h1.5M366.5 296.25h1.5m1.5 0h1.5m16.5 0h1.5M369.5 297.75h1.5m69 0h1.5M369.5 299.25h1.5m96 0h1.5M332 302.25h1.5m19.5 0h1.5M461 305.25h1.5M335 306.75h1.5m60 0h1.5m99 0h3M380 308.25h1.5m16.5 0h1.5m63 0h1.5m27 0h1.5m7.5 0h1.5M398 309.75h1.5m91.5 0h1.5m7.5 0h1.5M425 311.25h1.5m64.5 0h1.5M447.5 312.75h1.5m15 0h1.5m25.5 0h1.5M396.5 314.25h1.5m91.5 0h1.5M428 315.75h1.5m52.5 0h1.5m42 0h1.5M396.5 317.25h1.5m70.5 0h1.5m9 0h1.5M339.5 318.75h3m54 0h1.5m84 0h1.5m7.5 0h1.5M339.5 320.25h1.5m6 0h1.5m3 0h1.5m43.5 0h1.5m1.5 0h1.5m66 0h1.5m10.5 0h1.5m9 0h1.5M339.5 321.75h1.5m19.5 0h1.5m72 0h1.5m45 0h1.5m4.5 0h1.5M339.5 323.25h3m99 0h1.5m45 0h1.5M339.5 324.75h1.5m73.5 0h1.5m30 0h1.5M342.5 326.25h1.5m67.5 0h3m106.5 0h1.5M324.5 327.75h1.5m46.5 0h3m25.5 0h1.5m9 0h3M344 329.25h1.5m16.5 0h1.5m43.5 0h1.5m39 0h1.5M333.5 330.75h1.5m9 0h1.5m4.5 0h1.5m18 0h1.5m7.5 0h1.5m33 0h1.5M333.5 332.25h1.5m9 0h1.5m31.5 0h4.5m46.5 0h3m13.5 0h1.5m27 0h1.5M330.5 333.75h1.5m12 0h1.5m16.5 0h1.5m7.5 0h1.5m7.5 0h3m7.5 0h1.5m15 0h1.5m13.5 0h1.5M330.5 335.25h1.5m9 0h1.5m1.5 0h1.5m43.5 0h3m24 0h1.5m28.5 0h1.5m34.5 0h1.5M330.5 336.75h1.5m6 0h1.5m6 0h1.5m25.5 0h1.5m4.5 0h1.5m36 0h1.5m30 0h1.5m16.5 0h6m10.5 0h1.5M330.5 338.25h1.5m22.5 0h1.5m24 0h1.5m34.5 0h1.5M324.5 339.75h1.5m6 0h1.5m21 0h1.5m24 0h1.5m10.5 0h1.5m42 0h6m27 0h1.5M333.5 341.25h1.5m25.5 0h1.5m10.5 0h1.5M336.5 342.75h1.5m16.5 0h1.5m10.5 0h1.5m58.5 0h1.5m43.5 0h1.5M359 344.25h1.5m81 0h1.5m30 0h1.5M329 345.75h3m1.5 0h1.5m6 0h1.5m9 0h1.5m1.5 0h1.5M362 347.25h1.5m109.5 0h1.5M423.5 348.75h1.5m46.5 0h3m1.5 0h1.5M395 350.25h1.5m28.5 0h1.5m10.5 0h1.5M332 351.75h3m27 0h1.5m33 0h1.5m40.5 0h1.5m21 0h1.5M333.5 353.25h1.5M335 354.75h1.5m15 0h1.5m51 0h3M350 356.25h3M330.5 357.75h1.5m18 0h1.5m10.5 0h1.5m67.5 0h1.5M344 359.25h3m15 0h1.5M351.5 360.75h1.5M338 362.25h1.5m15 0h1.5M357.5 363.75h1.5M329 365.25h3M321.5 366.75h1.5m6 0h1.5m6 0h1.5m10.5 0h1.5m15 0h1.5M321.5 368.25h1.5m3 0h3m9 0h1.5m4.5 0h1.5m10.5 0h1.5M321.5 369.75h1.5m3 0h1.5m39 0h1.5M329 371.25h1.5M329 372.75h1.5M341 374.25h1.5M342.5 377.25h1.5m12 0h1.5m6 0h1.5M357.5 378.75h1.5M357.5 381.75h1.5M318.5 383.25h1.5M318.5 384.75h1.5M338 389.25h1.5M318.5 396.75h1.5m1.5 0h1.5m33 0h1.5M317 398.25h1.5m24 0h1.5M321.5 399.75h1.5M341 402.75h1.5m192 0h3M318.5 404.25h1.5m214.5 0h6M317 405.75h1.5m4.5 0h1.5m7.5 0h3m199.5 0h6M315.5 407.25h1.5m21 0h1.5m4.5 0h1.5m46.5 0h3m139.5 0h3M534.5 408.75h3M348.5 410.25h3m1.5 0h1.5M320 411.75h1.5m16.5 0h1.5m9 0h1.5M381.5 413.25h1.5m6 0h1.5m15 0h3m682.5 0h1.5M330.5 414.75h1.5m22.5 0h1.5m76.5 0h1.5M320 416.25h1.5m4.5 0h1.5m22.5 0h1.5m81 0h1.5m652.5 0h6M320 417.75h1.5m31.5 0h1.5m33 0h1.5m33 0h1.5m666 0h3M1088 419.25h1.5m1.5 0h1.5M350 420.75h1.5m736.5 0h4.5M320 422.25h1.5m1.5 0h1.5m30 0h1.5m28.5 0h1.5M356 423.75h1.5m30 0h3m6 0h1.5M350 425.25h1.5m42 0h1.5M353 426.75h1.5m3 0h1.5m724.5 0h1.5M359 428.25h1.5m33 0h1.5m145.5 0h3m537 0h6M450.5 429.75h3m627 0h1.5m3 0h1.5M377 431.25h1.5m3 0h3m43.5 0h1.5m652.5 0h3M428 432.75h1.5m156 0h1.5M329 434.25h1.5m31.5 0h1.5m10.5 0h1.5m1.5 0h1.5m159 0h3m25.5 0h1.5m4.5 0h1.5m6 0h3M321.5 435.75h1.5m27 0h1.5m7.5 0h3m7.5 0h1.5m6 0h3m36 0h1.5m117 0h4.5m16.5 0h1.5m3 0h1.5m9 0h4.5m1.5 0h1.5M375.5 437.25h1.5m10.5 0h1.5m42 0h1.5m103.5 0h1.5m21 0h1.5m10.5 0h3m4.5 0h1.5M324.5 438.75h1.5m22.5 0h1.5m19.5 0h1.5m90 0h1.5m1.5 0h1.5m70.5 0h1.5m18 0h1.5m15 0h3m1.5 0h3M345.5 440.25h1.5m3 0h1.5m6 0h1.5m52.5 0h1.5m15 0h1.5m24 0h1.5m99 0h1.5m27 0h1.5m798 0h1.5M342.5 441.75h3m9 0h1.5m214.5 0h3m10.5 0h1.5m795 0h1.5m1.5 0h3M327.5 443.25h1.5m6 0h1.5m4.5 0h1.5m9 0h1.5m7.5 0h1.5m91.5 0h1.5m7.5 0h1.5m1.5 0h1.5m102 0h6m7.5 0h1.5m795 0h1.5m4.5 0h1.5M360.5 444.75h1.5m25.5 0h1.5m78 0h1.5m85.5 0h1.5m13.5 0h6M350 446.25h1.5m28.5 0h1.5m30 0h1.5m42 0h1.5m9 0h1.5m10.5 0h3m69 0h1.5m16.5 0h3m9 0h1.5m583.5 0h1.5m205.5 0h4.5M321.5 447.75h1.5m1.5 0h3m84 0h1.5m57 0h1.5m7.5 0h1.5m69 0h3m1.5 0h1.5m6 0h1.5m4.5 0h1.5m802.5 0h6m3 0h1.5M321.5 449.25h1.5m13.5 0h1.5m19.5 0h1.5m120 0h1.5m52.5 0h1.5m15 0h1.5m1.5 0h1.5m7.5 0h3m3 0h1.5m805.5 0h1.5M347 450.75h1.5m3 0h1.5m6 0h3m64.5 0h1.5m22.5 0h1.5m97.5 0h1.5m1.5 0h1.5m7.5 0h1.5M407 452.25h1.5m7.5 0h1.5m51 0h1.5m75 0h1.5m6 0h3m10.5 0h4.5m1.5 0h3m6 0h1.5m60 0h1.5m727.5 0h1.5m4.5 0h3M360.5 453.75h1.5m48 0h1.5m24 0h1.5m18 0h1.5m12 0h1.5m6 0h1.5m66 0h1.5m9 0h4.5m6 0h1.5m6 0h1.5m4.5 0h1.5m3 0h1.5m61.5 0h1.5m721.5 0h1.5m7.5 0h1.5M344 455.25h1.5m3 0h1.5m15 0h1.5m10.5 0h1.5m9 0h1.5m48 0h1.5m28.5 0h1.5m1.5 0h1.5m75 0h1.5m6 0h1.5m4.5 0h1.5m4.5 0h4.5m675 0h3m115.5 0h1.5m10.5 0h1.5M320 456.75h1.5m19.5 0h1.5m46.5 0h1.5m36 0h1.5m12 0h1.5m25.5 0h1.5m75 0h1.5m9 0h1.5m3 0h1.5m3 0h1.5m1.5 0h1.5m1.5 0h1.5m673.5 0h1.5m129 0h1.5M318.5 458.25h3m30 0h4.5m13.5 0h1.5m13.5 0h3m52.5 0h1.5m6 0h1.5m106.5 0h1.5m1.5 0h1.5m7.5 0h1.5m70.5 0h1.5m7.5 0h3m594 0h1.5m70.5 0h3m43.5 0h1.5m1.5 0h1.5M350 459.75h1.5m84 0h1.5m3 0h3m6 0h1.5m96 0h1.5m1.5 0h3m4.5 0h3m7.5 0h1.5m81 0h1.5m592.5 0h4.5m67.5 0h4.5m37.5 0h6m7.5 0h1.5M354.5 461.25h1.5m94.5 0h1.5m1.5 0h1.5m97.5 0h1.5m3 0h1.5m3 0h6m745.5 0h1.5m3 0h1.5m33 0h6m3 0h3m1.5 0h1.5m4.5 0h1.5M356 462.75h1.5m93 0h1.5m12 0h1.5m87 0h4.5m7.5 0h3m58.5 0h1.5m685.5 0h1.5m3 0h1.5m1.5 0h1.5m28.5 0h4.5m4.5 0h3m3 0h1.5m4.5 0h1.5M341 464.25h1.5m12 0h1.5m1.5 0h1.5m1.5 0h1.5m66 0h1.5m21 0h1.5m94.5 0h1.5m1.5 0h1.5m10.5 0h1.5m1.5 0h1.5m3 0h1.5m51 0h1.5m625.5 0h1.5m6 0h1.5m43.5 0h6m10.5 0h1.5m3 0h1.5m42 0h7.5M339.5 465.75h3m13.5 0h1.5m81 0h1.5m10.5 0h1.5m22.5 0h1.5m72 0h1.5m6 0h1.5m1.5 0h4.5m3 0h3m4.5 0h1.5m45 0h1.5m49.5 0h1.5m475.5 0h1.5m99 0h1.5m4.5 0h3m43.5 0h7.5m9 0h1.5m3 0h1.5m3 0h1.5m19.5 0h3m15 0h1.5m3 0h4.5M341 467.25h1.5m15 0h1.5m51 0h1.5m16.5 0h1.5m21 0h1.5m102 0h1.5m3 0h3m9 0h3m3 0h3m555 0h3m10.5 0h1.5m99 0h1.5m49.5 0h3m1.5 0h1.5m4.5 0h1.5m1.5 0h1.5m9 0h1.5m1.5 0h1.5m15 0h4.5m4.5 0h1.5m3 0h3m10.5 0h1.5m4.5 0h1.5M330.5 468.75h1.5m7.5 0h3m16.5 0h1.5m49.5 0h1.5m39 0h1.5m10.5 0h1.5m12 0h1.5m67.5 0h1.5m7.5 0h1.5m1.5 0h1.5m4.5 0h1.5m4.5 0h1.5m1.5 0h3m3 0h1.5m553.5 0h6m6 0h1.5m103.5 0h1.5m48 0h3m1.5 0h1.5m6 0h3m6 0h3m1.5 0h6m9 0h1.5m7.5 0h4.5m1.5 0h4.5m6 0h1.5m1.5 0h3m3 0h1.5M360.5 470.25h1.5m67.5 0h1.5m21 0h1.5m99 0h1.5m19.5 0h1.5m3 0h1.5m3 0h1.5m34.5 0h1.5m51 0h1.5m3 0h3m451.5 0h1.5m3 0h3m3 0h1.5m3 0h1.5m9 0h1.5m19.5 0h1.5m64.5 0h3m57 0h3m6 0h6m1.5 0h1.5m4.5 0h1.5m4.5 0h3m12 0h1.5m4.5 0h1.5m12 0h1.5m4.5 0h1.5M332 471.75h1.5m28.5 0h1.5m27 0h1.5m37.5 0h1.5m21 0h1.5m13.5 0h1.5m96 0h3m12 0h1.5m82.5 0h1.5m6 0h1.5m3 0h1.5m451.5 0h1.5m4.5 0h3m3 0h1.5m6 0h4.5m3 0h1.5m18 0h3m66 0h1.5m6 0h3m51 0h1.5m1.5 0h1.5m4.5 0h6m4.5 0h1.5m18 0h1.5m19.5 0h1.5M336.5 473.25h1.5m13.5 0h1.5m15 0h1.5m1.5 0h1.5m70.5 0h1.5m12 0h1.5m12 0h1.5m76.5 0h4.5m1.5 0h1.5m9 0h1.5m9 0h1.5m94.5 0h1.5m460.5 0h3m4.5 0h3m3 0h4.5m1.5 0h4.5m19.5 0h3m1.5 0h1.5m3 0h3m52.5 0h3m7.5 0h3m60 0h3m12 0h1.5m1.5 0h1.5m33 0h1.5m3 0h3M368 474.75h1.5m31.5 0h1.5m34.5 0h1.5m3 0h1.5m24 0h1.5m85.5 0h1.5m7.5 0h3m10.5 0h1.5m552 0h1.5m1.5 0h4.5m3 0h3m1.5 0h1.5m1.5 0h3m3 0h1.5m3 0h3m16.5 0h3m3 0h1.5m1.5 0h4.5m49.5 0h1.5m69 0h4.5m9 0h7.5m6 0h3m24 0h1.5m6 0h1.5m3 0h1.5M338 476.25h1.5m16.5 0h1.5m6 0h3m6 0h1.5m64.5 0h3m9 0h1.5m102 0h1.5m3 0h4.5m3 0h3m9 0h3m42 0h1.5m16.5 0h1.5m486 0h3m3 0h1.5m3 0h1.5m3 0h1.5m1.5 0h3m9 0h1.5m13.5 0h4.5m4.5 0h3m6 0h4.5m42 0h1.5m13.5 0h1.5m1.5 0h1.5m70.5 0h1.5m4.5 0h3M330.5 477.75h1.5m31.5 0h1.5m1.5 0h1.5m4.5 0h1.5m61.5 0h1.5m13.5 0h1.5m1.5 0h1.5m99 0h1.5m1.5 0h4.5m7.5 0h1.5m70.5 0h1.5m469.5 0h1.5m13.5 0h3m6 0h4.5m3 0h1.5m3 0h1.5m9 0h7.5m4.5 0h3m3 0h9m4.5 0h4.5m30 0h1.5m13.5 0h3m120 0h3m6 0h3M332 479.25h1.5m25.5 0h1.5m4.5 0h1.5m3 0h4.5m66 0h1.5m13.5 0h1.5m9 0h1.5m3 0h1.5m91.5 0h1.5m549 0h3m12 0h3m4.5 0h3m3 0h1.5m1.5 0h1.5m16.5 0h1.5m1.5 0h1.5m1.5 0h3m1.5 0h6m4.5 0h12m28.5 0h12m24 0h3m99 0h3m4.5 0h1.5m4.5 0h1.5M330.5 480.75h1.5m10.5 0h1.5m15 0h1.5m4.5 0h1.5m3 0h4.5m37.5 0h1.5m40.5 0h1.5m9 0h1.5m99 0h1.5m3 0h1.5m544.5 0h1.5m7.5 0h3m1.5 0h1.5m6 0h3m1.5 0h4.5m21 0h1.5m7.5 0h4.5m7.5 0h4.5m3 0h1.5m1.5 0h4.5m9 0h1.5m4.5 0h1.5m3 0h1.5m1.5 0h6m3 0h1.5m1.5 0h3m19.5 0h1.5m102 0h1.5m6 0h1.5m3 0h1.5M344 482.25h1.5m12 0h1.5m1.5 0h9m67.5 0h1.5m6 0h1.5m669 0h1.5m3 0h1.5m13.5 0h3m4.5 0h1.5m25.5 0h1.5m18 0h1.5m1.5 0h1.5m10.5 0h6m9 0h10.5m31.5 0h3m96 0h3m7.5 0h1.5m1.5 0h3M330.5 483.75h1.5m7.5 0h1.5m4.5 0h1.5m1.5 0h1.5m7.5 0h3m1.5 0h3m22.5 0h4.5m15 0h1.5m708 0h1.5m16.5 0h9m12 0h1.5m10.5 0h3m1.5 0h3m4.5 0h1.5m7.5 0h4.5m12 0h9m142.5 0h1.5m3 0h1.5m7.5 0h1.5m1.5 0h3M354.5 485.25h1.5m1.5 0h1.5m1.5 0h1.5m10.5 0h3m40.5 0h1.5m40.5 0h1.5m78 0h1.5m595.5 0h6m1.5 0h1.5m12 0h3m7.5 0h4.5m1.5 0h1.5m3 0h1.5m27 0h3m13.5 0h1.5m136.5 0h1.5m1.5 0h3M335 486.75h1.5m9 0h1.5m3 0h1.5m19.5 0h1.5m42 0h3m39 0h1.5m676.5 0h3m30 0h3m3 0h1.5m1.5 0h1.5m27 0h4.5m9 0h4.5m148.5 0h1.5M335 488.25h1.5m6 0h1.5m13.5 0h1.5m1.5 0h6m3 0h1.5m1.5 0h3m1.5 0h1.5m9 0h1.5m55.5 0h1.5m12 0h1.5m156 0h1.5m550.5 0h3m4.5 0h1.5m178.5 0h1.5m12 0h1.5m1.5 0h3M347 489.75h1.5m9 0h3m1.5 0h3m6 0h6m49.5 0h1.5m30 0h1.5m214.5 0h1.5m492 0h1.5m187.5 0h3m10.5 0h1.5M360.5 491.25h6m60 0h1.5m18 0h1.5m10.5 0h1.5m76.5 0h1.5m732 0h3m93 0h1.5M330.5 492.75h1.5m13.5 0h1.5m13.5 0h12m1.5 0h1.5m3 0h3m31.5 0h1.5m19.5 0h1.5m175.5 0h1.5m658.5 0h1.5m87 0h3M344 494.25h1.5m16.5 0h3m3 0h7.5m6 0h1.5m48 0h1.5m22.5 0h1.5m168 0h1.5m646.5 0h1.5m6 0h1.5M338 495.75h1.5m24 0h1.5m1.5 0h9m6 0h3m45 0h1.5m189 0h1.5m6 0h1.5m4.5 0h1.5m637.5 0h3M341 497.25h3m30 0h1.5m37.5 0h1.5m109.5 0h1.5m99 0h1.5m1.5 0h4.5m649.5 0h3M333.5 498.75h1.5m31.5 0h1.5m4.5 0h3m9 0h3m42 0h1.5m6 0h1.5m16.5 0h1.5m825 0h3M344 500.25h1.5m21 0h3m6 0h3m34.5 0h1.5m24 0h3m99 0h1.5m93 0h1.5M366.5 501.75h6m3 0h3m42 0h1.5m16.5 0h1.5m100.5 0h1.5m85.5 0h3M335 503.25h1.5m31.5 0h1.5m3 0h1.5m10.5 0h3m27 0h1.5m1.5 0h1.5m9 0h1.5m6 0h4.5m13.5 0h1.5m135 0h1.5m699 0h1.5M344 504.75h1.5m22.5 0h1.5m1.5 0h3m3 0h1.5m7.5 0h1.5m48 0h1.5m1.5 0h1.5m13.5 0h1.5m132 0h1.5m1.5 0h1.5M368 506.25h1.5m3 0h1.5m3 0h1.5m78 0h1.5M368 507.75h1.5m4.5 0h1.5m49.5 0h1.5m862.5 0h1.5M368 509.25h1.5m1.5 0h3m39 0h3m22.5 0h1.5m106.5 0h3m16.5 0h1.5m18 0h1.5m10.5 0h1.5m430.5 0h1.5M372.5 510.75h1.5m1.5 0h1.5m139.5 0h1.5m45 0h1.5m21 0h1.5m442.5 0h1.5m253.5 0h1.5M374 512.25h1.5m3 0h3m37.5 0h1.5m31.5 0h1.5m91.5 0h3m16.5 0h1.5m16.5 0h1.5m54 0h1.5m339 0h3M371 513.75h3m1.5 0h1.5m1.5 0h3m33 0h1.5m39 0h1.5m7.5 0h1.5m79.5 0h1.5m36 0h1.5m394.5 0h4.5m46.5 0h3m3 0h3m238.5 0h3M371 515.25h6m1.5 0h3m1.5 0h1.5m12 0h1.5m24 0h1.5m15 0h1.5m7.5 0h1.5m58.5 0h1.5m40.5 0h1.5m31.5 0h1.5m3 0h1.5m12 0h1.5m1.5 0h1.5m435 0h1.5m1.5 0h3m229.5 0h3M374 516.75h3m3 0h1.5m3 0h1.5m3 0h1.5m25.5 0h3m3 0h1.5m15 0h1.5m67.5 0h1.5m19.5 0h1.5m52.5 0h1.5m51 0h1.5m406.5 0h4.5m228 0h1.5M374 518.25h1.5m1.5 0h4.5m1.5 0h6m24 0h1.5m1.5 0h1.5m34.5 0h1.5m42 0h3m48 0h3m93 0h1.5M381.5 519.75h3m1.5 0h3m12 0h1.5m6 0h1.5m133.5 0h1.5m37.5 0h1.5m3 0h1.5m456 0h1.5m1.5 0h1.5M375.5 521.25h1.5m6 0h1.5m4.5 0h1.5m10.5 0h1.5m139.5 0h1.5m4.5 0h1.5m36 0h1.5m682.5 0h1.5M384.5 522.75h1.5m7.5 0h1.5m19.5 0h1.5m1.5 0h1.5m1.5 0h1.5m69 0h1.5m150 0h1.5m1.5 0h3m619.5 0h1.5M377 524.25h1.5m25.5 0h1.5m16.5 0h1.5m7.5 0h1.5m27 0h1.5m12 0h1.5m21 0h3m24 0h1.5m7.5 0h1.5m12 0h1.5m40.5 0h1.5m48 0h1.5m628.5 0h3M375.5 525.75h1.5m1.5 0h1.5m7.5 0h1.5m33 0h1.5m7.5 0h1.5m16.5 0h1.5m13.5 0h1.5m30 0h3m766.5 0h4.5M362 527.25h1.5m15 0h1.5m81 0h1.5m33 0h3m43.5 0h1.5m6 0h1.5m3 0h1.5m28.5 0h1.5m49.5 0h1.5m238.5 0h1.5m388.5 0h3M365 528.75h1.5m12 0h1.5m43.5 0h1.5m46.5 0h1.5m22.5 0h3m19.5 0h1.5m31.5 0h1.5m1.5 0h1.5m37.5 0h1.5m4.5 0h1.5m273 0h3m427.5 0h4.5M378.5 530.25h3m3 0h1.5m111 0h1.5m40.5 0h1.5m9 0h1.5m40.5 0h1.5m277.5 0h1.5m4.5 0h4.5m178.5 0h3m243 0h4.5m3 0h1.5M378.5 531.75h3m3 0h4.5m12 0h1.5m24 0h1.5m67.5 0h1.5m27 0h1.5m7.5 0h1.5m15 0h1.5m49.5 0h3m264 0h1.5m9 0h3m385.5 0h3m40.5 0h1.5M369.5 533.25h1.5m6 0h1.5m3 0h4.5m1.5 0h1.5m34.5 0h1.5m3 0h1.5m22.5 0h1.5m55.5 0h1.5m16.5 0h1.5m69 0h1.5m1.5 0h1.5m264 0h4.5m57 0h1.5m132 0h1.5m201 0h1.5m36 0h4.5m4.5 0h1.5M371 534.75h1.5m16.5 0h1.5m24 0h1.5m6 0h1.5m3 0h1.5m19.5 0h1.5m34.5 0h1.5m33 0h1.5m78 0h1.5m25.5 0h1.5m240 0h1.5m1.5 0h1.5m433.5 0h1.5m3 0h1.5M383 536.25h4.5m3 0h3m60 0h1.5m72 0h1.5m10.5 0h1.5m85.5 0h1.5m18 0h1.5m214.5 0h3m1.5 0h1.5m7.5 0h1.5m1.5 0h1.5m3 0h1.5m177 0h1.5m240 0h3m1.5 0h4.5M372.5 537.75h1.5m16.5 0h1.5m93 0h1.5m39 0h3m10.5 0h1.5m58.5 0h1.5m46.5 0h1.5m213 0h3m9 0h4.5m7.5 0h1.5m60 0h1.5m112.5 0h1.5m240 0h3M393.5 539.25h1.5m22.5 0h3m183 0h1.5m1.5 0h1.5m6 0h1.5m249 0h1.5m1.5 0h3m1.5 0h1.5m12 0h3m3 0h3m1.5 0h1.5m27 0h3m1.5 0h7.5m4.5 0h1.5m9 0h1.5m348 0h3m1.5 0h6M375.5 540.75h1.5m18 0h3m139.5 0h3m63 0h3m10.5 0h3m244.5 0h6m6 0h4.5m4.5 0h3m1.5 0h1.5m3 0h1.5m1.5 0h1.5m25.5 0h3m3 0h3m3 0h1.5m13.5 0h1.5m349.5 0h9M362 542.25h3m13.5 0h1.5m13.5 0h3m24 0h1.5m84 0h1.5m25.5 0h1.5m9 0h1.5m75 0h1.5m243 0h1.5m13.5 0h1.5m1.5 0h3m13.5 0h1.5m3 0h4.5m1.5 0h1.5m3 0h1.5m1.5 0h6m16.5 0h4.5m9 0h1.5m99 0h1.5m1.5 0h1.5m246 0h1.5m1.5 0h9M363.5 543.75h1.5m25.5 0h6m25.5 0h1.5m117 0h1.5m298.5 0h1.5m1.5 0h1.5m1.5 0h1.5m31.5 0h1.5m16.5 0h6m6 0h3m1.5 0h1.5m7.5 0h1.5m7.5 0h4.5m3 0h4.5m7.5 0h3m9 0h3m87 0h1.5m1.5 0h3m244.5 0h13.5M374 545.25h1.5m16.5 0h6m72 0h1.5m61.5 0h1.5m87 0h1.5m214.5 0h3m3 0h1.5m1.5 0h3m7.5 0h1.5m3 0h1.5m19.5 0h1.5m7.5 0h12m3 0h4.5m13.5 0h3m4.5 0h1.5m3 0h1.5m3 0h1.5m10.5 0h1.5m9 0h3m61.5 0h3m25.5 0h1.5m1.5 0h6m12 0h3m1.5 0h1.5m222 0h7.5m3 0h4.5M393.5 546.75h1.5m1.5 0h1.5m235.5 0h1.5m204 0h1.5m3 0h6m1.5 0h1.5m1.5 0h4.5m3 0h1.5m19.5 0h3m7.5 0h4.5m6 0h3m3 0h1.5m16.5 0h4.5m7.5 0h3m87 0h3m30 0h3m12 0h1.5m3 0h4.5m219 0h1.5m1.5 0h7.5m1.5 0h3M440 548.25h1.5m13.5 0h1.5m72 0h1.5m304.5 0h3m6 0h3m3 0h1.5m6 0h1.5m52.5 0h1.5m18 0h4.5m1.5 0h1.5m16.5 0h1.5m67.5 0h1.5m4.5 0h3m22.5 0h1.5m3 0h3m19.5 0h4.5m193.5 0h1.5m25.5 0h3m9 0h1.5M366.5 549.75h1.5m60 0h1.5m124.5 0h1.5m60 0h1.5m217.5 0h7.5m1.5 0h1.5m10.5 0h1.5m54 0h6m9 0h3m1.5 0h1.5m1.5 0h1.5m87 0h4.5m3 0h3m21 0h3m3 0h3m3 0h1.5m1.5 0h3m3 0h3m3 0h1.5m3 0h1.5m186 0h3m3 0h7.5m21 0h1.5m4.5 0h1.5m4.5 0h1.5m10.5 0h1.5M378.5 551.25h1.5m4.5 0h1.5m4.5 0h3m51 0h1.5m118.5 0h1.5m271.5 0h3m4.5 0h3m70.5 0h3m3 0h3m9 0h7.5m1.5 0h1.5m9 0h3m28.5 0h1.5m1.5 0h4.5m7.5 0h1.5m7.5 0h1.5m7.5 0h4.5m6 0h1.5m3 0h6m12 0h1.5m4.5 0h6m3 0h1.5m1.5 0h3m3 0h3m6 0h3m123 0h3m57 0h1.5m3 0h1.5m1.5 0h1.5m3 0h1.5m25.5 0h1.5m6 0h1.5m3 0h1.5m1.5 0h4.5M378.5 552.75h1.5m57 0h1.5m6 0h1.5m106.5 0h1.5m100.5 0h1.5m181.5 0h3m4.5 0h3m4.5 0h6m63 0h4.5m18 0h6m4.5 0h6m15 0h1.5m1.5 0h3m12 0h1.5m6 0h1.5m1.5 0h4.5m1.5 0h7.5m7.5 0h1.5m6 0h3m10.5 0h1.5m6 0h3m4.5 0h4.5m3 0h3m4.5 0h1.5m1.5 0h1.5m9 0h3m12 0h6m103.5 0h1.5m57 0h1.5m3 0h3m4.5 0h6m18 0h1.5m1.5 0h3m3 0h1.5m3 0h1.5m1.5 0h1.5M432.5 554.25h3m399 0h3m3 0h1.5m9 0h1.5m3 0h3m94.5 0h3m3 0h1.5m1.5 0h1.5m1.5 0h3m3 0h1.5m6 0h1.5m12 0h1.5m6 0h3m1.5 0h1.5m6 0h1.5m1.5 0h1.5m4.5 0h3m4.5 0h1.5m1.5 0h1.5m7.5 0h1.5m13.5 0h1.5m4.5 0h1.5m6 0h4.5m4.5 0h1.5m13.5 0h1.5m1.5 0h3m3 0h1.5m4.5 0h1.5m172.5 0h1.5m6 0h1.5m1.5 0h1.5m15 0h9m1.5 0h1.5m4.5 0h1.5m6 0h1.5M374 555.75h1.5m205.5 0h1.5m34.5 0h1.5m6 0h1.5m30 0h3m175.5 0h3m4.5 0h1.5m13.5 0h1.5m88.5 0h1.5m6 0h1.5m22.5 0h1.5m21 0h4.5m6 0h1.5m7.5 0h1.5m6 0h7.5m3 0h1.5m4.5 0h4.5m9 0h3m7.5 0h3m3 0h1.5m22.5 0h1.5m9 0h1.5m103.5 0h1.5m67.5 0h1.5m3 0h7.5m3 0h1.5m1.5 0h1.5m19.5 0h4.5m3 0h1.5m1.5 0h1.5M375.5 557.25h1.5m57 0h1.5m97.5 0h1.5m60 0h1.5m28.5 0h1.5m30 0h1.5m3 0h1.5m180 0h1.5m1.5 0h1.5m7.5 0h4.5m94.5 0h3m37.5 0h3m1.5 0h6m16.5 0h3m25.5 0h1.5m6 0h4.5m10.5 0h1.5m4.5 0h4.5m4.5 0h4.5m1.5 0h4.5m13.5 0h1.5m4.5 0h3m9 0h3m60 0h1.5m4.5 0h1.5m1.5 0h1.5m1.5 0h1.5m7.5 0h1.5m7.5 0h3m67.5 0h1.5m12 0h7.5m1.5 0h3M438.5 558.75h1.5m151.5 0h1.5m46.5 0h3m1.5 0h1.5m10.5 0h3m172.5 0h1.5m9 0h3m1.5 0h3m3 0h4.5m88.5 0h3m4.5 0h1.5m40.5 0h1.5m3 0h3m1.5 0h3m16.5 0h1.5m31.5 0h3m6 0h1.5m1.5 0h3m10.5 0h4.5m6 0h3m16.5 0h1.5m13.5 0h1.5m4.5 0h3m54 0h1.5m21 0h1.5m7.5 0h3m66 0h1.5m1.5 0h10.5m12 0h4.5M447.5 560.25h1.5m76.5 0h1.5m114 0h1.5m202.5 0h3m3 0h1.5m96 0h1.5m3 0h1.5m24 0h1.5m31.5 0h1.5m6 0h3m76.5 0h4.5m1.5 0h1.5m4.5 0h6m3 0h6m10.5 0h1.5m49.5 0h1.5m21 0h7.5m1.5 0h3m90 0h3M381.5 561.75h1.5m67.5 0h1.5m18 0h1.5m87 0h1.5m15 0h1.5m10.5 0h1.5m255 0h3m3 0h3m6 0h3m85.5 0h4.5m1.5 0h1.5m24 0h1.5m16.5 0h6m1.5 0h1.5m1.5 0h1.5m3 0h3m90 0h3m3 0h1.5m7.5 0h3m64.5 0h1.5m37.5 0h1.5m81 0h1.5m3 0h1.5M428 563.25h1.5m22.5 0h1.5m192 0h1.5m205.5 0h3m1.5 0h1.5m1.5 0h1.5m88.5 0h7.5m3 0h1.5m13.5 0h3m1.5 0h3m1.5 0h1.5m7.5 0h1.5m13.5 0h1.5m78 0h1.5m16.5 0h1.5m19.5 0h1.5m1.5 0h3m91.5 0h1.5m76.5 0h1.5m4.5 0h3m1.5 0h3M444.5 564.75h1.5m73.5 0h1.5m42 0h1.5m3 0h1.5m4.5 0h1.5m60 0h1.5m9 0h1.5m198 0h1.5m7.5 0h1.5m3 0h3m91.5 0h10.5m6 0h3m3 0h1.5m6 0h6m93 0h1.5m3 0h6m204 0h6m3 0h3m1.5 0h4.5M446 566.25h1.5m3 0h1.5m1.5 0h1.5m66 0h1.5m109.5 0h1.5m6 0h1.5m189 0h3m13.5 0h3m3 0h12m73.5 0h1.5m12 0h3m3 0h1.5m4.5 0h1.5m1.5 0h6m10.5 0h1.5m96 0h1.5m7.5 0h3m13.5 0h1.5m4.5 0h1.5m6 0h4.5m91.5 0h3m69 0h3m1.5 0h1.5m3 0h3m3 0h3m1.5 0h4.5m3 0h1.5M383 567.75h1.5m10.5 0h1.5m48 0h1.5m6 0h1.5m159 0h1.5m30 0h1.5m183 0h1.5m16.5 0h3m4.5 0h1.5m3 0h1.5m1.5 0h3m73.5 0h1.5m13.5 0h1.5m3 0h1.5m7.5 0h10.5m105 0h3m6 0h1.5m15 0h1.5m1.5 0h1.5m1.5 0h1.5m1.5 0h1.5m97.5 0h3m67.5 0h1.5m3 0h3m3 0h3m4.5 0h1.5m3 0h1.5m4.5 0h1.5M393.5 569.25h1.5m4.5 0h1.5m51 0h1.5m135 0h1.5m9 0h1.5m16.5 0h1.5m24 0h1.5m184.5 0h3m21 0h1.5m4.5 0h1.5m81 0h1.5m1.5 0h1.5m9 0h1.5m1.5 0h1.5m12 0h7.5m21 0h9m90 0h4.5m1.5 0h3m22.5 0h4.5m3 0h1.5m43.5 0h3m1.5 0h4.5m19.5 0h1.5m73.5 0h1.5m18 0h4.5m3 0h4.5M398 570.75h1.5m60 0h1.5m127.5 0h1.5m64.5 0h1.5m174 0h1.5m27 0h1.5m82.5 0h3m7.5 0h3m1.5 0h1.5m13.5 0h4.5m22.5 0h3m90 0h1.5m3 0h3m6 0h1.5m16.5 0h1.5m3 0h1.5m57 0h4.5m12 0h3m72 0h3m15 0h1.5m9 0h3m1.5 0h3M380 572.25h1.5m156 0h3m63 0h1.5m31.5 0h1.5m90 0h1.5m90 0h3m1.5 0h1.5m28.5 0h1.5m81 0h1.5m4.5 0h3m7.5 0h1.5m13.5 0h6m13.5 0h1.5m7.5 0h1.5m1.5 0h1.5m1.5 0h6m75 0h6m12 0h1.5m10.5 0h3m3 0h1.5m6 0h1.5m4.5 0h6m42 0h3m4.5 0h3m13.5 0h1.5m52.5 0h1.5m10.5 0h3m3 0h4.5m6 0h3m1.5 0h1.5m3 0h3m6 0h1.5m3 0h1.5m6 0h3M395 573.75h1.5m64.5 0h1.5m60 0h1.5m4.5 0h3m34.5 0h1.5m27 0h1.5m19.5 0h1.5m3 0h1.5m106.5 0h1.5m90 0h1.5m1.5 0h6m1.5 0h1.5m19.5 0h1.5m85.5 0h1.5m3 0h1.5m13.5 0h1.5m9 0h3m16.5 0h3m1.5 0h9m6 0h1.5m75 0h7.5m22.5 0h7.5m4.5 0h3m6 0h3m42 0h6m6 0h1.5m61.5 0h1.5m4.5 0h1.5m9 0h4.5m3 0h1.5m4.5 0h1.5m1.5 0h1.5m1.5 0h3m4.5 0h1.5m1.5 0h4.5m1.5 0h1.5m1.5 0h1.5m3 0h3m1.5 0h1.5M383 575.25h1.5m3 0h1.5m69 0h1.5m105 0h3m22.5 0h1.5m135 0h4.5m70.5 0h4.5m4.5 0h3m6 0h3m10.5 0h1.5m9 0h1.5m1.5 0h1.5m1.5 0h3m84 0h7.5m6 0h3m3 0h6m13.5 0h6m1.5 0h7.5m3 0h9m1.5 0h1.5m3 0h3m72 0h6m1.5 0h1.5m18 0h1.5m3 0h1.5m10.5 0h3m3 0h1.5m1.5 0h1.5m42 0h3m4.5 0h1.5m67.5 0h3m13.5 0h1.5m4.5 0h1.5m13.5 0h6m4.5 0h7.5m4.5 0h1.5M455 576.75h1.5m4.5 0h1.5m64.5 0h1.5m33 0h1.5m22.5 0h3m7.5 0h3m3 0h1.5m63 0h3m1.5 0h1.5m58.5 0h1.5m67.5 0h1.5m1.5 0h1.5m6 0h1.5m4.5 0h1.5m1.5 0h3m10.5 0h1.5m9 0h1.5m93 0h6m9 0h1.5m16.5 0h4.5m1.5 0h4.5m6 0h6m6 0h4.5m6 0h1.5m3 0h1.5m67.5 0h3m24 0h1.5m3 0h3m4.5 0h1.5m10.5 0h1.5m31.5 0h4.5m4.5 0h3m7.5 0h1.5m67.5 0h1.5m6 0h1.5m7.5 0h3m3 0h3m3 0h1.5m7.5 0h1.5m1.5 0h4.5m1.5 0h3m1.5 0h1.5m3 0h3M557 578.25h1.5m3 0h1.5m4.5 0h4.5m31.5 0h1.5m12 0h3m40.5 0h1.5m58.5 0h1.5m76.5 0h3m1.5 0h16.5m12 0h1.5m105 0h1.5m1.5 0h1.5m1.5 0h4.5m4.5 0h1.5m15 0h1.5m6 0h3m1.5 0h3m6 0h3m7.5 0h3m9 0h3m75 0h1.5m9 0h3m7.5 0h1.5m21 0h1.5m27 0h1.5m7.5 0h1.5m9 0h6m57 0h1.5m18 0h6m6 0h1.5m3 0h3M569 579.75h1.5m18 0h1.5m9 0h1.5m21 0h3m97.5 0h1.5m30 0h1.5m42 0h4.5m1.5 0h1.5m6 0h3m3 0h3m1.5 0h1.5m9 0h1.5m6 0h3m96 0h1.5m1.5 0h4.5m1.5 0h1.5m4.5 0h3m22.5 0h1.5m1.5 0h3m16.5 0h1.5m4.5 0h1.5m6 0h1.5m69 0h1.5m9 0h3m3 0h4.5m13.5 0h3m39 0h3m18 0h3m6 0h3m54 0h4.5m24 0h4.5M389 581.25h1.5m58.5 0h1.5m67.5 0h1.5m7.5 0h1.5m78 0h1.5m118.5 0h1.5m18 0h1.5m43.5 0h1.5m4.5 0h1.5m22.5 0h1.5m115.5 0h1.5m1.5 0h1.5m1.5 0h1.5m6 0h1.5m15 0h1.5m3 0h1.5m25.5 0h1.5m6 0h4.5m93 0h1.5m13.5 0h3m12 0h1.5m24 0h3m1.5 0h3m3 0h1.5m7.5 0h1.5m1.5 0h1.5m7.5 0h4.5m43.5 0h4.5m10.5 0h1.5m1.5 0h9m9 0h1.5M527 582.75h1.5m4.5 0h1.5m42 0h1.5m4.5 0h1.5m24 0h1.5m12 0h1.5m100.5 0h1.5m21 0h3m1.5 0h4.5m7.5 0h1.5m27 0h3m25.5 0h3m117 0h3m3 0h1.5m4.5 0h3m3 0h1.5m6 0h4.5m39 0h4.5m1.5 0h1.5m90 0h1.5m3 0h3m7.5 0h3m10.5 0h1.5m22.5 0h3m3 0h3m12 0h3m10.5 0h1.5m43.5 0h1.5m24 0h3m1.5 0h1.5m6 0h1.5m4.5 0h3M467 584.25h1.5m49.5 0h1.5m13.5 0h1.5m55.5 0h1.5m6 0h1.5m111 0h1.5m34.5 0h1.5m39 0h3m1.5 0h1.5m15 0h3m3 0h1.5m3 0h1.5m129 0h4.5m25.5 0h3m3 0h4.5m21 0h1.5m1.5 0h1.5m93 0h1.5m1.5 0h3m9 0h3m7.5 0h1.5m22.5 0h1.5m6 0h3m9 0h1.5m1.5 0h1.5m55.5 0h1.5m7.5 0h1.5m18 0h1.5m3 0h1.5m4.5 0h4.5m1.5 0h3M572 585.75h1.5m10.5 0h1.5m4.5 0h1.5m6 0h1.5m9 0h1.5m175.5 0h7.5m16.5 0h1.5m7.5 0h1.5m129 0h3m9 0h1.5m16.5 0h1.5m18 0h1.5m3 0h1.5m1.5 0h1.5m1.5 0h3m78 0h1.5m9 0h1.5m3 0h1.5m1.5 0h1.5m1.5 0h3m36 0h3m10.5 0h1.5m9 0h3m15 0h3m30 0h1.5m4.5 0h1.5m1.5 0h6m6 0h1.5m19.5 0h1.5m1.5 0h1.5m4.5 0h1.5m1.5 0h3M393.5 587.25h1.5m126 0h1.5m31.5 0h1.5m37.5 0h3m12 0h1.5m1.5 0h3m133.5 0h1.5m31.5 0h3m1.5 0h1.5m22.5 0h1.5m138 0h1.5m3 0h3m7.5 0h1.5m24 0h3m9 0h1.5m6 0h4.5m78 0h1.5m15 0h4.5m16.5 0h1.5m4.5 0h3m9 0h1.5m4.5 0h1.5m1.5 0h1.5m1.5 0h3m1.5 0h1.5m9 0h1.5m1.5 0h1.5m34.5 0h3m4.5 0h1.5m1.5 0h3m3 0h1.5m7.5 0h1.5m3 0h3m12 0h3m3 0h4.5m1.5 0h1.5m4.5 0h1.5M449 588.75h1.5m70.5 0h1.5m46.5 0h1.5m37.5 0h3m3 0h1.5m10.5 0h1.5m60 0h1.5m18 0h1.5m12 0h1.5m6 0h1.5m51 0h3m25.5 0h1.5m138 0h3m1.5 0h4.5m15 0h1.5m15 0h3m7.5 0h1.5m6 0h1.5m7.5 0h1.5m76.5 0h1.5m12 0h3m18 0h3m4.5 0h1.5m9 0h1.5m1.5 0h3m4.5 0h4.5m1.5 0h1.5m9 0h1.5m1.5 0h3m36 0h3m1.5 0h1.5m1.5 0h10.5m7.5 0h1.5m15 0h4.5m1.5 0h1.5m3 0h4.5m3 0h1.5M474.5 590.25h1.5m132 0h1.5m10.5 0h1.5m6 0h1.5m94.5 0h1.5m19.5 0h1.5m6 0h1.5m54 0h1.5m142.5 0h6m1.5 0h1.5m9 0h6m30 0h1.5m84 0h4.5m3 0h1.5m1.5 0h3m3 0h4.5m13.5 0h3m4.5 0h1.5m12 0h4.5m7.5 0h4.5m22.5 0h1.5m25.5 0h4.5m4.5 0h1.5m4.5 0h6m36 0h1.5M390.5 591.75h1.5m72 0h1.5m10.5 0h1.5m43.5 0h1.5m18 0h1.5m13.5 0h1.5m42 0h1.5m6 0h1.5m7.5 0h1.5m70.5 0h1.5m16.5 0h1.5m24 0h1.5m21 0h1.5m196.5 0h1.5m1.5 0h6m10.5 0h1.5m12 0h3m3 0h6m7.5 0h1.5m85.5 0h4.5m6 0h3m3 0h3m7.5 0h1.5m3 0h3m6 0h3m10.5 0h1.5m10.5 0h9m46.5 0h1.5m1.5 0h3m1.5 0h3m4.5 0h1.5m1.5 0h3m39 0h3M555.5 593.25h1.5m1.5 0h1.5m36 0h1.5m117 0h1.5m9 0h1.5m6 0h3m70.5 0h1.5m148.5 0h7.5m1.5 0h1.5m16.5 0h4.5m3 0h4.5m3 0h1.5m91.5 0h1.5m9 0h3m7.5 0h3m4.5 0h1.5m1.5 0h3m4.5 0h3m7.5 0h3m12 0h3m1.5 0h1.5m12 0h7.5m30 0h1.5m1.5 0h1.5m3 0h4.5m1.5 0h6m3 0h1.5m1.5 0h3M543.5 594.75h1.5m12 0h3m33 0h1.5m1.5 0h1.5m6 0h3m102 0h1.5m15 0h1.5m15 0h1.5m10.5 0h1.5m43.5 0h1.5m6 0h1.5m1.5 0h1.5m147 0h1.5m3 0h4.5m1.5 0h3m12 0h1.5m3 0h6m4.5 0h3m91.5 0h1.5m1.5 0h1.5m4.5 0h3m7.5 0h3m4.5 0h3m7.5 0h1.5m9 0h3m4.5 0h7.5m1.5 0h1.5m9 0h1.5m3 0h1.5m1.5 0h1.5m34.5 0h3m1.5 0h1.5m1.5 0h1.5m1.5 0h6M471.5 596.25h1.5m1.5 0h1.5m84 0h1.5m34.5 0h1.5m31.5 0h1.5m3 0h1.5m87 0h1.5m1.5 0h1.5m12 0h1.5m6 0h1.5m45 0h1.5m6 0h1.5m6 0h1.5m150 0h6m1.5 0h3m1.5 0h1.5m12 0h4.5m3 0h1.5m103.5 0h1.5m12 0h3m19.5 0h3m10.5 0h3m1.5 0h1.5m4.5 0h1.5m4.5 0h1.5m7.5 0h1.5m39 0h1.5m10.5 0h3M444.5 597.75h1.5m1.5 0h1.5m24 0h1.5m61.5 0h1.5m58.5 0h1.5m6 0h1.5m6 0h3m111 0h1.5m16.5 0h1.5m1.5 0h1.5m46.5 0h1.5m6 0h1.5m4.5 0h6m147 0h4.5m33 0h1.5m97.5 0h1.5m12 0h3m7.5 0h4.5m12 0h1.5m7.5 0h4.5m1.5 0h1.5m1.5 0h1.5M543.5 599.25h1.5m51 0h1.5m3 0h1.5m144 0h1.5m45 0h1.5m1.5 0h3m1.5 0h4.5m3 0h1.5m151.5 0h1.5m34.5 0h1.5m100.5 0h4.5m3 0h4.5m3 0h1.5m4.5 0h1.5m13.5 0h4.5m1.5 0h4.5m70.5 0h1.5m13.5 0h1.5M467 600.75h1.5m54 0h1.5m19.5 0h1.5m19.5 0h1.5m30 0h6m9 0h1.5m24 0h1.5m49.5 0h1.5m27 0h1.5m6 0h1.5m9 0h1.5m7.5 0h1.5m3 0h1.5m22.5 0h1.5m22.5 0h1.5m1.5 0h1.5m7.5 0h1.5m291 0h3m4.5 0h6m6 0h1.5m4.5 0h1.5m7.5 0h1.5m3 0h1.5m70.5 0h3m1.5 0h3m10.5 0h3M462.5 602.25h3m76.5 0h1.5m57 0h3m112.5 0h1.5m16.5 0h1.5m7.5 0h1.5m27 0h1.5m22.5 0h1.5m7.5 0h1.5m304.5 0h6m9 0h3m1.5 0h1.5m60 0h3m6 0h6m1.5 0h3M459.5 603.75h1.5m63 0h1.5m12 0h1.5m10.5 0h1.5m28.5 0h1.5m19.5 0h1.5m18 0h1.5m1.5 0h1.5m87 0h1.5m10.5 0h1.5m18 0h1.5m3 0h3m4.5 0h3m13.5 0h1.5m24 0h1.5m304.5 0h1.5m4.5 0h1.5m1.5 0h4.5m9 0h3m1.5 0h1.5m54 0h3m3 0h3m6 0h1.5m6 0h4.5M399.5 605.25h1.5m1.5 0h1.5m57 0h1.5m7.5 0h1.5m75 0h1.5m78 0h1.5m10.5 0h1.5m118.5 0h1.5m12 0h1.5m21 0h4.5m309 0h1.5m7.5 0h1.5M551 606.75h1.5m81 0h3m51 0h3m27 0h1.5m12 0h1.5m39 0h1.5m21 0h4.5m313.5 0h4.5m1.5 0h1.5m3 0h3m1.5 0h1.5M398 608.25h1.5m69 0h1.5m97.5 0h1.5m160.5 0h1.5m4.5 0h1.5m4.5 0h1.5m18 0h1.5m33 0h3M399.5 609.75h1.5m67.5 0h1.5m99 0h1.5m75 0h1.5m75 0h3m10.5 0h3m3 0h4.5m3 0h1.5m42 0h3m1.5 0h3M419 611.25h1.5m151.5 0h1.5m34.5 0h1.5m45 0h1.5m54 0h1.5m1.5 0h1.5m34.5 0h1.5m43.5 0h1.5M396.5 612.75h3m214.5 0h1.5m10.5 0h1.5m60 0h1.5m13.5 0h3m19.5 0h1.5m22.5 0h1.5m15 0h1.5m27 0h3M417.5 614.25h1.5m25.5 0h1.5m18 0h1.5m4.5 0h1.5m159 0h1.5m1.5 0h1.5m9 0h1.5m37.5 0h1.5m19.5 0h1.5m3 0h1.5m39 0h1.5m13.5 0h1.5m28.5 0h1.5m216 0h3m3 0h1.5m1.5 0h3M399.5 615.75h1.5m213 0h1.5m6 0h1.5m36 0h1.5m43.5 0h1.5m30 0h1.5m12 0h1.5m45 0h1.5m1.5 0h1.5m222 0h1.5M443 617.25h1.5m12 0h1.5m4.5 0h1.5m1.5 0h1.5m102 0h1.5m16.5 0h1.5m10.5 0h1.5m36 0h1.5m48 0h1.5m36 0h1.5m42 0h1.5m30 0h3m204 0h1.5m3 0h1.5m6 0h3m1.5 0h1.5M458 618.75h1.5m3 0h1.5m4.5 0h1.5m1.5 0h1.5m96 0h1.5m75 0h1.5m4.5 0h1.5m1.5 0h1.5m3 0h1.5m63 0h1.5m39 0h1.5m1.5 0h1.5m31.5 0h1.5m202.5 0h3m1.5 0h1.5m6 0h1.5m4.5 0h1.5M464 620.25h1.5m195 0h1.5m27 0h1.5m13.5 0h1.5m12 0h1.5m43.5 0h1.5m4.5 0h1.5m28.5 0h3m202.5 0h4.5m12 0h3M428 621.75h1.5m27 0h1.5m4.5 0h1.5m6 0h1.5m177 0h1.5m9 0h1.5m66 0h1.5m40.5 0h1.5m27 0h3m204 0h1.5m6 0h3m4.5 0h1.5M459.5 623.25h1.5m6 0h1.5m3 0h1.5m88.5 0h1.5m18 0h1.5m37.5 0h1.5m12 0h1.5m24 0h1.5m12 0h1.5m46.5 0h1.5m34.5 0h1.5m10.5 0h3m22.5 0h1.5m205.5 0h1.5m6 0h1.5m10.5 0h1.5M467 624.75h6m109.5 0h1.5m33 0h1.5m49.5 0h7.5m60 0h1.5m27 0h1.5m1.5 0h1.5m25.5 0h1.5m1.5 0h1.5m201 0h3m1.5 0h4.5m12 0h1.5m4.5 0h1.5M455 626.25h1.5m120 0h1.5m4.5 0h3m60 0h1.5m4.5 0h1.5m69 0h1.5m6 0h1.5m33 0h1.5m1.5 0h1.5m18 0h6m1.5 0h1.5m202.5 0h1.5m3 0h1.5m1.5 0h3m19.5 0h1.5M606.5 627.75h1.5m99 0h1.5m15 0h3m37.5 0h1.5m1.5 0h1.5m16.5 0h1.5m7.5 0h1.5m207 0h6m4.5 0h1.5M585.5 629.25h1.5m66 0h1.5m18 0h1.5m31.5 0h1.5m21 0h1.5m21 0h1.5m12 0h4.5m15 0h3m6 0h1.5m202.5 0h1.5m1.5 0h3m3 0h6m3 0h1.5m7.5 0h3m3 0h1.5M581 630.75h1.5m141 0h1.5m4.5 0h6m31.5 0h1.5m15 0h3m3 0h1.5m1.5 0h1.5m202.5 0h1.5m3 0h1.5m1.5 0h4.5m1.5 0h1.5m3 0h1.5m6 0h1.5m1.5 0h1.5m3 0h1.5m43.5 0h1.5M582.5 632.25h1.5m3 0h1.5m12 0h1.5m120 0h1.5m3 0h1.5m1.5 0h3m1.5 0h1.5m12 0h1.5m3 0h1.5m13.5 0h4.5m13.5 0h3m114 0h4.5m90 0h6m7.5 0h1.5m9 0h1.5m1.5 0h6m51 0h4.5M597.5 633.75h1.5m15 0h1.5m7.5 0h1.5m10.5 0h1.5m42 0h1.5m27 0h1.5m18 0h6m6 0h1.5m7.5 0h1.5m6 0h1.5m10.5 0h3m10.5 0h3m7.5 0h1.5m204 0h4.5m13.5 0h1.5m4.5 0h1.5m1.5 0h1.5m1.5 0h3m52.5 0h4.5M605 635.25h1.5m6 0h1.5m63 0h1.5m43.5 0h1.5m10.5 0h1.5m7.5 0h1.5m1.5 0h3m18 0h1.5m3 0h1.5m1.5 0h1.5m4.5 0h1.5m4.5 0h3m85.5 0h1.5m24 0h3m93 0h1.5m22.5 0h3m3 0h1.5m1.5 0h1.5m37.5 0h3m4.5 0h3m4.5 0h3M455 636.75h1.5m12 0h1.5m123 0h1.5m19.5 0h3m34.5 0h3m36 0h1.5m1.5 0h1.5m33 0h1.5m13.5 0h1.5m3 0h4.5m13.5 0h3m12 0h3m90 0h4.5m117 0h4.5m21 0h3m3 0h1.5m1.5 0h1.5m52.5 0h3M458 638.25h1.5m195 0h1.5m34.5 0h1.5m12 0h1.5m25.5 0h3m7.5 0h6m1.5 0h1.5m15 0h1.5m12 0h1.5m90 0h1.5m22.5 0h1.5m10.5 0h3m84 0h3m27 0h7.5m36 0h1.5m4.5 0h4.5M483.5 639.75h1.5m165 0h1.5m4.5 0h1.5m12 0h1.5m33 0h3m22.5 0h1.5m10.5 0h7.5m21 0h3m4.5 0h1.5m90 0h1.5m1.5 0h1.5m3 0h1.5m16.5 0h4.5m4.5 0h3m3 0h1.5m46.5 0h1.5m1.5 0h1.5m31.5 0h1.5m28.5 0h1.5m1.5 0h3m3 0h1.5m31.5 0h1.5m7.5 0h3M474.5 641.25h1.5m6 0h1.5m177 0h1.5m67.5 0h1.5m6 0h1.5m1.5 0h4.5m4.5 0h1.5m15 0h3m7.5 0h1.5m96 0h1.5m1.5 0h1.5m4.5 0h6m1.5 0h3m1.5 0h3m6 0h1.5m3 0h4.5m10.5 0h1.5m4.5 0h3m1.5 0h1.5m19.5 0h3m3 0h1.5m1.5 0h1.5m25.5 0h1.5m3 0h1.5m27 0h1.5m9 0h1.5m45 0h1.5m1.5 0h1.5m3 0h1.5m1.5 0h1.5m156 0h3m1.5 0h1.5M480.5 642.75h3m142.5 0h1.5m30 0h1.5m1.5 0h1.5m18 0h1.5m24 0h1.5m30 0h7.5m19.5 0h1.5m9 0h1.5m99 0h1.5m4.5 0h1.5m9 0h6m12 0h3m9 0h1.5m9 0h3m1.5 0h4.5m13.5 0h3m3 0h3m1.5 0h1.5m28.5 0h1.5m4.5 0h4.5m18 0h1.5m6 0h1.5m33 0h1.5m13.5 0h1.5m4.5 0h3m159 0h1.5m1.5 0h3m3 0h1.5M581 644.25h1.5m36 0h1.5m90 0h1.5m9 0h1.5m19.5 0h4.5m10.5 0h3m3 0h1.5m6 0h1.5m1.5 0h1.5m97.5 0h1.5m1.5 0h1.5m3 0h4.5m1.5 0h1.5m4.5 0h4.5m4.5 0h6m1.5 0h3m9 0h3m12 0h1.5m1.5 0h1.5m1.5 0h1.5m12 0h3m1.5 0h7.5m21 0h3m6 0h3m6 0h1.5m6 0h1.5m10.5 0h1.5m40.5 0h1.5m1.5 0h1.5m7.5 0h1.5m6 0h1.5m115.5 0h3m19.5 0h1.5m6 0h1.5m1.5 0h7.5m3 0h4.5m4.5 0h3M644 645.75h1.5m10.5 0h1.5m18 0h1.5m40.5 0h1.5m3 0h1.5m9 0h1.5m4.5 0h1.5m1.5 0h4.5m9 0h1.5m4.5 0h4.5m6 0h1.5m93 0h1.5m3 0h1.5m1.5 0h1.5m4.5 0h3m9 0h3m7.5 0h4.5m1.5 0h3m7.5 0h1.5m15 0h4.5m15 0h9m1.5 0h1.5m21 0h1.5m7.5 0h1.5m7.5 0h1.5m3 0h3m1.5 0h4.5m4.5 0h4.5m39 0h1.5m10.5 0h3m4.5 0h1.5m114 0h1.5m3 0h1.5m12 0h4.5m9 0h1.5m15 0h1.5m6 0h4.5M485 647.25h1.5m99 0h1.5m145.5 0h1.5m4.5 0h1.5m7.5 0h9m1.5 0h1.5m103.5 0h1.5m3 0h4.5m4.5 0h6m10.5 0h4.5m4.5 0h3m4.5 0h1.5m1.5 0h3m1.5 0h1.5m27 0h1.5m9 0h3m1.5 0h6m1.5 0h1.5m15 0h3m3 0h6m7.5 0h3m10.5 0h3m3 0h1.5m10.5 0h1.5m4.5 0h4.5m19.5 0h1.5m13.5 0h1.5m6 0h6m4.5 0h3m118.5 0h1.5m30 0h1.5m3 0h3m1.5 0h1.5M470 648.75h1.5m13.5 0h1.5m157.5 0h1.5m6 0h1.5m67.5 0h1.5m12 0h1.5m3 0h6m3 0h1.5m1.5 0h7.5m109.5 0h4.5m4.5 0h6m21 0h1.5m7.5 0h3m1.5 0h1.5m7.5 0h3m7.5 0h4.5m4.5 0h1.5m7.5 0h1.5m1.5 0h12m15 0h1.5m4.5 0h9m3 0h1.5m3 0h1.5m6 0h6m19.5 0h1.5m4.5 0h1.5m18 0h1.5m4.5 0h1.5m6 0h1.5m4.5 0h1.5m1.5 0h6m4.5 0h4.5m106.5 0h3m42 0h1.5M584 650.25h1.5m55.5 0h1.5m93 0h6m9 0h1.5m112.5 0h4.5m1.5 0h6m3 0h3m46.5 0h1.5m4.5 0h6m6 0h1.5m3 0h1.5m13.5 0h1.5m3 0h1.5m9 0h3m7.5 0h1.5m3 0h1.5m1.5 0h3m7.5 0h10.5m15 0h4.5m7.5 0h1.5m21 0h1.5m4.5 0h1.5m1.5 0h3m10.5 0h3m1.5 0h4.5m123 0h3M485 651.75h1.5m150 0h3m49.5 0h1.5m48 0h3m6 0h1.5m115.5 0h6m1.5 0h4.5m3 0h3m3 0h1.5m39 0h1.5m1.5 0h1.5m6 0h4.5m6 0h1.5m3 0h1.5m3 0h3m4.5 0h4.5m1.5 0h3m19.5 0h1.5m6 0h1.5m10.5 0h1.5m1.5 0h1.5m1.5 0h1.5m16.5 0h1.5m1.5 0h1.5m4.5 0h3m21 0h3m10.5 0h1.5m9 0h1.5m4.5 0h1.5m16.5 0h1.5m84 0h1.5m10.5 0h3m7.5 0h3M672.5 653.25h1.5m45 0h1.5m4.5 0h1.5m13.5 0h1.5m4.5 0h1.5m117 0h6m3 0h3m6 0h1.5m34.5 0h3m3 0h3m4.5 0h1.5m3 0h1.5m4.5 0h1.5m3 0h4.5m3 0h3m1.5 0h4.5m6 0h1.5m21 0h4.5m3 0h1.5m12 0h4.5m9 0h1.5m7.5 0h1.5m4.5 0h1.5m24 0h1.5m1.5 0h1.5m6 0h1.5m4.5 0h4.5m3 0h4.5m106.5 0h1.5m7.5 0h3m3 0h4.5m28.5 0h1.5m12 0h1.5M588.5 654.75h1.5m45 0h1.5m69 0h1.5m33 0h1.5m1.5 0h1.5m115.5 0h1.5m6 0h3m3 0h3m12 0h1.5m31.5 0h6m6 0h3m7.5 0h1.5m4.5 0h1.5m1.5 0h1.5m16.5 0h1.5m6 0h3m13.5 0h4.5m15 0h3m10.5 0h1.5m7.5 0h1.5m6 0h1.5m6 0h1.5m3 0h4.5m6 0h4.5m3 0h1.5m3 0h1.5m3 0h1.5m1.5 0h1.5m4.5 0h4.5m19.5 0h3m82.5 0h1.5m13.5 0h3m19.5 0h1.5m7.5 0h1.5m13.5 0h3M581 656.25h1.5m54 0h1.5m9 0h1.5m25.5 0h1.5m66 0h1.5m124.5 0h1.5m19.5 0h1.5m25.5 0h3m24 0h3m6 0h3m21 0h4.5m1.5 0h3m4.5 0h1.5m49.5 0h3m28.5 0h1.5m1.5 0h3m6 0h3m3 0h4.5m10.5 0h1.5m10.5 0h3m81 0h3m4.5 0h1.5m3 0h6m21 0h3m22.5 0h1.5M578 657.75h1.5m94.5 0h1.5m30 0h1.5m19.5 0h3m30 0h1.5m9 0h1.5m96 0h3m46.5 0h3m10.5 0h1.5m10.5 0h3m1.5 0h3m28.5 0h1.5m4.5 0h1.5m1.5 0h3m51 0h1.5m33 0h3m3 0h1.5m1.5 0h1.5m4.5 0h4.5m7.5 0h1.5m1.5 0h1.5m12 0h1.5m79.5 0h9m4.5 0h3m25.5 0h3M686 659.25h1.5m54 0h1.5m19.5 0h1.5m97.5 0h1.5m4.5 0h1.5m1.5 0h3m1.5 0h4.5m4.5 0h4.5m30 0h1.5m114 0h1.5m3 0h1.5m1.5 0h6m12 0h3m13.5 0h1.5m9 0h7.5m7.5 0h1.5m3 0h1.5m9 0h1.5m1.5 0h3m79.5 0h4.5m18 0h3m10.5 0h1.5M468.5 660.75h1.5m292.5 0h1.5m99 0h1.5m1.5 0h3m1.5 0h9m4.5 0h1.5m1.5 0h1.5m153 0h1.5m1.5 0h3m1.5 0h1.5m7.5 0h1.5m1.5 0h1.5m13.5 0h1.5m9 0h4.5m1.5 0h1.5m7.5 0h6m10.5 0h3m49.5 0h3m3 0h1.5m19.5 0h3m3 0h1.5m16.5 0h3m1.5 0h1.5m19.5 0h1.5M480.5 662.25h1.5m18 0h1.5m160.5 0h1.5m13.5 0h1.5m51 0h1.5m10.5 0h1.5m10.5 0h1.5m3 0h1.5m112.5 0h1.5m3 0h6m1.5 0h1.5m154.5 0h3m1.5 0h1.5m1.5 0h3m7.5 0h4.5m10.5 0h4.5m31.5 0h1.5m39 0h1.5m4.5 0h1.5m9 0h1.5m6 0h3m3 0h4.5m10.5 0h1.5m7.5 0h3m21 0h1.5m22.5 0h1.5M677 663.75h1.5m91.5 0h1.5m99 0h3m3 0h3m3 0h1.5m156 0h4.5m3 0h3m36 0h1.5m27 0h1.5m4.5 0h1.5m7.5 0h1.5m3 0h3m4.5 0h6m25.5 0h1.5m6 0h1.5m1.5 0h1.5m6 0h1.5m7.5 0h1.5m1.5 0h4.5m18 0h4.5M581 665.25h1.5m144 0h1.5m4.5 0h1.5m36 0h1.5m99 0h1.5m169.5 0h1.5m24 0h1.5m3 0h3m4.5 0h3m1.5 0h1.5m1.5 0h3m7.5 0h3m6 0h1.5m6 0h6m1.5 0h6m3 0h1.5m1.5 0h1.5m1.5 0h1.5m6 0h1.5m4.5 0h3m16.5 0h1.5m1.5 0h3m6 0h7.5m1.5 0h4.5m1.5 0h1.5m3 0h1.5m4.5 0h1.5m12 0h1.5m6 0h6M588.5 666.75h1.5m94.5 0h1.5m9 0h1.5m13.5 0h1.5m42 0h1.5m15 0h1.5m289.5 0h4.5m1.5 0h6m4.5 0h7.5m1.5 0h1.5m9 0h4.5m3 0h3m12 0h6m6 0h1.5m18 0h1.5m16.5 0h1.5m1.5 0h3m4.5 0h6m1.5 0h1.5m1.5 0h4.5m6 0h3m3 0h1.5m12 0h1.5m6 0h4.5M695 668.25h1.5m67.5 0h1.5m4.5 0h1.5m289.5 0h7.5m7.5 0h4.5m1.5 0h1.5m4.5 0h3m6 0h1.5m6 0h4.5m6 0h1.5m7.5 0h1.5m37.5 0h1.5m1.5 0h1.5m1.5 0h7.5m7.5 0h1.5m6 0h1.5m7.5 0h3m4.5 0h3m12 0h1.5m4.5 0h3M662 669.75h1.5m16.5 0h1.5m45 0h3m3 0h1.5m307.5 0h3m3 0h4.5m9 0h4.5m3 0h3m16.5 0h3m13.5 0h3m1.5 0h1.5m4.5 0h1.5m10.5 0h1.5m18 0h1.5m3 0h1.5m9 0h3m3 0h3m3 0h3m12 0h1.5m1.5 0h1.5m7.5 0h3m3 0h4.5m12 0h1.5m3 0h4.5M717.5 671.25h1.5m9 0h3m18 0h1.5m108 0h1.5m1.5 0h1.5m178.5 0h3m3 0h6m6 0h3m3 0h1.5m7.5 0h1.5m4.5 0h4.5m9 0h1.5m3 0h3m4.5 0h4.5m4.5 0h1.5m27 0h3m4.5 0h1.5m7.5 0h4.5m9 0h3m1.5 0h1.5m10.5 0h1.5m3 0h6m6 0h4.5m12 0h4.5m1.5 0h1.5M593 672.75h1.5m99 0h1.5m33 0h1.5m6 0h1.5m27 0h1.5m7.5 0h1.5m78 0h1.5m4.5 0h4.5m196.5 0h3m1.5 0h3m6 0h3m4.5 0h3m4.5 0h4.5m6 0h3m4.5 0h1.5m43.5 0h1.5m7.5 0h3m10.5 0h6m3 0h3m9 0h6m9 0h1.5m15 0h1.5m1.5 0h1.5M723.5 674.25h3m1.5 0h1.5m310.5 0h4.5m1.5 0h1.5m4.5 0h3m3 0h1.5m3 0h3m7.5 0h7.5m10.5 0h1.5m4.5 0h1.5m1.5 0h1.5m1.5 0h4.5m52.5 0h3m7.5 0h3m21 0h3m9 0h3m12 0h1.5M749 675.75h1.5m105 0h3m180 0h1.5m1.5 0h3m1.5 0h3m1.5 0h3m4.5 0h1.5m1.5 0h3m9 0h7.5m12 0h1.5m1.5 0h3m3 0h1.5m1.5 0h3m18 0h3m30 0h3m10.5 0h1.5m24 0h3m6 0h4.5m9 0h1.5M665 677.25h1.5m25.5 0h1.5m28.5 0h1.5m28.5 0h1.5m3 0h1.5m282 0h1.5m3 0h1.5m1.5 0h6m3 0h1.5m1.5 0h1.5m7.5 0h4.5m1.5 0h6m6 0h3m3 0h1.5m7.5 0h1.5m1.5 0h4.5m1.5 0h3m21 0h3m15 0h3m3 0h3m12 0h3m10.5 0h3m4.5 0h3m6 0h3m1.5 0h4.5m1.5 0h3M597.5 678.75h1.5m64.5 0h1.5m24 0h1.5m31.5 0h1.5m27 0h1.5m19.5 0h1.5m271.5 0h3m6 0h3m1.5 0h1.5m1.5 0h1.5m9 0h1.5m4.5 0h1.5m9 0h1.5m12 0h1.5m3 0h3m1.5 0h1.5m18 0h1.5m4.5 0h3m3 0h3m7.5 0h3m3 0h3m13.5 0h1.5m1.5 0h1.5m10.5 0h1.5m3 0h1.5m12 0h3M591.5 680.25h1.5m96 0h1.5m61.5 0h1.5m18 0h1.5m73.5 0h3m7.5 0h3m190.5 0h1.5m9 0h1.5m27 0h4.5m9 0h1.5m3 0h4.5m31.5 0h1.5m1.5 0h6m4.5 0h1.5m3 0h9m6 0h6m1.5 0h3m3 0h3m6 0h1.5m10.5 0h1.5M669.5 681.75h1.5m177 0h1.5m213 0h1.5m6 0h1.5m18 0h6m6 0h3m4.5 0h3m30 0h3m4.5 0h3m3 0h1.5m1.5 0h12m6 0h6m1.5 0h3m1.5 0h3m3 0h1.5m3 0h1.5m7.5 0h1.5M611 683.25h1.5m1.5 0h1.5m111 0h1.5m16.5 0h1.5m3 0h1.5m90 0h1.5m1.5 0h1.5m210 0h3m4.5 0h3m4.5 0h1.5m1.5 0h4.5m3 0h1.5m6 0h1.5m1.5 0h1.5m3 0h1.5m13.5 0h6m13.5 0h3m4.5 0h1.5m1.5 0h1.5m1.5 0h6m6 0h6m4.5 0h3m7.5 0h4.5m6 0h1.5m7.5 0h1.5m1.5 0h1.5m4.5 0h1.5M702.5 684.75h1.5m48 0h1.5m316.5 0h4.5m4.5 0h1.5m4.5 0h7.5m9 0h3m6 0h1.5m19.5 0h1.5m4.5 0h1.5m1.5 0h1.5m1.5 0h3m6 0h1.5m4.5 0h1.5m6 0h4.5m4.5 0h3m7.5 0h1.5m9 0h4.5m1.5 0h1.5M615.5 686.25h1.5m108 0h1.5m108 0h3m6 0h1.5m237 0h6m6 0h1.5m3 0h1.5m1.5 0h3m28.5 0h1.5m3 0h3m9 0h3m7.5 0h1.5m3 0h1.5m3 0h1.5m9 0h3m4.5 0h4.5m6 0h3M723.5 687.75h1.5m1.5 0h1.5m19.5 0h1.5m85.5 0h1.5m4.5 0h4.5m238.5 0h3m1.5 0h3m12 0h3m31.5 0h3m1.5 0h1.5m6 0h3m12 0h1.5m1.5 0h1.5m9 0h4.5m4.5 0h4.5m3 0h1.5M719 689.25h1.5m115.5 0h1.5m268.5 0h1.5m7.5 0h3m22.5 0h3m4.5 0h1.5m15 0h1.5m10.5 0h3m7.5 0h3M1086.5 690.75h3m13.5 0h1.5m6 0h1.5m1.5 0h6m21 0h3m3 0h3m27 0h3M728 692.25h1.5m33 0h1.5m321 0h1.5m1.5 0h1.5m22.5 0h1.5m1.5 0h1.5m1.5 0h4.5m15 0h3m1.5 0h1.5m4.5 0h4.5m19.5 0h4.5m3 0h3m1.5 0h4.5m4.5 0h1.5M603.5 693.75h3m111 0h1.5m1.5 0h1.5m364.5 0h4.5m34.5 0h3m9 0h12m21 0h1.5m10.5 0h1.5m7.5 0h1.5M611 695.25h1.5m517.5 0h1.5m4.5 0h4.5m16.5 0h4.5m4.5 0h3M602 696.75h3m130.5 0h1.5m399 0h1.5m19.5 0h1.5m3 0h6M726.5 698.25h1.5m6 0h1.5m396 0h3M722 701.25h1.5M768.5 704.25h1.5M716 705.75h1.5m1.5 0h1.5m4.5 0h1.5M717.5 707.25h4.5M740 711.75h1.5m87 0h1.5M723.5 713.25h1.5m7.5 0h1.5m13.5 0h1.5m84 0h1.5M740 714.75h1.5m91.5 0h1.5M738.5 716.25h3m4.5 0h1.5M738.5 717.75h1.5M740 722.25h1.5M1218.5 723.75h4.5M1218.5 725.25h1.5M1038.5 726.75h1.5m178.5 0h3M776 728.25h1.5m172.5 0h3m61.5 0h3m16.5 0h3m184.5 0h1.5M774.5 729.75h1.5m172.5 0h1.5m1.5 0h3m60 0h3m10.5 0h3m3 0h1.5m6 0h1.5M945.5 731.25h1.5m70.5 0h3m3 0h3m6 0h1.5m1.5 0h3m183 0h1.5M764 732.75h1.5m180 0h3m6 0h1.5m13.5 0h3m42 0h1.5m3 0h1.5m1.5 0h4.5m9 0h1.5m1.5 0h1.5m181.5 0h1.5M743 734.25h1.5m12 0h1.5m24 0h1.5m159 0h3m1.5 0h3m7.5 0h1.5m7.5 0h1.5m60 0h3m3 0h1.5m3 0h3m3 0h1.5m175.5 0h1.5M756.5 735.75h1.5m22.5 0h1.5m160.5 0h3m3 0h3m6 0h1.5m4.5 0h7.5m1.5 0h1.5m24 0h1.5m16.5 0h1.5m9 0h1.5m7.5 0h3m6 0h1.5m175.5 0h1.5M779 737.25h1.5m4.5 0h1.5m156 0h1.5m6 0h1.5m4.5 0h3m1.5 0h1.5m1.5 0h1.5m1.5 0h7.5m3 0h3m15 0h4.5m3 0h4.5m13.5 0h1.5m4.5 0h1.5m3 0h9m1.5 0h1.5m3 0h1.5m174 0h3M738.5 738.75h1.5m1.5 0h1.5m10.5 0h1.5m22.5 0h1.5m163.5 0h3m10.5 0h1.5m1.5 0h3m1.5 0h1.5m3 0h3m3 0h3m16.5 0h3m1.5 0h1.5m10.5 0h1.5m6 0h4.5m3 0h3m3 0h9m1.5 0h1.5m3 0h1.5m175.5 0h3M743 740.25h1.5m33 0h1.5m163.5 0h1.5m6 0h10.5m15 0h3m4.5 0h1.5m12 0h1.5m13.5 0h3m3 0h1.5m4.5 0h3m15 0h1.5m1.5 0h1.5m1.5 0h1.5m171 0h1.5m3 0h1.5M765.5 741.75h1.5m175.5 0h1.5m6 0h1.5m3 0h6m6 0h4.5m4.5 0h3m4.5 0h1.5m12 0h1.5m28.5 0h1.5m13.5 0h1.5m1.5 0h6m168 0h3m3 0h1.5M755 743.25h1.5m3 0h1.5m183 0h1.5m39 0h6m30 0h3m12 0h3m1.5 0h1.5m1.5 0h1.5m4.5 0h1.5m169.5 0h7.5M771.5 744.75h1.5m171 0h1.5m69 0h1.5m3 0h1.5m21 0h3m3 0h1.5m172.5 0h3m1.5 0h1.5M945.5 746.25h1.5m61.5 0h1.5m3 0h1.5m18 0h4.5m7.5 0h4.5m165 0h3m6 0h3M1013 747.75h1.5m1.5 0h3m6 0h1.5m6 0h6m7.5 0h3m163.5 0h1.5m1.5 0h1.5m1.5 0h3m7.5 0h1.5M1011.5 749.25h3m3 0h1.5m9 0h1.5m4.5 0h3m1.5 0h1.5m1.5 0h1.5m3 0h3m166.5 0h6m3 0h4.5M1013 750.75h3m1.5 0h3m7.5 0h7.5m10.5 0h4.5m160.5 0h1.5m3 0h6m3 0h4.5M1016 752.25h1.5m18 0h4.5m1.5 0h1.5m3 0h1.5m1.5 0h3m147 0h1.5m7.5 0h1.5m7.5 0h9m1.5 0h1.5M1017.5 753.75h1.5m18 0h1.5m4.5 0h1.5m1.5 0h1.5m1.5 0h3m147 0h4.5m9 0h3m6 0h3M1197.5 755.25h3m3 0h3m6 0h13.5m1.5 0h1.5M1197.5 756.75h3m3 0h1.5m7.5 0h1.5m1.5 0h1.5m3 0h1.5m3 0h1.5M1196 758.25h4.5m7.5 0h4.5m9 0h3M1196 759.75h1.5m1.5 0h1.5m3 0h1.5m3 0h4.5m9 0h1.5m4.5 0h1.5M1193 761.25h1.5m9 0h13.5m3 0h1.5M1197.5 762.75h3m1.5 0h4.5m1.5 0h3m1.5 0h4.5m3 0h1.5m1.5 0h1.5M1197.5 764.25h3m3 0h1.5m1.5 0h3m3 0h6M1194.5 765.75h1.5m1.5 0h1.5m4.5 0h1.5m3 0h1.5m6 0h3M1194.5 767.25h1.5m4.5 0h3m4.5 0h1.5m4.5 0h1.5M1194.5 768.75h1.5m3 0h4.5m3 0h1.5m4.5 0h3M1199 770.25h4.5m3 0h1.5M1199 771.75h6M1197.5 773.25h4.5M1194.5 774.75h1.5M1245.5 815.25h1.5M1244 816.75h1.5m1.5 0h3M1242.5 818.25h3m4.5 0h1.5M1242.5 819.75h3m4.5 0h1.5M1242.5 821.25h3m1.5 0h3M1242.5 822.75h3m1.5 0h1.5M1239.5 824.25h3m3 0h1.5M1239.5 825.75h1.5m4.5 0h3M1241 827.25h1.5m3 0h3M1245.5 828.75h3M1241 831.75h1.5"/>
<path stroke="#e67300" d="M366.5 236.25h1.5m48 0h7.5M366.5 237.75h1.5m52.5 0h3M387.5 239.25h1.5m1.5 0h1.5m7.5 0h1.5M366.5 240.75h1.5m31.5 0h3m16.5 0h1.5m60 0h1.5M368 242.25h1.5m48 0h1.5m61.5 0h1.5M372.5 243.75h1.5m1.5 0h3m39 0h1.5M444.5 245.25h6m28.5 0h1.5M362 246.75h1.5m15 0h1.5m34.5 0h1.5m28.5 0h1.5m30 0h1.5M444.5 248.25h1.5m6 0h1.5M377 249.75h1.5m66 0h1.5m7.5 0h1.5m22.5 0h1.5M372.5 251.25h1.5m1.5 0h1.5m9 0h1.5m85.5 0h1.5M386 252.75h1.5m12 0h1.5m55.5 0h1.5m13.5 0h3m4.5 0h1.5M384.5 254.25h1.5m13.5 0h1.5m49.5 0h1.5m4.5 0h1.5m21 0h4.5M326 255.75h1.5m34.5 0h1.5m16.5 0h1.5m3 0h3m12 0h1.5m51 0h1.5m15 0h1.5m6 0h3m6 0h1.5M383 257.25h1.5m81 0h3m1.5 0h1.5m4.5 0h1.5M312.5 258.75h1.5m66 0h1.5m87 0h3m4.5 0h1.5M317 260.25h1.5m3 0h1.5m45 0h1.5m12 0h3m82.5 0h1.5m6 0h1.5M347 261.75h1.5m34.5 0h1.5M338 263.25h1.5m127.5 0h4.5m10.5 0h1.5M324.5 264.75h1.5m18 0h1.5m37.5 0h1.5m6 0h1.5m15 0h1.5m54 0h3m19.5 0h1.5M390.5 266.25h1.5m46.5 0h1.5m48 0h1.5M369.5 267.75h1.5m10.5 0h1.5m7.5 0h1.5m48 0h1.5m48 0h1.5M357.5 269.25h4.5m85.5 0h1.5m42 0h1.5M419 270.75h1.5m27 0h3m12 0h1.5m15 0h1.5M375.5 272.25h3m1.5 0h1.5m79.5 0h1.5m3 0h1.5m3 0h1.5M330.5 273.75h1.5m33 0h1.5m10.5 0h3m70.5 0h1.5m15 0h1.5m24 0h1.5m1.5 0h3M327.5 276.75h1.5m100.5 0h3m42 0h1.5M359 278.25h1.5m117 0h3M341 279.75h1.5m33 0h1.5m52.5 0h1.5m34.5 0h4.5M327.5 281.25h3m13.5 0h1.5m57 0h1.5m61.5 0h1.5M329 282.75h1.5m18 0h1.5m27 0h1.5m66 0h1.5m19.5 0h3M330.5 284.25h3m108 0h3m64.5 0h1.5M407 285.75h1.5m100.5 0h1.5M326 287.25h1.5m76.5 0h1.5m99 0h1.5m1.5 0h1.5M396.5 288.75h1.5m106.5 0h3M332 290.25h1.5m55.5 0h1.5m6 0h3m6 0h1.5M389 291.75h1.5m6 0h1.5m15 0h1.5M335 293.25h1.5m46.5 0h1.5m4.5 0h1.5m7.5 0h1.5m7.5 0h1.5M369.5 294.75h1.5m25.5 0h1.5m42 0h1.5M368 296.25h1.5m1.5 0h1.5m9 0h1.5m55.5 0h1.5m25.5 0h1.5M336.5 297.75h1.5m28.5 0h3m1.5 0h1.5m94.5 0h1.5M335 299.25h1.5m132 0h1.5M333.5 300.75h1.5m132 0h1.5M354.5 302.25h1.5M354.5 303.75h1.5M333.5 305.25h1.5m45 0h1.5m16.5 0h1.5M380 306.75h1.5m16.5 0h1.5M378.5 308.25h1.5m16.5 0h1.5m19.5 0h3m72 0h7.5M378.5 309.75h1.5m24 0h1.5m9 0h1.5m4.5 0h3m25.5 0h3m10.5 0h1.5m28.5 0h7.5M399.5 311.25h3m21 0h1.5m25.5 0h1.5m43.5 0h4.5M396.5 312.75h3m27 0h1.5m22.5 0h1.5m40.5 0h3M341 314.25h1.5m84 0h1.5m39 0h1.5m22.5 0h1.5m33 0h1.5M341 315.75h1.5m141 0h9M341 317.25h1.5m3 0h3m79.5 0h1.5m51 0h1.5m7.5 0h3M390.5 318.75h1.5m97.5 0h1.5m33 0h1.5M345.5 320.25h1.5m43.5 0h1.5m91.5 0h1.5m37.5 0h1.5M347 321.75h1.5m4.5 0h1.5m36 0h1.5m7.5 0h1.5m66 0h1.5m13.5 0h1.5m1.5 0h1.5m1.5 0h1.5M324.5 323.25h1.5m16.5 0h1.5m4.5 0h1.5m40.5 0h1.5m19.5 0h1.5m1.5 0h1.5m22.5 0h1.5m3 0h1.5m39 0h1.5m1.5 0h1.5M324.5 324.75h1.5m15 0h4.5m3 0h1.5m61.5 0h3m1.5 0h1.5m67.5 0h1.5M324.5 326.25h1.5m15 0h1.5m1.5 0h1.5m13.5 0h1.5m87 0h1.5M341 327.75h1.5m1.5 0h1.5m10.5 0h3m7.5 0h1.5m31.5 0h1.5m16.5 0h1.5m28.5 0h1.5m72 0h1.5M341 329.25h1.5m10.5 0h1.5m64.5 0h1.5m57 0h1.5m40.5 0h1.5M341 330.75h1.5m19.5 0h1.5m75 0h3m36 0h1.5M335 332.25h1.5m24 0h3m10.5 0h3m4.5 0h1.5m9 0h1.5m21 0h1.5m4.5 0h1.5m19.5 0h3m30 0h4.5M339.5 333.75h3m18 0h1.5m30 0h1.5m30 0h3m16.5 0h4.5m27 0h3M332 335.25h1.5m3 0h1.5m1.5 0h1.5m12 0h3m15 0h1.5m4.5 0h1.5m1.5 0h1.5m10.5 0h1.5m49.5 0h1.5m28.5 0h1.5m9 0h3M332 336.75h1.5m3 0h1.5m9 0h1.5m4.5 0h4.5m19.5 0h1.5m1.5 0h1.5m7.5 0h1.5m1.5 0h1.5m12 0h1.5m34.5 0h1.5m28.5 0h1.5m10.5 0h1.5M324.5 338.25h1.5m6 0h1.5m3 0h1.5m7.5 0h1.5m1.5 0h1.5m3 0h1.5m6 0h1.5m7.5 0h1.5m7.5 0h1.5m12 0h1.5m40.5 0h1.5m13.5 0h1.5m12 0h6m1.5 0h1.5M336.5 339.75h3m9 0h1.5m3 0h1.5m6 0h1.5m16.5 0h1.5m6 0h1.5m27 0h1.5m12 0h1.5m19.5 0h1.5m19.5 0h1.5M336.5 341.25h1.5m46.5 0h1.5m19.5 0h1.5m64.5 0h1.5M326 342.75h1.5m6 0h1.5m3 0h1.5m28.5 0h1.5m37.5 0h1.5m4.5 0h1.5m30 0h1.5M327.5 344.25h1.5m4.5 0h3m4.5 0h1.5m9 0h1.5m1.5 0h4.5M327.5 345.75h1.5m6 0h1.5m3 0h1.5m16.5 0h3M330.5 347.25h1.5m93 0h1.5m40.5 0h1.5m3 0h1.5m1.5 0h1.5M362 348.75h1.5M332 350.25h1.5m24 0h1.5m3 0h1.5m66 0h1.5m10.5 0h1.5M398 351.75h1.5m25.5 0h4.5m12 0h1.5M335 353.25h1.5M407 354.75h1.5M348.5 356.25h1.5m61.5 0h1.5m16.5 0h1.5M332 357.75h1.5m96 0h1.5m7.5 0h1.5M335 359.25h3m9 0h1.5M330.5 360.75h1.5m4.5 0h1.5m4.5 0h4.5M330.5 362.25h1.5m19.5 0h1.5m4.5 0h3m10.5 0h1.5M330.5 363.75h1.5m9 0h1.5m12 0h1.5m3 0h1.5m3 0h1.5M327.5 365.25h1.5m10.5 0h1.5m6 0h1.5M327.5 366.75h1.5m18 0h1.5M329 368.25h1.5m12 0h1.5m1.5 0h1.5m19.5 0h1.5M324.5 369.75h1.5m3 0h1.5m12 0h3m10.5 0h1.5M321.5 371.25h3m16.5 0h1.5m13.5 0h1.5M321.5 372.75h1.5m16.5 0h1.5m15 0h1.5M356 374.25h1.5M356 375.75h1.5M362 377.25h1.5M342.5 378.75h1.5m18 0h3M327.5 380.25h3m10.5 0h1.5m15 0h4.5m1.5 0h1.5M354.5 381.75h1.5m3 0h3M339.5 383.25h1.5m10.5 0h1.5M344 384.75h1.5M318.5 386.25h1.5m22.5 0h1.5m12 0h1.5M342.5 387.75h1.5M333.5 389.25h1.5m4.5 0h1.5m13.5 0h1.5M318.5 390.75h1.5m13.5 0h1.5m19.5 0h1.5M318.5 392.25h1.5m34.5 0h1.5M318.5 393.75h1.5M318.5 395.25h1.5m16.5 0h3m13.5 0h1.5m1.5 0h1.5M336.5 396.75h1.5M315.5 398.25h1.5m4.5 0h1.5M315.5 399.75h3m24 0h1.5m63 0h1.5M323 401.25h1.5m15 0h3M323 402.75h1.5m6 0h3m6 0h1.5m15 0h1.5M323 404.25h1.5m7.5 0h1.5M318.5 405.75h1.5m24 0h1.5M335 407.25h3m4.5 0h1.5M338 408.75h1.5m3 0h1.5m60 0h1.5M329 410.25h1.5m1.5 0h1.5m4.5 0h1.5m3 0h1.5M329 411.75h1.5m1.5 0h1.5m18 0h1.5m28.5 0h3M320 413.25h1.5m6 0h1.5m3 0h1.5m6 0h1.5m3 0h1.5m45 0h1.5m39 0h1.5M320 414.75h1.5m10.5 0h1.5m48 0h3m4.5 0h1.5m1.5 0h1.5M324.5 416.25h1.5m12 0h1.5m48 0h1.5m31.5 0h3m10.5 0h1.5M347 417.75h1.5m1.5 0h3m1.5 0h3M345.5 419.25h1.5m1.5 0h1.5m3 0h4.5m31.5 0h1.5m31.5 0h1.5m666 0h1.5M321.5 420.75h1.5m25.5 0h1.5m3 0h4.5m1.5 0h1.5m60 0h3m28.5 0h1.5m1.5 0h1.5M353 422.25h1.5m1.5 0h1.5m24 0h3m4.5 0h1.5m3 0h3m1.5 0h1.5m40.5 0h1.5M344 423.75h4.5m4.5 0h1.5m6 0h1.5m18 0h1.5m16.5 0h1.5m39 0h1.5m15 0h1.5M324.5 425.25h1.5m18 0h1.5m6 0h3m3 0h1.5m19.5 0h1.5m15 0h3m31.5 0h1.5m4.5 0h3M347 426.75h1.5m3 0h1.5m40.5 0h3m33 0h1.5M347 428.25h1.5m15 0h1.5m15 0h1.5m72 0h1.5m10.5 0h1.5m70.5 0h3M347 429.75h1.5m105 0h1.5m82.5 0h3m541.5 0h3M327.5 431.25h1.5m16.5 0h1.5m13.5 0h1.5m12 0h3m162 0h1.5M326 432.75h1.5m48 0h3m4.5 0h1.5m30 0h1.5m15 0h1.5m16.5 0h1.5m13.5 0h1.5M350 434.25h1.5m12 0h3m1.5 0h1.5m15 0h1.5m6 0h1.5m57 0h1.5m7.5 0h1.5m3 0h1.5m94.5 0h1.5m6 0h4.5m1.5 0h1.5M357.5 435.75h1.5m3 0h3m10.5 0h1.5m9 0h1.5m3 0h1.5m60 0h1.5m6 0h1.5m96 0h3m7.5 0h3m4.5 0h1.5M348.5 437.25h1.5m1.5 0h1.5m4.5 0h6m9 0h1.5m3 0h3m9 0h1.5m21 0h1.5m6 0h1.5m6 0h1.5m33 0h1.5m1.5 0h1.5m69 0h1.5m19.5 0h3M353 438.75h1.5m3 0h1.5m15 0h1.5m34.5 0h1.5m15 0h1.5m3 0h1.5m102 0h1.5m21 0h1.5M339.5 440.25h3m12 0h3m7.5 0h1.5m6 0h1.5m1.5 0h1.5m37.5 0h1.5m13.5 0h1.5m103.5 0h1.5m15 0h3m30 0h1.5M327.5 441.75h1.5m10.5 0h1.5m6 0h1.5m7.5 0h1.5m7.5 0h1.5m10.5 0h1.5m36 0h1.5m3 0h1.5m33 0h1.5m7.5 0h1.5m3 0h1.5m82.5 0h4.5m826.5 0h1.5M329 443.25h1.5m1.5 0h1.5m15 0h1.5m36 0h1.5m84 0h1.5m3 0h1.5m73.5 0h4.5m28.5 0h1.5m795 0h1.5m1.5 0h1.5M341 444.75h1.5m10.5 0h1.5m22.5 0h3m96 0h1.5m72 0h4.5m823.5 0h4.5m1.5 0h1.5M321.5 446.25h4.5m9 0h1.5m4.5 0h1.5m72 0h1.5m36 0h1.5m10.5 0h1.5m10.5 0h1.5m55.5 0h1.5m16.5 0h3m10.5 0h3m3 0h9m796.5 0h1.5m1.5 0h4.5M335 447.75h1.5m1.5 0h1.5m1.5 0h1.5m19.5 0h1.5m51 0h1.5m58.5 0h1.5m1.5 0h1.5m54 0h1.5m18 0h1.5m9 0h4.5m1.5 0h10.5m798 0h3M332 449.25h1.5m6 0h3m16.5 0h1.5m51 0h3m13.5 0h1.5m10.5 0h1.5m9 0h1.5m25.5 0h1.5m75 0h7.5m7.5 0h4.5m1.5 0h4.5m796.5 0h4.5M321.5 450.75h1.5m7.5 0h1.5m1.5 0h1.5m13.5 0h1.5m61.5 0h3m63 0h3m67.5 0h1.5m4.5 0h7.5m6 0h10.5m796.5 0h6M323 452.25h1.5m27 0h1.5m7.5 0h1.5m49.5 0h1.5m1.5 0h1.5m33 0h1.5m4.5 0h1.5m19.5 0h1.5m1.5 0h1.5m75 0h6m9 0h1.5m3 0h6m63 0h1.5m727.5 0h1.5M323 453.75h1.5m9 0h1.5m16.5 0h3m7.5 0h3m1.5 0h1.5m81 0h1.5m94.5 0h1.5m12 0h3m4.5 0h1.5m3 0h1.5m1.5 0h4.5m1.5 0h3m787.5 0h4.5M318.5 455.25h6m18 0h1.5m96 0h1.5m7.5 0h1.5m3 0h1.5m88.5 0h3m24 0h12m64.5 0h1.5m726 0h1.5M318.5 456.75h1.5m3 0h1.5m12 0h1.5m6 0h1.5m3 0h1.5m27 0h1.5m9 0h1.5m19.5 0h1.5m43.5 0h1.5m10.5 0h1.5m78 0h3m12 0h3m4.5 0h1.5m1.5 0h10.5m36 0h3m16.5 0h1.5m9 0h1.5m597 0h3m115.5 0h1.5m3 0h6M341 458.25h1.5m7.5 0h1.5m6 0h1.5m4.5 0h1.5m18 0h1.5m3 0h1.5m37.5 0h1.5m7.5 0h1.5m6 0h3m3 0h1.5m18 0h1.5m76.5 0h3m3 0h3m4.5 0h4.5m4.5 0h1.5m6 0h3m61.5 0h4.5m601.5 0h1.5m120 0h3M320 459.75h1.5m30 0h1.5m1.5 0h1.5m1.5 0h1.5m12 0h1.5m10.5 0h1.5m42 0h1.5m18 0h3m19.5 0h1.5m78 0h1.5m3 0h4.5m3 0h4.5m4.5 0h1.5m6 0h1.5m789 0h4.5M318.5 461.25h1.5m31.5 0h3m1.5 0h1.5m1.5 0h1.5m103.5 0h1.5m84 0h3m1.5 0h3m10.5 0h3m6 0h3m45 0h1.5m688.5 0h3m1.5 0h1.5m37.5 0h3m6 0h1.5M318.5 462.75h1.5m21 0h1.5m10.5 0h1.5m10.5 0h1.5m4.5 0h1.5m67.5 0h1.5m12 0h1.5m94.5 0h3m16.5 0h1.5m6 0h3m45 0h1.5m690 0h1.5m1.5 0h1.5m34.5 0h4.5m7.5 0h4.5M318.5 464.25h1.5m1.5 0h1.5m225 0h1.5m16.5 0h3m51 0h1.5m49.5 0h1.5m577.5 0h1.5m63 0h3m1.5 0h3m28.5 0h6m1.5 0h1.5M321.5 465.75h1.5m21 0h1.5m12 0h1.5m3 0h1.5m64.5 0h1.5m4.5 0h1.5m111 0h1.5m16.5 0h1.5m52.5 0h1.5m630 0h1.5m63 0h3m1.5 0h3m28.5 0h9m7.5 0h3M321.5 467.25h1.5m16.5 0h1.5m18 0h1.5m66 0h1.5m10.5 0h1.5m6 0h1.5m96 0h3m9 0h3m3 0h3m9 0h3m72 0h1.5m19.5 0h1.5m579 0h1.5m51 0h1.5m1.5 0h4.5m4.5 0h4.5m1.5 0h3m1.5 0h1.5m21 0h4.5m1.5 0h3m9 0h4.5m4.5 0h1.5M321.5 468.75h1.5m70.5 0h3m36 0h1.5m18 0h4.5m12 0h1.5m85.5 0h1.5m13.5 0h1.5m3 0h3m91.5 0h1.5m4.5 0h1.5m462 0h1.5m162 0h1.5m1.5 0h1.5m1.5 0h3m3 0h1.5m3 0h1.5m21 0h7.5m4.5 0h1.5m12 0h1.5M330.5 470.25h4.5m10.5 0h1.5m45 0h1.5m18 0h1.5m15 0h1.5m4.5 0h1.5m9 0h1.5m108 0h1.5m9 0h6m4.5 0h3m91.5 0h1.5m460.5 0h3m3 0h3m3 0h1.5m7.5 0h1.5m151.5 0h6m6 0h1.5m7.5 0h4.5m3 0h6m4.5 0h1.5m21 0h4.5m1.5 0h1.5M330.5 471.75h1.5m1.5 0h3m10.5 0h1.5m12 0h1.5m49.5 0h3m30 0h1.5m25.5 0h1.5m79.5 0h3m18 0h6m39 0h1.5m24 0h1.5m19.5 0h1.5m3 0h1.5m459 0h1.5m1.5 0h1.5m3 0h3m3 0h3m6 0h1.5m88.5 0h1.5m66 0h4.5m15 0h7.5m6 0h1.5m22.5 0h7.5M332 473.25h1.5m9 0h1.5m4.5 0h3m40.5 0h1.5m7.5 0h1.5m34.5 0h1.5m13.5 0h1.5m1.5 0h1.5m10.5 0h1.5m84 0h1.5m22.5 0h4.5m39 0h1.5m12 0h1.5m30 0h6m459 0h3m24 0h1.5m24 0h3m123 0h6m12 0h3m4.5 0h4.5m1.5 0h1.5m27 0h3M332 474.75h1.5m3 0h1.5m6 0h1.5m24 0h1.5m58.5 0h1.5m12 0h1.5m7.5 0h1.5m94.5 0h6m24 0h3m54 0h1.5m30 0h6m456 0h1.5m16.5 0h1.5m7.5 0h3m18 0h1.5m3 0h3m1.5 0h1.5m121.5 0h3m21 0h1.5m3 0h1.5m28.5 0h1.5m1.5 0h3M332 476.25h1.5m21 0h1.5m12 0h4.5m22.5 0h1.5m45 0h3m10.5 0h1.5m12 0h1.5m82.5 0h1.5m9 0h3m60 0h1.5m513 0h3m16.5 0h1.5m16.5 0h4.5m7.5 0h1.5m4.5 0h1.5m42 0h3m12 0h1.5m109.5 0h9m1.5 0h3M339.5 477.75h1.5m13.5 0h3m7.5 0h1.5m1.5 0h4.5m67.5 0h1.5m13.5 0h1.5m6 0h1.5m97.5 0h7.5m571.5 0h3m30 0h3m18 0h3m39 0h3m126 0h1.5m1.5 0h3m4.5 0h3M330.5 479.25h1.5m9 0h1.5m12 0h4.5m7.5 0h3m30 0h1.5m25.5 0h3m21 0h1.5m1.5 0h1.5m9 0h1.5m102 0h3m546 0h3m19.5 0h3m1.5 0h1.5m19.5 0h1.5m1.5 0h1.5m3 0h1.5m22.5 0h4.5m22.5 0h1.5m12 0h3m19.5 0h1.5m105 0h4.5M347 480.75h1.5m6 0h4.5m7.5 0h3m66 0h1.5m13.5 0h1.5m13.5 0h1.5m99 0h3m550.5 0h1.5m18 0h1.5m27 0h4.5m1.5 0h1.5m21 0h1.5m15 0h4.5m6 0h1.5m36 0h3m100.5 0h6M356 482.25h1.5m1.5 0h1.5m25.5 0h4.5m16.5 0h1.5m159 0h1.5m547.5 0h1.5m22.5 0h1.5m28.5 0h9m10.5 0h1.5m18 0h6m147 0h3M341 483.75h1.5m18 0h1.5m21 0h1.5m1.5 0h1.5m783 0h1.5m3 0h4.5m34.5 0h7.5m141 0h3m3 0h1.5M333.5 485.25h3m4.5 0h1.5m6 0h1.5m6 0h1.5m1.5 0h1.5m52.5 0h3m757.5 0h3m42 0h3m136.5 0h1.5m1.5 0h1.5m4.5 0h4.5M332 486.75h1.5m7.5 0h1.5m6 0h1.5m7.5 0h3m12 0h3m18 0h1.5m51 0h1.5m10.5 0h1.5m78 0h3m634.5 0h1.5m183 0h12M336.5 488.25h1.5m6 0h1.5m1.5 0h1.5m10.5 0h1.5m10.5 0h1.5m3 0h1.5m36 0h1.5m42 0h1.5m151.5 0h3m744 0h12m1.5 0h1.5M333.5 489.75h1.5m10.5 0h1.5m13.5 0h1.5m15 0h1.5m9 0h1.5m24 0h1.5m21 0h1.5m19.5 0h1.5m129 0h1.5m21 0h1.5m7.5 0h1.5m739.5 0h3m3 0h3M335 491.25h1.5m21 0h3m12 0h3m3 0h1.5m37.5 0h1.5m1.5 0h1.5m34.5 0h1.5m151.5 0h3m9 0h1.5m49.5 0h1.5m685.5 0h6M339.5 492.75h1.5m16.5 0h3m12 0h1.5m40.5 0h1.5m4.5 0h1.5m13.5 0h1.5m9 0h1.5m9 0h1.5m78 0h1.5m75 0h4.5m6 0h1.5m738 0h3M332 494.25h1.5m3 0h1.5m3 0h1.5m7.5 0h1.5m13.5 0h3m51 0h1.5m15 0h1.5m99 0h1.5M332 495.75h1.5m31.5 0h1.5m52.5 0h1.5m15 0h1.5m18 0h3m78 0h1.5m81 0h1.5m6 0h1.5M366.5 497.25h7.5m10.5 0h1.5m48 0h3m18 0h3m76.5 0h1.5m87 0h1.5m12 0h1.5M339.5 498.75h1.5m1.5 0h1.5m1.5 0h1.5m21 0h4.5m40.5 0h1.5m21 0h1.5m3 0h1.5m15 0h1.5m166.5 0h1.5m10.5 0h1.5M333.5 500.25h1.5m6 0h1.5m4.5 0h1.5m21 0h3m46.5 0h1.5m15 0h3m9 0h1.5m3 0h3m1.5 0h1.5m168 0h7.5M333.5 501.75h1.5m12 0h1.5m70.5 0h1.5m15 0h3m9 0h1.5m3 0h3M342.5 503.25h1.5m22.5 0h1.5m3 0h1.5m48 0h1.5m25.5 0h1.5m21 0h1.5m69 0h3m43.5 0h1.5m13.5 0h1.5M366.5 504.75h1.5m48 0h3m9 0h1.5m18 0h1.5m7.5 0h1.5m12 0h1.5m70.5 0h1.5M428 506.25h1.5m6 0h1.5m16.5 0h3m13.5 0h1.5m72 0h1.5m40.5 0h1.5m3 0h1.5m3 0h1.5M372.5 507.75h1.5m45 0h1.5m7.5 0h1.5m6 0h1.5m16.5 0h3m13.5 0h1.5m72 0h1.5m39 0h3m3 0h1.5m3 0h1.5m3 0h1.5M366.5 509.25h1.5m1.5 0h1.5m3 0h1.5m40.5 0h1.5m10.5 0h1.5m7.5 0h1.5m19.5 0h1.5m10.5 0h1.5m73.5 0h1.5m3 0h1.5m13.5 0h1.5m16.5 0h1.5M362 510.75h1.5m3 0h6m1.5 0h1.5m40.5 0h1.5m10.5 0h1.5m7.5 0h3m82.5 0h1.5m21 0h3m1.5 0h1.5m13.5 0h3m15 0h1.5M366.5 512.25h7.5m1.5 0h3m37.5 0h1.5m3 0h3m33 0h1.5m33 0h1.5m57 0h1.5m12 0h1.5m1.5 0h1.5m18 0h1.5m9 0h1.5m39 0h1.5m1.5 0h1.5m388.5 0h3M363.5 513.75h1.5m1.5 0h4.5m3 0h1.5m1.5 0h1.5m43.5 0h1.5m4.5 0h1.5m6 0h1.5m12 0h3m57 0h1.5m52.5 0h1.5m1.5 0h1.5m18 0h3m6 0h1.5m40.5 0h1.5m3 0h1.5M368 515.25h3m10.5 0h1.5m22.5 0h4.5m10.5 0h1.5m15 0h1.5m6 0h1.5m7.5 0h1.5m90 0h1.5m16.5 0h1.5m1.5 0h1.5m18 0h1.5m15 0h1.5m438 0h1.5M369.5 516.75h3m9 0h3m13.5 0h1.5m10.5 0h1.5m36 0h1.5m10.5 0h1.5m82.5 0h1.5m18 0h4.5m18 0h1.5m10.5 0h3m4.5 0h1.5m36 0h1.5m397.5 0h1.5M359 518.25h1.5m12 0h1.5m7.5 0h1.5m16.5 0h1.5m13.5 0h1.5m3 0h1.5m30 0h1.5m10.5 0h1.5m66 0h1.5m12 0h3m18 0h3m15 0h1.5m1.5 0h1.5m19.5 0h1.5m27 0h1.5m408 0h3M357.5 519.75h1.5m1.5 0h1.5m6 0h1.5m3 0h3m3 0h3m3 0h1.5m63 0h1.5m45 0h3m46.5 0h4.5m15 0h1.5m19.5 0h1.5m21 0h1.5m25.5 0h1.5m7.5 0h1.5m400.5 0h1.5M357.5 521.25h1.5m13.5 0h3m9 0h4.5m15 0h3m13.5 0h1.5m1.5 0h1.5m72 0h3m9 0h1.5m34.5 0h3m39 0h1.5m3 0h1.5m51 0h1.5M372.5 522.75h3m10.5 0h4.5m15 0h1.5m9 0h1.5m1.5 0h1.5m3 0h1.5m36 0h1.5m33 0h4.5m42 0h1.5m1.5 0h3m96 0h1.5M362 524.25h1.5m9 0h4.5m10.5 0h3m6 0h1.5m10.5 0h1.5m18 0h1.5m13.5 0h1.5m19.5 0h1.5m76.5 0h3m1.5 0h1.5m91.5 0h1.5M362 525.75h3m12 0h1.5m10.5 0h1.5m7.5 0h1.5m28.5 0h1.5m31.5 0h1.5m10.5 0h1.5m48 0h1.5m18 0h1.5m3 0h1.5m88.5 0h1.5M359 527.25h1.5m4.5 0h1.5m40.5 0h1.5m1.5 0h1.5m15 0h1.5m21 0h1.5m6 0h1.5m4.5 0h1.5m7.5 0h3m43.5 0h1.5m31.5 0h3m42 0h1.5m1.5 0h1.5m7.5 0h1.5M375.5 528.75h1.5m31.5 0h3m15 0h1.5m15 0h1.5m10.5 0h1.5m6 0h1.5m9 0h1.5m75 0h1.5m33 0h1.5m9 0h1.5m10.5 0h1.5m451.5 0h1.5M473 530.25h1.5m21 0h1.5m24 0h1.5m1.5 0h1.5m7.5 0h1.5m21 0h1.5m27 0h1.5m7.5 0h7.5m4.5 0h1.5m265.5 0h4.5m433.5 0h1.5M362 531.75h1.5m13.5 0h1.5m46.5 0h1.5m46.5 0h1.5m22.5 0h1.5m94.5 0h7.5m3 0h1.5m21 0h1.5m243 0h7.5m384 0h1.5M360.5 533.25h1.5m24 0h1.5m1.5 0h1.5m57 0h1.5m21 0h1.5m1.5 0h1.5m22.5 0h1.5m27 0h1.5m4.5 0h1.5m24 0h1.5m40.5 0h1.5m270 0h9M381.5 534.75h6m33 0h1.5m39 0h1.5m10.5 0h1.5m51 0h3m3 0h1.5m66 0h1.5m267 0h1.5m1.5 0h3m3 0h3m420 0h4.5m6 0h1.5M362 536.25h1.5m16.5 0h1.5m34.5 0h4.5m64.5 0h1.5m31.5 0h1.5m4.5 0h3m7.5 0h1.5m13.5 0h1.5m48 0h1.5m33 0h1.5m229.5 0h1.5m4.5 0h4.5m1.5 0h1.5M380 537.75h1.5m10.5 0h1.5m31.5 0h1.5m96 0h3m19.5 0h1.5m3 0h1.5m313.5 0h9m432 0h3M378.5 539.25h1.5m43.5 0h1.5m81 0h1.5m10.5 0h1.5m7.5 0h1.5m9 0h3m61.5 0h1.5m1.5 0h1.5m9 0h3m247.5 0h1.5m75 0h3m3 0h3m352.5 0h1.5M363.5 540.75h1.5m1.5 0h1.5m25.5 0h1.5m24 0h1.5m3 0h1.5m81 0h1.5m19.5 0h1.5m7.5 0h1.5m354 0h3m1.5 0h1.5m36 0h3m4.5 0h4.5m3 0h3M380 542.25h3m42 0h1.5m114 0h1.5m21 0h3m295.5 0h3m16.5 0h1.5m3 0h6m3 0h1.5m1.5 0h1.5m9 0h1.5m6 0h1.5m16.5 0h6m4.5 0h1.5m1.5 0h6m102 0h1.5m249 0h1.5M365 543.75h4.5m9 0h3m43.5 0h1.5m90 0h1.5m15 0h1.5m30 0h1.5m16.5 0h1.5m261 0h1.5m15 0h3m16.5 0h4.5m1.5 0h4.5m1.5 0h4.5m6 0h6m6 0h7.5m13.5 0h3m4.5 0h1.5m3 0h3m103.5 0h1.5M363.5 545.25h4.5m4.5 0h1.5m49.5 0h1.5m117 0h1.5m7.5 0h1.5m49.5 0h1.5m3 0h1.5m27 0h1.5m208.5 0h1.5m9 0h1.5m27 0h1.5m3 0h3m12 0h3m4.5 0h3m3 0h1.5m4.5 0h1.5m18 0h1.5m1.5 0h1.5m3 0h3m102 0h1.5m1.5 0h1.5M365 546.75h3m6 0h3m7.5 0h4.5m6 0h1.5m154.5 0h1.5m57 0h4.5m7.5 0h1.5m12 0h1.5m201 0h1.5m46.5 0h6m19.5 0h1.5m12 0h3m15 0h6m3 0h3m72 0h3m25.5 0h7.5m16.5 0h1.5M375.5 548.25h3m60 0h1.5m175.5 0h1.5m24 0h1.5m195 0h3m6 0h3m1.5 0h6m55.5 0h1.5m1.5 0h1.5m4.5 0h9m4.5 0h1.5m3 0h3m3 0h3m3 0h3m70.5 0h4.5m27 0h1.5m4.5 0h3m244.5 0h9M377 549.75h1.5m60 0h1.5m124.5 0h1.5m75 0h3m201 0h10.5m61.5 0h1.5m6 0h1.5m3 0h1.5m4.5 0h7.5m1.5 0h4.5m3 0h4.5m70.5 0h3m33 0h3m16.5 0h3m223.5 0h1.5m1.5 0h1.5m1.5 0h4.5M371 551.25h1.5m13.5 0h1.5m45 0h1.5m1.5 0h1.5m157.5 0h1.5m21 0h1.5m3 0h1.5m217.5 0h4.5m3 0h6m69 0h1.5m22.5 0h9m25.5 0h1.5m1.5 0h3m1.5 0h1.5m22.5 0h1.5m12 0h4.5m19.5 0h3m1.5 0h1.5m9 0h3m1.5 0h1.5m3 0h3m3 0h6m222 0h3m1.5 0h1.5m3 0h1.5m12 0h1.5M432.5 552.75h1.5m4.5 0h1.5m75 0h1.5m78 0h1.5m21 0h1.5m3 0h1.5m217.5 0h1.5m1.5 0h1.5m3 0h4.5m97.5 0h4.5m22.5 0h1.5m3 0h12m9 0h1.5m4.5 0h1.5m10.5 0h4.5m1.5 0h6m3 0h6m9 0h3m3 0h3m6 0h3m6 0h1.5m4.5 0h9m190.5 0h1.5m28.5 0h1.5m3 0h3m6 0h1.5m1.5 0h6M446 554.25h1.5m114 0h1.5m16.5 0h1.5m12 0h1.5m22.5 0h1.5m21 0h1.5m15 0h1.5m187.5 0h3m1.5 0h1.5m1.5 0h3m93 0h4.5m3 0h3m1.5 0h1.5m6 0h3m1.5 0h6m1.5 0h6m1.5 0h4.5m10.5 0h1.5m1.5 0h6m4.5 0h1.5m1.5 0h1.5m3 0h4.5m1.5 0h1.5m1.5 0h7.5m4.5 0h6m3 0h1.5m7.5 0h3m1.5 0h1.5m6 0h3m1.5 0h9m1.5 0h3m1.5 0h1.5m7.5 0h4.5m175.5 0h6m28.5 0h1.5m1.5 0h4.5m6 0h1.5M380 555.75h1.5m10.5 0h1.5m36 0h1.5m1.5 0h3m58.5 0h1.5m67.5 0h1.5m75 0h1.5m202.5 0h1.5m1.5 0h10.5m94.5 0h3m1.5 0h1.5m1.5 0h9m1.5 0h9m1.5 0h6m1.5 0h6m6 0h1.5m4.5 0h6m1.5 0h3m3 0h1.5m3 0h1.5m1.5 0h1.5m7.5 0h3m10.5 0h1.5m3 0h3m6 0h6m7.5 0h18m1.5 0h3m3 0h3m3 0h1.5m175.5 0h3m7.5 0h3m4.5 0h3m3 0h13.5m9 0h1.5M383 557.25h1.5m46.5 0h1.5m15 0h1.5m126 0h1.5m40.5 0h1.5m24 0h3m12 0h3m172.5 0h1.5m1.5 0h6m7.5 0h4.5m93 0h1.5m3 0h1.5m3 0h1.5m1.5 0h3m7.5 0h1.5m3 0h1.5m6 0h4.5m6 0h1.5m3 0h1.5m6 0h9m3 0h4.5m3 0h3m39 0h6m10.5 0h4.5m4.5 0h1.5m4.5 0h1.5m3 0h3m3 0h3m78 0h3m1.5 0h4.5m93 0h1.5m1.5 0h12m12 0h3M374 558.75h1.5m7.5 0h1.5m94.5 0h1.5m15 0h1.5m16.5 0h1.5m60 0h1.5m16.5 0h1.5m238.5 0h1.5m3 0h4.5m7.5 0h3m96 0h4.5m1.5 0h3m1.5 0h1.5m9 0h1.5m3 0h1.5m1.5 0h1.5m3 0h4.5m6 0h3m1.5 0h3m7.5 0h1.5m3 0h1.5m1.5 0h3m1.5 0h4.5m43.5 0h1.5m34.5 0h1.5m1.5 0h1.5m3 0h1.5m4.5 0h3m9 0h4.5m3 0h1.5m51 0h1.5M372.5 560.25h1.5m6 0h1.5m64.5 0h1.5m124.5 0h1.5m15 0h1.5m28.5 0h1.5m4.5 0h1.5m205.5 0h13.5m3 0h3m1.5 0h4.5m93 0h3m1.5 0h1.5m10.5 0h7.5m1.5 0h3m1.5 0h6m1.5 0h1.5m1.5 0h12m6 0h3m1.5 0h6m84 0h1.5m1.5 0h1.5m10.5 0h1.5m6 0h3m1.5 0h1.5m3 0h1.5M383 561.75h1.5m48 0h1.5m12 0h3m28.5 0h1.5m106.5 0h1.5m33 0h4.5m16.5 0h1.5m189 0h12m3 0h3m3 0h1.5m1.5 0h1.5m94.5 0h1.5m1.5 0h1.5m4.5 0h3m3 0h12m1.5 0h1.5m1.5 0h6m1.5 0h6m12 0h3m3 0h3m90 0h3m1.5 0h4.5m6 0h9m1.5 0h1.5M383 563.25h1.5m1.5 0h1.5m132 0h1.5m117 0h1.5m192 0h4.5m1.5 0h10.5m1.5 0h3m6 0h1.5m97.5 0h3m1.5 0h1.5m3 0h4.5m1.5 0h3m7.5 0h1.5m1.5 0h7.5m114 0h4.5m1.5 0h3m1.5 0h4.5m3 0h1.5M494 564.75h1.5m25.5 0h1.5m42 0h3m7.5 0h1.5m57 0h1.5m12 0h1.5m183 0h4.5m3 0h6m1.5 0h1.5m1.5 0h3m112.5 0h4.5m3 0h3m13.5 0h4.5m87 0h1.5m25.5 0h1.5m1.5 0h12m3 0h1.5M386 566.25h1.5m57 0h1.5m189 0h1.5m16.5 0h1.5m171 0h4.5m3 0h4.5m4.5 0h4.5m3 0h3m84 0h1.5m16.5 0h3m15 0h4.5m105 0h1.5m3 0h3m18 0h4.5m1.5 0h6m4.5 0h1.5m168 0h3m3 0h3m9 0h1.5M386 567.75h1.5m66 0h1.5m25.5 0h1.5m28.5 0h3m81 0h3m16.5 0h1.5m18 0h1.5m6 0h1.5m183 0h3m3 0h6m6 0h3m3 0h4.5m1.5 0h3m1.5 0h1.5m75 0h1.5m16.5 0h3m129 0h4.5m18 0h1.5m4.5 0h1.5m171 0h1.5m6 0h1.5m3 0h1.5m1.5 0h1.5m6 0h1.5M377 569.25h1.5m66 0h1.5m9 0h1.5m66 0h1.5m301.5 0h3m3 0h6m3 0h9m1.5 0h1.5m1.5 0h3m79.5 0h4.5m15 0h1.5m51 0h3m70.5 0h10.5m42 0h3m48 0h1.5m100.5 0h1.5m1.5 0h4.5m1.5 0h4.5m1.5 0h3m4.5 0h3M390.5 570.75h1.5m4.5 0h1.5m124.5 0h1.5m70.5 0h3m15 0h3m18 0h1.5m190.5 0h3m3 0h1.5m1.5 0h3m4.5 0h1.5m3 0h1.5m3 0h6m79.5 0h6m13.5 0h1.5m45 0h1.5m1.5 0h3m1.5 0h1.5m70.5 0h10.5m7.5 0h1.5m3 0h1.5m24 0h7.5m45 0h4.5m100.5 0h9m1.5 0h1.5m3 0h4.5m3 0h1.5m3 0h3M522.5 572.25h1.5m4.5 0h3m3 0h1.5m52.5 0h1.5m3 0h1.5m1.5 0h1.5m4.5 0h1.5m1.5 0h1.5m1.5 0h1.5m6 0h1.5m1.5 0h1.5m21 0h1.5m87 0h1.5m91.5 0h1.5m1.5 0h3m1.5 0h6m4.5 0h4.5m4.5 0h4.5m84 0h4.5m13.5 0h1.5m36 0h3m12 0h3m70.5 0h1.5m6 0h12m1.5 0h1.5m3 0h6m7.5 0h4.5m3 0h3m52.5 0h4.5m66 0h4.5m27 0h1.5m3 0h1.5m1.5 0h3m3 0h3m4.5 0h3m1.5 0h6M453.5 573.75h1.5m1.5 0h1.5m69 0h1.5m60 0h1.5m136.5 0h1.5m1.5 0h1.5m90 0h1.5m9 0h3m6 0h4.5m4.5 0h1.5m85.5 0h1.5m1.5 0h3m12 0h3m45 0h4.5m1.5 0h3m79.5 0h13.5m6 0h1.5m9 0h4.5m3 0h3m54 0h6m64.5 0h4.5m25.5 0h1.5m6 0h4.5m1.5 0h1.5m7.5 0h1.5m1.5 0h3m3 0h1.5M441.5 575.25h1.5m4.5 0h1.5m6 0h1.5m70.5 0h1.5m39 0h1.5m22.5 0h1.5m24 0h1.5m3 0h1.5m13.5 0h3m33 0h1.5m46.5 0h1.5m9 0h1.5m73.5 0h1.5m24 0h1.5m1.5 0h6m1.5 0h1.5m1.5 0h1.5m1.5 0h1.5m99 0h1.5m22.5 0h3m6 0h1.5m7.5 0h3m9 0h1.5m1.5 0h3m3 0h1.5m79.5 0h6m1.5 0h4.5m4.5 0h1.5m1.5 0h3m1.5 0h10.5m3 0h3m1.5 0h1.5m46.5 0h4.5m72 0h4.5m21 0h1.5m13.5 0h4.5m7.5 0h4.5M387.5 576.75h1.5m60 0h1.5m9 0h1.5m106.5 0h1.5m48 0h1.5m6 0h1.5m37.5 0h1.5m4.5 0h1.5m49.5 0h1.5m79.5 0h1.5m1.5 0h6m21 0h1.5m1.5 0h6m1.5 0h1.5m105 0h4.5m28.5 0h6m6 0h6m6 0h4.5m1.5 0h3m72 0h3m3 0h4.5m3 0h3m6 0h1.5m1.5 0h3m3 0h4.5m1.5 0h10.5m45 0h7.5m70.5 0h6m37.5 0h1.5m12 0h1.5M449 578.25h1.5m6 0h1.5m123 0h1.5m6 0h1.5m9 0h1.5m19.5 0h1.5m1.5 0h1.5m108 0h1.5m21 0h1.5m45 0h1.5m16.5 0h3m10.5 0h10.5m96 0h1.5m7.5 0h4.5m18 0h1.5m7.5 0h1.5m3 0h6m3 0h7.5m6 0h4.5m73.5 0h6m1.5 0h9m3 0h7.5m1.5 0h10.5m1.5 0h9m34.5 0h3m3 0h1.5m3 0h3m64.5 0h18m13.5 0h3M449 579.75h1.5m7.5 0h1.5m58.5 0h1.5m42 0h1.5m7.5 0h1.5m12 0h1.5m21 0h1.5m9 0h4.5m60 0h3m48 0h1.5m67.5 0h1.5m4.5 0h3m9 0h1.5m16.5 0h1.5m100.5 0h1.5m4.5 0h1.5m1.5 0h4.5m16.5 0h3m3 0h3m1.5 0h1.5m3 0h10.5m1.5 0h4.5m7.5 0h3m75 0h9m3 0h3m4.5 0h1.5m3 0h9m4.5 0h4.5m3 0h3m33 0h9m1.5 0h4.5m63 0h3m4.5 0h19.5M384.5 581.25h1.5m1.5 0h1.5m70.5 0h1.5m60 0h1.5m7.5 0h3m25.5 0h1.5m13.5 0h6m3 0h1.5m3 0h1.5m1.5 0h1.5m21 0h4.5m4.5 0h3m61.5 0h1.5m33 0h3m4.5 0h1.5m1.5 0h1.5m18 0h4.5m3 0h1.5m48 0h1.5m3 0h9m118.5 0h1.5m4.5 0h6m1.5 0h1.5m1.5 0h1.5m12 0h3m1.5 0h12m9 0h4.5m90 0h1.5m3 0h10.5m1.5 0h13.5m3 0h3m37.5 0h1.5m7.5 0h1.5m3 0h3m1.5 0h1.5m61.5 0h1.5m21 0h3m3 0h3M380 582.75h1.5m1.5 0h3m1.5 0h1.5m72 0h4.5m52.5 0h1.5m1.5 0h1.5m9 0h1.5m22.5 0h3m15 0h3m1.5 0h1.5m6 0h3m1.5 0h1.5m7.5 0h1.5m4.5 0h1.5m16.5 0h1.5m61.5 0h1.5m33 0h3m3 0h3m1.5 0h1.5m75 0h3m3 0h6m127.5 0h4.5m4.5 0h1.5m13.5 0h19.5m4.5 0h4.5m90 0h1.5m7.5 0h6m3 0h3m3 0h7.5m3 0h1.5m3 0h1.5m31.5 0h3m7.5 0h1.5m3 0h3m60 0h6m21 0h1.5m3 0h4.5M387.5 584.25h1.5m4.5 0h1.5m133.5 0h1.5m24 0h1.5m27 0h1.5m25.5 0h1.5m15 0h1.5m58.5 0h1.5m25.5 0h1.5m9 0h7.5m16.5 0h1.5m6 0h1.5m33 0h1.5m21 0h1.5m1.5 0h3m135 0h12m1.5 0h12m3 0h3m4.5 0h1.5m4.5 0h4.5m12 0h1.5m76.5 0h6m3 0h6m4.5 0h1.5m3 0h3m1.5 0h4.5m6 0h4.5m25.5 0h3m1.5 0h1.5m9 0h3m61.5 0h1.5m1.5 0h4.5m25.5 0h4.5M387.5 585.75h1.5m6 0h1.5m130.5 0h1.5m78 0h1.5m1.5 0h4.5m12 0h1.5m82.5 0h1.5m6 0h1.5m4.5 0h6m18 0h1.5m16.5 0h1.5m43.5 0h7.5m133.5 0h9m1.5 0h16.5m1.5 0h10.5m1.5 0h6m13.5 0h3m76.5 0h4.5m3 0h1.5m9 0h1.5m3 0h12m3 0h6m21 0h7.5m108 0h4.5m1.5 0h1.5M396.5 587.25h1.5m48 0h1.5m3 0h1.5m18 0h1.5m48 0h1.5m31.5 0h1.5m4.5 0h1.5m9 0h1.5m1.5 0h1.5m12 0h3m21 0h1.5m3 0h1.5m9 0h3m81 0h1.5m13.5 0h6m220.5 0h3m3 0h4.5m1.5 0h1.5m1.5 0h1.5m1.5 0h7.5m12 0h1.5m3 0h3m1.5 0h3m3 0h3m1.5 0h1.5m4.5 0h3m76.5 0h3m1.5 0h7.5m1.5 0h1.5m4.5 0h16.5m1.5 0h4.5m13.5 0h4.5m4.5 0h1.5m3 0h1.5m12 0h1.5m54 0h4.5m1.5 0h1.5m1.5 0h3m25.5 0h1.5m3 0h3M398 588.75h1.5m46.5 0h1.5m3 0h1.5m67.5 0h1.5m51 0h1.5m27 0h3m21 0h1.5m82.5 0h1.5m1.5 0h1.5m6 0h1.5m3 0h4.5m223.5 0h1.5m4.5 0h3m1.5 0h3m3 0h4.5m1.5 0h1.5m12 0h1.5m3 0h4.5m1.5 0h1.5m1.5 0h4.5m6 0h4.5m75 0h3m1.5 0h9m1.5 0h1.5m3 0h12m1.5 0h4.5m3 0h3m13.5 0h1.5m12 0h1.5m12 0h1.5m36 0h3m3 0h1.5m13.5 0h1.5m3 0h3m31.5 0h3M450.5 590.25h1.5m9 0h3m1.5 0h1.5m4.5 0h1.5m3 0h1.5m42 0h1.5m31.5 0h1.5m1.5 0h3m9 0h1.5m30 0h4.5m3 0h1.5m7.5 0h1.5m12 0h1.5m57 0h1.5m37.5 0h1.5m3 0h1.5m6 0h1.5m69 0h1.5m147 0h1.5m1.5 0h9m6 0h22.5m4.5 0h3m90 0h3m1.5 0h1.5m3 0h3m4.5 0h3m1.5 0h9m3 0h4.5m84 0h4.5m1.5 0h4.5m7.5 0h1.5m1.5 0h1.5m33 0h3M461 591.75h3m3 0h1.5m6 0h1.5m43.5 0h1.5m33 0h1.5m1.5 0h3m10.5 0h1.5m30 0h1.5m13.5 0h3m7.5 0h1.5m1.5 0h1.5m93 0h3m12 0h1.5m9 0h3m54 0h1.5m151.5 0h10.5m1.5 0h3m3 0h6m3 0h3m6 0h3m3 0h1.5m91.5 0h6m3 0h3m3 0h7.5m1.5 0h3m3 0h6m87 0h1.5m3 0h1.5m1.5 0h1.5m6 0h3m34.5 0h1.5M519.5 593.25h1.5m19.5 0h1.5m15 0h1.5m34.5 0h3m9 0h1.5m103.5 0h1.5m18 0h1.5m22.5 0h1.5m52.5 0h3m153 0h1.5m1.5 0h6m3 0h4.5m1.5 0h1.5m4.5 0h3m4.5 0h3m94.5 0h6m6 0h7.5m3 0h1.5m1.5 0h1.5m1.5 0h1.5m3 0h4.5m13.5 0h3m18 0h3m45 0h1.5m1.5 0h3m4.5 0h1.5m10.5 0h1.5M540.5 594.75h1.5m43.5 0h3m6 0h1.5m30 0h1.5m79.5 0h1.5m6 0h1.5m91.5 0h1.5m150 0h3m4.5 0h1.5m3 0h1.5m3 0h7.5m10.5 0h4.5m96 0h1.5m1.5 0h1.5m6 0h3m3 0h1.5m3 0h4.5m3 0h7.5m15 0h1.5m9 0h1.5m7.5 0h3m6 0h1.5m42 0h1.5M392 596.25h1.5m1.5 0h1.5m145.5 0h1.5m15 0h1.5m30 0h1.5m3 0h1.5m7.5 0h1.5m22.5 0h1.5m58.5 0h1.5m16.5 0h1.5m7.5 0h1.5m10.5 0h1.5m66 0h1.5m3 0h1.5m165 0h1.5m22.5 0h3m1.5 0h6m99 0h12m3 0h12m3 0h1.5m1.5 0h1.5m7.5 0h3m6 0h1.5m1.5 0h4.5M392 597.75h1.5m1.5 0h1.5m69 0h3m91.5 0h1.5m3 0h1.5m28.5 0h1.5m9 0h1.5m18 0h1.5m4.5 0h1.5m55.5 0h1.5m25.5 0h1.5m10.5 0h1.5m10.5 0h1.5m58.5 0h3m163.5 0h1.5m27 0h4.5m100.5 0h12m3 0h7.5m12 0h1.5m4.5 0h4.5m10.5 0h1.5M447.5 599.25h1.5m9 0h1.5m3 0h1.5m3 0h1.5m54 0h1.5m12 0h4.5m7.5 0h1.5m16.5 0h1.5m27 0h1.5m1.5 0h3m34.5 0h1.5m1.5 0h1.5m85.5 0h3m10.5 0h1.5m3 0h1.5m54 0h1.5m4.5 0h3m187.5 0h1.5m106.5 0h3m9 0h1.5m1.5 0h1.5m6 0h6m1.5 0h1.5m4.5 0h1.5M396.5 600.75h1.5m51 0h1.5m111 0h1.5m3 0h1.5m27 0h1.5m6 0h1.5m6 0h1.5m1.5 0h1.5m75 0h1.5m34.5 0h3m3 0h1.5m64.5 0h1.5m6 0h3m295.5 0h4.5m6 0h3m1.5 0h1.5m7.5 0h7.5M459.5 602.25h3m61.5 0h1.5m12 0h1.5m4.5 0h3m16.5 0h4.5m31.5 0h1.5m16.5 0h1.5m85.5 0h1.5m7.5 0h1.5m9 0h1.5m1.5 0h1.5m1.5 0h1.5m13.5 0h1.5m1.5 0h1.5m6 0h1.5m40.5 0h1.5m304.5 0h3m1.5 0h3m6 0h1.5m3 0h4.5m3 0h1.5m76.5 0h1.5m3 0h1.5M399.5 603.75h1.5m61.5 0h3m78 0h3m18 0h3m34.5 0h1.5m123 0h1.5m376.5 0h4.5m7.5 0h3m3 0h3m3 0h1.5M395 605.25h1.5m7.5 0h1.5m60 0h4.5m94.5 0h3m12 0h1.5m46.5 0h3m55.5 0h1.5m54 0h3m4.5 0h1.5m9 0h3m346.5 0h4.5m1.5 0h1.5m3 0h10.5M401 606.75h1.5m64.5 0h1.5m81 0h1.5m13.5 0h3m12 0h1.5m19.5 0h1.5m30 0h1.5m108 0h3m1.5 0h1.5m1.5 0h1.5m369 0h3m3 0h1.5M404 608.25h1.5m57 0h1.5m76.5 0h1.5m9 0h1.5m13.5 0h1.5m1.5 0h1.5m63 0h1.5m52.5 0h4.5m25.5 0h1.5m3 0h1.5m4.5 0h1.5m13.5 0h3m3 0h1.5m13.5 0h1.5M566 609.75h1.5m36 0h1.5m3 0h1.5m21 0h3m15 0h3m37.5 0h3m25.5 0h1.5m9 0h1.5M396.5 611.25h1.5m1.5 0h1.5m7.5 0h3m1.5 0h1.5m138 0h1.5m55.5 0h1.5m19.5 0h1.5m12 0h1.5m42 0h3m45 0h1.5m4.5 0h1.5m22.5 0h1.5M407 612.75h1.5m1.5 0h1.5m142.5 0h1.5m75 0h1.5m12 0h1.5m10.5 0h1.5m57 0h1.5m1.5 0h1.5m16.5 0h4.5m22.5 0h1.5M410 614.25h1.5m51 0h1.5m1.5 0h1.5m160.5 0h3m4.5 0h1.5m22.5 0h1.5m42 0h1.5m12 0h1.5m18 0h1.5m58.5 0h3m220.5 0h1.5M402.5 615.75h1.5m4.5 0h1.5m9 0h1.5m19.5 0h1.5m3 0h1.5m16.5 0h6m1.5 0h1.5m96 0h1.5m55.5 0h1.5m10.5 0h1.5m45 0h1.5m18 0h1.5m7.5 0h1.5m21 0h1.5m28.5 0h1.5m31.5 0h1.5m213 0h10.5m1.5 0h1.5M420.5 617.25h1.5m22.5 0h1.5m21 0h1.5m108 0h1.5m42 0h3m9 0h1.5m4.5 0h1.5m64.5 0h1.5m4.5 0h1.5m13.5 0h1.5m15 0h1.5m6 0h1.5m13.5 0h1.5m246 0h6M411.5 618.75h1.5m4.5 0h1.5m3 0h1.5m154.5 0h1.5m73.5 0h1.5m30 0h3m1.5 0h1.5m13.5 0h1.5m13.5 0h1.5m6 0h1.5m4.5 0h1.5m9 0h1.5m4.5 0h1.5m259.5 0h6M420.5 620.25h1.5m40.5 0h1.5m9 0h1.5m96 0h1.5m7.5 0h3m28.5 0h1.5m25.5 0h1.5m7.5 0h3m9 0h1.5m46.5 0h3m16.5 0h1.5m6 0h1.5m13.5 0h1.5m13.5 0h4.5m240 0h6m12 0h1.5M458 621.75h1.5m4.5 0h1.5m3 0h1.5m102 0h1.5m6 0h3m18 0h1.5m9 0h1.5m7.5 0h1.5m15 0h1.5m22.5 0h3m45 0h1.5m39 0h1.5m12 0h6m237 0h6m9 0h7.5M456.5 623.25h1.5m12 0h1.5m102 0h1.5m42 0h1.5m18 0h1.5m9 0h3m45 0h1.5m28.5 0h1.5m4.5 0h1.5m4.5 0h1.5m25.5 0h4.5m27 0h3m204 0h6m13.5 0h6M429.5 624.75h1.5m42 0h1.5m88.5 0h1.5m10.5 0h1.5m27 0h1.5m7.5 0h4.5m3 0h1.5m25.5 0h1.5m10.5 0h1.5m64.5 0h1.5m10.5 0h1.5m18 0h1.5m7.5 0h1.5m25.5 0h1.5m1.5 0h1.5m205.5 0h1.5m18 0h4.5M428 626.25h1.5m40.5 0h4.5m184.5 0h1.5m13.5 0h1.5m13.5 0h1.5m34.5 0h1.5m22.5 0h1.5m7.5 0h1.5m6 0h1.5m25.5 0h1.5m228 0h3m1.5 0h1.5M471.5 627.75h3m90 0h1.5m12 0h1.5m4.5 0h1.5m60 0h1.5m42 0h1.5m58.5 0h3m13.5 0h1.5m19.5 0h7.5m228 0h6M474.5 629.25h1.5m90 0h1.5m54 0h1.5m22.5 0h1.5m19.5 0h6m24 0h1.5m9 0h1.5m12 0h1.5m1.5 0h3m22.5 0h1.5m36 0h6m205.5 0h1.5m12 0h1.5m9 0h1.5m3 0h3M476 630.75h1.5m87 0h3m54 0h3m36 0h4.5m40.5 0h3m12 0h1.5m3 0h4.5m19.5 0h1.5m3 0h1.5m10.5 0h1.5m19.5 0h3m1.5 0h1.5m205.5 0h3m10.5 0h3m12 0h3M456.5 632.25h1.5m7.5 0h1.5m118.5 0h1.5m10.5 0h3m10.5 0h1.5m9 0h3m21 0h3m3 0h1.5m34.5 0h1.5m18 0h3m18 0h1.5m3 0h1.5m1.5 0h1.5m1.5 0h1.5m1.5 0h3m4.5 0h1.5m6 0h1.5m1.5 0h1.5m1.5 0h1.5m24 0h4.5m219 0h4.5m6 0h1.5M450.5 633.75h1.5m136.5 0h1.5m12 0h1.5m18 0h1.5m4.5 0h3m18 0h3m24 0h3m1.5 0h1.5m27 0h1.5m12 0h1.5m9 0h4.5m3 0h1.5m7.5 0h1.5m12 0h1.5m6 0h1.5m12 0h7.5m109.5 0h6m105 0h3m7.5 0h1.5m1.5 0h1.5m54 0h1.5M453.5 635.25h1.5m22.5 0h1.5m112.5 0h1.5m4.5 0h1.5m39 0h1.5m39 0h4.5m4.5 0h1.5m1.5 0h1.5m12 0h1.5m39 0h1.5m3 0h1.5m13.5 0h1.5m3 0h1.5m6 0h1.5m1.5 0h1.5m1.5 0h1.5m120 0h3m117 0h3m45 0h4.5m3 0h4.5M597.5 636.75h1.5m39 0h1.5m48 0h1.5m15 0h1.5m28.5 0h1.5m9 0h3m4.5 0h1.5m10.5 0h1.5m3 0h3m3 0h1.5m3 0h1.5m3 0h3m114 0h6m117 0h3m42 0h12m1.5 0h1.5M474.5 638.25h3m1.5 0h1.5m4.5 0h1.5m133.5 0h1.5m66 0h1.5m7.5 0h1.5m49.5 0h1.5m18 0h4.5m1.5 0h1.5m3 0h1.5m118.5 0h6m127.5 0h1.5m36 0h4.5m4.5 0h6m166.5 0h4.5M477.5 639.75h3m127.5 0h1.5m6 0h1.5m7.5 0h1.5m36 0h1.5m24 0h1.5m1.5 0h1.5m3 0h3m70.5 0h1.5m100.5 0h1.5m21 0h1.5m4.5 0h1.5m6 0h3m49.5 0h1.5m64.5 0h1.5m3 0h1.5m36 0h7.5m3 0h6m166.5 0h4.5M471.5 641.25h1.5m7.5 0h1.5m132 0h1.5m64.5 0h1.5m6 0h1.5m15 0h4.5m1.5 0h1.5m21 0h4.5m31.5 0h4.5m1.5 0h1.5m96 0h1.5m1.5 0h1.5m1.5 0h1.5m9 0h1.5m3 0h1.5m3 0h4.5m3 0h3m16.5 0h4.5m3 0h1.5m24 0h1.5m33 0h3m30 0h9m33 0h13.5m1.5 0h1.5m168 0h1.5M471.5 642.75h1.5m151.5 0h1.5m61.5 0h1.5m1.5 0h1.5m12 0h1.5m1.5 0h1.5m1.5 0h1.5m19.5 0h3m1.5 0h1.5m28.5 0h6m99 0h3m3 0h4.5m1.5 0h9m6 0h6m3 0h3m13.5 0h7.5m27 0h3m3 0h1.5m25.5 0h4.5m4.5 0h1.5m24 0h6m1.5 0h3m31.5 0h13.5m1.5 0h4.5M582.5 644.25h1.5m55.5 0h3m19.5 0h1.5m4.5 0h1.5m9 0h1.5m7.5 0h1.5m16.5 0h3m9 0h1.5m13.5 0h6m1.5 0h1.5m4.5 0h1.5m12 0h3m1.5 0h6m1.5 0h1.5m97.5 0h1.5m12 0h1.5m1.5 0h1.5m7.5 0h1.5m1.5 0h1.5m6 0h1.5m15 0h4.5m1.5 0h3m1.5 0h1.5m4.5 0h1.5m16.5 0h1.5m34.5 0h3m4.5 0h4.5m18 0h1.5m1.5 0h1.5m1.5 0h6m33 0h1.5m1.5 0h7.5m3 0h1.5m1.5 0h1.5m138 0h1.5m1.5 0h1.5m3 0h1.5m1.5 0h1.5M462.5 645.75h1.5m19.5 0h1.5m96 0h1.5m1.5 0h1.5m76.5 0h1.5m3 0h1.5m19.5 0h1.5m31.5 0h1.5m12 0h4.5m1.5 0h1.5m4.5 0h1.5m9 0h4.5m4.5 0h6m100.5 0h1.5m1.5 0h4.5m3 0h6m6 0h6m6 0h1.5m12 0h10.5m3 0h1.5m4.5 0h3m46.5 0h7.5m1.5 0h1.5m3 0h3m7.5 0h1.5m13.5 0h7.5m33 0h10.5m3 0h1.5m1.5 0h1.5m117 0h3m18 0h4.5m3 0h1.5m1.5 0h7.5m3 0h4.5M581 647.25h1.5m58.5 0h1.5m21 0h1.5m37.5 0h1.5m16.5 0h3m10.5 0h1.5m9 0h1.5m10.5 0h1.5m106.5 0h3m4.5 0h4.5m6 0h1.5m4.5 0h4.5m25.5 0h12m3 0h12m21 0h1.5m19.5 0h3m6 0h7.5m3 0h10.5m7.5 0h1.5m3 0h6m31.5 0h3m1.5 0h3m1.5 0h1.5m4.5 0h6m13.5 0h3m97.5 0h1.5m1.5 0h4.5m15 0h6m3 0h3m1.5 0h4.5m4.5 0h4.5m7.5 0h1.5M653 648.75h1.5m22.5 0h1.5m43.5 0h1.5m13.5 0h1.5m6 0h1.5m3 0h1.5m111 0h1.5m1.5 0h3m4.5 0h4.5m6 0h4.5m1.5 0h4.5m22.5 0h1.5m1.5 0h4.5m1.5 0h1.5m3 0h1.5m3 0h3m4.5 0h1.5m1.5 0h1.5m10.5 0h1.5m28.5 0h4.5m9 0h3m6 0h6m10.5 0h1.5m3 0h9m3 0h4.5m21 0h4.5m1.5 0h1.5m1.5 0h1.5m3 0h4.5m1.5 0h1.5m15 0h1.5m97.5 0h1.5m3 0h3m12 0h13.5m3 0h4.5m9 0h3m1.5 0h6M582.5 650.25h1.5m52.5 0h1.5m9 0h1.5m40.5 0h1.5m25.5 0h1.5m24 0h9m109.5 0h4.5m4.5 0h1.5m12 0h9m24 0h6m1.5 0h6m1.5 0h1.5m1.5 0h1.5m6 0h1.5m3 0h1.5m6 0h13.5m18 0h7.5m1.5 0h3m1.5 0h1.5m27 0h9m4.5 0h1.5m1.5 0h4.5m18 0h4.5m1.5 0h4.5m6 0h1.5m12 0h1.5m105 0h1.5m3 0h3m12 0h1.5m4.5 0h1.5m1.5 0h4.5m4.5 0h3m4.5 0h1.5m7.5 0h6M483.5 651.75h1.5m99 0h1.5m55.5 0h3m60 0h1.5m10.5 0h3m4.5 0h1.5m16.5 0h6m112.5 0h4.5m18 0h3m1.5 0h4.5m24 0h3m4.5 0h3m4.5 0h1.5m1.5 0h3m4.5 0h3m1.5 0h1.5m6 0h3m3 0h4.5m18 0h4.5m1.5 0h4.5m1.5 0h6m13.5 0h1.5m12 0h9m4.5 0h4.5m21 0h3m3 0h6m16.5 0h4.5m1.5 0h1.5m105 0h3m12 0h1.5m4.5 0h1.5m1.5 0h4.5m4.5 0h3m9 0h3m1.5 0h6M587 653.25h1.5m43.5 0h7.5m15 0h3m13.5 0h1.5m1.5 0h1.5m28.5 0h1.5m1.5 0h1.5m33 0h4.5m16.5 0h1.5m6 0h1.5m88.5 0h4.5m6 0h3m3 0h6m1.5 0h7.5m30 0h3m9 0h3m7.5 0h3m4.5 0h3m16.5 0h7.5m3 0h1.5m1.5 0h1.5m1.5 0h4.5m4.5 0h3m31.5 0h4.5m3 0h3m1.5 0h1.5m21 0h1.5m4.5 0h6m18 0h3m18 0h1.5m85.5 0h7.5m3 0h3m4.5 0h7.5m1.5 0h3m3 0h6m3 0h4.5m1.5 0h12M473 654.75h1.5m159 0h1.5m1.5 0h3m13.5 0h4.5m16.5 0h1.5m31.5 0h1.5m33 0h1.5m18 0h1.5m7.5 0h1.5m90 0h6m3 0h3m7.5 0h7.5m57 0h4.5m1.5 0h1.5m19.5 0h3m1.5 0h1.5m3 0h3m3 0h4.5m40.5 0h4.5m1.5 0h6m10.5 0h1.5m4.5 0h1.5m3 0h1.5m4.5 0h3m1.5 0h3m6 0h1.5m1.5 0h4.5m4.5 0h1.5m105 0h13.5m3 0h6m1.5 0h6m3 0h3m1.5 0h1.5m3 0h3m1.5 0h3m1.5 0h4.5M578 656.25h3m52.5 0h1.5m3 0h1.5m66 0h1.5m51 0h1.5m10.5 0h1.5m90 0h3m1.5 0h1.5m1.5 0h7.5m4.5 0h7.5m57 0h4.5m30 0h1.5m3 0h4.5m43.5 0h3m3 0h1.5m3 0h1.5m1.5 0h6m7.5 0h9m4.5 0h1.5m19.5 0h7.5m102 0h1.5m4.5 0h3m6 0h9m3 0h3m9 0h3m3 0h3m12 0h1.5M480.5 657.75h1.5m153 0h4.5m84 0h1.5m15 0h1.5m120 0h6m3 0h18m57 0h1.5m33 0h1.5m4.5 0h1.5m46.5 0h1.5m3 0h3m1.5 0h1.5m1.5 0h6m7.5 0h9m3 0h4.5m7.5 0h1.5m10.5 0h6m15 0h3m90 0h4.5m3 0h10.5m1.5 0h3m4.5 0h3m9 0h3M476 659.25h1.5m21 0h1.5m78 0h1.5m4.5 0h1.5m99 0h1.5m4.5 0h1.5m33 0h1.5m28.5 0h1.5m4.5 0h1.5m1.5 0h1.5m4.5 0h1.5m91.5 0h4.5m6 0h1.5m4.5 0h1.5m1.5 0h1.5m166.5 0h9m3 0h1.5m7.5 0h4.5m1.5 0h9m7.5 0h7.5m16.5 0h1.5m79.5 0h3m4.5 0h10.5m1.5 0h6m3 0h6m3 0h1.5m9 0h6m9 0h1.5M473 660.75h1.5m24 0h1.5m184.5 0h3m4.5 0h1.5m48 0h1.5m27 0h1.5m93 0h1.5m13.5 0h4.5m151.5 0h3m12 0h7.5m4.5 0h1.5m7.5 0h4.5m1.5 0h6m7.5 0h1.5m1.5 0h7.5m99 0h3m1.5 0h4.5m1.5 0h4.5m3 0h3m3 0h1.5m1.5 0h1.5m1.5 0h6m12 0h6m6 0h1.5M471.5 662.25h1.5m4.5 0h1.5m214.5 0h1.5m43.5 0h1.5m30 0h1.5m99 0h1.5m10.5 0h1.5m162 0h1.5m3 0h3m1.5 0h3m4.5 0h3m3 0h1.5m1.5 0h1.5m4.5 0h19.5m3 0h9m42 0h1.5m1.5 0h1.5m12 0h6m3 0h3m16.5 0h7.5m3 0h3m3 0h3m3 0h1.5m1.5 0h6m1.5 0h4.5m19.5 0h4.5M479 663.75h1.5m19.5 0h1.5m78 0h1.5m6 0h1.5m73.5 0h1.5m16.5 0h1.5m1.5 0h1.5m42 0h1.5m3 0h1.5m6 0h1.5m13.5 0h1.5m3 0h1.5m124.5 0h1.5m159 0h3m3 0h3m1.5 0h31.5m1.5 0h13.5m3 0h6m37.5 0h3m4.5 0h3m6 0h9m1.5 0h6m1.5 0h1.5m10.5 0h6m1.5 0h1.5m4.5 0h1.5m3 0h3m3 0h7.5m4.5 0h3m19.5 0h1.5M660.5 665.25h1.5m46.5 0h1.5m6 0h1.5m10.5 0h1.5m4.5 0h4.5m12 0h4.5m288 0h24m7.5 0h4.5m6 0h1.5m3 0h7.5m3 0h3m1.5 0h1.5m1.5 0h6m6 0h1.5m6 0h3m4.5 0h1.5m1.5 0h6m1.5 0h4.5m3 0h7.5m1.5 0h6m3 0h1.5m3 0h1.5m3 0h1.5m7.5 0h1.5m7.5 0h3m1.5 0h4.5m1.5 0h1.5m4.5 0h6m1.5 0h6m27 0h1.5M683 666.75h1.5m24 0h1.5m18 0h1.5m312 0h19.5m4.5 0h1.5m6 0h4.5m7.5 0h1.5m1.5 0h9m4.5 0h3m3 0h12m6 0h6m1.5 0h18m1.5 0h1.5m3 0h1.5m4.5 0h4.5m3 0h1.5m3 0h1.5m1.5 0h1.5m9 0h1.5m7.5 0h3m3 0h3m1.5 0h1.5m6 0h1.5m1.5 0h1.5m1.5 0h6M675.5 668.25h3m1.5 0h1.5m3 0h1.5m22.5 0h3m16.5 0h1.5m19.5 0h1.5m291 0h10.5m1.5 0h7.5m7.5 0h4.5m1.5 0h1.5m4.5 0h1.5m1.5 0h1.5m1.5 0h1.5m3 0h6m1.5 0h6m4.5 0h6m1.5 0h7.5m1.5 0h4.5m4.5 0h24m3 0h1.5m1.5 0h1.5m10.5 0h6m3 0h6m1.5 0h7.5m3 0h4.5m3 0h12m1.5 0h4.5M672.5 669.75h1.5m4.5 0h1.5m28.5 0h3m13.5 0h1.5m3 0h3m31.5 0h1.5m4.5 0h1.5m273 0h3m4.5 0h9m4.5 0h3m7.5 0h9m1.5 0h1.5m3 0h13.5m9 0h1.5m1.5 0h10.5m1.5 0h1.5m4.5 0h12m1.5 0h3m1.5 0h6m1.5 0h1.5m3 0h3m3 0h3m3 0h12m1.5 0h1.5m1.5 0h1.5m1.5 0h4.5m3 0h3m4.5 0h12m1.5 0h3M689 671.25h1.5m19.5 0h1.5m15 0h1.5m6 0h3m27 0h1.5m4.5 0h3m280.5 0h1.5m7.5 0h3m1.5 0h7.5m1.5 0h4.5m4.5 0h9m1.5 0h3m3 0h4.5m4.5 0h4.5m1.5 0h1.5m1.5 0h9m3 0h6m3 0h3m3 0h1.5m1.5 0h1.5m1.5 0h7.5m4.5 0h9m6 0h1.5m1.5 0h7.5m10.5 0h1.5m1.5 0h3m4.5 0h1.5m3 0h4.5m7.5 0h1.5M585.5 672.75h1.5m100.5 0h1.5m21 0h1.5m15 0h1.5m6 0h1.5m3 0h1.5m301.5 0h3m3 0h12m3 0h1.5m3 0h6m3 0h4.5m3 0h4.5m4.5 0h6m3 0h4.5m1.5 0h15m1.5 0h3m4.5 0h4.5m4.5 0h10.5m1.5 0h7.5m3 0h10.5m6 0h3m3 0h6m13.5 0h1.5m4.5 0h1.5m3 0h4.5m3 0h3m1.5 0h1.5M665 674.25h1.5m43.5 0h1.5m46.5 0h1.5m288 0h4.5m3 0h3m7.5 0h4.5m1.5 0h1.5m7.5 0h3m3 0h4.5m1.5 0h4.5m1.5 0h1.5m1.5 0h1.5m4.5 0h4.5m1.5 0h6m3 0h15m7.5 0h7.5m1.5 0h6m3 0h7.5m6 0h18m3 0h9m3 0h7.5m3 0h1.5M665 675.75h1.5m54 0h1.5m1.5 0h3m313.5 0h1.5m7.5 0h1.5m3 0h4.5m6 0h9m7.5 0h3m1.5 0h7.5m1.5 0h1.5m3 0h3m1.5 0h1.5m3 0h12m3 0h3m3 0h9m7.5 0h6m1.5 0h6m3 0h4.5m1.5 0h4.5m4.5 0h18m6 0h6m4.5 0h9M590 677.25h1.5m99 0h1.5m55.5 0h3m291 0h3m1.5 0h1.5m6 0h3m4.5 0h7.5m4.5 0h1.5m6 0h6m3 0h3m1.5 0h1.5m3 0h3m1.5 0h1.5m4.5 0h1.5m3 0h4.5m4.5 0h1.5m3 0h4.5m6 0h15m9 0h6m3 0h1.5m4.5 0h7.5m1.5 0h1.5m3 0h4.5m3 0h6m3 0h1.5m4.5 0h1.5m3 0h1.5M665 678.75h1.5m24 0h3m54 0h3m1.5 0h1.5m3 0h1.5m283.5 0h3m6 0h3m6 0h1.5m4.5 0h6m1.5 0h4.5m1.5 0h3m1.5 0h4.5m1.5 0h6m3 0h3m1.5 0h3m3 0h1.5m1.5 0h4.5m4.5 0h3m4.5 0h1.5m4.5 0h1.5m3 0h3m3 0h7.5m9 0h6m3 0h4.5m1.5 0h1.5m1.5 0h10.5m1.5 0h3m1.5 0h12m3 0h3M600.5 680.25h1.5m7.5 0h1.5m49.5 0h9m51 0h1.5m4.5 0h1.5m18 0h1.5m7.5 0h1.5m295.5 0h6m1.5 0h1.5m4.5 0h9m3 0h3m3 0h3m1.5 0h1.5m4.5 0h7.5m3 0h3m4.5 0h1.5m3 0h3m3 0h6m1.5 0h3m3 0h7.5m1.5 0h1.5m6 0h4.5m1.5 0h3m9 0h6m6 0h1.5m3 0h3m3 0h6m1.5 0h3m1.5 0h4.5M602 681.75h1.5m57 0h6m18 0h1.5m1.5 0h1.5m31.5 0h1.5m4.5 0h1.5m21 0h1.5m4.5 0h1.5m4.5 0h1.5m289.5 0h4.5m3 0h1.5m3 0h6m1.5 0h3m1.5 0h9m1.5 0h3m6 0h6m3 0h1.5m1.5 0h1.5m3 0h7.5m3 0h12m1.5 0h6m3 0h1.5m6 0h3m15 0h1.5m1.5 0h3m6 0h1.5m3 0h1.5m3 0h3m1.5 0h3m1.5 0h1.5m4.5 0h1.5M687.5 683.25h1.5m31.5 0h1.5m31.5 0h1.5m87 0h1.5m214.5 0h1.5m6 0h1.5m1.5 0h1.5m1.5 0h1.5m4.5 0h3m1.5 0h6m4.5 0h3m1.5 0h10.5m1.5 0h1.5m9 0h10.5m3 0h1.5m7.5 0h1.5m6 0h6m6 0h4.5m3 0h7.5m4.5 0h6m4.5 0h3m3 0h1.5m3 0h3M720.5 684.75h1.5m24 0h1.5m6 0h1.5m85.5 0h3m222 0h4.5m12 0h3m7.5 0h9m3 0h3m1.5 0h1.5m3 0h3m3 0h1.5m3 0h7.5m1.5 0h1.5m7.5 0h1.5m3 0h3m1.5 0h1.5m1.5 0h4.5m3 0h4.5m4.5 0h4.5m3 0h7.5m6 0h3m6 0h1.5M594.5 686.25h1.5m151.5 0h1.5m1.5 0h1.5m1.5 0h1.5m7.5 0h1.5m76.5 0h3m244.5 0h3m4.5 0h3m1.5 0h1.5m3 0h3m3 0h3m4.5 0h4.5m1.5 0h1.5m3 0h1.5m1.5 0h1.5m1.5 0h3m3 0h9m3 0h7.5m1.5 0h3m6 0h3m1.5 0h4.5m3 0h4.5m4.5 0h6M615.5 687.75h1.5m105 0h1.5m27 0h1.5m1.5 0h1.5m7.5 0h1.5m72 0h1.5m249 0h1.5m7.5 0h7.5m3 0h1.5m3 0h3m4.5 0h1.5m9 0h1.5m1.5 0h6m3 0h1.5m1.5 0h6m3 0h12m4.5 0h4.5m3 0h1.5m4.5 0h4.5m4.5 0h3m1.5 0h3M608 689.25h1.5m117 0h1.5m34.5 0h1.5m336 0h4.5m3 0h7.5m3 0h1.5m9 0h12m6 0h1.5m1.5 0h6m3 0h6m1.5 0h6m7.5 0h7.5m3 0h1.5m1.5 0h1.5M719 690.75h1.5m42 0h1.5m348 0h1.5m6 0h6m1.5 0h7.5m3 0h3m3 0h3m3 0h24m1.5 0h1.5m3 0h12m1.5 0h1.5M603.5 692.25h1.5m4.5 0h1.5m106.5 0h1.5m367.5 0h1.5m25.5 0h1.5m7.5 0h7.5m1.5 0h6m3 0h1.5m1.5 0h4.5m4.5 0h1.5m4.5 0h10.5m1.5 0h1.5m10.5 0h1.5m7.5 0h1.5M599 693.75h1.5m162 0h1.5m358.5 0h3m3 0h9m15 0h1.5m4.5 0h3m3 0h3M717.5 695.25h1.5m412.5 0h1.5m1.5 0h1.5m18 0h3m4.5 0h4.5M609.5 696.75h3m94.5 0h1.5m423 0h1.5m1.5 0h1.5M722 699.75h3m7.5 0h3M732.5 701.25h1.5m28.5 0h3M719 702.75h1.5m1.5 0h1.5m6 0h1.5m30 0h1.5m1.5 0h1.5M726.5 704.25h1.5m34.5 0h1.5M729.5 707.25h1.5m24 0h1.5m4.5 0h1.5M753.5 708.75h1.5m4.5 0h1.5M726.5 710.25h1.5m22.5 0h1.5m7.5 0h1.5M737 711.75h1.5m21 0h1.5m69 0h1.5M831.5 713.25h1.5M731 714.75h1.5m13.5 0h1.5m10.5 0h1.5M720.5 716.25h1.5m6 0h1.5M744.5 717.75h1.5M723.5 719.25h1.5m10.5 0h1.5m6 0h1.5m9 0h1.5M741.5 720.75h1.5M729.5 723.75h1.5m19.5 0h1.5M1220 725.25h1.5M737 726.75h1.5m39 0h1.5M735.5 728.25h1.5m300 0h4.5M747.5 729.75h1.5m30 0h1.5m169.5 0h1.5m84 0h3M756.5 731.25h3m6 0h3m3 0h1.5m12 0h1.5m162 0h4.5m61.5 0h3m3 0h3m3 0h6m1.5 0h1.5m3 0h1.5m3 0h1.5m178.5 0h1.5M758 732.75h1.5m9 0h3m177 0h4.5m63 0h3m7.5 0h3m1.5 0h4.5m4.5 0h1.5m1.5 0h1.5m178.5 0h1.5M758 734.25h1.5m186 0h1.5m3 0h7.5m10.5 0h4.5m43.5 0h1.5m13.5 0h3m7.5 0h3m178.5 0h3M741.5 735.75h1.5m202.5 0h3m3 0h6m13.5 0h1.5m55.5 0h7.5m3 0h6m178.5 0h3M740 737.25h1.5m40.5 0h1.5m160.5 0h1.5m3 0h1.5m1.5 0h4.5m3 0h1.5m4.5 0h1.5m33 0h3m19.5 0h1.5m4.5 0h3m9 0h1.5m1.5 0h3m178.5 0h1.5M743 738.75h3m4.5 0h3m27 0h1.5m3 0h1.5m159 0h1.5m1.5 0h7.5m9 0h3m3 0h3m3 0h1.5m18 0h1.5m1.5 0h10.5m12 0h1.5m4.5 0h3m12 0h3m175.5 0h1.5M767 740.25h1.5m7.5 0h1.5m1.5 0h1.5m163.5 0h1.5m3 0h1.5m16.5 0h6m1.5 0h1.5m3 0h3m12 0h3m1.5 0h1.5m3 0h9m3 0h1.5m3 0h4.5m3 0h3m1.5 0h3m3 0h1.5m183 0h3M774.5 741.75h1.5m1.5 0h1.5m165 0h1.5m3 0h1.5m1.5 0h3m16.5 0h4.5m3 0h4.5m12 0h1.5m1.5 0h1.5m4.5 0h4.5m1.5 0h6m1.5 0h1.5m3 0h4.5m1.5 0h1.5m1.5 0h7.5m4.5 0h1.5m177 0h3M756.5 743.25h3m1.5 0h1.5m10.5 0h1.5m171 0h6m3 0h3m25.5 0h1.5m6 0h9m6 0h3m6 0h6m3 0h1.5m3 0h7.5m3 0h1.5m178.5 0h1.5M945.5 744.75h6m36 0h4.5m1.5 0h6m12 0h3m1.5 0h3m4.5 0h1.5m3 0h13.5m177 0h3M947 746.25h1.5m46.5 0h1.5m13.5 0h3m3 0h3m6 0h1.5m1.5 0h4.5m4.5 0h7.5m172.5 0h6m3 0h3M770 747.75h1.5m238.5 0h3m13.5 0h6m6 0h7.5m168 0h1.5m1.5 0h1.5m3 0h7.5M1029.5 749.25h4.5m3 0h1.5m4.5 0h3m166.5 0h3m6 0h3m4.5 0h1.5M767 750.75h1.5m267 0h3m3 0h4.5m168 0h1.5m6 0h3m4.5 0h1.5M1014.5 752.25h1.5m27 0h3m163.5 0h7.5m9 0h1.5m1.5 0h1.5M764 753.75h1.5m279 0h1.5m162 0h4.5m3 0h6m3 0h6M1202 755.25h1.5m3 0h6m13.5 0h1.5M761 756.75h1.5m442.5 0h7.5m1.5 0h1.5m10.5 0h1.5M1200.5 758.25h7.5m4.5 0h9m3 0h3M1194.5 759.75h1.5m1.5 0h1.5m1.5 0h3m1.5 0h3m4.5 0h9m1.5 0h1.5M762.5 761.25h3m429 0h9m13.5 0h3m1.5 0h3m1.5 0h1.5M1194.5 762.75h3m3 0h1.5m15 0h3m1.5 0h1.5m1.5 0h3M1194.5 764.25h3m7.5 0h1.5m12 0h3M1196 765.75h1.5m7.5 0h3m4.5 0h3M1196 767.25h3m4.5 0h1.5m1.5 0h1.5M1196 768.75h3m4.5 0h3M1194.5 770.25h4.5M1194.5 771.75h1.5m1.5 0h1.5M1194.5 773.25h3M1196 774.75h1.5M1245.5 816.75h1.5M1245.5 818.25h4.5M1245.5 819.75h4.5M1242.5 824.25h3M1241 825.75h4.5"/>
<path stroke="#dc3700" d="M414.5 237.75h1.5M374 243.75h1.5M378.5 245.25h1.5m97.5 0h1.5M374 251.25h1.5m81 0h1.5M459.5 260.25h1.5M467 261.75h1.5M383 263.25h1.5M437 264.75h1.5M461 273.75h1.5M363.5 275.25h1.5m94.5 0h1.5M357.5 278.25h1.5M345.5 279.75h1.5M467 281.25h1.5M405.5 285.75h1.5M324.5 287.25h1.5m76.5 0h1.5M398 291.75h1.5M396.5 293.25h1.5M396.5 309.75h1.5M396.5 311.25h3m93 0h3M344 315.75h1.5M479 318.75h1.5M413 323.25h1.5M413 329.25h1.5M351.5 330.75h1.5m123 0h1.5M332 332.25h1.5m7.5 0h1.5m28.5 0h3m72 0h1.5M332 333.75h1.5M356 335.25h1.5m3 0h1.5M360.5 336.75h1.5M338 338.25h1.5m33 0h1.5m94.5 0h1.5M372.5 339.75h1.5M338 341.25h1.5m40.5 0h1.5M329 344.25h1.5M356 345.75h1.5M330.5 348.75h1.5M359 351.75h1.5M348.5 357.75h1.5M330.5 359.25h1.5M338 363.75h1.5M341 372.75h1.5M363.5 381.75h1.5M341 386.25h1.5M404 401.25h1.5M333.5 404.25h1.5M402.5 410.25h1.5M402.5 411.75h1.5M357.5 419.25h1.5M389 420.75h1.5M455 422.25h1.5M348.5 426.75h3m27 0h1.5M452 428.25h1.5M431 431.25h1.5M360.5 432.75h1.5m12 0h1.5M464 435.75h1.5M411.5 438.75h1.5m6 0h1.5M326 440.25h1.5m91.5 0h1.5M1382 443.25h1.5M386 444.75h1.5m994.5 0h1.5M326 446.25h1.5m6 0h1.5m1042.5 0h1.5M327.5 447.75h1.5m25.5 0h1.5m96 0h1.5M573.5 449.25h1.5M578 450.75h1.5M362 452.25h1.5m1011 0h3M407 453.75h1.5m966 0h3M1368.5 455.25h6M321.5 456.75h1.5m126 0h1.5M441.5 458.25h1.5M353 459.75h1.5M440 461.25h1.5m927 0h3M567.5 462.75h1.5m745.5 0h1.5M1356.5 464.25h1.5M452 467.25h1.5m9 0h1.5m4.5 0h1.5m849 0h1.5M1307 468.75h1.5m7.5 0h3M1154 470.25h1.5m184.5 0h4.5M369.5 471.75h1.5m57 0h1.5m702 0h1.5m21 0h1.5m171 0h3m7.5 0h6M353 473.25h1.5m288 0h1.5m484.5 0h1.5m208.5 0h1.5M431 474.75h1.5m22.5 0h1.5m877.5 0h3m31.5 0h1.5M410 476.25h1.5m213 0h1.5m748.5 0h1.5M332 477.75h1.5m46.5 0h1.5m57 0h1.5m196.5 0h1.5m729 0h1.5m6 0h1.5M435.5 479.25h1.5m127.5 0h3M426.5 480.75h1.5m688.5 0h3m52.5 0h1.5M1118 482.25h1.5m96 0h3m147 0h4.5M1365.5 483.75h3M1356.5 485.25h1.5m7.5 0h1.5M333.5 486.75h1.5m78 0h1.5m942 0h3M419 488.25h1.5m196.5 0h1.5M338 489.75h1.5m1023 0h3M435.5 491.25h1.5M456.5 494.25h1.5m168 0h1.5M633.5 500.25h1.5M456.5 501.75h1.5m144 0h1.5M456.5 503.25h1.5M428 512.25h1.5m16.5 0h1.5m139.5 0h1.5M420.5 513.75h1.5m67.5 0h1.5m58.5 0h1.5M545 516.75h1.5M357.5 518.25h1.5m139.5 0h1.5M498.5 519.75h1.5M495.5 521.25h1.5M357.5 522.75h1.5m63 0h1.5m61.5 0h1.5m100.5 0h1.5M429.5 524.25h1.5M543.5 525.75h1.5M450.5 527.25h1.5m142.5 0h1.5M426.5 530.25h1.5m25.5 0h1.5M873.5 534.75h3M867.5 536.25h3M518 537.75h1.5M945.5 539.25h3M945.5 540.75h3M365 542.25h1.5m525 0h3m1.5 0h1.5m48 0h1.5M885.5 543.75h1.5m4.5 0h1.5m52.5 0h3M885.5 545.25h3m25.5 0h3m1.5 0h4.5m21 0h1.5m1.5 0h3M470 546.75h1.5m441 0h12m24 0h3M507.5 548.25h1.5m405 0h1.5m1.5 0h4.5m21 0h3m3 0h3m106.5 0h1.5M918.5 549.75h6m18 0h1.5m4.5 0h3m105 0h3m250.5 0h1.5M438.5 551.25h1.5m16.5 0h1.5m94.5 0h1.5m367.5 0h1.5m60 0h1.5m72 0h3m222 0h3m30 0h3M429.5 552.75h1.5m411 0h1.5m438 0h3M594.5 554.25h1.5m246 0h3m3 0h1.5m136.5 0h1.5m30 0h1.5m46.5 0h1.5m21 0h1.5M383 555.75h1.5m210 0h1.5m249 0h1.5m102 0h3m6 0h1.5m9 0h1.5m16.5 0h1.5m28.5 0h3m6 0h1.5m67.5 0h1.5m9 0h3M531.5 557.25h1.5m301.5 0h1.5m112.5 0h3m6 0h1.5m3 0h7.5m1.5 0h3m1.5 0h6m4.5 0h6m21 0h3m82.5 0h3m3 0h3M834.5 558.75h3m120 0h1.5m1.5 0h9m1.5 0h3m1.5 0h1.5m1.5 0h3m4.5 0h6m16.5 0h3m1.5 0h1.5m3 0h1.5m79.5 0h4.5m1.5 0h1.5m1.5 0h3M575 560.25h1.5m379.5 0h10.5m7.5 0h1.5m10.5 0h1.5m1.5 0h1.5m117 0h3m6 0h1.5m10.5 0h1.5m1.5 0h3M854 561.75h1.5m100.5 0h4.5m3 0h3m15 0h1.5m6 0h1.5m126 0h3m12 0h1.5M434 563.25h1.5m10.5 0h1.5m388.5 0h1.5m10.5 0h1.5m114 0h3m4.5 0h1.5m139.5 0h1.5m3 0h1.5m4.5 0h3M446 564.75h1.5m388.5 0h3m9 0h1.5m114 0h1.5m144 0h1.5m12 0h3M837.5 566.25h4.5m471 0h1.5M837.5 567.75h6m445.5 0h1.5m3 0h1.5m6 0h1.5m9 0h3M837.5 569.25h3m9 0h1.5m6 0h1.5m430.5 0h1.5m4.5 0h1.5m4.5 0h1.5M833 570.75h1.5m3 0h4.5m1.5 0h3m1.5 0h3m6 0h1.5m145.5 0h1.5m3 0h1.5m289.5 0h3M726.5 572.25h1.5m108 0h4.5m4.5 0h4.5m105 0h1.5m148.5 0h3M656 573.75h1.5m73.5 0h1.5m102 0h6m4.5 0h4.5m255 0h6m1.5 0h1.5M623 575.25h1.5m216 0h1.5m256.5 0h1.5m4.5 0h4.5M386 576.75h1.5m175.5 0h1.5m100.5 0h1.5m174 0h1.5m255 0h3m3 0h6M386 578.25h1.5m130.5 0h1.5m43.5 0h1.5m57 0h1.5m36 0h1.5m463.5 0h1.5m39 0h4.5m7.5 0h3M557 579.75h1.5m13.5 0h1.5m421.5 0h1.5m111 0h3m12 0h1.5m4.5 0h3m33 0h3m9 0h1.5M557 581.25h1.5m250.5 0h3m142.5 0h1.5m30 0h9m96 0h3m31.5 0h9m39 0h3m93 0h3M584 582.75h1.5m225 0h3m141 0h1.5m13.5 0h1.5m19.5 0h4.5m96 0h7.5m27 0h3m1.5 0h4.5m39 0h3m93 0h1.5M527 584.25h1.5m82.5 0h1.5m198 0h1.5m153 0h1.5m24 0h4.5m100.5 0h3m18 0h1.5m7.5 0h3m33 0h1.5m76.5 0h1.5M767 585.75h1.5m222 0h1.5m103.5 0h3m3 0h3m21 0h3m111 0h6M600.5 587.25h3m357 0h1.5m4.5 0h1.5m7.5 0h12m7.5 0h1.5m9 0h1.5m88.5 0h1.5m7.5 0h1.5m129 0h1.5M395 588.75h1.5m48 0h1.5m1.5 0h1.5m136.5 0h1.5m373.5 0h1.5m3 0h3m7.5 0h12m9 0h1.5m7.5 0h1.5m97.5 0h1.5m16.5 0h1.5m111 0h3M464 590.25h1.5m55.5 0h1.5m183 0h1.5m18 0h1.5m9 0h1.5m261 0h4.5m112.5 0h1.5m117 0h1.5m1.5 0h1.5m33 0h1.5M392 591.75h1.5m207 0h1.5m142.5 0h1.5m63 0h1.5m165 0h3m21 0h3m222 0h1.5m10.5 0h3M726.5 593.25h1.5m244.5 0h3m4.5 0h1.5m117 0h3m15 0h1.5M726.5 594.75h1.5m4.5 0h1.5m238.5 0h3m123 0h3m6 0h3m33 0h1.5M467 596.25h1.5m1.5 0h1.5m654 0h3m1.5 0h1.5m12 0h3M1125.5 597.75h7.5m10.5 0h3M1116.5 599.25h1.5m13.5 0h1.5M1116.5 600.75h1.5M1106 602.25h1.5m10.5 0h3M591.5 603.75h1.5m526.5 0h3M549.5 605.25h1.5m562.5 0h1.5M603.5 606.75h1.5M687.5 609.75h1.5M717.5 611.25h1.5m18 0h1.5M713 612.75h1.5M711.5 614.25h1.5M723.5 615.75h1.5M1023.5 617.25h3M587 618.75h1.5m435 0h3M1023.5 620.25h3M717.5 621.75h1.5M650 623.25h1.5m97.5 0h1.5M749 624.75h1.5M693.5 626.25h1.5m330 0h1.5M659 627.75h1.5m99 0h1.5M726.5 629.25h1.5m285 0h1.5M585.5 630.75h1.5M584 632.25h1.5m172.5 0h1.5M687.5 633.75h1.5M624.5 635.25h1.5m144 0h1.5m6 0h1.5m4.5 0h3M776 636.75h3m301.5 0h1.5M483.5 638.25h1.5m289.5 0h3m471 0h1.5M620 639.75h1.5m151.5 0h4.5m123 0h3m127.5 0h1.5m216 0h1.5M623 641.25h1.5m66 0h1.5m81 0h1.5m96 0h1.5m30 0h1.5m55.5 0h1.5M734 642.75h1.5m36 0h3M738.5 644.25h1.5m136.5 0h3m9 0h3m6 0h1.5m28.5 0h1.5m3 0h1.5m57 0h3m6 0h1.5m27 0h1.5m54 0h1.5m144 0h3M705.5 645.75h1.5m181.5 0h3m39 0h3m66 0h3m81 0h1.5m144 0h3m10.5 0h3M708.5 647.25h1.5m25.5 0h3m145.5 0h4.5m42 0h3m136.5 0h1.5m3 0h1.5m127.5 0h1.5m16.5 0h3m6 0h3m3 0h1.5m4.5 0h4.5M642.5 648.75h1.5m91.5 0h1.5m126 0h1.5m22.5 0h1.5m34.5 0h1.5m6 0h3m9 0h1.5m130.5 0h1.5m127.5 0h3m28.5 0h3m4.5 0h9M482 650.25h1.5m438 0h1.5m9 0h1.5m9 0h3m96 0h1.5m160.5 0h3m16.5 0h1.5m4.5 0h1.5m4.5 0h4.5m3 0h4.5m1.5 0h7.5M918.5 651.75h4.5m9 0h1.5m10.5 0h1.5m40.5 0h1.5m216 0h3m16.5 0h1.5m4.5 0h1.5m4.5 0h4.5m3 0h9m3 0h1.5M983 653.25h1.5m1.5 0h1.5m40.5 0h3m31.5 0h3m33 0h3m127.5 0h1.5m3 0h3m6 0h3M876.5 654.75h4.5m94.5 0h1.5m7.5 0h3m42 0h3m30 0h3m33 0h3m124.5 0h1.5m6 0h3m6 0h3m7.5 0h1.5m4.5 0h4.5M635 656.25h1.5m90 0h1.5m136.5 0h1.5m10.5 0h4.5m154.5 0h3m6 0h1.5m6 0h7.5m9 0h3m156 0h3m3 0h6m6 0h3m3 0h12M1035.5 657.75h3m6 0h1.5m6 0h7.5m9 0h3m156 0h1.5m3 0h4.5m9 0h3m3 0h13.5M666.5 659.25h1.5m213 0h1.5m153 0h3m25.5 0h7.5m145.5 0h1.5m15 0h3m16.5 0h9M1064 660.75h7.5m12 0h3m123 0h1.5m4.5 0h3m10.5 0h1.5m24 0h6M1053.5 662.25h1.5m10.5 0h3m1.5 0h1.5m25.5 0h3m52.5 0h1.5m55.5 0h3m3 0h3m1.5 0h1.5m36 0h1.5M678.5 663.75h1.5m373.5 0h1.5m46.5 0h3m46.5 0h4.5m54 0h3m3 0h3m36 0h3M1103 665.25h1.5m55.5 0h1.5m15 0h3m30 0h4.5M1154 666.75h3m1.5 0h4.5m13.5 0h1.5m31.5 0h6m1.5 0h1.5M1052 668.25h1.5m19.5 0h1.5m10.5 0h1.5m43.5 0h4.5m24 0h3M749 669.75h1.5m321 0h4.5m9 0h1.5m24 0h3m16.5 0h4.5m24 0h1.5m34.5 0h1.5M1055 671.25h4.5m58.5 0h1.5m9 0h3m6 0h3m7.5 0h1.5m31.5 0h1.5m19.5 0h1.5m9 0h3M1122.5 672.75h1.5m3 0h4.5m4.5 0h4.5m60 0h4.5m7.5 0h3M719 674.25h1.5m1.5 0h1.5m346.5 0h1.5m12 0h3m25.5 0h1.5m6 0h3m15 0h7.5m7.5 0h1.5m63 0h3M1083.5 675.75h1.5m34.5 0h3m15 0h7.5m6 0h1.5m13.5 0h1.5M750.5 677.25h1.5m343.5 0h3m19.5 0h4.5m1.5 0h3m4.5 0h3m33 0h3m1.5 0h1.5m10.5 0h1.5M1062.5 678.75h3m16.5 0h1.5m12 0h3m18 0h4.5m3 0h4.5m3 0h3m33 0h3M749 680.25h1.5m307.5 0h1.5m3 0h3m9 0h3m3 0h3m3 0h1.5m25.5 0h3m3 0h3m6 0h1.5m3 0h3m67.5 0h1.5M671 681.75h1.5m384 0h3m15 0h1.5m9 0h1.5m19.5 0h1.5m12 0h3m12 0h1.5m36 0h1.5m28.5 0h4.5M1067 683.25h1.5m39 0h1.5m7.5 0h3m15 0h3m63 0h1.5M1107.5 684.75h1.5m7.5 0h3m1.5 0h3m10.5 0h3m12 0h1.5M752 686.25h1.5m354 0h3m3 0h4.5m4.5 0h1.5m1.5 0h3m1.5 0h1.5m42 0h1.5M752 687.75h1.5m354 0h3m3 0h4.5m1.5 0h9m1.5 0h1.5m42 0h3M1119.5 689.25h9m15 0h3m9 0h3m13.5 0h4.5m15 0h1.5M726.5 690.75h1.5m397.5 0h1.5m7.5 0h3m36 0h1.5m16.5 0h1.5M1130 692.25h1.5m22.5 0h4.5m10.5 0h1.5M1154 693.75h4.5m3 0h3m3 0h3M608 695.25h1.5m523.5 0h1.5M1133 696.75h1.5M723.5 698.25h3M725 699.75h1.5M731 701.25h1.5M732.5 702.75h1.5M1038.5 729.75h3M953 731.25h1.5m85.5 0h3M755 732.75h1.5m27 0h1.5m168 0h1.5m75 0h1.5m10.5 0h1.5M945.5 737.25h3M947 738.75h1.5M945.5 740.25h3m24 0h1.5m25.5 0h3m13.5 0h1.5m12 0h1.5m3 0h3m6 0h1.5M945.5 741.75h3m45 0h1.5m4.5 0h4.5m4.5 0h1.5m6 0h1.5m1.5 0h3m7.5 0h1.5M951.5 743.25h3m45 0h3m6 0h6m10.5 0h3M951.5 744.75h3m37.5 0h1.5m6 0h1.5m6 0h4.5m13.5 0h3M1026.5 746.25h1.5M1212.5 750.75h1.5M1200.5 755.25h1.5M1200.5 756.75h3M1224.5 759.75h3M1224.5 761.25h1.5M1205 767.25h1.5M1196 771.75h1.5"/></g>
</g>
<path d="M1383.3 452.6L1392.4 447.5L1407.7 443L1425.2 444L1422.9 447L1407.7 451.6L1397 457L1381.8 459.8Z" fill="#1a71cf"/>
<path d="M1385 455L1395 450L1400 452L1390 457Z" fill="#f0aa00"/>
<path d="M1059 265.5L1067 260L1076 256.5L1074 261L1064 266.5Z" fill="#4d4d4d"/>
<path d="M1124 322L1128 320L1129 325L1125 326Z" fill="#b3b3b3"/>
<path d="M1133 316L1137 314L1138 318L1134 319Z" fill="#4d4d4d"/>
<path d="M1229 878L1238 872L1245 864L1249 857" fill="none" stroke="#1a71cf" stroke-width="2.5" stroke-dasharray="2 2.5"/>
<path d="M1215 876L1220 874L1226 875L1224 880L1217 880Z" fill="#f0aa00"/>
<path d="M1221 875L1226 875L1225 879L1222 879Z" fill="#1a71cf"/>
<path d="M1189 876L1192 876L1192 879L1189 879Z" fill="#1a71cf"/>
<path d="M1207 877L1210 876L1210 879L1207 879Z" fill="#4892a0"/>
<path d="M401 629L421 631" fill="none" stroke="#1a71cf" stroke-width="3" stroke-dasharray="2 2.5"/>
<path d="M407 628L414 628L414 631L407 631Z" fill="#f0aa00"/>
<path d="M439 645L445 647L446 650L441 649Z" fill="#1a71cf"/>
<path d="M439 655L445 661L443 663L438 657Z" fill="#1a71cf"/>
<path d="M418 649L422 649L422 653L418 653Z" fill="#f0aa00"/>
<path d="M430 644L432 644L432 646L430 646Z" fill="#1a71cf"/>
<path d="M1452 382L1470 372L1488 365L1502 360" fill="none" stroke="#1a71cf" stroke-width="2" stroke-dasharray="2 2.5"/>
<path d="M342 240L346 236" fill="none" stroke="#1a71cf" stroke-width="2" stroke-dasharray="2 2.5"/>
<g fill="none" stroke="#000" stroke-width="3.7" stroke-linejoin="round" stroke-linecap="round">
<path d="M352.5 235.5L932.5 235.5L932.5 226L942 226L944.5 240L962.5 246L975 244.5L987.5 247.5L994 254L1000 252.5L1010 260L1022.5 255L1032.5 259.5L1052.5 261L1035 269L1015 282.5L995 295L1000 293.5L1022.5 290L1027.5 295L1035 297.5L1055 287.5L1072.5 277.5L1090 275L1087.5 280L1075 290L1080 290L1097.5 300L1110 301L1125 296L1148.5 294.5L1150 301L1165 301L1169 310L1180 311.5L1180 317L1170 315.5L1152.5 312L1137.5 311.5L1122 314.5L1115 317L1105 327.5L1095 340L1084 353L1090 351L1100 338L1110 326L1114 320L1111 329L1103 341L1098 348L1092.5 365L1088.5 385L1090 405L1092.5 422.5L1097.5 430L1110 426L1117.5 415L1121 395L1115 370L1120 350L1128.5 337.5L1140 330L1147.5 322.5L1151 316.5L1165 322.5L1180 331L1185 339L1181 355L1172.5 370L1175 375L1185 367.5L1195 365L1200 377.5L1202 394L1197.5 405L1190 412.5L1185 422.5L1190 432.5L1200 435L1220 430L1240 422L1257 412.5L1272.8 399.8L1276.6 395.2L1272 389L1274.3 384.6L1282.7 383.8L1298 384.6L1304 386.9L1317.7 385.3L1326.9 380L1331.5 377L1333 367.8L1329 364.8L1339 357L1346.7 348L1354.3 342.7L1360.4 340.4L1430.5 339.8L1432.8 334.3L1439.7 332L1445 330.5L1449.6 328.2L1447.3 326.6L1454.2 320.5L1458 316L1457.2 308.4L1461.8 302.3L1462.6 295.4L1468.7 287.8L1479.3 275.6L1483.9 276.3L1484.7 282.4L1499.1 277.9L1505.2 280.2L1511.3 286.3L1511.3 319L1510.6 322.1L1516.7 325.1L1518.2 332.7L1525.1 336.6L1527.3 345.7L1522 351L1514.4 352.6L1502.2 357.1L1497.6 360.2L1490 360.2L1487 352.6L1483.9 355.6L1483.9 364.8L1477.8 367.8L1467.1 373.9L1459.5 375.4L1453.4 384.6L1448.8 391L1445 389L1448 396.8L1449.6 401.3L1443 409L1444.3 414.3L1450.4 418L1453.4 424L1456.5 425.7L1463 426.5L1465.6 422.7L1462 417.8L1458.5 418.5L1462 421L1461 424L1456 428L1453.4 428.8L1445.8 431.8L1436.6 431L1429 434.9L1422.9 436.4L1407.7 438.7L1398.5 438.7L1386.3 442.5L1381.8 447L1377.2 456.2L1372.6 459.3L1380.2 462.3L1381 468.4L1377.2 480.6L1372.6 489.8L1365 497.4L1360.4 500.4L1352.8 491.3L1346.7 480.6L1349.8 489.8L1355.9 500.4L1358.3 516.2L1352.6 529.7L1343.7 540.9L1339.2 549.9L1339.2 554.3L1342.6 565.6L1344.8 574.5L1348.2 585.7L1347 597L1334.7 605.9L1325.7 612.6L1314.5 610.4L1305.6 617.1L1296.6 630.6L1287.6 632.8L1285 636L1270 652.5L1255 665L1240 675L1230 690L1222.5 707.5L1220.7 717.2L1225.3 735.3L1231 753.4L1237.7 771.5L1243.4 789.6L1250.2 810L1253.6 823.6L1251.3 846.2L1247.9 855.3L1240 864.3L1231 865.5L1226.4 857.5L1221.9 848.5L1215 844L1212.8 834.9L1209.4 825.8L1206 817.9L1200.4 807.7L1197 796.4L1194.7 780.6L1195.8 764.7L1190.2 756.8L1181.1 746.6L1174.3 737.5L1167.5 733L1160.7 738.7L1154 736.4L1144.9 743.2L1138.1 744.3L1135.8 737.5L1129 730.8L1120 725L1102.5 721L1092.5 720L1095 727.5L1086 730L1083.8 715L1081 730L1070 727.5L1060 730L1047.5 737.5L1055 740L1052.5 750L1063.8 757.5L1055 762.5L1045 755L1037.5 760L1027.5 757.5L1015 752.5L1005 742.5L995 746L975 741L960 742.5L945 747.5L937.5 755L924.9 765.6L913 769L899.3 772.4L889 786L882.3 792.8L880 805L884.8 806L885.7 816.7L889 830.3L891.6 841.4L884 843.1L872 840.5L861.8 836.3L851.6 832L848.2 823.5L842.2 811.6L839.6 799.6L829.4 784.3L822.6 774.1L816.6 760.4L809 750.2L800.4 742.6L782.5 740L775 743.8L770 755L765 763.5L747.5 752.5L735 740L730 727.5L717.5 712.5L705 700L694 686L694 689.4L658.9 689.4L658.9 701.3L598.7 701.3L520 667L471 668L467.5 655L460 645L450 637.5L442.5 635L430 627.5L417.5 620L397.5 615L395 602.5L387.5 590L380 585L370 565L372.5 555L360 540L351 525L345 517.5L331 497.5L327.5 480L317.5 460L322.5 442.5L320 421L317 412.5L315 399L321 375L324 345L326 315L329 306.4L325.6 304.4L329 297.7L327 292.3L331 288.3L325.6 287L321.5 278.8L317.5 268L313.5 260L310.8 250.6L327 255.3L344.4 257.3L349 262L346 272L348 281L352 286L357 280L355 270L360 264L356 254L358 246L350 243Z"/>
<path d="M329 306.4L339 307L345.8 309L349.8 315L351 322L360.6 325.3L370 323.3L383.4 325.3L394.2 322.6L407.7 321.2L420 317.9L432 314.5L473.3 314.5M473.3 235.5L473.3 314.5L484 322.5L481 335L474 347.5L469 357.5L475 364L474 420M320 420L599.1 420M493 235.5L493 262.5L499 274L515 290L529 297.5L526 315L525 325L536 322.5L542.5 332.5L547.5 342.5L555 350L560 357.5L572.5 352.5L590 352L594 347.5L599.1 355M599.1 340.9L599.1 446.4M599.1 340.9L746.2 340.9M746.2 235.5L746.2 446.4M599.1 446.4L788.2 446.4L788.2 472.7L930 472.7M411.1 420L411.1 499.1L524 604.5M536.3 420L536.3 575L533.8 578.8L521.5 576.5L522 590L524 604.5L527.5 615L532.5 623.8L525 630L522.5 645L521 652.5L525 661L520 667M536.3 551.8L944.3 551.8M641.2 446.4L641.2 701.3M788.2 472.7L788.2 551.8M768.3 551.8L768.3 683.6M694 686L694 683.6L767 683.6M768.3 565L831.3 565L831.3 616.4L838.7 619.8L845.4 620.9L849.9 625.4L861 626.5L867.8 627.6L874.5 634.3L883.5 632.1L890.2 636.6L897 632.1L908.2 636.6L926.1 631L935.1 632.1L941.8 636.6L948.5 641.1L956.5 642.2L956.5 683.6L965 700L967.5 715L962.5 730L961 742.5M746.2 316.2L904 316.2M746.2 393.7L862.5 393.7L875 400L890 397.5L901 401L910 415L916 437.5L924 459L930 472.7L937.5 477.5L936 485L944.3 495L944.3 565L948.5 609.7L948.5 641.1M890 235.5L892.5 252.5L897.5 277.5L901 302.5L904 316.2L899 325L907 332.5L907 380.5L903 382L906 391L901 401M907 380.5L1015 380.5M924 457.3L1008.8 457.3L1013 463.8M944.3 565L1038.3 565L1033.6 578.2L1047.7 578.2M956.5 656.7L1017.5 656.7M995 295L994 310L982.5 317.5L981 327.5L985 332.5L984 345L990 351L1002.5 357.5L1012.5 365L1017.5 375L1015 380.5L1020 390L1022.5 400L1032.5 407L1039 417.5L1036 427.5L1022.5 437.5L1020 450L1011 460L1011 472.5L1020 487.5L1027.5 498.8L1037.5 502.5L1035 517.5L1045 527.5L1053.8 540L1056 550L1059.7 551.8L1056 560L1051 570L1047.7 578.2L1042.5 590L1037.5 600L1038.8 604.5L1032.5 612.5L1027.5 617.5L1020.3 625.4L1015.8 641.1L1017.5 656.7L1020.3 665.7L1022.5 675L1017.5 680L1012.5 692.5L1007.5 702.5L1008.8 710L1047.5 710L1046.2 722.5L1050 732.5L1052.5 737.5M1027.5 295L1040 305L1065 311L1082.5 317.5L1090 325L1091 335L1095 340M1032.5 406.8L1089 406.8M1093.5 428L1093.5 495L1091 510L1086 522.5L1082.8 530.8M1059.7 551.8L1075 546L1080 537.5L1082.8 530.8L1095 527.5L1105 530L1115 522.5L1127.5 525L1135 510L1142.5 505L1150.3 497L1162.5 497.5L1175 506L1190 507.5L1199 515L1205 502L1218 490L1232 474L1235 460L1240.6 456M1097.5 426.5L1150.7 426.5L1185 424M1150.7 426.5L1150.7 497M1240.6 421.5L1240.6 480.1M1240.6 480.1L1342 480.1M1256.8 412.8L1256.8 420L1351.3 420M1351.3 420L1360.4 430.3L1362 438.7L1355.9 444L1357.4 448.6L1353.6 454.7L1355.9 459.3L1363.5 467.7L1355.9 474.5L1346.7 479M1362 438.7L1381.8 447M1390.9 340.4L1390.2 346.5L1393.2 354.1L1390.2 364.8L1390.9 377L1394 381.5L1396.3 399.8L1393.2 418L1390.2 438.7L1384 444M1431.3 339.6L1429 346.5L1430.5 352.6L1421.4 358.7L1419.1 367.8L1412.3 378.5L1410.7 399.8M1439.7 331.2L1442 370.9L1444.3 384.6L1447.3 391M1396.3 399.8L1438.2 401.3L1444.3 398.3L1448 396.8M1393.2 418L1435.1 418L1436.6 431M1426 418L1426 435.6M1342 480.1L1345.2 512.6L1357.4 512.6M1262.4 480.1L1262.4 493.8L1270 487L1277.6 482L1289.7 482.5L1294 488L1299 491L1306 496L1313.7 501.7L1309 512L1318 520L1331 524.5M1210.3 539.8L1224.8 544.3L1245 536.4L1254 523L1261.8 510.6L1268.6 512.9L1278.7 502.8L1287.6 490.4L1299 491M1199 515L1202.4 529.7L1210.3 539.8M1210.3 539.8L1192.5 555L1174.2 562.5M1051 570L1082.5 565L1082.5 561.5L1174.2 562.5L1339 563M1038.8 604.5L1160 604.5L1186 604.5M1163.8 603.5L1180 590L1200 580L1216 563M1186 604.5L1203 599.8L1230 599.5L1240 608.8L1260 610L1285 632.5M1186 604.5L1182.5 612.5L1195 625L1210 645L1220 657.5L1230 672.5L1240 676M1080 604.5L1075 710L1076 727.5M1136 604.5L1145 672.5L1146 690L1145 707.5L1147.5 716M1095 725L1092.5 710L1145.5 710M1147.5 716L1207.2 720.6L1208.3 726.2L1211.7 716L1220.7 717.2"/>
<path stroke-width="5" d="M1338 483L1328 491L1331 500L1325 507L1330 515L1324 521L1331 524.5L1322 531L1333 537L1324 544L1335 551L1333 557M1341 484L1338 495L1343 506L1337 519L1342 531L1339 549M1339 566L1326 570L1332 578L1322 584L1336 590L1320 597L1330 603L1316 606M1343 574L1338 584L1342 596M1035 728L1042 724L1051 729L1046 737L1036 735L1035 728M1192 788L1201 791L1200 797L1195 795L1196 791M1204 815L1209 819L1207 822M359 523L364 530L362 537M1383.3 452.6L1392.4 447.5L1407.7 443L1425.2 444L1422.9 447L1407.7 451.6L1397 457L1381.8 459.8L1383.3 452.6M1442 437L1447 438M1460 437L1464 438.5"/>
<path stroke-width="7.5" d="M352 238L350 243L356 244L358 250L361 258L364.5 262L360 268L361 276L356 283L350 286.5L346 281L349 274L353 268L351 260L347 256L346 247L344 243"/>
</g>
</svg></body></html>
